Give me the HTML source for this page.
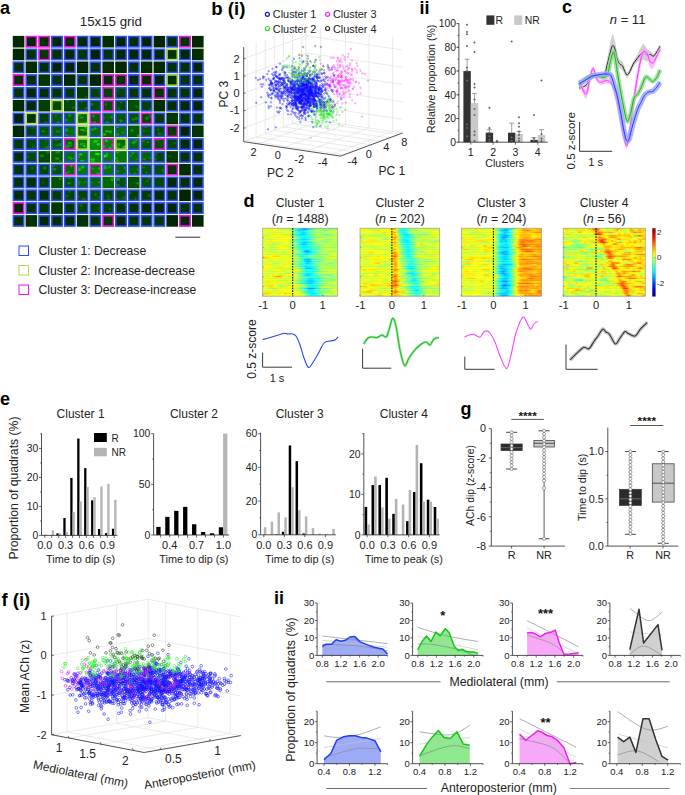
<!DOCTYPE html>
<html><head><meta charset="utf-8"><style>
html,body{margin:0;padding:0;background:#fff;}
svg{display:block;}
text{font-family:"Liberation Sans",sans-serif;}
</style></head><body>
<svg width="685" height="795" viewBox="0 0 685 795">
<defs><filter id="bl1" x="-10%" y="-10%" width="120%" height="120%"><feGaussianBlur stdDeviation="0.7"/></filter><clipPath id="gclip"><path d="M12.8 35.9h11.6v11.6h-11.6zM25.6 35.9h11.6v11.6h-11.6zM38.4 35.9h11.6v11.6h-11.6zM51.2 35.9h11.6v11.6h-11.6zM64.0 35.9h11.6v11.6h-11.6zM76.8 35.9h11.6v11.6h-11.6zM89.6 35.9h11.6v11.6h-11.6zM102.4 35.9h11.6v11.6h-11.6zM115.2 35.9h11.6v11.6h-11.6zM128.0 35.9h11.6v11.6h-11.6zM140.8 35.9h11.6v11.6h-11.6zM153.6 35.9h11.6v11.6h-11.6zM166.4 35.9h11.6v11.6h-11.6zM179.2 35.9h11.6v11.6h-11.6zM192.0 35.9h11.6v11.6h-11.6zM12.8 48.7h11.6v11.6h-11.6zM25.6 48.7h11.6v11.6h-11.6zM38.4 48.7h11.6v11.6h-11.6zM51.2 48.7h11.6v11.6h-11.6zM64.0 48.7h11.6v11.6h-11.6zM76.8 48.7h11.6v11.6h-11.6zM89.6 48.7h11.6v11.6h-11.6zM102.4 48.7h11.6v11.6h-11.6zM115.2 48.7h11.6v11.6h-11.6zM128.0 48.7h11.6v11.6h-11.6zM140.8 48.7h11.6v11.6h-11.6zM153.6 48.7h11.6v11.6h-11.6zM166.4 48.7h11.6v11.6h-11.6zM179.2 48.7h11.6v11.6h-11.6zM192.0 48.7h11.6v11.6h-11.6zM12.8 61.5h11.6v11.6h-11.6zM25.6 61.5h11.6v11.6h-11.6zM38.4 61.5h11.6v11.6h-11.6zM51.2 61.5h11.6v11.6h-11.6zM64.0 61.5h11.6v11.6h-11.6zM76.8 61.5h11.6v11.6h-11.6zM89.6 61.5h11.6v11.6h-11.6zM102.4 61.5h11.6v11.6h-11.6zM115.2 61.5h11.6v11.6h-11.6zM128.0 61.5h11.6v11.6h-11.6zM140.8 61.5h11.6v11.6h-11.6zM153.6 61.5h11.6v11.6h-11.6zM166.4 61.5h11.6v11.6h-11.6zM179.2 61.5h11.6v11.6h-11.6zM192.0 61.5h11.6v11.6h-11.6zM12.8 74.3h11.6v11.6h-11.6zM25.6 74.3h11.6v11.6h-11.6zM38.4 74.3h11.6v11.6h-11.6zM51.2 74.3h11.6v11.6h-11.6zM64.0 74.3h11.6v11.6h-11.6zM76.8 74.3h11.6v11.6h-11.6zM89.6 74.3h11.6v11.6h-11.6zM102.4 74.3h11.6v11.6h-11.6zM115.2 74.3h11.6v11.6h-11.6zM128.0 74.3h11.6v11.6h-11.6zM140.8 74.3h11.6v11.6h-11.6zM153.6 74.3h11.6v11.6h-11.6zM166.4 74.3h11.6v11.6h-11.6zM179.2 74.3h11.6v11.6h-11.6zM192.0 74.3h11.6v11.6h-11.6zM12.8 87.1h11.6v11.6h-11.6zM25.6 87.1h11.6v11.6h-11.6zM38.4 87.1h11.6v11.6h-11.6zM51.2 87.1h11.6v11.6h-11.6zM64.0 87.1h11.6v11.6h-11.6zM76.8 87.1h11.6v11.6h-11.6zM89.6 87.1h11.6v11.6h-11.6zM102.4 87.1h11.6v11.6h-11.6zM115.2 87.1h11.6v11.6h-11.6zM128.0 87.1h11.6v11.6h-11.6zM140.8 87.1h11.6v11.6h-11.6zM153.6 87.1h11.6v11.6h-11.6zM166.4 87.1h11.6v11.6h-11.6zM179.2 87.1h11.6v11.6h-11.6zM192.0 87.1h11.6v11.6h-11.6zM12.8 99.9h11.6v11.6h-11.6zM25.6 99.9h11.6v11.6h-11.6zM38.4 99.9h11.6v11.6h-11.6zM51.2 99.9h11.6v11.6h-11.6zM64.0 99.9h11.6v11.6h-11.6zM76.8 99.9h11.6v11.6h-11.6zM89.6 99.9h11.6v11.6h-11.6zM102.4 99.9h11.6v11.6h-11.6zM115.2 99.9h11.6v11.6h-11.6zM128.0 99.9h11.6v11.6h-11.6zM140.8 99.9h11.6v11.6h-11.6zM153.6 99.9h11.6v11.6h-11.6zM166.4 99.9h11.6v11.6h-11.6zM179.2 99.9h11.6v11.6h-11.6zM192.0 99.9h11.6v11.6h-11.6zM12.8 112.7h11.6v11.6h-11.6zM25.6 112.7h11.6v11.6h-11.6zM38.4 112.7h11.6v11.6h-11.6zM51.2 112.7h11.6v11.6h-11.6zM64.0 112.7h11.6v11.6h-11.6zM76.8 112.7h11.6v11.6h-11.6zM89.6 112.7h11.6v11.6h-11.6zM102.4 112.7h11.6v11.6h-11.6zM115.2 112.7h11.6v11.6h-11.6zM128.0 112.7h11.6v11.6h-11.6zM140.8 112.7h11.6v11.6h-11.6zM153.6 112.7h11.6v11.6h-11.6zM166.4 112.7h11.6v11.6h-11.6zM179.2 112.7h11.6v11.6h-11.6zM192.0 112.7h11.6v11.6h-11.6zM12.8 125.5h11.6v11.6h-11.6zM25.6 125.5h11.6v11.6h-11.6zM38.4 125.5h11.6v11.6h-11.6zM51.2 125.5h11.6v11.6h-11.6zM64.0 125.5h11.6v11.6h-11.6zM76.8 125.5h11.6v11.6h-11.6zM89.6 125.5h11.6v11.6h-11.6zM102.4 125.5h11.6v11.6h-11.6zM115.2 125.5h11.6v11.6h-11.6zM128.0 125.5h11.6v11.6h-11.6zM140.8 125.5h11.6v11.6h-11.6zM153.6 125.5h11.6v11.6h-11.6zM166.4 125.5h11.6v11.6h-11.6zM179.2 125.5h11.6v11.6h-11.6zM192.0 125.5h11.6v11.6h-11.6zM12.8 138.3h11.6v11.6h-11.6zM25.6 138.3h11.6v11.6h-11.6zM38.4 138.3h11.6v11.6h-11.6zM51.2 138.3h11.6v11.6h-11.6zM64.0 138.3h11.6v11.6h-11.6zM76.8 138.3h11.6v11.6h-11.6zM89.6 138.3h11.6v11.6h-11.6zM102.4 138.3h11.6v11.6h-11.6zM115.2 138.3h11.6v11.6h-11.6zM128.0 138.3h11.6v11.6h-11.6zM140.8 138.3h11.6v11.6h-11.6zM153.6 138.3h11.6v11.6h-11.6zM166.4 138.3h11.6v11.6h-11.6zM179.2 138.3h11.6v11.6h-11.6zM192.0 138.3h11.6v11.6h-11.6zM12.8 151.1h11.6v11.6h-11.6zM25.6 151.1h11.6v11.6h-11.6zM38.4 151.1h11.6v11.6h-11.6zM51.2 151.1h11.6v11.6h-11.6zM64.0 151.1h11.6v11.6h-11.6zM76.8 151.1h11.6v11.6h-11.6zM89.6 151.1h11.6v11.6h-11.6zM102.4 151.1h11.6v11.6h-11.6zM115.2 151.1h11.6v11.6h-11.6zM128.0 151.1h11.6v11.6h-11.6zM140.8 151.1h11.6v11.6h-11.6zM153.6 151.1h11.6v11.6h-11.6zM166.4 151.1h11.6v11.6h-11.6zM179.2 151.1h11.6v11.6h-11.6zM192.0 151.1h11.6v11.6h-11.6zM12.8 163.9h11.6v11.6h-11.6zM25.6 163.9h11.6v11.6h-11.6zM38.4 163.9h11.6v11.6h-11.6zM51.2 163.9h11.6v11.6h-11.6zM64.0 163.9h11.6v11.6h-11.6zM76.8 163.9h11.6v11.6h-11.6zM89.6 163.9h11.6v11.6h-11.6zM102.4 163.9h11.6v11.6h-11.6zM115.2 163.9h11.6v11.6h-11.6zM128.0 163.9h11.6v11.6h-11.6zM140.8 163.9h11.6v11.6h-11.6zM153.6 163.9h11.6v11.6h-11.6zM166.4 163.9h11.6v11.6h-11.6zM179.2 163.9h11.6v11.6h-11.6zM192.0 163.9h11.6v11.6h-11.6zM12.8 176.7h11.6v11.6h-11.6zM25.6 176.7h11.6v11.6h-11.6zM38.4 176.7h11.6v11.6h-11.6zM51.2 176.7h11.6v11.6h-11.6zM64.0 176.7h11.6v11.6h-11.6zM76.8 176.7h11.6v11.6h-11.6zM89.6 176.7h11.6v11.6h-11.6zM102.4 176.7h11.6v11.6h-11.6zM115.2 176.7h11.6v11.6h-11.6zM128.0 176.7h11.6v11.6h-11.6zM140.8 176.7h11.6v11.6h-11.6zM153.6 176.7h11.6v11.6h-11.6zM166.4 176.7h11.6v11.6h-11.6zM179.2 176.7h11.6v11.6h-11.6zM192.0 176.7h11.6v11.6h-11.6zM12.8 189.5h11.6v11.6h-11.6zM25.6 189.5h11.6v11.6h-11.6zM38.4 189.5h11.6v11.6h-11.6zM51.2 189.5h11.6v11.6h-11.6zM64.0 189.5h11.6v11.6h-11.6zM76.8 189.5h11.6v11.6h-11.6zM89.6 189.5h11.6v11.6h-11.6zM102.4 189.5h11.6v11.6h-11.6zM115.2 189.5h11.6v11.6h-11.6zM128.0 189.5h11.6v11.6h-11.6zM140.8 189.5h11.6v11.6h-11.6zM153.6 189.5h11.6v11.6h-11.6zM166.4 189.5h11.6v11.6h-11.6zM179.2 189.5h11.6v11.6h-11.6zM192.0 189.5h11.6v11.6h-11.6zM12.8 202.3h11.6v11.6h-11.6zM25.6 202.3h11.6v11.6h-11.6zM38.4 202.3h11.6v11.6h-11.6zM51.2 202.3h11.6v11.6h-11.6zM64.0 202.3h11.6v11.6h-11.6zM76.8 202.3h11.6v11.6h-11.6zM89.6 202.3h11.6v11.6h-11.6zM102.4 202.3h11.6v11.6h-11.6zM115.2 202.3h11.6v11.6h-11.6zM128.0 202.3h11.6v11.6h-11.6zM140.8 202.3h11.6v11.6h-11.6zM153.6 202.3h11.6v11.6h-11.6zM166.4 202.3h11.6v11.6h-11.6zM179.2 202.3h11.6v11.6h-11.6zM192.0 202.3h11.6v11.6h-11.6zM12.8 215.1h11.6v11.6h-11.6zM25.6 215.1h11.6v11.6h-11.6zM38.4 215.1h11.6v11.6h-11.6zM51.2 215.1h11.6v11.6h-11.6zM64.0 215.1h11.6v11.6h-11.6zM76.8 215.1h11.6v11.6h-11.6zM89.6 215.1h11.6v11.6h-11.6zM102.4 215.1h11.6v11.6h-11.6zM115.2 215.1h11.6v11.6h-11.6zM128.0 215.1h11.6v11.6h-11.6zM140.8 215.1h11.6v11.6h-11.6zM153.6 215.1h11.6v11.6h-11.6zM166.4 215.1h11.6v11.6h-11.6zM179.2 215.1h11.6v11.6h-11.6zM192.0 215.1h11.6v11.6h-11.6z"/></clipPath><marker id="mg0" markerWidth="3.4" markerHeight="3.4" refX="1.7" refY="1.7" markerUnits="userSpaceOnUse" overflow="visible"><circle cx="1.7" cy="1.7" r="0.75" fill="none" stroke="#28e828" stroke-width="0.45" opacity="0.9"/></marker><marker id="mb1" markerWidth="3.4" markerHeight="3.4" refX="1.7" refY="1.7" markerUnits="userSpaceOnUse" overflow="visible"><circle cx="1.7" cy="1.7" r="0.75" fill="none" stroke="#1010ff" stroke-width="0.45" opacity="1"/></marker><marker id="mg1" markerWidth="3.4" markerHeight="3.4" refX="1.7" refY="1.7" markerUnits="userSpaceOnUse" overflow="visible"><circle cx="1.7" cy="1.7" r="0.75" fill="none" stroke="#28e828" stroke-width="0.45" opacity="0.9"/></marker><marker id="mm1" markerWidth="3.4" markerHeight="3.4" refX="1.7" refY="1.7" markerUnits="userSpaceOnUse" overflow="visible"><circle cx="1.7" cy="1.7" r="0.75" fill="none" stroke="#ff24ff" stroke-width="0.45" opacity="0.85"/></marker><marker id="mk1" markerWidth="3.4" markerHeight="3.4" refX="1.7" refY="1.7" markerUnits="userSpaceOnUse" overflow="visible"><circle cx="1.7" cy="1.7" r="0.75" fill="none" stroke="#444" stroke-width="0.45" opacity="1"/></marker><linearGradient id="h1"><stop offset="0.0%" stop-color="#efff0f"/><stop offset="16.0%" stop-color="#fffe00"/><stop offset="28.0%" stop-color="#9dff61"/><stop offset="36.0%" stop-color="#c3ff3b"/><stop offset="50.0%" stop-color="#00e6ff"/><stop offset="56.0%" stop-color="#008bff"/><stop offset="62.0%" stop-color="#00e6ff"/><stop offset="72.0%" stop-color="#9cff62"/><stop offset="94.0%" stop-color="#71ff8d"/><stop offset="100.0%" stop-color="#86ff78"/></linearGradient><linearGradient id="h2"><stop offset="0.0%" stop-color="#c6ff38"/><stop offset="10.0%" stop-color="#fbff03"/><stop offset="12.0%" stop-color="#d4ff2a"/><stop offset="16.0%" stop-color="#fffa00"/><stop offset="32.0%" stop-color="#f6ff08"/><stop offset="38.0%" stop-color="#abff53"/><stop offset="44.0%" stop-color="#15ffe9"/><stop offset="46.0%" stop-color="#00fdff"/><stop offset="48.0%" stop-color="#00c8ff"/><stop offset="54.0%" stop-color="#00e7ff"/><stop offset="60.0%" stop-color="#20ffde"/><stop offset="70.0%" stop-color="#c1ff3d"/><stop offset="74.0%" stop-color="#9dff61"/><stop offset="76.0%" stop-color="#b4ff4a"/><stop offset="82.0%" stop-color="#76ff88"/><stop offset="100.0%" stop-color="#e0ff1e"/></linearGradient><linearGradient id="h3"><stop offset="0.0%" stop-color="#fffe00"/><stop offset="22.0%" stop-color="#b8ff46"/><stop offset="34.0%" stop-color="#f3ff0b"/><stop offset="42.0%" stop-color="#9dff61"/><stop offset="50.0%" stop-color="#00fbff"/><stop offset="54.0%" stop-color="#00d7ff"/><stop offset="58.0%" stop-color="#00fcff"/><stop offset="62.0%" stop-color="#4bffb3"/><stop offset="76.0%" stop-color="#aeff50"/><stop offset="80.0%" stop-color="#a2ff5c"/><stop offset="90.0%" stop-color="#d9ff25"/><stop offset="100.0%" stop-color="#b7ff47"/></linearGradient><linearGradient id="h4"><stop offset="0.0%" stop-color="#c4ff3a"/><stop offset="12.0%" stop-color="#c1ff3d"/><stop offset="22.0%" stop-color="#fff200"/><stop offset="32.0%" stop-color="#a7ff57"/><stop offset="36.0%" stop-color="#c4ff3a"/><stop offset="40.0%" stop-color="#44ffba"/><stop offset="48.0%" stop-color="#00f9ff"/><stop offset="54.0%" stop-color="#00c2ff"/><stop offset="60.0%" stop-color="#00fbff"/><stop offset="66.0%" stop-color="#67ff97"/><stop offset="74.0%" stop-color="#9eff60"/><stop offset="78.0%" stop-color="#a7ff57"/><stop offset="82.0%" stop-color="#6fff8f"/><stop offset="86.0%" stop-color="#6dff91"/><stop offset="90.0%" stop-color="#7fff7f"/><stop offset="92.0%" stop-color="#b5ff49"/><stop offset="94.0%" stop-color="#91ff6d"/><stop offset="100.0%" stop-color="#adff51"/></linearGradient><linearGradient id="h5"><stop offset="0.0%" stop-color="#ffe400"/><stop offset="6.0%" stop-color="#c0ff3e"/><stop offset="16.0%" stop-color="#fdff01"/><stop offset="36.0%" stop-color="#ffe500"/><stop offset="48.0%" stop-color="#08fff6"/><stop offset="50.0%" stop-color="#00f2ff"/><stop offset="56.0%" stop-color="#0dfff1"/><stop offset="60.0%" stop-color="#57ffa7"/><stop offset="72.0%" stop-color="#acff52"/><stop offset="86.0%" stop-color="#8fff6f"/><stop offset="100.0%" stop-color="#b6ff48"/></linearGradient><linearGradient id="h6"><stop offset="0.0%" stop-color="#ffee00"/><stop offset="14.0%" stop-color="#f9ff05"/><stop offset="20.0%" stop-color="#c2ff3c"/><stop offset="26.0%" stop-color="#fff800"/><stop offset="36.0%" stop-color="#fdff01"/><stop offset="48.0%" stop-color="#7cff82"/><stop offset="52.0%" stop-color="#0fffef"/><stop offset="56.0%" stop-color="#00f1ff"/><stop offset="60.0%" stop-color="#07fff7"/><stop offset="62.0%" stop-color="#36ffc8"/><stop offset="70.0%" stop-color="#73ff8b"/><stop offset="86.0%" stop-color="#a7ff57"/><stop offset="90.0%" stop-color="#deff20"/><stop offset="100.0%" stop-color="#c5ff39"/></linearGradient><linearGradient id="h7"><stop offset="0.0%" stop-color="#e6ff18"/><stop offset="8.0%" stop-color="#a7ff57"/><stop offset="18.0%" stop-color="#fff100"/><stop offset="30.0%" stop-color="#e4ff1a"/><stop offset="36.0%" stop-color="#fff300"/><stop offset="48.0%" stop-color="#00fffe"/><stop offset="56.0%" stop-color="#00d3ff"/><stop offset="60.0%" stop-color="#00f0ff"/><stop offset="68.0%" stop-color="#66ff98"/><stop offset="74.0%" stop-color="#e2ff1c"/><stop offset="78.0%" stop-color="#e0ff1e"/><stop offset="88.0%" stop-color="#85ff79"/><stop offset="92.0%" stop-color="#a7ff57"/><stop offset="100.0%" stop-color="#92ff6c"/></linearGradient><linearGradient id="h8"><stop offset="0.0%" stop-color="#cbff33"/><stop offset="2.0%" stop-color="#baff44"/><stop offset="8.0%" stop-color="#fffa00"/><stop offset="10.0%" stop-color="#ffe100"/><stop offset="14.0%" stop-color="#f9ff05"/><stop offset="34.0%" stop-color="#fdff01"/><stop offset="42.0%" stop-color="#57ffa7"/><stop offset="54.0%" stop-color="#00f8ff"/><stop offset="58.0%" stop-color="#00faff"/><stop offset="64.0%" stop-color="#7cff82"/><stop offset="70.0%" stop-color="#b5ff49"/><stop offset="84.0%" stop-color="#81ff7d"/><stop offset="96.0%" stop-color="#d4ff2a"/><stop offset="100.0%" stop-color="#a4ff5a"/></linearGradient><linearGradient id="h9"><stop offset="0.0%" stop-color="#ccff32"/><stop offset="8.0%" stop-color="#fff700"/><stop offset="24.0%" stop-color="#b7ff47"/><stop offset="30.0%" stop-color="#f9ff05"/><stop offset="34.0%" stop-color="#f8ff06"/><stop offset="36.0%" stop-color="#f0ff0e"/><stop offset="38.0%" stop-color="#a8ff56"/><stop offset="44.0%" stop-color="#7aff84"/><stop offset="52.0%" stop-color="#00f4ff"/><stop offset="56.0%" stop-color="#00c6ff"/><stop offset="64.0%" stop-color="#05fff9"/><stop offset="74.0%" stop-color="#b7ff47"/><stop offset="84.0%" stop-color="#8fff6f"/><stop offset="88.0%" stop-color="#b9ff45"/><stop offset="100.0%" stop-color="#9eff60"/></linearGradient><linearGradient id="h10"><stop offset="0.0%" stop-color="#dfff1f"/><stop offset="14.0%" stop-color="#9eff60"/><stop offset="26.0%" stop-color="#e0ff1e"/><stop offset="34.0%" stop-color="#ddff21"/><stop offset="38.0%" stop-color="#96ff68"/><stop offset="44.0%" stop-color="#8eff70"/><stop offset="50.0%" stop-color="#00eaff"/><stop offset="54.0%" stop-color="#00aeff"/><stop offset="60.0%" stop-color="#00f3ff"/><stop offset="62.0%" stop-color="#26ffd8"/><stop offset="68.0%" stop-color="#71ff8d"/><stop offset="74.0%" stop-color="#6cff92"/><stop offset="82.0%" stop-color="#b8ff46"/><stop offset="92.0%" stop-color="#a7ff57"/><stop offset="94.0%" stop-color="#c1ff3d"/><stop offset="96.0%" stop-color="#95ff69"/><stop offset="100.0%" stop-color="#a1ff5d"/></linearGradient><linearGradient id="h11"><stop offset="0.0%" stop-color="#f5ff09"/><stop offset="12.0%" stop-color="#bcff42"/><stop offset="22.0%" stop-color="#fffb00"/><stop offset="32.0%" stop-color="#c7ff37"/><stop offset="36.0%" stop-color="#d9ff25"/><stop offset="52.0%" stop-color="#00faff"/><stop offset="60.0%" stop-color="#00f6ff"/><stop offset="66.0%" stop-color="#4bffb3"/><stop offset="76.0%" stop-color="#71ff8d"/><stop offset="86.0%" stop-color="#d5ff29"/><stop offset="94.0%" stop-color="#99ff65"/><stop offset="100.0%" stop-color="#a5ff59"/></linearGradient><linearGradient id="h12"><stop offset="0.0%" stop-color="#e1ff1d"/><stop offset="8.0%" stop-color="#e2ff1c"/><stop offset="12.0%" stop-color="#a4ff5a"/><stop offset="26.0%" stop-color="#fdff01"/><stop offset="34.0%" stop-color="#fff500"/><stop offset="48.0%" stop-color="#33ffcb"/><stop offset="54.0%" stop-color="#00f2ff"/><stop offset="58.0%" stop-color="#00fdff"/><stop offset="70.0%" stop-color="#6cff92"/><stop offset="86.0%" stop-color="#a8ff56"/><stop offset="100.0%" stop-color="#98ff66"/></linearGradient><linearGradient id="h13"><stop offset="0.0%" stop-color="#b3ff4b"/><stop offset="4.0%" stop-color="#b3ff4b"/><stop offset="6.0%" stop-color="#e1ff1d"/><stop offset="16.0%" stop-color="#b5ff49"/><stop offset="30.0%" stop-color="#eaff14"/><stop offset="36.0%" stop-color="#d6ff28"/><stop offset="44.0%" stop-color="#89ff75"/><stop offset="52.0%" stop-color="#00feff"/><stop offset="68.0%" stop-color="#0dfff1"/><stop offset="80.0%" stop-color="#aaff54"/><stop offset="88.0%" stop-color="#e6ff18"/><stop offset="94.0%" stop-color="#e2ff1c"/><stop offset="100.0%" stop-color="#a2ff5c"/></linearGradient><linearGradient id="h14"><stop offset="0.0%" stop-color="#dfff1f"/><stop offset="14.0%" stop-color="#bbff43"/><stop offset="22.0%" stop-color="#f3ff0b"/><stop offset="30.0%" stop-color="#b6ff48"/><stop offset="36.0%" stop-color="#e6ff18"/><stop offset="50.0%" stop-color="#6fff8f"/><stop offset="54.0%" stop-color="#00f3ff"/><stop offset="56.0%" stop-color="#00b5ff"/><stop offset="60.0%" stop-color="#0084ff"/><stop offset="62.0%" stop-color="#00c5ff"/><stop offset="66.0%" stop-color="#21ffdd"/><stop offset="82.0%" stop-color="#c7ff37"/><stop offset="92.0%" stop-color="#88ff76"/><stop offset="100.0%" stop-color="#d0ff2e"/></linearGradient><linearGradient id="h15"><stop offset="0.0%" stop-color="#d8ff26"/><stop offset="6.0%" stop-color="#fbff03"/><stop offset="10.0%" stop-color="#cdff31"/><stop offset="12.0%" stop-color="#e4ff1a"/><stop offset="16.0%" stop-color="#bdff41"/><stop offset="20.0%" stop-color="#e9ff15"/><stop offset="28.0%" stop-color="#bdff41"/><stop offset="36.0%" stop-color="#f8ff06"/><stop offset="50.0%" stop-color="#66ff98"/><stop offset="54.0%" stop-color="#12ffec"/><stop offset="58.0%" stop-color="#00e7ff"/><stop offset="62.0%" stop-color="#00dbff"/><stop offset="66.0%" stop-color="#11ffed"/><stop offset="72.0%" stop-color="#6aff94"/><stop offset="86.0%" stop-color="#c0ff3e"/><stop offset="98.0%" stop-color="#ccff32"/><stop offset="100.0%" stop-color="#a9ff55"/></linearGradient><linearGradient id="h16"><stop offset="0.0%" stop-color="#d6ff28"/><stop offset="8.0%" stop-color="#b4ff4a"/><stop offset="12.0%" stop-color="#e6ff18"/><stop offset="30.0%" stop-color="#b2ff4c"/><stop offset="36.0%" stop-color="#e7ff17"/><stop offset="46.0%" stop-color="#35ffc9"/><stop offset="50.0%" stop-color="#39ffc5"/><stop offset="56.0%" stop-color="#00fcff"/><stop offset="58.0%" stop-color="#00e4ff"/><stop offset="62.0%" stop-color="#00fffe"/><stop offset="72.0%" stop-color="#7aff84"/><stop offset="84.0%" stop-color="#7dff81"/><stop offset="92.0%" stop-color="#bcff42"/><stop offset="94.0%" stop-color="#f3ff0b"/><stop offset="100.0%" stop-color="#caff34"/></linearGradient><linearGradient id="h17"><stop offset="0.0%" stop-color="#ffed00"/><stop offset="12.0%" stop-color="#faff04"/><stop offset="14.0%" stop-color="#ffd900"/><stop offset="22.0%" stop-color="#ffd700"/><stop offset="24.0%" stop-color="#edff11"/><stop offset="40.0%" stop-color="#dfff1f"/><stop offset="46.0%" stop-color="#97ff67"/><stop offset="52.0%" stop-color="#08fff6"/><stop offset="58.0%" stop-color="#38ffc6"/><stop offset="62.0%" stop-color="#8dff71"/><stop offset="72.0%" stop-color="#70ff8e"/><stop offset="84.0%" stop-color="#deff20"/><stop offset="92.0%" stop-color="#a8ff56"/><stop offset="100.0%" stop-color="#c8ff36"/></linearGradient><linearGradient id="h18"><stop offset="0.0%" stop-color="#ffb600"/><stop offset="12.0%" stop-color="#fffe00"/><stop offset="30.0%" stop-color="#e4ff1a"/><stop offset="36.0%" stop-color="#fffa00"/><stop offset="38.0%" stop-color="#cdff31"/><stop offset="50.0%" stop-color="#7eff80"/><stop offset="56.0%" stop-color="#23ffdb"/><stop offset="64.0%" stop-color="#41ffbd"/><stop offset="70.0%" stop-color="#a4ff5a"/><stop offset="80.0%" stop-color="#81ff7d"/><stop offset="92.0%" stop-color="#f2ff0c"/><stop offset="100.0%" stop-color="#efff0f"/></linearGradient><linearGradient id="h19"><stop offset="0.0%" stop-color="#faff04"/><stop offset="6.0%" stop-color="#f6ff08"/><stop offset="8.0%" stop-color="#caff34"/><stop offset="18.0%" stop-color="#fffa00"/><stop offset="20.0%" stop-color="#daff24"/><stop offset="28.0%" stop-color="#c2ff3c"/><stop offset="32.0%" stop-color="#f3ff0b"/><stop offset="40.0%" stop-color="#edff11"/><stop offset="48.0%" stop-color="#94ff6a"/><stop offset="52.0%" stop-color="#20ffde"/><stop offset="54.0%" stop-color="#13ffeb"/><stop offset="56.0%" stop-color="#00c6ff"/><stop offset="60.0%" stop-color="#00afff"/><stop offset="64.0%" stop-color="#00d4ff"/><stop offset="66.0%" stop-color="#11ffed"/><stop offset="90.0%" stop-color="#baff44"/><stop offset="94.0%" stop-color="#baff44"/><stop offset="100.0%" stop-color="#7fff7f"/></linearGradient><linearGradient id="h20"><stop offset="0.0%" stop-color="#c3ff3b"/><stop offset="2.0%" stop-color="#e1ff1d"/><stop offset="6.0%" stop-color="#b9ff45"/><stop offset="32.0%" stop-color="#e5ff19"/><stop offset="42.0%" stop-color="#7fff7f"/><stop offset="50.0%" stop-color="#60ff9e"/><stop offset="54.0%" stop-color="#2bffd3"/><stop offset="56.0%" stop-color="#00d5ff"/><stop offset="62.0%" stop-color="#00b3ff"/><stop offset="66.0%" stop-color="#1affe4"/><stop offset="72.0%" stop-color="#65ff99"/><stop offset="76.0%" stop-color="#4dffb1"/><stop offset="86.0%" stop-color="#e4ff1a"/><stop offset="98.0%" stop-color="#8dff71"/><stop offset="100.0%" stop-color="#a5ff59"/></linearGradient><linearGradient id="h21"><stop offset="0.0%" stop-color="#daff24"/><stop offset="10.0%" stop-color="#fcff02"/><stop offset="14.0%" stop-color="#beff40"/><stop offset="18.0%" stop-color="#b8ff46"/><stop offset="32.0%" stop-color="#fdff01"/><stop offset="36.0%" stop-color="#ffdd00"/><stop offset="38.0%" stop-color="#fffd00"/><stop offset="56.0%" stop-color="#01fffd"/><stop offset="58.0%" stop-color="#00ddff"/><stop offset="60.0%" stop-color="#00cbff"/><stop offset="64.0%" stop-color="#00f5ff"/><stop offset="70.0%" stop-color="#68ff96"/><stop offset="78.0%" stop-color="#abff53"/><stop offset="90.0%" stop-color="#7bff83"/><stop offset="100.0%" stop-color="#b9ff45"/></linearGradient><linearGradient id="h22"><stop offset="0.0%" stop-color="#ceff30"/><stop offset="10.0%" stop-color="#fff200"/><stop offset="14.0%" stop-color="#b9ff45"/><stop offset="16.0%" stop-color="#dfff1f"/><stop offset="20.0%" stop-color="#d1ff2d"/><stop offset="24.0%" stop-color="#fdff01"/><stop offset="28.0%" stop-color="#d0ff2e"/><stop offset="34.0%" stop-color="#fcff02"/><stop offset="56.0%" stop-color="#05fff9"/><stop offset="64.0%" stop-color="#00faff"/><stop offset="68.0%" stop-color="#56ffa8"/><stop offset="72.0%" stop-color="#58ffa6"/><stop offset="74.0%" stop-color="#8dff71"/><stop offset="86.0%" stop-color="#91ff6d"/><stop offset="100.0%" stop-color="#dcff22"/></linearGradient><linearGradient id="h23"><stop offset="0.0%" stop-color="#f9ff05"/><stop offset="10.0%" stop-color="#fffa00"/><stop offset="20.0%" stop-color="#bbff43"/><stop offset="34.0%" stop-color="#fbff03"/><stop offset="40.0%" stop-color="#d4ff2a"/><stop offset="58.0%" stop-color="#00e8ff"/><stop offset="72.0%" stop-color="#2bffd3"/><stop offset="78.0%" stop-color="#b5ff49"/><stop offset="82.0%" stop-color="#d3ff2b"/><stop offset="84.0%" stop-color="#b3ff4b"/><stop offset="100.0%" stop-color="#8cff72"/></linearGradient><linearGradient id="h24"><stop offset="0.0%" stop-color="#ffda00"/><stop offset="2.0%" stop-color="#fffd00"/><stop offset="16.0%" stop-color="#c1ff3d"/><stop offset="24.0%" stop-color="#ffe200"/><stop offset="30.0%" stop-color="#ffef00"/><stop offset="34.0%" stop-color="#c3ff3b"/><stop offset="46.0%" stop-color="#afff4f"/><stop offset="56.0%" stop-color="#00faff"/><stop offset="58.0%" stop-color="#00c5ff"/><stop offset="64.0%" stop-color="#00cbff"/><stop offset="66.0%" stop-color="#00eeff"/><stop offset="76.0%" stop-color="#9cff62"/><stop offset="90.0%" stop-color="#b4ff4a"/><stop offset="96.0%" stop-color="#96ff68"/><stop offset="100.0%" stop-color="#b2ff4c"/></linearGradient><linearGradient id="h25"><stop offset="0.0%" stop-color="#fff000"/><stop offset="8.0%" stop-color="#dcff22"/><stop offset="20.0%" stop-color="#f4ff0a"/><stop offset="30.0%" stop-color="#c0ff3e"/><stop offset="42.0%" stop-color="#ffef00"/><stop offset="48.0%" stop-color="#d0ff2e"/><stop offset="56.0%" stop-color="#39ffc5"/><stop offset="64.0%" stop-color="#0bfff3"/><stop offset="66.0%" stop-color="#32ffcc"/><stop offset="70.0%" stop-color="#2effd0"/><stop offset="80.0%" stop-color="#ceff30"/><stop offset="90.0%" stop-color="#c8ff36"/><stop offset="100.0%" stop-color="#fff600"/></linearGradient><linearGradient id="h26"><stop offset="0.0%" stop-color="#eaff14"/><stop offset="12.0%" stop-color="#bfff3f"/><stop offset="22.0%" stop-color="#ffec00"/><stop offset="30.0%" stop-color="#d1ff2d"/><stop offset="44.0%" stop-color="#deff20"/><stop offset="48.0%" stop-color="#cdff31"/><stop offset="58.0%" stop-color="#00f8ff"/><stop offset="68.0%" stop-color="#10ffee"/><stop offset="76.0%" stop-color="#7cff82"/><stop offset="82.0%" stop-color="#a6ff58"/><stop offset="86.0%" stop-color="#95ff69"/><stop offset="90.0%" stop-color="#c6ff38"/><stop offset="96.0%" stop-color="#cdff31"/><stop offset="100.0%" stop-color="#a7ff57"/></linearGradient><linearGradient id="h27"><stop offset="0.0%" stop-color="#eeff10"/><stop offset="12.0%" stop-color="#cfff2f"/><stop offset="28.0%" stop-color="#e1ff1d"/><stop offset="30.0%" stop-color="#b7ff47"/><stop offset="40.0%" stop-color="#d2ff2c"/><stop offset="44.0%" stop-color="#80ff7e"/><stop offset="52.0%" stop-color="#61ff9d"/><stop offset="58.0%" stop-color="#00eeff"/><stop offset="66.0%" stop-color="#05fff9"/><stop offset="70.0%" stop-color="#6cff92"/><stop offset="82.0%" stop-color="#d0ff2e"/><stop offset="100.0%" stop-color="#acff52"/></linearGradient><linearGradient id="h28"><stop offset="0.0%" stop-color="#efff0f"/><stop offset="8.0%" stop-color="#c9ff35"/><stop offset="12.0%" stop-color="#feff00"/><stop offset="14.0%" stop-color="#ffe300"/><stop offset="18.0%" stop-color="#fcff02"/><stop offset="24.0%" stop-color="#b1ff4d"/><stop offset="36.0%" stop-color="#fffc00"/><stop offset="44.0%" stop-color="#f0ff0e"/><stop offset="48.0%" stop-color="#b2ff4c"/><stop offset="54.0%" stop-color="#07fff7"/><stop offset="56.0%" stop-color="#00f5ff"/><stop offset="60.0%" stop-color="#00c4ff"/><stop offset="68.0%" stop-color="#03fffb"/><stop offset="76.0%" stop-color="#5effa0"/><stop offset="90.0%" stop-color="#66ff98"/><stop offset="96.0%" stop-color="#baff44"/><stop offset="100.0%" stop-color="#b2ff4c"/></linearGradient><linearGradient id="h29"><stop offset="0.0%" stop-color="#ecff12"/><stop offset="8.0%" stop-color="#c6ff38"/><stop offset="12.0%" stop-color="#eaff14"/><stop offset="18.0%" stop-color="#ffab00"/><stop offset="22.0%" stop-color="#ff9e00"/><stop offset="28.0%" stop-color="#fff700"/><stop offset="34.0%" stop-color="#dbff23"/><stop offset="44.0%" stop-color="#dfff1f"/><stop offset="58.0%" stop-color="#23ffdb"/><stop offset="72.0%" stop-color="#48ffb6"/><stop offset="84.0%" stop-color="#dfff1f"/><stop offset="94.0%" stop-color="#83ff7b"/><stop offset="100.0%" stop-color="#acff52"/></linearGradient><linearGradient id="h30"><stop offset="0.0%" stop-color="#d9ff25"/><stop offset="24.0%" stop-color="#ffed00"/><stop offset="30.0%" stop-color="#c6ff38"/><stop offset="42.0%" stop-color="#d6ff28"/><stop offset="50.0%" stop-color="#98ff66"/><stop offset="60.0%" stop-color="#04fffa"/><stop offset="62.0%" stop-color="#00e0ff"/><stop offset="74.0%" stop-color="#14ffea"/><stop offset="90.0%" stop-color="#9fff5f"/><stop offset="100.0%" stop-color="#9aff64"/></linearGradient><linearGradient id="h31"><stop offset="0.0%" stop-color="#c7ff37"/><stop offset="2.0%" stop-color="#f5ff09"/><stop offset="28.0%" stop-color="#baff44"/><stop offset="36.0%" stop-color="#ccff32"/><stop offset="44.0%" stop-color="#9bff63"/><stop offset="58.0%" stop-color="#00f6ff"/><stop offset="62.0%" stop-color="#00cdff"/><stop offset="70.0%" stop-color="#06fff8"/><stop offset="84.0%" stop-color="#9cff62"/><stop offset="94.0%" stop-color="#6cff92"/><stop offset="100.0%" stop-color="#c5ff39"/></linearGradient><linearGradient id="h32"><stop offset="0.0%" stop-color="#dcff22"/><stop offset="8.0%" stop-color="#ffda00"/><stop offset="14.0%" stop-color="#faff04"/><stop offset="18.0%" stop-color="#cbff33"/><stop offset="36.0%" stop-color="#f3ff0b"/><stop offset="48.0%" stop-color="#a0ff5e"/><stop offset="60.0%" stop-color="#00e4ff"/><stop offset="66.0%" stop-color="#00c1ff"/><stop offset="72.0%" stop-color="#15ffe9"/><stop offset="82.0%" stop-color="#b8ff46"/><stop offset="84.0%" stop-color="#8dff71"/><stop offset="86.0%" stop-color="#a8ff56"/><stop offset="90.0%" stop-color="#89ff75"/><stop offset="96.0%" stop-color="#ccff32"/><stop offset="100.0%" stop-color="#b9ff45"/></linearGradient><linearGradient id="h33"><stop offset="0.0%" stop-color="#dcff22"/><stop offset="26.0%" stop-color="#fff000"/><stop offset="42.0%" stop-color="#acff52"/><stop offset="52.0%" stop-color="#1dffe1"/><stop offset="62.0%" stop-color="#00c7ff"/><stop offset="68.0%" stop-color="#00f3ff"/><stop offset="74.0%" stop-color="#5dffa1"/><stop offset="82.0%" stop-color="#7cff82"/><stop offset="86.0%" stop-color="#caff34"/><stop offset="100.0%" stop-color="#e6ff18"/></linearGradient><linearGradient id="h34"><stop offset="0.0%" stop-color="#d9ff25"/><stop offset="14.0%" stop-color="#ffde00"/><stop offset="16.0%" stop-color="#fbff03"/><stop offset="22.0%" stop-color="#b4ff4a"/><stop offset="34.0%" stop-color="#aeff50"/><stop offset="38.0%" stop-color="#efff0f"/><stop offset="46.0%" stop-color="#f8ff06"/><stop offset="54.0%" stop-color="#a9ff55"/><stop offset="64.0%" stop-color="#00f8ff"/><stop offset="72.0%" stop-color="#0efff0"/><stop offset="76.0%" stop-color="#62ff9c"/><stop offset="98.0%" stop-color="#aaff54"/><stop offset="100.0%" stop-color="#ceff30"/></linearGradient><linearGradient id="h35"><stop offset="0.0%" stop-color="#f9ff05"/><stop offset="12.0%" stop-color="#ffdc00"/><stop offset="16.0%" stop-color="#feff00"/><stop offset="26.0%" stop-color="#b3ff4b"/><stop offset="34.0%" stop-color="#f9ff05"/><stop offset="42.0%" stop-color="#f9ff05"/><stop offset="54.0%" stop-color="#83ff7b"/><stop offset="56.0%" stop-color="#8eff70"/><stop offset="62.0%" stop-color="#26ffd8"/><stop offset="66.0%" stop-color="#0dfff1"/><stop offset="72.0%" stop-color="#32ffcc"/><stop offset="82.0%" stop-color="#fcff02"/><stop offset="88.0%" stop-color="#fff800"/><stop offset="90.0%" stop-color="#cbff33"/><stop offset="96.0%" stop-color="#9eff60"/><stop offset="100.0%" stop-color="#dfff1f"/></linearGradient><linearGradient id="h36"><stop offset="0.0%" stop-color="#e7ff17"/><stop offset="6.0%" stop-color="#e6ff18"/><stop offset="12.0%" stop-color="#86ff78"/><stop offset="16.0%" stop-color="#84ff7a"/><stop offset="22.0%" stop-color="#d5ff29"/><stop offset="32.0%" stop-color="#fff700"/><stop offset="46.0%" stop-color="#abff53"/><stop offset="50.0%" stop-color="#47ffb7"/><stop offset="52.0%" stop-color="#49ffb5"/><stop offset="56.0%" stop-color="#00f9ff"/><stop offset="62.0%" stop-color="#00a2ff"/><stop offset="66.0%" stop-color="#009eff"/><stop offset="74.0%" stop-color="#12ffec"/><stop offset="80.0%" stop-color="#6bff93"/><stop offset="84.0%" stop-color="#58ffa6"/><stop offset="92.0%" stop-color="#b4ff4a"/><stop offset="96.0%" stop-color="#cbff33"/><stop offset="100.0%" stop-color="#afff4f"/></linearGradient><linearGradient id="h37"><stop offset="0.0%" stop-color="#fffe00"/><stop offset="6.0%" stop-color="#c2ff3c"/><stop offset="10.0%" stop-color="#feff00"/><stop offset="16.0%" stop-color="#ffe600"/><stop offset="30.0%" stop-color="#feff00"/><stop offset="32.0%" stop-color="#dbff23"/><stop offset="36.0%" stop-color="#fffb00"/><stop offset="44.0%" stop-color="#bfff3f"/><stop offset="48.0%" stop-color="#d5ff29"/><stop offset="54.0%" stop-color="#adff51"/><stop offset="60.0%" stop-color="#0afff4"/><stop offset="62.0%" stop-color="#00eaff"/><stop offset="68.0%" stop-color="#07fff7"/><stop offset="72.0%" stop-color="#54ffaa"/><stop offset="80.0%" stop-color="#a6ff58"/><stop offset="88.0%" stop-color="#a2ff5c"/><stop offset="94.0%" stop-color="#e1ff1d"/><stop offset="100.0%" stop-color="#b7ff47"/></linearGradient><linearGradient id="h38"><stop offset="0.0%" stop-color="#d0ff2e"/><stop offset="8.0%" stop-color="#ffe800"/><stop offset="24.0%" stop-color="#d2ff2c"/><stop offset="44.0%" stop-color="#fffb00"/><stop offset="48.0%" stop-color="#e1ff1d"/><stop offset="58.0%" stop-color="#0efff0"/><stop offset="62.0%" stop-color="#00eeff"/><stop offset="70.0%" stop-color="#05fff9"/><stop offset="74.0%" stop-color="#55ffa9"/><stop offset="90.0%" stop-color="#9bff63"/><stop offset="96.0%" stop-color="#daff24"/><stop offset="100.0%" stop-color="#bfff3f"/></linearGradient><linearGradient id="h39"><stop offset="0.0%" stop-color="#ffd400"/><stop offset="2.0%" stop-color="#ffc000"/><stop offset="16.0%" stop-color="#e4ff1a"/><stop offset="24.0%" stop-color="#ffdf00"/><stop offset="26.0%" stop-color="#fffb00"/><stop offset="30.0%" stop-color="#ffc300"/><stop offset="34.0%" stop-color="#ffe900"/><stop offset="36.0%" stop-color="#ffcd00"/><stop offset="38.0%" stop-color="#f9ff05"/><stop offset="50.0%" stop-color="#e9ff15"/><stop offset="52.0%" stop-color="#a6ff58"/><stop offset="56.0%" stop-color="#8cff72"/><stop offset="60.0%" stop-color="#26ffd8"/><stop offset="64.0%" stop-color="#00fcff"/><stop offset="66.0%" stop-color="#00d0ff"/><stop offset="72.0%" stop-color="#02fffc"/><stop offset="82.0%" stop-color="#daff24"/><stop offset="88.0%" stop-color="#d4ff2a"/><stop offset="92.0%" stop-color="#a7ff57"/><stop offset="98.0%" stop-color="#f5ff09"/><stop offset="100.0%" stop-color="#e9ff15"/></linearGradient><linearGradient id="h40"><stop offset="0.0%" stop-color="#f2ff0c"/><stop offset="6.0%" stop-color="#ccff32"/><stop offset="12.0%" stop-color="#efff0f"/><stop offset="20.0%" stop-color="#d0ff2e"/><stop offset="24.0%" stop-color="#efff0f"/><stop offset="50.0%" stop-color="#f3ff0b"/><stop offset="54.0%" stop-color="#caff34"/><stop offset="64.0%" stop-color="#00faff"/><stop offset="72.0%" stop-color="#01fffd"/><stop offset="90.0%" stop-color="#bdff41"/><stop offset="94.0%" stop-color="#98ff66"/><stop offset="100.0%" stop-color="#a7ff57"/></linearGradient><linearGradient id="h41"><stop offset="0.0%" stop-color="#daff24"/><stop offset="2.0%" stop-color="#f9ff05"/><stop offset="12.0%" stop-color="#beff40"/><stop offset="26.0%" stop-color="#d2ff2c"/><stop offset="30.0%" stop-color="#feff00"/><stop offset="32.0%" stop-color="#d5ff29"/><stop offset="38.0%" stop-color="#f1ff0d"/><stop offset="40.0%" stop-color="#fff300"/><stop offset="42.0%" stop-color="#ffa500"/><stop offset="44.0%" stop-color="#ffa800"/><stop offset="46.0%" stop-color="#fff500"/><stop offset="50.0%" stop-color="#52ffac"/><stop offset="52.0%" stop-color="#1cffe2"/><stop offset="54.0%" stop-color="#17ffe7"/><stop offset="58.0%" stop-color="#36ffc8"/><stop offset="60.0%" stop-color="#79ff85"/><stop offset="76.0%" stop-color="#e4ff1a"/><stop offset="92.0%" stop-color="#b2ff4c"/><stop offset="100.0%" stop-color="#daff24"/></linearGradient><linearGradient id="h42"><stop offset="0.0%" stop-color="#fffc00"/><stop offset="10.0%" stop-color="#fbff03"/><stop offset="12.0%" stop-color="#daff24"/><stop offset="24.0%" stop-color="#ffe100"/><stop offset="28.0%" stop-color="#fdff01"/><stop offset="40.0%" stop-color="#ffe300"/><stop offset="44.0%" stop-color="#fffa00"/><stop offset="50.0%" stop-color="#08fff6"/><stop offset="52.0%" stop-color="#00fdff"/><stop offset="56.0%" stop-color="#00f6ff"/><stop offset="64.0%" stop-color="#97ff67"/><stop offset="74.0%" stop-color="#9eff60"/><stop offset="80.0%" stop-color="#d9ff25"/><stop offset="86.0%" stop-color="#e3ff1b"/><stop offset="100.0%" stop-color="#c9ff35"/></linearGradient><linearGradient id="h43"><stop offset="0.0%" stop-color="#ecff12"/><stop offset="16.0%" stop-color="#fdff01"/><stop offset="20.0%" stop-color="#c7ff37"/><stop offset="26.0%" stop-color="#fff800"/><stop offset="30.0%" stop-color="#ffdc00"/><stop offset="36.0%" stop-color="#f0ff0e"/><stop offset="40.0%" stop-color="#fff100"/><stop offset="42.0%" stop-color="#ffa400"/><stop offset="44.0%" stop-color="#ffa900"/><stop offset="46.0%" stop-color="#ffdf00"/><stop offset="52.0%" stop-color="#18ffe6"/><stop offset="54.0%" stop-color="#05fff9"/><stop offset="58.0%" stop-color="#20ffde"/><stop offset="62.0%" stop-color="#96ff68"/><stop offset="68.0%" stop-color="#d8ff26"/><stop offset="82.0%" stop-color="#acff52"/><stop offset="92.0%" stop-color="#fff500"/><stop offset="100.0%" stop-color="#fff600"/></linearGradient><linearGradient id="h44"><stop offset="0.0%" stop-color="#f0ff0e"/><stop offset="2.0%" stop-color="#c3ff3b"/><stop offset="4.0%" stop-color="#d6ff28"/><stop offset="6.0%" stop-color="#b8ff46"/><stop offset="12.0%" stop-color="#ebff13"/><stop offset="30.0%" stop-color="#aaff54"/><stop offset="36.0%" stop-color="#c6ff38"/><stop offset="38.0%" stop-color="#f5ff09"/><stop offset="44.0%" stop-color="#ffc100"/><stop offset="46.0%" stop-color="#e8ff16"/><stop offset="50.0%" stop-color="#47ffb7"/><stop offset="54.0%" stop-color="#00f7ff"/><stop offset="58.0%" stop-color="#00dfff"/><stop offset="60.0%" stop-color="#00fbff"/><stop offset="70.0%" stop-color="#abff53"/><stop offset="84.0%" stop-color="#75ff89"/><stop offset="88.0%" stop-color="#c1ff3d"/><stop offset="94.0%" stop-color="#eeff10"/><stop offset="100.0%" stop-color="#b3ff4b"/></linearGradient><linearGradient id="h45"><stop offset="0.0%" stop-color="#71ff8d"/><stop offset="8.0%" stop-color="#d1ff2d"/><stop offset="14.0%" stop-color="#98ff66"/><stop offset="16.0%" stop-color="#b0ff4e"/><stop offset="22.0%" stop-color="#90ff6e"/><stop offset="40.0%" stop-color="#fffb00"/><stop offset="44.0%" stop-color="#ffc300"/><stop offset="46.0%" stop-color="#ffe700"/><stop offset="54.0%" stop-color="#1effe0"/><stop offset="60.0%" stop-color="#00e7ff"/><stop offset="70.0%" stop-color="#a0ff5e"/><stop offset="78.0%" stop-color="#88ff76"/><stop offset="88.0%" stop-color="#dcff22"/><stop offset="98.0%" stop-color="#daff24"/><stop offset="100.0%" stop-color="#f7ff07"/></linearGradient><linearGradient id="h46"><stop offset="0.0%" stop-color="#d6ff28"/><stop offset="2.0%" stop-color="#baff44"/><stop offset="8.0%" stop-color="#fff600"/><stop offset="30.0%" stop-color="#c6ff38"/><stop offset="36.0%" stop-color="#deff20"/><stop offset="38.0%" stop-color="#fff300"/><stop offset="44.0%" stop-color="#ff8a00"/><stop offset="46.0%" stop-color="#ffbc00"/><stop offset="48.0%" stop-color="#d8ff26"/><stop offset="54.0%" stop-color="#0dfff1"/><stop offset="58.0%" stop-color="#00f5ff"/><stop offset="80.0%" stop-color="#f6ff08"/><stop offset="92.0%" stop-color="#a5ff59"/><stop offset="100.0%" stop-color="#f2ff0c"/></linearGradient><linearGradient id="h47"><stop offset="0.0%" stop-color="#ceff30"/><stop offset="22.0%" stop-color="#eaff14"/><stop offset="30.0%" stop-color="#aeff50"/><stop offset="32.0%" stop-color="#7fff7f"/><stop offset="40.0%" stop-color="#f3ff0b"/><stop offset="42.0%" stop-color="#ffb100"/><stop offset="44.0%" stop-color="#ffa600"/><stop offset="46.0%" stop-color="#ffeb00"/><stop offset="54.0%" stop-color="#07fff7"/><stop offset="56.0%" stop-color="#00f9ff"/><stop offset="60.0%" stop-color="#0cfff2"/><stop offset="74.0%" stop-color="#d8ff26"/><stop offset="84.0%" stop-color="#afff4f"/><stop offset="96.0%" stop-color="#e5ff19"/><stop offset="100.0%" stop-color="#b9ff45"/></linearGradient><linearGradient id="h48"><stop offset="0.0%" stop-color="#fcff02"/><stop offset="2.0%" stop-color="#ffde00"/><stop offset="4.0%" stop-color="#faff04"/><stop offset="16.0%" stop-color="#ffe100"/><stop offset="26.0%" stop-color="#d5ff29"/><stop offset="38.0%" stop-color="#faff04"/><stop offset="44.0%" stop-color="#ffd100"/><stop offset="46.0%" stop-color="#e4ff1a"/><stop offset="52.0%" stop-color="#1cffe2"/><stop offset="56.0%" stop-color="#00f4ff"/><stop offset="60.0%" stop-color="#00d9ff"/><stop offset="62.0%" stop-color="#19ffe5"/><stop offset="70.0%" stop-color="#d1ff2d"/><stop offset="80.0%" stop-color="#9dff61"/><stop offset="86.0%" stop-color="#c7ff37"/><stop offset="98.0%" stop-color="#84ff7a"/><stop offset="100.0%" stop-color="#97ff67"/></linearGradient><linearGradient id="h49"><stop offset="0.0%" stop-color="#acff52"/><stop offset="14.0%" stop-color="#fff200"/><stop offset="20.0%" stop-color="#fff900"/><stop offset="24.0%" stop-color="#d4ff2a"/><stop offset="26.0%" stop-color="#fffa00"/><stop offset="30.0%" stop-color="#d8ff26"/><stop offset="32.0%" stop-color="#fff000"/><stop offset="36.0%" stop-color="#f5ff09"/><stop offset="44.0%" stop-color="#ff9a00"/><stop offset="46.0%" stop-color="#ffc300"/><stop offset="48.0%" stop-color="#d0ff2e"/><stop offset="54.0%" stop-color="#16ffe8"/><stop offset="62.0%" stop-color="#00fbff"/><stop offset="72.0%" stop-color="#bcff42"/><stop offset="76.0%" stop-color="#d0ff2e"/><stop offset="90.0%" stop-color="#a4ff5a"/><stop offset="100.0%" stop-color="#fff200"/></linearGradient><linearGradient id="h50"><stop offset="0.0%" stop-color="#dfff1f"/><stop offset="4.0%" stop-color="#fff700"/><stop offset="14.0%" stop-color="#dcff22"/><stop offset="26.0%" stop-color="#fff800"/><stop offset="38.0%" stop-color="#adff51"/><stop offset="42.0%" stop-color="#ffe900"/><stop offset="44.0%" stop-color="#ffc200"/><stop offset="46.0%" stop-color="#ffed00"/><stop offset="50.0%" stop-color="#88ff76"/><stop offset="56.0%" stop-color="#1affe4"/><stop offset="60.0%" stop-color="#01fffd"/><stop offset="66.0%" stop-color="#45ffb9"/><stop offset="74.0%" stop-color="#fff800"/><stop offset="76.0%" stop-color="#ffce00"/><stop offset="84.0%" stop-color="#fbff03"/><stop offset="100.0%" stop-color="#d7ff27"/></linearGradient><linearGradient id="h51"><stop offset="0.0%" stop-color="#b6ff48"/><stop offset="40.0%" stop-color="#e1ff1d"/><stop offset="44.0%" stop-color="#ffb700"/><stop offset="46.0%" stop-color="#ffdb00"/><stop offset="48.0%" stop-color="#d3ff2b"/><stop offset="54.0%" stop-color="#3effc0"/><stop offset="60.0%" stop-color="#06fff8"/><stop offset="62.0%" stop-color="#09fff5"/><stop offset="64.0%" stop-color="#4dffb1"/><stop offset="72.0%" stop-color="#e3ff1b"/><stop offset="82.0%" stop-color="#8eff70"/><stop offset="86.0%" stop-color="#c0ff3e"/><stop offset="100.0%" stop-color="#fbff03"/></linearGradient><linearGradient id="h52"><stop offset="0.0%" stop-color="#d3ff2b"/><stop offset="20.0%" stop-color="#caff34"/><stop offset="30.0%" stop-color="#f0ff0e"/><stop offset="38.0%" stop-color="#b5ff49"/><stop offset="46.0%" stop-color="#fff500"/><stop offset="56.0%" stop-color="#29ffd5"/><stop offset="60.0%" stop-color="#00faff"/><stop offset="68.0%" stop-color="#88ff76"/><stop offset="72.0%" stop-color="#9fff5f"/><stop offset="84.0%" stop-color="#c1ff3d"/><stop offset="92.0%" stop-color="#92ff6c"/><stop offset="96.0%" stop-color="#d0ff2e"/><stop offset="100.0%" stop-color="#dbff23"/></linearGradient><linearGradient id="h53"><stop offset="0.0%" stop-color="#c9ff35"/><stop offset="12.0%" stop-color="#fbff03"/><stop offset="28.0%" stop-color="#a4ff5a"/><stop offset="30.0%" stop-color="#c3ff3b"/><stop offset="32.0%" stop-color="#95ff69"/><stop offset="40.0%" stop-color="#f7ff07"/><stop offset="42.0%" stop-color="#ffaa00"/><stop offset="44.0%" stop-color="#ff9200"/><stop offset="46.0%" stop-color="#ffdc00"/><stop offset="48.0%" stop-color="#d1ff2d"/><stop offset="54.0%" stop-color="#2effd0"/><stop offset="60.0%" stop-color="#00f5ff"/><stop offset="78.0%" stop-color="#dcff22"/><stop offset="100.0%" stop-color="#b6ff48"/></linearGradient><linearGradient id="h54"><stop offset="0.0%" stop-color="#e0ff1e"/><stop offset="26.0%" stop-color="#fffa00"/><stop offset="32.0%" stop-color="#f5ff09"/><stop offset="38.0%" stop-color="#b9ff45"/><stop offset="40.0%" stop-color="#ebff13"/><stop offset="44.0%" stop-color="#ffcd00"/><stop offset="48.0%" stop-color="#fff900"/><stop offset="60.0%" stop-color="#00ecff"/><stop offset="64.0%" stop-color="#0efff0"/><stop offset="68.0%" stop-color="#68ff96"/><stop offset="74.0%" stop-color="#b4ff4a"/><stop offset="78.0%" stop-color="#a0ff5e"/><stop offset="86.0%" stop-color="#fffe00"/><stop offset="100.0%" stop-color="#e1ff1d"/></linearGradient><linearGradient id="h55"><stop offset="0.0%" stop-color="#ebff13"/><stop offset="6.0%" stop-color="#d5ff29"/><stop offset="8.0%" stop-color="#fffe00"/><stop offset="14.0%" stop-color="#ffdc00"/><stop offset="18.0%" stop-color="#f3ff0b"/><stop offset="38.0%" stop-color="#fffb00"/><stop offset="42.0%" stop-color="#ff8b00"/><stop offset="44.0%" stop-color="#ff8800"/><stop offset="48.0%" stop-color="#ffec00"/><stop offset="52.0%" stop-color="#76ff88"/><stop offset="58.0%" stop-color="#1fffdf"/><stop offset="62.0%" stop-color="#30ffce"/><stop offset="72.0%" stop-color="#bdff41"/><stop offset="82.0%" stop-color="#aeff50"/><stop offset="92.0%" stop-color="#faff04"/><stop offset="100.0%" stop-color="#aeff50"/></linearGradient><linearGradient id="h56"><stop offset="0.0%" stop-color="#b0ff4e"/><stop offset="6.0%" stop-color="#cdff31"/><stop offset="14.0%" stop-color="#aeff50"/><stop offset="24.0%" stop-color="#eaff14"/><stop offset="28.0%" stop-color="#b2ff4c"/><stop offset="34.0%" stop-color="#a9ff55"/><stop offset="38.0%" stop-color="#e2ff1c"/><stop offset="44.0%" stop-color="#ff9500"/><stop offset="46.0%" stop-color="#ffa600"/><stop offset="48.0%" stop-color="#ffec00"/><stop offset="56.0%" stop-color="#29ffd5"/><stop offset="60.0%" stop-color="#00f0ff"/><stop offset="64.0%" stop-color="#12ffec"/><stop offset="74.0%" stop-color="#c4ff3a"/><stop offset="86.0%" stop-color="#c7ff37"/><stop offset="90.0%" stop-color="#92ff6c"/><stop offset="100.0%" stop-color="#ffea00"/></linearGradient><linearGradient id="h57"><stop offset="0.0%" stop-color="#f8ff06"/><stop offset="6.0%" stop-color="#ffdc00"/><stop offset="20.0%" stop-color="#fff500"/><stop offset="24.0%" stop-color="#ffd600"/><stop offset="26.0%" stop-color="#fff900"/><stop offset="34.0%" stop-color="#d3ff2b"/><stop offset="38.0%" stop-color="#fffc00"/><stop offset="42.0%" stop-color="#ff7100"/><stop offset="44.0%" stop-color="#ff5300"/><stop offset="48.0%" stop-color="#ffd300"/><stop offset="50.0%" stop-color="#d0ff2e"/><stop offset="60.0%" stop-color="#0cfff2"/><stop offset="62.0%" stop-color="#07fff7"/><stop offset="66.0%" stop-color="#44ffba"/><stop offset="70.0%" stop-color="#d0ff2e"/><stop offset="74.0%" stop-color="#feff00"/><stop offset="80.0%" stop-color="#d2ff2c"/><stop offset="90.0%" stop-color="#ffe100"/><stop offset="98.0%" stop-color="#feff00"/><stop offset="100.0%" stop-color="#ffdd00"/></linearGradient><linearGradient id="h58"><stop offset="0.0%" stop-color="#fff100"/><stop offset="6.0%" stop-color="#b5ff49"/><stop offset="10.0%" stop-color="#e3ff1b"/><stop offset="12.0%" stop-color="#d2ff2c"/><stop offset="14.0%" stop-color="#fffa00"/><stop offset="18.0%" stop-color="#e3ff1b"/><stop offset="28.0%" stop-color="#feff00"/><stop offset="32.0%" stop-color="#d9ff25"/><stop offset="38.0%" stop-color="#f2ff0c"/><stop offset="40.0%" stop-color="#ffe800"/><stop offset="42.0%" stop-color="#ffa000"/><stop offset="44.0%" stop-color="#ff9500"/><stop offset="46.0%" stop-color="#ffca00"/><stop offset="48.0%" stop-color="#f5ff09"/><stop offset="54.0%" stop-color="#73ff8b"/><stop offset="62.0%" stop-color="#16ffe8"/><stop offset="66.0%" stop-color="#5bffa3"/><stop offset="74.0%" stop-color="#a6ff58"/><stop offset="76.0%" stop-color="#98ff66"/><stop offset="82.0%" stop-color="#e4ff1a"/><stop offset="100.0%" stop-color="#e5ff19"/></linearGradient><linearGradient id="h59"><stop offset="0.0%" stop-color="#d4ff2a"/><stop offset="10.0%" stop-color="#b2ff4c"/><stop offset="14.0%" stop-color="#f1ff0d"/><stop offset="18.0%" stop-color="#ffe700"/><stop offset="34.0%" stop-color="#f8ff06"/><stop offset="42.0%" stop-color="#ff9b00"/><stop offset="46.0%" stop-color="#ffc200"/><stop offset="48.0%" stop-color="#deff20"/><stop offset="52.0%" stop-color="#7fff7f"/><stop offset="66.0%" stop-color="#37ffc7"/><stop offset="76.0%" stop-color="#b7ff47"/><stop offset="86.0%" stop-color="#95ff69"/><stop offset="100.0%" stop-color="#dbff23"/></linearGradient><linearGradient id="h60"><stop offset="0.0%" stop-color="#cfff2f"/><stop offset="18.0%" stop-color="#fff500"/><stop offset="32.0%" stop-color="#acff52"/><stop offset="40.0%" stop-color="#fff000"/><stop offset="42.0%" stop-color="#ffa900"/><stop offset="44.0%" stop-color="#ff9a00"/><stop offset="46.0%" stop-color="#ffc700"/><stop offset="48.0%" stop-color="#e7ff17"/><stop offset="60.0%" stop-color="#27ffd7"/><stop offset="64.0%" stop-color="#17ffe7"/><stop offset="68.0%" stop-color="#36ffc8"/><stop offset="70.0%" stop-color="#7aff84"/><stop offset="76.0%" stop-color="#9fff5f"/><stop offset="90.0%" stop-color="#8bff73"/><stop offset="100.0%" stop-color="#c3ff3b"/></linearGradient><linearGradient id="h61"><stop offset="0.0%" stop-color="#feff00"/><stop offset="12.0%" stop-color="#e0ff1e"/><stop offset="14.0%" stop-color="#fcff02"/><stop offset="22.0%" stop-color="#ffcd00"/><stop offset="28.0%" stop-color="#fffa00"/><stop offset="34.0%" stop-color="#bdff41"/><stop offset="40.0%" stop-color="#f0ff0e"/><stop offset="44.0%" stop-color="#ffa000"/><stop offset="46.0%" stop-color="#ffb300"/><stop offset="48.0%" stop-color="#f8ff06"/><stop offset="52.0%" stop-color="#a1ff5d"/><stop offset="54.0%" stop-color="#a5ff59"/><stop offset="64.0%" stop-color="#08fff6"/><stop offset="76.0%" stop-color="#b9ff45"/><stop offset="100.0%" stop-color="#e4ff1a"/></linearGradient><linearGradient id="h62"><stop offset="0.0%" stop-color="#d7ff27"/><stop offset="20.0%" stop-color="#efff0f"/><stop offset="24.0%" stop-color="#c3ff3b"/><stop offset="28.0%" stop-color="#e2ff1c"/><stop offset="36.0%" stop-color="#a2ff5c"/><stop offset="40.0%" stop-color="#eeff10"/><stop offset="44.0%" stop-color="#ff8f00"/><stop offset="46.0%" stop-color="#ffa300"/><stop offset="48.0%" stop-color="#fffb00"/><stop offset="64.0%" stop-color="#18ffe6"/><stop offset="66.0%" stop-color="#49ffb5"/><stop offset="70.0%" stop-color="#35ffc9"/><stop offset="74.0%" stop-color="#7eff80"/><stop offset="76.0%" stop-color="#62ff9c"/><stop offset="78.0%" stop-color="#96ff68"/><stop offset="86.0%" stop-color="#e6ff18"/><stop offset="88.0%" stop-color="#c9ff35"/><stop offset="92.0%" stop-color="#f2ff0c"/><stop offset="100.0%" stop-color="#c6ff38"/></linearGradient><linearGradient id="h63"><stop offset="0.0%" stop-color="#b5ff49"/><stop offset="18.0%" stop-color="#ccff32"/><stop offset="26.0%" stop-color="#9cff62"/><stop offset="38.0%" stop-color="#c8ff36"/><stop offset="40.0%" stop-color="#f9ff05"/><stop offset="44.0%" stop-color="#ffb000"/><stop offset="46.0%" stop-color="#ffb500"/><stop offset="48.0%" stop-color="#fffb00"/><stop offset="60.0%" stop-color="#09fff5"/><stop offset="64.0%" stop-color="#00f4ff"/><stop offset="68.0%" stop-color="#2cffd2"/><stop offset="72.0%" stop-color="#8aff74"/><stop offset="78.0%" stop-color="#adff51"/><stop offset="84.0%" stop-color="#92ff6c"/><stop offset="94.0%" stop-color="#c7ff37"/><stop offset="100.0%" stop-color="#acff52"/></linearGradient><linearGradient id="h64"><stop offset="0.0%" stop-color="#f2ff0c"/><stop offset="18.0%" stop-color="#ecff12"/><stop offset="24.0%" stop-color="#c2ff3c"/><stop offset="40.0%" stop-color="#fdff01"/><stop offset="44.0%" stop-color="#ffb200"/><stop offset="48.0%" stop-color="#fffd00"/><stop offset="56.0%" stop-color="#7aff84"/><stop offset="60.0%" stop-color="#0efff0"/><stop offset="64.0%" stop-color="#00e4ff"/><stop offset="68.0%" stop-color="#00faff"/><stop offset="72.0%" stop-color="#7cff82"/><stop offset="78.0%" stop-color="#beff40"/><stop offset="82.0%" stop-color="#b1ff4d"/><stop offset="92.0%" stop-color="#faff04"/><stop offset="100.0%" stop-color="#ffe200"/></linearGradient><linearGradient id="h65"><stop offset="0.0%" stop-color="#fff500"/><stop offset="6.0%" stop-color="#ffd600"/><stop offset="10.0%" stop-color="#fffd00"/><stop offset="12.0%" stop-color="#ffe000"/><stop offset="26.0%" stop-color="#fffb00"/><stop offset="34.0%" stop-color="#b5ff49"/><stop offset="38.0%" stop-color="#c1ff3d"/><stop offset="40.0%" stop-color="#fff500"/><stop offset="44.0%" stop-color="#ff8100"/><stop offset="48.0%" stop-color="#ffa900"/><stop offset="50.0%" stop-color="#fffa00"/><stop offset="52.0%" stop-color="#d2ff2c"/><stop offset="54.0%" stop-color="#daff24"/><stop offset="58.0%" stop-color="#6dff91"/><stop offset="64.0%" stop-color="#2fffcf"/><stop offset="82.0%" stop-color="#e5ff19"/><stop offset="84.0%" stop-color="#ccff32"/><stop offset="86.0%" stop-color="#f8ff06"/><stop offset="94.0%" stop-color="#fff500"/><stop offset="100.0%" stop-color="#beff40"/></linearGradient><linearGradient id="h66"><stop offset="0.0%" stop-color="#deff20"/><stop offset="2.0%" stop-color="#fbff03"/><stop offset="8.0%" stop-color="#deff20"/><stop offset="14.0%" stop-color="#faff04"/><stop offset="22.0%" stop-color="#c3ff3b"/><stop offset="28.0%" stop-color="#ffe900"/><stop offset="38.0%" stop-color="#fffc00"/><stop offset="44.0%" stop-color="#ffa700"/><stop offset="46.0%" stop-color="#ffd300"/><stop offset="48.0%" stop-color="#d7ff27"/><stop offset="52.0%" stop-color="#b1ff4d"/><stop offset="56.0%" stop-color="#cbff33"/><stop offset="66.0%" stop-color="#12ffec"/><stop offset="72.0%" stop-color="#8fff6f"/><stop offset="80.0%" stop-color="#e6ff18"/><stop offset="100.0%" stop-color="#feff00"/></linearGradient><linearGradient id="h67"><stop offset="0.0%" stop-color="#f2ff0c"/><stop offset="6.0%" stop-color="#c4ff3a"/><stop offset="14.0%" stop-color="#dbff23"/><stop offset="20.0%" stop-color="#b1ff4d"/><stop offset="30.0%" stop-color="#f0ff0e"/><stop offset="34.0%" stop-color="#c7ff37"/><stop offset="40.0%" stop-color="#e1ff1d"/><stop offset="44.0%" stop-color="#ffbd00"/><stop offset="48.0%" stop-color="#f9ff05"/><stop offset="56.0%" stop-color="#80ff7e"/><stop offset="60.0%" stop-color="#00f4ff"/><stop offset="66.0%" stop-color="#00d8ff"/><stop offset="68.0%" stop-color="#00feff"/><stop offset="80.0%" stop-color="#cbff33"/><stop offset="100.0%" stop-color="#aaff54"/></linearGradient><linearGradient id="h68"><stop offset="0.0%" stop-color="#c7ff37"/><stop offset="2.0%" stop-color="#adff51"/><stop offset="6.0%" stop-color="#eaff14"/><stop offset="16.0%" stop-color="#faff04"/><stop offset="20.0%" stop-color="#ffd900"/><stop offset="24.0%" stop-color="#fffb00"/><stop offset="34.0%" stop-color="#bbff43"/><stop offset="40.0%" stop-color="#feff00"/><stop offset="44.0%" stop-color="#ff7600"/><stop offset="48.0%" stop-color="#ffdd00"/><stop offset="50.0%" stop-color="#ebff13"/><stop offset="68.0%" stop-color="#00f0ff"/><stop offset="82.0%" stop-color="#fffa00"/><stop offset="88.0%" stop-color="#fff900"/><stop offset="92.0%" stop-color="#a7ff57"/><stop offset="100.0%" stop-color="#faff04"/></linearGradient><linearGradient id="h69"><stop offset="0.0%" stop-color="#d6ff28"/><stop offset="4.0%" stop-color="#a7ff57"/><stop offset="10.0%" stop-color="#bbff43"/><stop offset="12.0%" stop-color="#e2ff1c"/><stop offset="22.0%" stop-color="#c2ff3c"/><stop offset="28.0%" stop-color="#f1ff0d"/><stop offset="38.0%" stop-color="#ddff21"/><stop offset="40.0%" stop-color="#ffef00"/><stop offset="42.0%" stop-color="#ff8700"/><stop offset="44.0%" stop-color="#ff5b00"/><stop offset="48.0%" stop-color="#ffd300"/><stop offset="52.0%" stop-color="#a0ff5e"/><stop offset="56.0%" stop-color="#99ff65"/><stop offset="66.0%" stop-color="#2affd4"/><stop offset="72.0%" stop-color="#8fff6f"/><stop offset="80.0%" stop-color="#ccff32"/><stop offset="92.0%" stop-color="#c5ff39"/><stop offset="100.0%" stop-color="#eeff10"/></linearGradient><linearGradient id="h70"><stop offset="0.0%" stop-color="#fff500"/><stop offset="10.0%" stop-color="#d9ff25"/><stop offset="16.0%" stop-color="#fffb00"/><stop offset="26.0%" stop-color="#e4ff1a"/><stop offset="32.0%" stop-color="#ffef00"/><stop offset="38.0%" stop-color="#d9ff25"/><stop offset="40.0%" stop-color="#fdff01"/><stop offset="44.0%" stop-color="#ff9300"/><stop offset="46.0%" stop-color="#ffad00"/><stop offset="48.0%" stop-color="#fffc00"/><stop offset="54.0%" stop-color="#89ff75"/><stop offset="64.0%" stop-color="#50ffae"/><stop offset="68.0%" stop-color="#09fff5"/><stop offset="92.0%" stop-color="#f9ff05"/><stop offset="100.0%" stop-color="#f3ff0b"/></linearGradient><linearGradient id="h71"><stop offset="0.0%" stop-color="#b3ff4b"/><stop offset="8.0%" stop-color="#fffe00"/><stop offset="20.0%" stop-color="#ddff21"/><stop offset="24.0%" stop-color="#faff04"/><stop offset="34.0%" stop-color="#b6ff48"/><stop offset="40.0%" stop-color="#edff11"/><stop offset="44.0%" stop-color="#ff7100"/><stop offset="52.0%" stop-color="#fff700"/><stop offset="56.0%" stop-color="#cdff31"/><stop offset="64.0%" stop-color="#16ffe8"/><stop offset="68.0%" stop-color="#00e4ff"/><stop offset="72.0%" stop-color="#26ffd8"/><stop offset="78.0%" stop-color="#eaff14"/><stop offset="82.0%" stop-color="#fff700"/><stop offset="92.0%" stop-color="#a5ff59"/><stop offset="100.0%" stop-color="#d4ff2a"/></linearGradient><linearGradient id="h72"><stop offset="0.0%" stop-color="#e9ff15"/><stop offset="14.0%" stop-color="#bcff42"/><stop offset="24.0%" stop-color="#fff500"/><stop offset="32.0%" stop-color="#b6ff48"/><stop offset="38.0%" stop-color="#fff900"/><stop offset="42.0%" stop-color="#ff5e00"/><stop offset="44.0%" stop-color="#ff4700"/><stop offset="50.0%" stop-color="#ffe300"/><stop offset="52.0%" stop-color="#d8ff26"/><stop offset="60.0%" stop-color="#45ffb9"/><stop offset="68.0%" stop-color="#1effe0"/><stop offset="72.0%" stop-color="#50ffae"/><stop offset="80.0%" stop-color="#6cff92"/><stop offset="88.0%" stop-color="#fbff03"/><stop offset="100.0%" stop-color="#d2ff2c"/></linearGradient><linearGradient id="h73"><stop offset="0.0%" stop-color="#feff00"/><stop offset="6.0%" stop-color="#ffd800"/><stop offset="22.0%" stop-color="#eeff10"/><stop offset="28.0%" stop-color="#edff11"/><stop offset="32.0%" stop-color="#ffd600"/><stop offset="36.0%" stop-color="#ffed00"/><stop offset="40.0%" stop-color="#ffd800"/><stop offset="44.0%" stop-color="#ff7900"/><stop offset="48.0%" stop-color="#feff00"/><stop offset="52.0%" stop-color="#b4ff4a"/><stop offset="62.0%" stop-color="#6fff8f"/><stop offset="68.0%" stop-color="#12ffec"/><stop offset="72.0%" stop-color="#2bffd3"/><stop offset="82.0%" stop-color="#e1ff1d"/><stop offset="88.0%" stop-color="#d4ff2a"/><stop offset="94.0%" stop-color="#fffd00"/><stop offset="98.0%" stop-color="#ffdb00"/><stop offset="100.0%" stop-color="#fdff01"/></linearGradient><linearGradient id="h74"><stop offset="0.0%" stop-color="#f7ff07"/><stop offset="4.0%" stop-color="#cbff33"/><stop offset="12.0%" stop-color="#fff500"/><stop offset="14.0%" stop-color="#ffc700"/><stop offset="32.0%" stop-color="#ffec00"/><stop offset="40.0%" stop-color="#ffa900"/><stop offset="42.0%" stop-color="#ff6400"/><stop offset="44.0%" stop-color="#ff5800"/><stop offset="46.0%" stop-color="#ff6000"/><stop offset="50.0%" stop-color="#ffd700"/><stop offset="56.0%" stop-color="#f5ff09"/><stop offset="70.0%" stop-color="#39ffc5"/><stop offset="72.0%" stop-color="#3effc0"/><stop offset="80.0%" stop-color="#dcff22"/><stop offset="100.0%" stop-color="#ffda00"/></linearGradient><linearGradient id="h75"><stop offset="0.0%" stop-color="#e2ff1c"/><stop offset="6.0%" stop-color="#ffc900"/><stop offset="12.0%" stop-color="#f1ff0d"/><stop offset="18.0%" stop-color="#ffed00"/><stop offset="28.0%" stop-color="#cfff2f"/><stop offset="30.0%" stop-color="#f3ff0b"/><stop offset="38.0%" stop-color="#ffe100"/><stop offset="42.0%" stop-color="#ff8b00"/><stop offset="44.0%" stop-color="#ff8500"/><stop offset="48.0%" stop-color="#ffcd00"/><stop offset="50.0%" stop-color="#d3ff2b"/><stop offset="60.0%" stop-color="#50ffae"/><stop offset="62.0%" stop-color="#5bffa3"/><stop offset="66.0%" stop-color="#00fffe"/><stop offset="72.0%" stop-color="#12ffec"/><stop offset="80.0%" stop-color="#9bff63"/><stop offset="86.0%" stop-color="#8fff6f"/><stop offset="96.0%" stop-color="#cfff2f"/><stop offset="100.0%" stop-color="#a8ff56"/></linearGradient><linearGradient id="h76"><stop offset="0.0%" stop-color="#e6ff18"/><stop offset="12.0%" stop-color="#fff700"/><stop offset="34.0%" stop-color="#aaff54"/><stop offset="38.0%" stop-color="#c3ff3b"/><stop offset="40.0%" stop-color="#fff900"/><stop offset="44.0%" stop-color="#ffbc00"/><stop offset="48.0%" stop-color="#faff04"/><stop offset="52.0%" stop-color="#b1ff4d"/><stop offset="56.0%" stop-color="#c2ff3c"/><stop offset="60.0%" stop-color="#5cffa2"/><stop offset="68.0%" stop-color="#05fff9"/><stop offset="86.0%" stop-color="#acff52"/><stop offset="88.0%" stop-color="#b2ff4c"/><stop offset="90.0%" stop-color="#81ff7d"/><stop offset="94.0%" stop-color="#acff52"/><stop offset="98.0%" stop-color="#90ff6e"/><stop offset="100.0%" stop-color="#caff34"/></linearGradient><linearGradient id="h77"><stop offset="0.0%" stop-color="#fff100"/><stop offset="8.0%" stop-color="#edff11"/><stop offset="14.0%" stop-color="#ffd200"/><stop offset="24.0%" stop-color="#d0ff2e"/><stop offset="30.0%" stop-color="#f6ff08"/><stop offset="36.0%" stop-color="#c7ff37"/><stop offset="40.0%" stop-color="#f0ff0e"/><stop offset="44.0%" stop-color="#ff9900"/><stop offset="46.0%" stop-color="#ffaf00"/><stop offset="48.0%" stop-color="#fff600"/><stop offset="62.0%" stop-color="#70ff8e"/><stop offset="68.0%" stop-color="#00fcff"/><stop offset="70.0%" stop-color="#00d1ff"/><stop offset="76.0%" stop-color="#1bffe3"/><stop offset="82.0%" stop-color="#daff24"/><stop offset="94.0%" stop-color="#caff34"/><stop offset="100.0%" stop-color="#94ff6a"/></linearGradient><linearGradient id="h78"><stop offset="0.0%" stop-color="#ffe900"/><stop offset="12.0%" stop-color="#ffb600"/><stop offset="18.0%" stop-color="#f4ff0a"/><stop offset="26.0%" stop-color="#b5ff49"/><stop offset="32.0%" stop-color="#deff20"/><stop offset="34.0%" stop-color="#caff34"/><stop offset="38.0%" stop-color="#fffd00"/><stop offset="44.0%" stop-color="#ff5500"/><stop offset="50.0%" stop-color="#ffd900"/><stop offset="54.0%" stop-color="#ffcc00"/><stop offset="58.0%" stop-color="#fff400"/><stop offset="60.0%" stop-color="#f2ff0c"/><stop offset="66.0%" stop-color="#4fffaf"/><stop offset="70.0%" stop-color="#22ffdc"/><stop offset="86.0%" stop-color="#ccff32"/><stop offset="94.0%" stop-color="#97ff67"/><stop offset="98.0%" stop-color="#e7ff17"/><stop offset="100.0%" stop-color="#cfff2f"/></linearGradient><linearGradient id="h79"><stop offset="0.0%" stop-color="#b3ff4b"/><stop offset="22.0%" stop-color="#eeff10"/><stop offset="24.0%" stop-color="#ffe200"/><stop offset="28.0%" stop-color="#d2ff2c"/><stop offset="30.0%" stop-color="#f8ff06"/><stop offset="34.0%" stop-color="#f2ff0c"/><stop offset="40.0%" stop-color="#ffe400"/><stop offset="44.0%" stop-color="#ffa700"/><stop offset="46.0%" stop-color="#ffcd00"/><stop offset="48.0%" stop-color="#e6ff18"/><stop offset="70.0%" stop-color="#1effe0"/><stop offset="72.0%" stop-color="#1effe0"/><stop offset="84.0%" stop-color="#c7ff37"/><stop offset="88.0%" stop-color="#d9ff25"/><stop offset="98.0%" stop-color="#97ff67"/><stop offset="100.0%" stop-color="#abff53"/></linearGradient><linearGradient id="h80"><stop offset="0.0%" stop-color="#fff600"/><stop offset="6.0%" stop-color="#fffb00"/><stop offset="14.0%" stop-color="#bdff41"/><stop offset="18.0%" stop-color="#ffef00"/><stop offset="24.0%" stop-color="#ffc100"/><stop offset="32.0%" stop-color="#faff04"/><stop offset="38.0%" stop-color="#ccff32"/><stop offset="40.0%" stop-color="#f3ff0b"/><stop offset="44.0%" stop-color="#ffad00"/><stop offset="56.0%" stop-color="#fffc00"/><stop offset="68.0%" stop-color="#33ffcb"/><stop offset="72.0%" stop-color="#1fffdf"/><stop offset="84.0%" stop-color="#d3ff2b"/><stop offset="90.0%" stop-color="#acff52"/><stop offset="96.0%" stop-color="#e7ff17"/><stop offset="100.0%" stop-color="#d7ff27"/></linearGradient><linearGradient id="h81"><stop offset="0.0%" stop-color="#fcff02"/><stop offset="4.0%" stop-color="#d9ff25"/><stop offset="6.0%" stop-color="#f1ff0d"/><stop offset="8.0%" stop-color="#c4ff3a"/><stop offset="16.0%" stop-color="#f9ff05"/><stop offset="18.0%" stop-color="#ffcf00"/><stop offset="20.0%" stop-color="#fffa00"/><stop offset="28.0%" stop-color="#ccff32"/><stop offset="38.0%" stop-color="#fbff03"/><stop offset="44.0%" stop-color="#abff53"/><stop offset="48.0%" stop-color="#1affe4"/><stop offset="50.0%" stop-color="#00f6ff"/><stop offset="56.0%" stop-color="#00b5ff"/><stop offset="60.0%" stop-color="#00edff"/><stop offset="64.0%" stop-color="#28ffd6"/><stop offset="72.0%" stop-color="#fff500"/><stop offset="78.0%" stop-color="#ffa500"/><stop offset="88.0%" stop-color="#ffde00"/><stop offset="100.0%" stop-color="#ffad00"/></linearGradient><linearGradient id="h82"><stop offset="0.0%" stop-color="#ffdc00"/><stop offset="10.0%" stop-color="#dcff22"/><stop offset="36.0%" stop-color="#f3ff0b"/><stop offset="40.0%" stop-color="#daff24"/><stop offset="48.0%" stop-color="#05fff9"/><stop offset="50.0%" stop-color="#00ccff"/><stop offset="56.0%" stop-color="#00abff"/><stop offset="58.0%" stop-color="#00d9ff"/><stop offset="60.0%" stop-color="#1cffe2"/><stop offset="66.0%" stop-color="#e3ff1b"/><stop offset="68.0%" stop-color="#fffb00"/><stop offset="82.0%" stop-color="#ff7e00"/><stop offset="92.0%" stop-color="#ffcc00"/><stop offset="100.0%" stop-color="#ff9a00"/></linearGradient><linearGradient id="h83"><stop offset="0.0%" stop-color="#daff24"/><stop offset="8.0%" stop-color="#fdff01"/><stop offset="14.0%" stop-color="#a4ff5a"/><stop offset="22.0%" stop-color="#ffe700"/><stop offset="32.0%" stop-color="#dbff23"/><stop offset="42.0%" stop-color="#ffe300"/><stop offset="44.0%" stop-color="#e2ff1c"/><stop offset="50.0%" stop-color="#1cffe2"/><stop offset="52.0%" stop-color="#00e8ff"/><stop offset="54.0%" stop-color="#00cdff"/><stop offset="60.0%" stop-color="#00faff"/><stop offset="66.0%" stop-color="#b4ff4a"/><stop offset="70.0%" stop-color="#fff500"/><stop offset="78.0%" stop-color="#ffb500"/><stop offset="84.0%" stop-color="#ffdf00"/><stop offset="94.0%" stop-color="#ff8b00"/><stop offset="100.0%" stop-color="#ff9400"/></linearGradient><linearGradient id="h84"><stop offset="0.0%" stop-color="#bcff42"/><stop offset="26.0%" stop-color="#a2ff5c"/><stop offset="34.0%" stop-color="#fff700"/><stop offset="40.0%" stop-color="#d4ff2a"/><stop offset="48.0%" stop-color="#07fff7"/><stop offset="54.0%" stop-color="#00b8ff"/><stop offset="58.0%" stop-color="#00f5ff"/><stop offset="62.0%" stop-color="#2bffd3"/><stop offset="64.0%" stop-color="#87ff77"/><stop offset="70.0%" stop-color="#ffe000"/><stop offset="78.0%" stop-color="#ffb700"/><stop offset="88.0%" stop-color="#ffdc00"/><stop offset="100.0%" stop-color="#ffcc00"/></linearGradient><linearGradient id="h85"><stop offset="0.0%" stop-color="#eaff14"/><stop offset="22.0%" stop-color="#fffd00"/><stop offset="30.0%" stop-color="#a9ff55"/><stop offset="40.0%" stop-color="#fdff01"/><stop offset="44.0%" stop-color="#a9ff55"/><stop offset="48.0%" stop-color="#1bffe3"/><stop offset="50.0%" stop-color="#00d3ff"/><stop offset="52.0%" stop-color="#00d5ff"/><stop offset="56.0%" stop-color="#008dff"/><stop offset="58.0%" stop-color="#00a1ff"/><stop offset="60.0%" stop-color="#00efff"/><stop offset="62.0%" stop-color="#24ffda"/><stop offset="68.0%" stop-color="#faff04"/><stop offset="72.0%" stop-color="#ffe700"/><stop offset="74.0%" stop-color="#ffb400"/><stop offset="86.0%" stop-color="#ffc100"/><stop offset="90.0%" stop-color="#fff200"/><stop offset="100.0%" stop-color="#ffcd00"/></linearGradient><linearGradient id="h86"><stop offset="0.0%" stop-color="#d0ff2e"/><stop offset="8.0%" stop-color="#f9ff05"/><stop offset="16.0%" stop-color="#c6ff38"/><stop offset="28.0%" stop-color="#c1ff3d"/><stop offset="32.0%" stop-color="#f4ff0a"/><stop offset="38.0%" stop-color="#fffc00"/><stop offset="42.0%" stop-color="#ccff32"/><stop offset="46.0%" stop-color="#29ffd5"/><stop offset="48.0%" stop-color="#00faff"/><stop offset="52.0%" stop-color="#0096ff"/><stop offset="54.0%" stop-color="#0091ff"/><stop offset="58.0%" stop-color="#00deff"/><stop offset="60.0%" stop-color="#08fff6"/><stop offset="70.0%" stop-color="#fff000"/><stop offset="82.0%" stop-color="#ff9a00"/><stop offset="90.0%" stop-color="#ffe900"/><stop offset="100.0%" stop-color="#ffd600"/></linearGradient><linearGradient id="h87"><stop offset="0.0%" stop-color="#ffeb00"/><stop offset="16.0%" stop-color="#ffea00"/><stop offset="22.0%" stop-color="#d2ff2c"/><stop offset="28.0%" stop-color="#fff400"/><stop offset="38.0%" stop-color="#ffde00"/><stop offset="40.0%" stop-color="#fff700"/><stop offset="42.0%" stop-color="#edff11"/><stop offset="48.0%" stop-color="#09fff5"/><stop offset="50.0%" stop-color="#00d4ff"/><stop offset="54.0%" stop-color="#00c6ff"/><stop offset="58.0%" stop-color="#00f9ff"/><stop offset="70.0%" stop-color="#ffe700"/><stop offset="72.0%" stop-color="#ffb500"/><stop offset="78.0%" stop-color="#ff8400"/><stop offset="88.0%" stop-color="#ffb300"/><stop offset="98.0%" stop-color="#ff8000"/><stop offset="100.0%" stop-color="#ff9400"/></linearGradient><linearGradient id="h88"><stop offset="0.0%" stop-color="#ffee00"/><stop offset="12.0%" stop-color="#dfff1f"/><stop offset="14.0%" stop-color="#fff800"/><stop offset="24.0%" stop-color="#ffd500"/><stop offset="40.0%" stop-color="#f9ff05"/><stop offset="46.0%" stop-color="#5bffa3"/><stop offset="48.0%" stop-color="#00feff"/><stop offset="50.0%" stop-color="#00c1ff"/><stop offset="52.0%" stop-color="#00dcff"/><stop offset="56.0%" stop-color="#00bdff"/><stop offset="58.0%" stop-color="#00f9ff"/><stop offset="64.0%" stop-color="#68ff96"/><stop offset="66.0%" stop-color="#c3ff3b"/><stop offset="70.0%" stop-color="#fff100"/><stop offset="74.0%" stop-color="#ff8200"/><stop offset="76.0%" stop-color="#ff7a00"/><stop offset="88.0%" stop-color="#ff6f00"/><stop offset="96.0%" stop-color="#ffaf00"/><stop offset="100.0%" stop-color="#ff9400"/></linearGradient><linearGradient id="h89"><stop offset="0.0%" stop-color="#ffe700"/><stop offset="16.0%" stop-color="#d0ff2e"/><stop offset="20.0%" stop-color="#e4ff1a"/><stop offset="28.0%" stop-color="#9aff64"/><stop offset="34.0%" stop-color="#aeff50"/><stop offset="38.0%" stop-color="#eeff10"/><stop offset="44.0%" stop-color="#8dff71"/><stop offset="48.0%" stop-color="#01fffd"/><stop offset="50.0%" stop-color="#00ebff"/><stop offset="58.0%" stop-color="#0fffef"/><stop offset="62.0%" stop-color="#4bffb3"/><stop offset="68.0%" stop-color="#e6ff18"/><stop offset="70.0%" stop-color="#ffd000"/><stop offset="76.0%" stop-color="#ff6f00"/><stop offset="80.0%" stop-color="#ffa600"/><stop offset="92.0%" stop-color="#ffa900"/><stop offset="94.0%" stop-color="#ffca00"/><stop offset="100.0%" stop-color="#ff9700"/></linearGradient><linearGradient id="h90"><stop offset="0.0%" stop-color="#c9ff35"/><stop offset="2.0%" stop-color="#f2ff0c"/><stop offset="22.0%" stop-color="#ccff32"/><stop offset="26.0%" stop-color="#edff11"/><stop offset="38.0%" stop-color="#caff34"/><stop offset="40.0%" stop-color="#e4ff1a"/><stop offset="52.0%" stop-color="#00f6ff"/><stop offset="56.0%" stop-color="#00dbff"/><stop offset="58.0%" stop-color="#00f6ff"/><stop offset="68.0%" stop-color="#f8ff06"/><stop offset="74.0%" stop-color="#ff7900"/><stop offset="78.0%" stop-color="#ff5300"/><stop offset="86.0%" stop-color="#ff9800"/><stop offset="100.0%" stop-color="#ff9000"/></linearGradient><linearGradient id="h91"><stop offset="0.0%" stop-color="#c2ff3c"/><stop offset="4.0%" stop-color="#a6ff58"/><stop offset="6.0%" stop-color="#dcff22"/><stop offset="10.0%" stop-color="#feff00"/><stop offset="12.0%" stop-color="#ffdf00"/><stop offset="24.0%" stop-color="#f9ff05"/><stop offset="30.0%" stop-color="#ffc100"/><stop offset="34.0%" stop-color="#fffe00"/><stop offset="36.0%" stop-color="#fff000"/><stop offset="42.0%" stop-color="#b7ff47"/><stop offset="46.0%" stop-color="#43ffbb"/><stop offset="50.0%" stop-color="#00e1ff"/><stop offset="58.0%" stop-color="#00efff"/><stop offset="70.0%" stop-color="#fff200"/><stop offset="78.0%" stop-color="#ff4900"/><stop offset="88.0%" stop-color="#ffbd00"/><stop offset="94.0%" stop-color="#ff8000"/><stop offset="100.0%" stop-color="#ff8b00"/></linearGradient><linearGradient id="h92"><stop offset="0.0%" stop-color="#b3ff4b"/><stop offset="4.0%" stop-color="#d3ff2b"/><stop offset="20.0%" stop-color="#c0ff3e"/><stop offset="28.0%" stop-color="#f8ff06"/><stop offset="30.0%" stop-color="#ffd400"/><stop offset="32.0%" stop-color="#ffee00"/><stop offset="38.0%" stop-color="#ffcf00"/><stop offset="42.0%" stop-color="#c3ff3b"/><stop offset="48.0%" stop-color="#00ecff"/><stop offset="54.0%" stop-color="#00b9ff"/><stop offset="58.0%" stop-color="#00c5ff"/><stop offset="60.0%" stop-color="#04fffa"/><stop offset="66.0%" stop-color="#d6ff28"/><stop offset="68.0%" stop-color="#ffc900"/><stop offset="74.0%" stop-color="#ff8600"/><stop offset="84.0%" stop-color="#fff000"/><stop offset="88.0%" stop-color="#ffba00"/><stop offset="100.0%" stop-color="#ffa200"/></linearGradient><linearGradient id="h93"><stop offset="0.0%" stop-color="#ffe600"/><stop offset="4.0%" stop-color="#ffc600"/><stop offset="16.0%" stop-color="#d1ff2d"/><stop offset="22.0%" stop-color="#fffe00"/><stop offset="30.0%" stop-color="#ffde00"/><stop offset="38.0%" stop-color="#eeff10"/><stop offset="40.0%" stop-color="#bcff42"/><stop offset="42.0%" stop-color="#bcff42"/><stop offset="48.0%" stop-color="#05fff9"/><stop offset="54.0%" stop-color="#00fbff"/><stop offset="62.0%" stop-color="#09fff5"/><stop offset="70.0%" stop-color="#fff700"/><stop offset="76.0%" stop-color="#ff6400"/><stop offset="84.0%" stop-color="#ff6d00"/><stop offset="88.0%" stop-color="#ff9600"/><stop offset="100.0%" stop-color="#ff8f00"/></linearGradient><linearGradient id="h94"><stop offset="0.0%" stop-color="#f6ff08"/><stop offset="18.0%" stop-color="#caff34"/><stop offset="26.0%" stop-color="#f0ff0e"/><stop offset="30.0%" stop-color="#ffd600"/><stop offset="40.0%" stop-color="#fff800"/><stop offset="44.0%" stop-color="#b2ff4c"/><stop offset="48.0%" stop-color="#23ffdb"/><stop offset="50.0%" stop-color="#00deff"/><stop offset="56.0%" stop-color="#00beff"/><stop offset="58.0%" stop-color="#00d5ff"/><stop offset="60.0%" stop-color="#06fff8"/><stop offset="66.0%" stop-color="#c0ff3e"/><stop offset="70.0%" stop-color="#fff700"/><stop offset="82.0%" stop-color="#ff5800"/><stop offset="86.0%" stop-color="#ff6200"/><stop offset="92.0%" stop-color="#ffaf00"/><stop offset="100.0%" stop-color="#ffa100"/></linearGradient><linearGradient id="h95"><stop offset="0.0%" stop-color="#d3ff2b"/><stop offset="6.0%" stop-color="#a7ff57"/><stop offset="16.0%" stop-color="#e5ff19"/><stop offset="32.0%" stop-color="#c2ff3c"/><stop offset="38.0%" stop-color="#e5ff19"/><stop offset="42.0%" stop-color="#b7ff47"/><stop offset="48.0%" stop-color="#00e4ff"/><stop offset="52.0%" stop-color="#00a5ff"/><stop offset="58.0%" stop-color="#00d9ff"/><stop offset="60.0%" stop-color="#05fff9"/><stop offset="64.0%" stop-color="#35ffc9"/><stop offset="72.0%" stop-color="#fff600"/><stop offset="80.0%" stop-color="#ffc000"/><stop offset="88.0%" stop-color="#ffc500"/><stop offset="90.0%" stop-color="#ffea00"/><stop offset="100.0%" stop-color="#ffaa00"/></linearGradient><linearGradient id="h96"><stop offset="0.0%" stop-color="#c3ff3b"/><stop offset="6.0%" stop-color="#fbff03"/><stop offset="14.0%" stop-color="#c3ff3b"/><stop offset="18.0%" stop-color="#edff11"/><stop offset="22.0%" stop-color="#eeff10"/><stop offset="26.0%" stop-color="#bdff41"/><stop offset="28.0%" stop-color="#daff24"/><stop offset="30.0%" stop-color="#beff40"/><stop offset="34.0%" stop-color="#f2ff0c"/><stop offset="40.0%" stop-color="#e6ff18"/><stop offset="48.0%" stop-color="#04fffa"/><stop offset="54.0%" stop-color="#00b2ff"/><stop offset="56.0%" stop-color="#00b0ff"/><stop offset="60.0%" stop-color="#00f6ff"/><stop offset="70.0%" stop-color="#fffc00"/><stop offset="76.0%" stop-color="#ff8e00"/><stop offset="80.0%" stop-color="#ffcd00"/><stop offset="88.0%" stop-color="#ffc000"/><stop offset="90.0%" stop-color="#ff9800"/><stop offset="96.0%" stop-color="#ffc900"/><stop offset="100.0%" stop-color="#ff9900"/></linearGradient><linearGradient id="h97"><stop offset="0.0%" stop-color="#e6ff18"/><stop offset="36.0%" stop-color="#f9ff05"/><stop offset="42.0%" stop-color="#c1ff3d"/><stop offset="50.0%" stop-color="#00f6ff"/><stop offset="56.0%" stop-color="#00d5ff"/><stop offset="58.0%" stop-color="#00f8ff"/><stop offset="64.0%" stop-color="#79ff85"/><stop offset="68.0%" stop-color="#fff400"/><stop offset="74.0%" stop-color="#ffa200"/><stop offset="78.0%" stop-color="#ffb700"/><stop offset="92.0%" stop-color="#ff7c00"/><stop offset="100.0%" stop-color="#ff8a00"/></linearGradient><linearGradient id="h98"><stop offset="0.0%" stop-color="#c5ff39"/><stop offset="8.0%" stop-color="#fff500"/><stop offset="14.0%" stop-color="#ffd100"/><stop offset="22.0%" stop-color="#fff400"/><stop offset="28.0%" stop-color="#ffc800"/><stop offset="32.0%" stop-color="#ffe700"/><stop offset="40.0%" stop-color="#bcff42"/><stop offset="48.0%" stop-color="#08fff6"/><stop offset="54.0%" stop-color="#00c6ff"/><stop offset="58.0%" stop-color="#00f2ff"/><stop offset="68.0%" stop-color="#f1ff0d"/><stop offset="70.0%" stop-color="#fffc00"/><stop offset="76.0%" stop-color="#ffb400"/><stop offset="88.0%" stop-color="#ffda00"/><stop offset="100.0%" stop-color="#ff8500"/></linearGradient><linearGradient id="h99"><stop offset="0.0%" stop-color="#fdff01"/><stop offset="10.0%" stop-color="#ffcc00"/><stop offset="14.0%" stop-color="#ffd200"/><stop offset="16.0%" stop-color="#f6ff08"/><stop offset="40.0%" stop-color="#ffeb00"/><stop offset="50.0%" stop-color="#03fffb"/><stop offset="56.0%" stop-color="#00c7ff"/><stop offset="58.0%" stop-color="#00e2ff"/><stop offset="62.0%" stop-color="#30ffce"/><stop offset="66.0%" stop-color="#b0ff4e"/><stop offset="70.0%" stop-color="#ffeb00"/><stop offset="76.0%" stop-color="#ff6c00"/><stop offset="94.0%" stop-color="#ffad00"/><stop offset="100.0%" stop-color="#ff8200"/></linearGradient><linearGradient id="h100"><stop offset="0.0%" stop-color="#d3ff2b"/><stop offset="6.0%" stop-color="#a9ff55"/><stop offset="20.0%" stop-color="#fff200"/><stop offset="32.0%" stop-color="#91ff6d"/><stop offset="42.0%" stop-color="#b7ff47"/><stop offset="48.0%" stop-color="#00f4ff"/><stop offset="52.0%" stop-color="#00cfff"/><stop offset="58.0%" stop-color="#00fbff"/><stop offset="60.0%" stop-color="#0bfff3"/><stop offset="68.0%" stop-color="#ebff13"/><stop offset="70.0%" stop-color="#fff000"/><stop offset="74.0%" stop-color="#ffbd00"/><stop offset="84.0%" stop-color="#ff9d00"/><stop offset="100.0%" stop-color="#ffc600"/></linearGradient><linearGradient id="h101"><stop offset="0.0%" stop-color="#fcff02"/><stop offset="2.0%" stop-color="#e0ff1e"/><stop offset="8.0%" stop-color="#ffd500"/><stop offset="16.0%" stop-color="#fffc00"/><stop offset="32.0%" stop-color="#feff00"/><stop offset="44.0%" stop-color="#b2ff4c"/><stop offset="52.0%" stop-color="#00faff"/><stop offset="58.0%" stop-color="#00f3ff"/><stop offset="64.0%" stop-color="#5dffa1"/><stop offset="68.0%" stop-color="#fbff03"/><stop offset="74.0%" stop-color="#ffaf00"/><stop offset="82.0%" stop-color="#ff8c00"/><stop offset="100.0%" stop-color="#ffa200"/></linearGradient><linearGradient id="h102"><stop offset="0.0%" stop-color="#a0ff5e"/><stop offset="10.0%" stop-color="#b0ff4e"/><stop offset="18.0%" stop-color="#faff04"/><stop offset="32.0%" stop-color="#ffd300"/><stop offset="34.0%" stop-color="#fff500"/><stop offset="40.0%" stop-color="#d9ff25"/><stop offset="50.0%" stop-color="#00e7ff"/><stop offset="54.0%" stop-color="#00b4ff"/><stop offset="62.0%" stop-color="#00daff"/><stop offset="64.0%" stop-color="#2effd0"/><stop offset="70.0%" stop-color="#fcff02"/><stop offset="74.0%" stop-color="#ff9a00"/><stop offset="82.0%" stop-color="#ffa100"/><stop offset="90.0%" stop-color="#ffda00"/><stop offset="98.0%" stop-color="#ffa000"/><stop offset="100.0%" stop-color="#ffb800"/></linearGradient><linearGradient id="h103"><stop offset="0.0%" stop-color="#ffea00"/><stop offset="16.0%" stop-color="#fff100"/><stop offset="24.0%" stop-color="#bdff41"/><stop offset="38.0%" stop-color="#f5ff09"/><stop offset="42.0%" stop-color="#b6ff48"/><stop offset="46.0%" stop-color="#17ffe7"/><stop offset="48.0%" stop-color="#00cfff"/><stop offset="52.0%" stop-color="#00c3ff"/><stop offset="60.0%" stop-color="#0dfff1"/><stop offset="72.0%" stop-color="#fbff03"/><stop offset="74.0%" stop-color="#ffcd00"/><stop offset="84.0%" stop-color="#ffca00"/><stop offset="90.0%" stop-color="#ff9c00"/><stop offset="100.0%" stop-color="#ffd400"/></linearGradient><linearGradient id="h104"><stop offset="0.0%" stop-color="#cfff2f"/><stop offset="2.0%" stop-color="#c7ff37"/><stop offset="6.0%" stop-color="#fff800"/><stop offset="32.0%" stop-color="#f8ff06"/><stop offset="40.0%" stop-color="#cfff2f"/><stop offset="48.0%" stop-color="#00edff"/><stop offset="50.0%" stop-color="#00b1ff"/><stop offset="58.0%" stop-color="#00f8ff"/><stop offset="64.0%" stop-color="#7aff84"/><stop offset="66.0%" stop-color="#c3ff3b"/><stop offset="70.0%" stop-color="#ffe800"/><stop offset="72.0%" stop-color="#ffae00"/><stop offset="80.0%" stop-color="#ff6a00"/><stop offset="96.0%" stop-color="#ffbc00"/><stop offset="100.0%" stop-color="#ffa700"/></linearGradient><linearGradient id="h105"><stop offset="0.0%" stop-color="#ecff12"/><stop offset="24.0%" stop-color="#f1ff0d"/><stop offset="26.0%" stop-color="#ffd800"/><stop offset="32.0%" stop-color="#ffc800"/><stop offset="38.0%" stop-color="#fcff02"/><stop offset="42.0%" stop-color="#c8ff36"/><stop offset="46.0%" stop-color="#3effc0"/><stop offset="50.0%" stop-color="#00e8ff"/><stop offset="54.0%" stop-color="#00bdff"/><stop offset="58.0%" stop-color="#00e8ff"/><stop offset="62.0%" stop-color="#23ffdb"/><stop offset="68.0%" stop-color="#f3ff0b"/><stop offset="72.0%" stop-color="#ffa800"/><stop offset="86.0%" stop-color="#ff8000"/><stop offset="90.0%" stop-color="#ffa700"/><stop offset="98.0%" stop-color="#ffac00"/><stop offset="100.0%" stop-color="#ff8200"/></linearGradient><linearGradient id="h106"><stop offset="0.0%" stop-color="#f6ff08"/><stop offset="8.0%" stop-color="#ffda00"/><stop offset="10.0%" stop-color="#f8ff06"/><stop offset="18.0%" stop-color="#cbff33"/><stop offset="24.0%" stop-color="#fffb00"/><stop offset="34.0%" stop-color="#c4ff3a"/><stop offset="40.0%" stop-color="#deff20"/><stop offset="42.0%" stop-color="#bdff41"/><stop offset="46.0%" stop-color="#0dfff1"/><stop offset="52.0%" stop-color="#0083ff"/><stop offset="56.0%" stop-color="#00d6ff"/><stop offset="60.0%" stop-color="#24ffda"/><stop offset="68.0%" stop-color="#fff800"/><stop offset="74.0%" stop-color="#ff8800"/><stop offset="90.0%" stop-color="#ffd900"/><stop offset="100.0%" stop-color="#ff9d00"/></linearGradient><linearGradient id="h107"><stop offset="0.0%" stop-color="#fff200"/><stop offset="14.0%" stop-color="#ffeb00"/><stop offset="20.0%" stop-color="#d9ff25"/><stop offset="22.0%" stop-color="#faff04"/><stop offset="30.0%" stop-color="#f2ff0c"/><stop offset="42.0%" stop-color="#98ff66"/><stop offset="46.0%" stop-color="#13ffeb"/><stop offset="48.0%" stop-color="#00e0ff"/><stop offset="52.0%" stop-color="#0096ff"/><stop offset="60.0%" stop-color="#0bfff3"/><stop offset="66.0%" stop-color="#b8ff46"/><stop offset="72.0%" stop-color="#ffe900"/><stop offset="80.0%" stop-color="#ff9600"/><stop offset="90.0%" stop-color="#ffd000"/><stop offset="100.0%" stop-color="#ff8900"/></linearGradient><linearGradient id="h108"><stop offset="0.0%" stop-color="#ffe000"/><stop offset="6.0%" stop-color="#fffc00"/><stop offset="8.0%" stop-color="#ffe200"/><stop offset="14.0%" stop-color="#fff600"/><stop offset="16.0%" stop-color="#ffd500"/><stop offset="18.0%" stop-color="#f5ff09"/><stop offset="26.0%" stop-color="#f6ff08"/><stop offset="30.0%" stop-color="#ffc600"/><stop offset="38.0%" stop-color="#f9ff05"/><stop offset="44.0%" stop-color="#abff53"/><stop offset="46.0%" stop-color="#51ffad"/><stop offset="50.0%" stop-color="#00f0ff"/><stop offset="54.0%" stop-color="#00abff"/><stop offset="60.0%" stop-color="#00efff"/><stop offset="68.0%" stop-color="#f4ff0a"/><stop offset="74.0%" stop-color="#ff9c00"/><stop offset="80.0%" stop-color="#ffad00"/><stop offset="86.0%" stop-color="#ff8100"/><stop offset="96.0%" stop-color="#ffb400"/><stop offset="100.0%" stop-color="#ff8600"/></linearGradient><linearGradient id="h109"><stop offset="0.0%" stop-color="#cdff31"/><stop offset="10.0%" stop-color="#fffc00"/><stop offset="26.0%" stop-color="#fcff02"/><stop offset="30.0%" stop-color="#d5ff29"/><stop offset="42.0%" stop-color="#ffe700"/><stop offset="44.0%" stop-color="#edff11"/><stop offset="48.0%" stop-color="#5cffa2"/><stop offset="52.0%" stop-color="#00f7ff"/><stop offset="56.0%" stop-color="#00daff"/><stop offset="60.0%" stop-color="#00f4ff"/><stop offset="70.0%" stop-color="#f9ff05"/><stop offset="74.0%" stop-color="#ffbf00"/><stop offset="84.0%" stop-color="#ffae00"/><stop offset="88.0%" stop-color="#ff8000"/><stop offset="100.0%" stop-color="#ff9600"/></linearGradient><linearGradient id="h110"><stop offset="0.0%" stop-color="#fff500"/><stop offset="14.0%" stop-color="#ffce00"/><stop offset="22.0%" stop-color="#fffe00"/><stop offset="26.0%" stop-color="#e2ff1c"/><stop offset="40.0%" stop-color="#fffc00"/><stop offset="42.0%" stop-color="#e8ff16"/><stop offset="48.0%" stop-color="#16ffe8"/><stop offset="50.0%" stop-color="#00e9ff"/><stop offset="56.0%" stop-color="#00b9ff"/><stop offset="60.0%" stop-color="#00f1ff"/><stop offset="68.0%" stop-color="#f8ff06"/><stop offset="80.0%" stop-color="#ffc400"/><stop offset="86.0%" stop-color="#ff7400"/><stop offset="96.0%" stop-color="#ffaa00"/><stop offset="100.0%" stop-color="#ff7300"/></linearGradient><linearGradient id="h111"><stop offset="0.0%" stop-color="#ccff32"/><stop offset="26.0%" stop-color="#d4ff2a"/><stop offset="36.0%" stop-color="#fffe00"/><stop offset="42.0%" stop-color="#c6ff38"/><stop offset="48.0%" stop-color="#0efff0"/><stop offset="54.0%" stop-color="#00b6ff"/><stop offset="58.0%" stop-color="#00edff"/><stop offset="70.0%" stop-color="#fffa00"/><stop offset="74.0%" stop-color="#ffaa00"/><stop offset="78.0%" stop-color="#ff8c00"/><stop offset="100.0%" stop-color="#ff9a00"/></linearGradient><linearGradient id="h112"><stop offset="0.0%" stop-color="#eeff10"/><stop offset="2.0%" stop-color="#d0ff2e"/><stop offset="8.0%" stop-color="#f2ff0c"/><stop offset="14.0%" stop-color="#beff40"/><stop offset="20.0%" stop-color="#fffa00"/><stop offset="26.0%" stop-color="#ffd200"/><stop offset="30.0%" stop-color="#feff00"/><stop offset="34.0%" stop-color="#edff11"/><stop offset="36.0%" stop-color="#acff52"/><stop offset="40.0%" stop-color="#a9ff55"/><stop offset="46.0%" stop-color="#28ffd6"/><stop offset="48.0%" stop-color="#00e9ff"/><stop offset="54.0%" stop-color="#0091ff"/><stop offset="56.0%" stop-color="#0094ff"/><stop offset="60.0%" stop-color="#00f6ff"/><stop offset="70.0%" stop-color="#f7ff07"/><stop offset="78.0%" stop-color="#ffb200"/><stop offset="94.0%" stop-color="#ffe600"/><stop offset="100.0%" stop-color="#ffae00"/></linearGradient><linearGradient id="h113"><stop offset="0.0%" stop-color="#d9ff25"/><stop offset="2.0%" stop-color="#fff400"/><stop offset="10.0%" stop-color="#f1ff0d"/><stop offset="12.0%" stop-color="#c8ff36"/><stop offset="26.0%" stop-color="#f7ff07"/><stop offset="34.0%" stop-color="#c5ff39"/><stop offset="38.0%" stop-color="#f8ff06"/><stop offset="44.0%" stop-color="#b1ff4d"/><stop offset="48.0%" stop-color="#21ffdd"/><stop offset="50.0%" stop-color="#00fcff"/><stop offset="56.0%" stop-color="#00d5ff"/><stop offset="58.0%" stop-color="#00feff"/><stop offset="62.0%" stop-color="#24ffda"/><stop offset="68.0%" stop-color="#fff000"/><stop offset="72.0%" stop-color="#ff7f00"/><stop offset="84.0%" stop-color="#ff5e00"/><stop offset="92.0%" stop-color="#ffb400"/><stop offset="98.0%" stop-color="#ff9300"/><stop offset="100.0%" stop-color="#ffac00"/></linearGradient><linearGradient id="h114"><stop offset="0.0%" stop-color="#d8ff26"/><stop offset="6.0%" stop-color="#c8ff36"/><stop offset="8.0%" stop-color="#e7ff17"/><stop offset="24.0%" stop-color="#fffa00"/><stop offset="28.0%" stop-color="#cbff33"/><stop offset="38.0%" stop-color="#eeff10"/><stop offset="42.0%" stop-color="#bcff42"/><stop offset="48.0%" stop-color="#00fffe"/><stop offset="54.0%" stop-color="#005fff"/><stop offset="62.0%" stop-color="#00f0ff"/><stop offset="70.0%" stop-color="#faff04"/><stop offset="72.0%" stop-color="#ffc700"/><stop offset="76.0%" stop-color="#ffb100"/><stop offset="90.0%" stop-color="#ffb000"/><stop offset="92.0%" stop-color="#ffdc00"/><stop offset="100.0%" stop-color="#ff9600"/></linearGradient><linearGradient id="h115"><stop offset="0.0%" stop-color="#ffd000"/><stop offset="4.0%" stop-color="#f1ff0d"/><stop offset="10.0%" stop-color="#beff40"/><stop offset="34.0%" stop-color="#f7ff07"/><stop offset="42.0%" stop-color="#d9ff25"/><stop offset="48.0%" stop-color="#0bfff3"/><stop offset="50.0%" stop-color="#00e8ff"/><stop offset="52.0%" stop-color="#00b0ff"/><stop offset="60.0%" stop-color="#00f9ff"/><stop offset="68.0%" stop-color="#fffe00"/><stop offset="70.0%" stop-color="#ffaa00"/><stop offset="76.0%" stop-color="#ff8100"/><stop offset="84.0%" stop-color="#ff8c00"/><stop offset="86.0%" stop-color="#ffaf00"/><stop offset="100.0%" stop-color="#ff9400"/></linearGradient><linearGradient id="h116"><stop offset="0.0%" stop-color="#ceff30"/><stop offset="8.0%" stop-color="#c0ff3e"/><stop offset="18.0%" stop-color="#f1ff0d"/><stop offset="34.0%" stop-color="#bcff42"/><stop offset="40.0%" stop-color="#d9ff25"/><stop offset="48.0%" stop-color="#00ecff"/><stop offset="50.0%" stop-color="#00c0ff"/><stop offset="56.0%" stop-color="#00a7ff"/><stop offset="58.0%" stop-color="#00d7ff"/><stop offset="62.0%" stop-color="#39ffc5"/><stop offset="66.0%" stop-color="#d9ff25"/><stop offset="68.0%" stop-color="#fffb00"/><stop offset="74.0%" stop-color="#ffa400"/><stop offset="84.0%" stop-color="#ffb500"/><stop offset="90.0%" stop-color="#ff9300"/><stop offset="100.0%" stop-color="#ffc500"/></linearGradient><linearGradient id="h117"><stop offset="0.0%" stop-color="#baff44"/><stop offset="12.0%" stop-color="#aaff54"/><stop offset="22.0%" stop-color="#fffc00"/><stop offset="38.0%" stop-color="#f9ff05"/><stop offset="42.0%" stop-color="#e1ff1d"/><stop offset="48.0%" stop-color="#1fffdf"/><stop offset="50.0%" stop-color="#00f5ff"/><stop offset="58.0%" stop-color="#00e5ff"/><stop offset="62.0%" stop-color="#28ffd6"/><stop offset="68.0%" stop-color="#fbff03"/><stop offset="74.0%" stop-color="#ff7e00"/><stop offset="78.0%" stop-color="#ff9200"/><stop offset="80.0%" stop-color="#ff7000"/><stop offset="90.0%" stop-color="#ffdf00"/><stop offset="92.0%" stop-color="#ffb700"/><stop offset="94.0%" stop-color="#ffd200"/><stop offset="96.0%" stop-color="#ff8700"/><stop offset="100.0%" stop-color="#ff7f00"/></linearGradient><linearGradient id="h118"><stop offset="0.0%" stop-color="#ebff13"/><stop offset="20.0%" stop-color="#fff500"/><stop offset="24.0%" stop-color="#b6ff48"/><stop offset="28.0%" stop-color="#a3ff5b"/><stop offset="36.0%" stop-color="#e4ff1a"/><stop offset="40.0%" stop-color="#c4ff3a"/><stop offset="52.0%" stop-color="#00f1ff"/><stop offset="58.0%" stop-color="#00caff"/><stop offset="60.0%" stop-color="#00ecff"/><stop offset="64.0%" stop-color="#62ff9c"/><stop offset="68.0%" stop-color="#feff00"/><stop offset="74.0%" stop-color="#ff9c00"/><stop offset="80.0%" stop-color="#ff9d00"/><stop offset="88.0%" stop-color="#ffe200"/><stop offset="92.0%" stop-color="#ffc300"/><stop offset="96.0%" stop-color="#ff7300"/><stop offset="100.0%" stop-color="#ff7400"/></linearGradient><linearGradient id="h119"><stop offset="0.0%" stop-color="#f3ff0b"/><stop offset="24.0%" stop-color="#fbff03"/><stop offset="32.0%" stop-color="#acff52"/><stop offset="42.0%" stop-color="#88ff76"/><stop offset="48.0%" stop-color="#00ddff"/><stop offset="56.0%" stop-color="#00c7ff"/><stop offset="58.0%" stop-color="#00f5ff"/><stop offset="62.0%" stop-color="#34ffca"/><stop offset="68.0%" stop-color="#fdff01"/><stop offset="74.0%" stop-color="#ffb600"/><stop offset="86.0%" stop-color="#ff9b00"/><stop offset="92.0%" stop-color="#ffc300"/><stop offset="100.0%" stop-color="#ff7700"/></linearGradient><linearGradient id="h120"><stop offset="0.0%" stop-color="#d8ff26"/><stop offset="2.0%" stop-color="#f7ff07"/><stop offset="12.0%" stop-color="#c7ff37"/><stop offset="14.0%" stop-color="#e9ff15"/><stop offset="22.0%" stop-color="#cbff33"/><stop offset="34.0%" stop-color="#f9ff05"/><stop offset="42.0%" stop-color="#a5ff59"/><stop offset="46.0%" stop-color="#19ffe5"/><stop offset="48.0%" stop-color="#00e7ff"/><stop offset="52.0%" stop-color="#009cff"/><stop offset="58.0%" stop-color="#00bfff"/><stop offset="60.0%" stop-color="#01fffd"/><stop offset="68.0%" stop-color="#dcff22"/><stop offset="72.0%" stop-color="#fbff03"/><stop offset="86.0%" stop-color="#ff7e00"/><stop offset="100.0%" stop-color="#ff9800"/></linearGradient><linearGradient id="h121"><stop offset="0.0%" stop-color="#fff000"/><stop offset="4.0%" stop-color="#ffca00"/><stop offset="8.0%" stop-color="#f9ff05"/><stop offset="14.0%" stop-color="#a6ff58"/><stop offset="18.0%" stop-color="#e7ff17"/><stop offset="24.0%" stop-color="#ffe400"/><stop offset="28.0%" stop-color="#f9ff05"/><stop offset="30.0%" stop-color="#ffd300"/><stop offset="34.0%" stop-color="#ffc700"/><stop offset="38.0%" stop-color="#ff6c00"/><stop offset="42.0%" stop-color="#ff5700"/><stop offset="46.0%" stop-color="#fcff02"/><stop offset="50.0%" stop-color="#f8ff06"/><stop offset="52.0%" stop-color="#d2ff2c"/><stop offset="60.0%" stop-color="#ffef00"/><stop offset="64.0%" stop-color="#ffd000"/><stop offset="66.0%" stop-color="#ff9b00"/><stop offset="72.0%" stop-color="#dfff1f"/><stop offset="80.0%" stop-color="#efff0f"/><stop offset="82.0%" stop-color="#ffae00"/><stop offset="86.0%" stop-color="#e7ff17"/><stop offset="94.0%" stop-color="#ffc800"/><stop offset="100.0%" stop-color="#fff800"/></linearGradient><linearGradient id="h122"><stop offset="0.0%" stop-color="#ebff13"/><stop offset="6.0%" stop-color="#ffdf00"/><stop offset="8.0%" stop-color="#fff800"/><stop offset="10.0%" stop-color="#caff34"/><stop offset="12.0%" stop-color="#e0ff1e"/><stop offset="14.0%" stop-color="#c7ff37"/><stop offset="20.0%" stop-color="#ffd400"/><stop offset="30.0%" stop-color="#d0ff2e"/><stop offset="32.0%" stop-color="#ffea00"/><stop offset="36.0%" stop-color="#ffc100"/><stop offset="40.0%" stop-color="#ff6600"/><stop offset="46.0%" stop-color="#fffd00"/><stop offset="54.0%" stop-color="#c3ff3b"/><stop offset="60.0%" stop-color="#daff24"/><stop offset="62.0%" stop-color="#ffd100"/><stop offset="66.0%" stop-color="#ffb500"/><stop offset="68.0%" stop-color="#faff04"/><stop offset="70.0%" stop-color="#ffdd00"/><stop offset="74.0%" stop-color="#aaff54"/><stop offset="76.0%" stop-color="#b0ff4e"/><stop offset="78.0%" stop-color="#fdff01"/><stop offset="80.0%" stop-color="#fff900"/><stop offset="82.0%" stop-color="#ffae00"/><stop offset="84.0%" stop-color="#ff9900"/><stop offset="88.0%" stop-color="#ffe000"/><stop offset="90.0%" stop-color="#ffe100"/><stop offset="92.0%" stop-color="#ffac00"/><stop offset="100.0%" stop-color="#ffc700"/></linearGradient><linearGradient id="h123"><stop offset="0.0%" stop-color="#dbff23"/><stop offset="2.0%" stop-color="#c0ff3e"/><stop offset="6.0%" stop-color="#f9ff05"/><stop offset="10.0%" stop-color="#95ff69"/><stop offset="16.0%" stop-color="#fffc00"/><stop offset="20.0%" stop-color="#ffb500"/><stop offset="24.0%" stop-color="#fff000"/><stop offset="28.0%" stop-color="#e5ff19"/><stop offset="34.0%" stop-color="#fff300"/><stop offset="36.0%" stop-color="#dcff22"/><stop offset="38.0%" stop-color="#ffe200"/><stop offset="44.0%" stop-color="#ff6a00"/><stop offset="50.0%" stop-color="#ffc200"/><stop offset="58.0%" stop-color="#ffa400"/><stop offset="64.0%" stop-color="#e3ff1b"/><stop offset="66.0%" stop-color="#e7ff17"/><stop offset="68.0%" stop-color="#9fff5f"/><stop offset="70.0%" stop-color="#ecff12"/><stop offset="76.0%" stop-color="#d3ff2b"/><stop offset="80.0%" stop-color="#efff0f"/><stop offset="88.0%" stop-color="#ff8300"/><stop offset="90.0%" stop-color="#ffab00"/><stop offset="94.0%" stop-color="#ff9b00"/><stop offset="100.0%" stop-color="#fffa00"/></linearGradient><linearGradient id="h124"><stop offset="0.0%" stop-color="#acff52"/><stop offset="6.0%" stop-color="#ffdb00"/><stop offset="14.0%" stop-color="#ebff13"/><stop offset="16.0%" stop-color="#aaff54"/><stop offset="18.0%" stop-color="#ddff21"/><stop offset="20.0%" stop-color="#bbff43"/><stop offset="26.0%" stop-color="#f6ff08"/><stop offset="32.0%" stop-color="#d4ff2a"/><stop offset="36.0%" stop-color="#fcff02"/><stop offset="40.0%" stop-color="#ff4500"/><stop offset="42.0%" stop-color="#ff0e00"/><stop offset="46.0%" stop-color="#ff4f00"/><stop offset="50.0%" stop-color="#fffc00"/><stop offset="52.0%" stop-color="#cdff31"/><stop offset="54.0%" stop-color="#eaff14"/><stop offset="58.0%" stop-color="#b3ff4b"/><stop offset="60.0%" stop-color="#b4ff4a"/><stop offset="62.0%" stop-color="#ffec00"/><stop offset="66.0%" stop-color="#fff400"/><stop offset="68.0%" stop-color="#ffc500"/><stop offset="72.0%" stop-color="#feff00"/><stop offset="76.0%" stop-color="#ffbd00"/><stop offset="78.0%" stop-color="#ffe900"/><stop offset="80.0%" stop-color="#ffbf00"/><stop offset="82.0%" stop-color="#feff00"/><stop offset="86.0%" stop-color="#a2ff5c"/><stop offset="90.0%" stop-color="#abff53"/><stop offset="96.0%" stop-color="#fff600"/><stop offset="100.0%" stop-color="#ffc100"/></linearGradient><linearGradient id="h125"><stop offset="0.0%" stop-color="#fff100"/><stop offset="6.0%" stop-color="#f9ff05"/><stop offset="8.0%" stop-color="#abff53"/><stop offset="12.0%" stop-color="#efff0f"/><stop offset="22.0%" stop-color="#97ff67"/><stop offset="32.0%" stop-color="#c4ff3a"/><stop offset="34.0%" stop-color="#8aff74"/><stop offset="36.0%" stop-color="#b4ff4a"/><stop offset="40.0%" stop-color="#9fff5f"/><stop offset="42.0%" stop-color="#fbff03"/><stop offset="44.0%" stop-color="#ffb100"/><stop offset="48.0%" stop-color="#fff700"/><stop offset="50.0%" stop-color="#ffdd00"/><stop offset="52.0%" stop-color="#fff900"/><stop offset="56.0%" stop-color="#ffac00"/><stop offset="64.0%" stop-color="#ffa400"/><stop offset="66.0%" stop-color="#ffd000"/><stop offset="70.0%" stop-color="#ffb600"/><stop offset="72.0%" stop-color="#ffdc00"/><stop offset="80.0%" stop-color="#ffb100"/><stop offset="84.0%" stop-color="#fffe00"/><stop offset="88.0%" stop-color="#ffaf00"/><stop offset="90.0%" stop-color="#ffc200"/><stop offset="92.0%" stop-color="#ff7200"/><stop offset="94.0%" stop-color="#ff7400"/><stop offset="100.0%" stop-color="#fff600"/></linearGradient><linearGradient id="h126"><stop offset="0.0%" stop-color="#f1ff0d"/><stop offset="2.0%" stop-color="#c4ff3a"/><stop offset="8.0%" stop-color="#a4ff5a"/><stop offset="14.0%" stop-color="#d7ff27"/><stop offset="20.0%" stop-color="#bdff41"/><stop offset="22.0%" stop-color="#eeff10"/><stop offset="26.0%" stop-color="#ffd000"/><stop offset="30.0%" stop-color="#ffe200"/><stop offset="32.0%" stop-color="#d4ff2a"/><stop offset="36.0%" stop-color="#f4ff0a"/><stop offset="40.0%" stop-color="#ffdf00"/><stop offset="44.0%" stop-color="#ff7700"/><stop offset="52.0%" stop-color="#fbff03"/><stop offset="54.0%" stop-color="#f9ff05"/><stop offset="58.0%" stop-color="#ff9400"/><stop offset="62.0%" stop-color="#ff9c00"/><stop offset="70.0%" stop-color="#fff700"/><stop offset="72.0%" stop-color="#deff20"/><stop offset="80.0%" stop-color="#ffe600"/><stop offset="82.0%" stop-color="#ffb300"/><stop offset="84.0%" stop-color="#ffce00"/><stop offset="86.0%" stop-color="#e1ff1d"/><stop offset="88.0%" stop-color="#afff4f"/><stop offset="92.0%" stop-color="#dbff23"/><stop offset="94.0%" stop-color="#caff34"/><stop offset="96.0%" stop-color="#fffa00"/><stop offset="100.0%" stop-color="#ffa000"/></linearGradient><linearGradient id="h127"><stop offset="0.0%" stop-color="#baff44"/><stop offset="6.0%" stop-color="#a4ff5a"/><stop offset="10.0%" stop-color="#fffd00"/><stop offset="14.0%" stop-color="#a8ff56"/><stop offset="20.0%" stop-color="#e5ff19"/><stop offset="26.0%" stop-color="#f9ff05"/><stop offset="30.0%" stop-color="#c9ff35"/><stop offset="32.0%" stop-color="#f4ff0a"/><stop offset="38.0%" stop-color="#fff000"/><stop offset="42.0%" stop-color="#ffcb00"/><stop offset="44.0%" stop-color="#ff8a00"/><stop offset="48.0%" stop-color="#ff5400"/><stop offset="50.0%" stop-color="#ff5d00"/><stop offset="54.0%" stop-color="#ffc800"/><stop offset="58.0%" stop-color="#fdff01"/><stop offset="60.0%" stop-color="#e4ff1a"/><stop offset="62.0%" stop-color="#fffd00"/><stop offset="68.0%" stop-color="#ff9100"/><stop offset="72.0%" stop-color="#ffe300"/><stop offset="80.0%" stop-color="#ffdc00"/><stop offset="82.0%" stop-color="#f1ff0d"/><stop offset="90.0%" stop-color="#eeff10"/><stop offset="92.0%" stop-color="#ffc500"/><stop offset="100.0%" stop-color="#ffb800"/></linearGradient><linearGradient id="h128"><stop offset="0.0%" stop-color="#bcff42"/><stop offset="4.0%" stop-color="#edff11"/><stop offset="6.0%" stop-color="#b9ff45"/><stop offset="10.0%" stop-color="#b3ff4b"/><stop offset="14.0%" stop-color="#75ff89"/><stop offset="16.0%" stop-color="#a0ff5e"/><stop offset="20.0%" stop-color="#8fff6f"/><stop offset="24.0%" stop-color="#ffe700"/><stop offset="30.0%" stop-color="#ffe900"/><stop offset="36.0%" stop-color="#9fff5f"/><stop offset="38.0%" stop-color="#baff44"/><stop offset="40.0%" stop-color="#fff200"/><stop offset="46.0%" stop-color="#ff2600"/><stop offset="48.0%" stop-color="#ff1b00"/><stop offset="50.0%" stop-color="#ff8200"/><stop offset="54.0%" stop-color="#f0ff0e"/><stop offset="56.0%" stop-color="#ffdd00"/><stop offset="58.0%" stop-color="#ffee00"/><stop offset="60.0%" stop-color="#ffa300"/><stop offset="62.0%" stop-color="#fff800"/><stop offset="64.0%" stop-color="#ffd500"/><stop offset="66.0%" stop-color="#efff0f"/><stop offset="70.0%" stop-color="#a4ff5a"/><stop offset="76.0%" stop-color="#fffc00"/><stop offset="82.0%" stop-color="#ffd100"/><stop offset="84.0%" stop-color="#faff04"/><stop offset="88.0%" stop-color="#ffbe00"/><stop offset="92.0%" stop-color="#fff600"/><stop offset="94.0%" stop-color="#ffa100"/><stop offset="96.0%" stop-color="#fff900"/><stop offset="100.0%" stop-color="#fffa00"/></linearGradient><linearGradient id="h129"><stop offset="0.0%" stop-color="#ffd100"/><stop offset="8.0%" stop-color="#f2ff0c"/><stop offset="16.0%" stop-color="#89ff75"/><stop offset="24.0%" stop-color="#faff04"/><stop offset="26.0%" stop-color="#ffe300"/><stop offset="32.0%" stop-color="#fff500"/><stop offset="38.0%" stop-color="#ffb700"/><stop offset="42.0%" stop-color="#ffcf00"/><stop offset="46.0%" stop-color="#ff5f00"/><stop offset="50.0%" stop-color="#ff2700"/><stop offset="56.0%" stop-color="#ffed00"/><stop offset="58.0%" stop-color="#f4ff0a"/><stop offset="62.0%" stop-color="#f2ff0c"/><stop offset="64.0%" stop-color="#ffad00"/><stop offset="70.0%" stop-color="#ffb000"/><stop offset="74.0%" stop-color="#fcff02"/><stop offset="80.0%" stop-color="#ffdd00"/><stop offset="82.0%" stop-color="#ffae00"/><stop offset="84.0%" stop-color="#ffef00"/><stop offset="86.0%" stop-color="#ff9b00"/><stop offset="92.0%" stop-color="#ffe600"/><stop offset="94.0%" stop-color="#ffc600"/><stop offset="100.0%" stop-color="#efff0f"/></linearGradient><linearGradient id="h130"><stop offset="0.0%" stop-color="#ceff30"/><stop offset="4.0%" stop-color="#fff600"/><stop offset="8.0%" stop-color="#fff600"/><stop offset="18.0%" stop-color="#8eff70"/><stop offset="28.0%" stop-color="#93ff6b"/><stop offset="34.0%" stop-color="#bcff42"/><stop offset="36.0%" stop-color="#f8ff06"/><stop offset="38.0%" stop-color="#d6ff28"/><stop offset="46.0%" stop-color="#fff600"/><stop offset="50.0%" stop-color="#ffb300"/><stop offset="52.0%" stop-color="#fffb00"/><stop offset="56.0%" stop-color="#fffe00"/><stop offset="60.0%" stop-color="#ffc600"/><stop offset="62.0%" stop-color="#ff6b00"/><stop offset="66.0%" stop-color="#ffce00"/><stop offset="70.0%" stop-color="#f3ff0b"/><stop offset="76.0%" stop-color="#fffc00"/><stop offset="78.0%" stop-color="#ffd500"/><stop offset="82.0%" stop-color="#f5ff09"/><stop offset="88.0%" stop-color="#ffeb00"/><stop offset="90.0%" stop-color="#d5ff29"/><stop offset="100.0%" stop-color="#ffed00"/></linearGradient><linearGradient id="h131"><stop offset="0.0%" stop-color="#ffd500"/><stop offset="6.0%" stop-color="#dfff1f"/><stop offset="10.0%" stop-color="#82ff7c"/><stop offset="16.0%" stop-color="#7cff82"/><stop offset="22.0%" stop-color="#90ff6e"/><stop offset="28.0%" stop-color="#daff24"/><stop offset="46.0%" stop-color="#d9ff25"/><stop offset="48.0%" stop-color="#ffed00"/><stop offset="50.0%" stop-color="#ffb200"/><stop offset="58.0%" stop-color="#ffc100"/><stop offset="62.0%" stop-color="#fdff01"/><stop offset="66.0%" stop-color="#ffd100"/><stop offset="68.0%" stop-color="#ffef00"/><stop offset="72.0%" stop-color="#ffb700"/><stop offset="74.0%" stop-color="#ffe600"/><stop offset="82.0%" stop-color="#fff800"/><stop offset="84.0%" stop-color="#ffb900"/><stop offset="86.0%" stop-color="#fff100"/><stop offset="92.0%" stop-color="#fdff01"/><stop offset="94.0%" stop-color="#a9ff55"/><stop offset="98.0%" stop-color="#fff300"/><stop offset="100.0%" stop-color="#edff11"/></linearGradient><linearGradient id="h132"><stop offset="0.0%" stop-color="#5effa0"/><stop offset="8.0%" stop-color="#65ff99"/><stop offset="10.0%" stop-color="#9cff62"/><stop offset="14.0%" stop-color="#6eff90"/><stop offset="18.0%" stop-color="#77ff87"/><stop offset="20.0%" stop-color="#43ffbb"/><stop offset="26.0%" stop-color="#87ff77"/><stop offset="30.0%" stop-color="#e5ff19"/><stop offset="34.0%" stop-color="#ffe900"/><stop offset="42.0%" stop-color="#fff900"/><stop offset="46.0%" stop-color="#b7ff47"/><stop offset="48.0%" stop-color="#c9ff35"/><stop offset="50.0%" stop-color="#ffdd00"/><stop offset="52.0%" stop-color="#ffa700"/><stop offset="58.0%" stop-color="#ffc800"/><stop offset="60.0%" stop-color="#e8ff16"/><stop offset="66.0%" stop-color="#ffd800"/><stop offset="68.0%" stop-color="#ffed00"/><stop offset="70.0%" stop-color="#ffc200"/><stop offset="82.0%" stop-color="#ffb400"/><stop offset="84.0%" stop-color="#ffd200"/><stop offset="90.0%" stop-color="#ff7800"/><stop offset="94.0%" stop-color="#ff6c00"/><stop offset="100.0%" stop-color="#ffe200"/></linearGradient><linearGradient id="h133"><stop offset="0.0%" stop-color="#91ff6d"/><stop offset="4.0%" stop-color="#8cff72"/><stop offset="6.0%" stop-color="#c4ff3a"/><stop offset="8.0%" stop-color="#9eff60"/><stop offset="12.0%" stop-color="#adff51"/><stop offset="16.0%" stop-color="#8aff74"/><stop offset="20.0%" stop-color="#daff24"/><stop offset="22.0%" stop-color="#9eff60"/><stop offset="24.0%" stop-color="#ddff21"/><stop offset="32.0%" stop-color="#b1ff4d"/><stop offset="34.0%" stop-color="#5affa4"/><stop offset="38.0%" stop-color="#81ff7d"/><stop offset="40.0%" stop-color="#60ff9e"/><stop offset="44.0%" stop-color="#8cff72"/><stop offset="46.0%" stop-color="#76ff88"/><stop offset="50.0%" stop-color="#ffd700"/><stop offset="52.0%" stop-color="#ffab00"/><stop offset="56.0%" stop-color="#ffac00"/><stop offset="58.0%" stop-color="#fffa00"/><stop offset="60.0%" stop-color="#e5ff19"/><stop offset="62.0%" stop-color="#fffa00"/><stop offset="64.0%" stop-color="#ffc000"/><stop offset="66.0%" stop-color="#ffd600"/><stop offset="68.0%" stop-color="#ffa200"/><stop offset="72.0%" stop-color="#ffaf00"/><stop offset="78.0%" stop-color="#e1ff1d"/><stop offset="84.0%" stop-color="#f2ff0c"/><stop offset="92.0%" stop-color="#ff9200"/><stop offset="94.0%" stop-color="#ffbf00"/><stop offset="98.0%" stop-color="#ffab00"/><stop offset="100.0%" stop-color="#ffd300"/></linearGradient><linearGradient id="h134"><stop offset="0.0%" stop-color="#a4ff5a"/><stop offset="6.0%" stop-color="#a5ff59"/><stop offset="10.0%" stop-color="#faff04"/><stop offset="12.0%" stop-color="#d8ff26"/><stop offset="18.0%" stop-color="#e6ff18"/><stop offset="22.0%" stop-color="#ffce00"/><stop offset="26.0%" stop-color="#fff100"/><stop offset="32.0%" stop-color="#9dff61"/><stop offset="36.0%" stop-color="#8fff6f"/><stop offset="38.0%" stop-color="#edff11"/><stop offset="40.0%" stop-color="#d6ff28"/><stop offset="44.0%" stop-color="#f4ff0a"/><stop offset="46.0%" stop-color="#ffbb00"/><stop offset="48.0%" stop-color="#ffe700"/><stop offset="54.0%" stop-color="#ff4b00"/><stop offset="60.0%" stop-color="#ffae00"/><stop offset="72.0%" stop-color="#fff900"/><stop offset="76.0%" stop-color="#9bff63"/><stop offset="84.0%" stop-color="#f4ff0a"/><stop offset="90.0%" stop-color="#ffc700"/><stop offset="96.0%" stop-color="#ffbc00"/><stop offset="98.0%" stop-color="#fff800"/><stop offset="100.0%" stop-color="#ffdd00"/></linearGradient><linearGradient id="h135"><stop offset="0.0%" stop-color="#63ff9b"/><stop offset="6.0%" stop-color="#c3ff3b"/><stop offset="12.0%" stop-color="#a8ff56"/><stop offset="22.0%" stop-color="#c3ff3b"/><stop offset="26.0%" stop-color="#6dff91"/><stop offset="32.0%" stop-color="#acff52"/><stop offset="34.0%" stop-color="#ffe500"/><stop offset="38.0%" stop-color="#ffc200"/><stop offset="42.0%" stop-color="#f3ff0b"/><stop offset="44.0%" stop-color="#bdff41"/><stop offset="48.0%" stop-color="#fffd00"/><stop offset="52.0%" stop-color="#ff8200"/><stop offset="56.0%" stop-color="#ff4400"/><stop offset="60.0%" stop-color="#ffc900"/><stop offset="64.0%" stop-color="#ebff13"/><stop offset="70.0%" stop-color="#ccff32"/><stop offset="72.0%" stop-color="#fff200"/><stop offset="76.0%" stop-color="#ffb000"/><stop offset="78.0%" stop-color="#ffd400"/><stop offset="80.0%" stop-color="#ff9b00"/><stop offset="86.0%" stop-color="#fff100"/><stop offset="88.0%" stop-color="#ffdc00"/><stop offset="92.0%" stop-color="#e3ff1b"/><stop offset="100.0%" stop-color="#fcff02"/></linearGradient><linearGradient id="h136"><stop offset="0.0%" stop-color="#ffdb00"/><stop offset="18.0%" stop-color="#dfff1f"/><stop offset="20.0%" stop-color="#f7ff07"/><stop offset="22.0%" stop-color="#a1ff5d"/><stop offset="24.0%" stop-color="#d5ff29"/><stop offset="28.0%" stop-color="#a1ff5d"/><stop offset="30.0%" stop-color="#d1ff2d"/><stop offset="32.0%" stop-color="#d0ff2e"/><stop offset="34.0%" stop-color="#9dff61"/><stop offset="38.0%" stop-color="#f3ff0b"/><stop offset="40.0%" stop-color="#b8ff46"/><stop offset="44.0%" stop-color="#b2ff4c"/><stop offset="48.0%" stop-color="#63ff9b"/><stop offset="50.0%" stop-color="#97ff67"/><stop offset="52.0%" stop-color="#ffee00"/><stop offset="56.0%" stop-color="#ff6900"/><stop offset="58.0%" stop-color="#ff6a00"/><stop offset="62.0%" stop-color="#ffd800"/><stop offset="68.0%" stop-color="#fbff03"/><stop offset="70.0%" stop-color="#fff800"/><stop offset="72.0%" stop-color="#ffb800"/><stop offset="80.0%" stop-color="#ffb100"/><stop offset="84.0%" stop-color="#ffec00"/><stop offset="94.0%" stop-color="#ff7e00"/><stop offset="100.0%" stop-color="#ffa300"/></linearGradient><linearGradient id="h137"><stop offset="0.0%" stop-color="#99ff65"/><stop offset="8.0%" stop-color="#b4ff4a"/><stop offset="10.0%" stop-color="#deff20"/><stop offset="16.0%" stop-color="#a6ff58"/><stop offset="20.0%" stop-color="#f9ff05"/><stop offset="24.0%" stop-color="#d7ff27"/><stop offset="26.0%" stop-color="#f0ff0e"/><stop offset="28.0%" stop-color="#a8ff56"/><stop offset="34.0%" stop-color="#c1ff3d"/><stop offset="42.0%" stop-color="#5fff9f"/><stop offset="44.0%" stop-color="#6aff94"/><stop offset="50.0%" stop-color="#eeff10"/><stop offset="56.0%" stop-color="#ff4500"/><stop offset="62.0%" stop-color="#ff7500"/><stop offset="64.0%" stop-color="#ffa700"/><stop offset="74.0%" stop-color="#ffa700"/><stop offset="84.0%" stop-color="#f5ff09"/><stop offset="90.0%" stop-color="#cfff2f"/><stop offset="92.0%" stop-color="#ffe500"/><stop offset="100.0%" stop-color="#ffc500"/></linearGradient><linearGradient id="h138"><stop offset="0.0%" stop-color="#79ff85"/><stop offset="2.0%" stop-color="#a9ff55"/><stop offset="4.0%" stop-color="#acff52"/><stop offset="6.0%" stop-color="#75ff89"/><stop offset="8.0%" stop-color="#b0ff4e"/><stop offset="12.0%" stop-color="#9cff62"/><stop offset="18.0%" stop-color="#ffee00"/><stop offset="24.0%" stop-color="#b7ff47"/><stop offset="26.0%" stop-color="#cfff2f"/><stop offset="28.0%" stop-color="#84ff7a"/><stop offset="34.0%" stop-color="#ceff30"/><stop offset="44.0%" stop-color="#8cff72"/><stop offset="50.0%" stop-color="#c0ff3e"/><stop offset="52.0%" stop-color="#ffee00"/><stop offset="56.0%" stop-color="#ff4e00"/><stop offset="58.0%" stop-color="#ff5300"/><stop offset="64.0%" stop-color="#dbff23"/><stop offset="66.0%" stop-color="#acff52"/><stop offset="68.0%" stop-color="#f9ff05"/><stop offset="70.0%" stop-color="#ffea00"/><stop offset="76.0%" stop-color="#ffcf00"/><stop offset="78.0%" stop-color="#e5ff19"/><stop offset="82.0%" stop-color="#fff700"/><stop offset="84.0%" stop-color="#deff20"/><stop offset="88.0%" stop-color="#ffa000"/><stop offset="92.0%" stop-color="#ffee00"/><stop offset="94.0%" stop-color="#ffaa00"/><stop offset="96.0%" stop-color="#ffe300"/><stop offset="100.0%" stop-color="#e2ff1c"/></linearGradient><linearGradient id="h139"><stop offset="0.0%" stop-color="#e6ff18"/><stop offset="8.0%" stop-color="#ddff21"/><stop offset="10.0%" stop-color="#faff04"/><stop offset="14.0%" stop-color="#bfff3f"/><stop offset="18.0%" stop-color="#f2ff0c"/><stop offset="22.0%" stop-color="#d5ff29"/><stop offset="24.0%" stop-color="#fdff01"/><stop offset="28.0%" stop-color="#e1ff1d"/><stop offset="38.0%" stop-color="#fff800"/><stop offset="40.0%" stop-color="#b1ff4d"/><stop offset="44.0%" stop-color="#e5ff19"/><stop offset="48.0%" stop-color="#94ff6a"/><stop offset="50.0%" stop-color="#c1ff3d"/><stop offset="54.0%" stop-color="#9aff64"/><stop offset="56.0%" stop-color="#fdff01"/><stop offset="60.0%" stop-color="#ffe000"/><stop offset="62.0%" stop-color="#feff00"/><stop offset="66.0%" stop-color="#c9ff35"/><stop offset="68.0%" stop-color="#ffe600"/><stop offset="70.0%" stop-color="#fdff01"/><stop offset="74.0%" stop-color="#ff8100"/><stop offset="78.0%" stop-color="#ff8f00"/><stop offset="80.0%" stop-color="#ff7200"/><stop offset="82.0%" stop-color="#ff8a00"/><stop offset="84.0%" stop-color="#ffe000"/><stop offset="88.0%" stop-color="#fff100"/><stop offset="96.0%" stop-color="#ffc200"/><stop offset="100.0%" stop-color="#ffe200"/></linearGradient><linearGradient id="h140"><stop offset="0.0%" stop-color="#ffe900"/><stop offset="14.0%" stop-color="#c4ff3a"/><stop offset="16.0%" stop-color="#8eff70"/><stop offset="18.0%" stop-color="#a5ff59"/><stop offset="20.0%" stop-color="#5fff9f"/><stop offset="22.0%" stop-color="#50ffae"/><stop offset="26.0%" stop-color="#afff4f"/><stop offset="34.0%" stop-color="#cdff31"/><stop offset="36.0%" stop-color="#9dff61"/><stop offset="40.0%" stop-color="#feff00"/><stop offset="42.0%" stop-color="#ffe500"/><stop offset="48.0%" stop-color="#beff40"/><stop offset="54.0%" stop-color="#f5ff09"/><stop offset="56.0%" stop-color="#ffb600"/><stop offset="58.0%" stop-color="#ffa700"/><stop offset="62.0%" stop-color="#eeff10"/><stop offset="72.0%" stop-color="#f1ff0d"/><stop offset="74.0%" stop-color="#bfff3f"/><stop offset="76.0%" stop-color="#feff00"/><stop offset="84.0%" stop-color="#ffc200"/><stop offset="86.0%" stop-color="#faff04"/><stop offset="88.0%" stop-color="#fffb00"/><stop offset="96.0%" stop-color="#ffbd00"/><stop offset="100.0%" stop-color="#e7ff17"/></linearGradient><linearGradient id="h141"><stop offset="0.0%" stop-color="#ffeb00"/><stop offset="2.0%" stop-color="#ffd100"/><stop offset="4.0%" stop-color="#fff600"/><stop offset="12.0%" stop-color="#fffc00"/><stop offset="14.0%" stop-color="#ffc700"/><stop offset="18.0%" stop-color="#ffc500"/><stop offset="20.0%" stop-color="#edff11"/><stop offset="26.0%" stop-color="#bbff43"/><stop offset="28.0%" stop-color="#bdff41"/><stop offset="30.0%" stop-color="#fff000"/><stop offset="46.0%" stop-color="#e6ff18"/><stop offset="52.0%" stop-color="#fff100"/><stop offset="54.0%" stop-color="#ffc800"/><stop offset="56.0%" stop-color="#ffe500"/><stop offset="58.0%" stop-color="#ffc900"/><stop offset="60.0%" stop-color="#ff7300"/><stop offset="64.0%" stop-color="#ffa300"/><stop offset="66.0%" stop-color="#ff6b00"/><stop offset="70.0%" stop-color="#ffe100"/><stop offset="74.0%" stop-color="#e7ff17"/><stop offset="76.0%" stop-color="#b2ff4c"/><stop offset="84.0%" stop-color="#fff200"/><stop offset="86.0%" stop-color="#ffba00"/><stop offset="88.0%" stop-color="#ffc800"/><stop offset="92.0%" stop-color="#ff8300"/><stop offset="94.0%" stop-color="#ff8400"/><stop offset="96.0%" stop-color="#ffc900"/><stop offset="100.0%" stop-color="#fffc00"/></linearGradient><linearGradient id="h142"><stop offset="0.0%" stop-color="#f7ff07"/><stop offset="6.0%" stop-color="#ffbe00"/><stop offset="8.0%" stop-color="#ffeb00"/><stop offset="12.0%" stop-color="#fffc00"/><stop offset="20.0%" stop-color="#ffee00"/><stop offset="28.0%" stop-color="#8cff72"/><stop offset="42.0%" stop-color="#e5ff19"/><stop offset="46.0%" stop-color="#ffc700"/><stop offset="54.0%" stop-color="#fffa00"/><stop offset="60.0%" stop-color="#ff7200"/><stop offset="62.0%" stop-color="#ff7300"/><stop offset="64.0%" stop-color="#ffd300"/><stop offset="66.0%" stop-color="#f6ff08"/><stop offset="70.0%" stop-color="#d1ff2d"/><stop offset="72.0%" stop-color="#f6ff08"/><stop offset="74.0%" stop-color="#ffc400"/><stop offset="80.0%" stop-color="#ff7c00"/><stop offset="92.0%" stop-color="#e7ff17"/><stop offset="100.0%" stop-color="#ffc000"/></linearGradient><linearGradient id="h143"><stop offset="0.0%" stop-color="#e4ff1a"/><stop offset="6.0%" stop-color="#5fff9f"/><stop offset="8.0%" stop-color="#b9ff45"/><stop offset="10.0%" stop-color="#9dff61"/><stop offset="16.0%" stop-color="#d7ff27"/><stop offset="20.0%" stop-color="#d3ff2b"/><stop offset="22.0%" stop-color="#9dff61"/><stop offset="26.0%" stop-color="#afff4f"/><stop offset="28.0%" stop-color="#84ff7a"/><stop offset="32.0%" stop-color="#c5ff39"/><stop offset="38.0%" stop-color="#c3ff3b"/><stop offset="42.0%" stop-color="#7bff83"/><stop offset="46.0%" stop-color="#b2ff4c"/><stop offset="48.0%" stop-color="#92ff6c"/><stop offset="50.0%" stop-color="#b3ff4b"/><stop offset="52.0%" stop-color="#ffec00"/><stop offset="60.0%" stop-color="#ff5100"/><stop offset="64.0%" stop-color="#ff8500"/><stop offset="66.0%" stop-color="#ffe200"/><stop offset="68.0%" stop-color="#ffec00"/><stop offset="76.0%" stop-color="#ff9300"/><stop offset="84.0%" stop-color="#ff9d00"/><stop offset="90.0%" stop-color="#fff400"/><stop offset="92.0%" stop-color="#ffd200"/><stop offset="96.0%" stop-color="#fff000"/><stop offset="100.0%" stop-color="#ffa500"/></linearGradient><linearGradient id="h144"><stop offset="0.0%" stop-color="#f6ff08"/><stop offset="4.0%" stop-color="#ffc500"/><stop offset="8.0%" stop-color="#fffb00"/><stop offset="24.0%" stop-color="#bbff43"/><stop offset="26.0%" stop-color="#f1ff0d"/><stop offset="30.0%" stop-color="#ffaa00"/><stop offset="34.0%" stop-color="#ff9a00"/><stop offset="38.0%" stop-color="#f2ff0c"/><stop offset="40.0%" stop-color="#c8ff36"/><stop offset="46.0%" stop-color="#f5ff09"/><stop offset="50.0%" stop-color="#ffac00"/><stop offset="52.0%" stop-color="#fff100"/><stop offset="58.0%" stop-color="#fffb00"/><stop offset="62.0%" stop-color="#ff2100"/><stop offset="70.0%" stop-color="#faff04"/><stop offset="80.0%" stop-color="#ffc300"/><stop offset="82.0%" stop-color="#fff600"/><stop offset="84.0%" stop-color="#fff700"/><stop offset="90.0%" stop-color="#ffcf00"/><stop offset="94.0%" stop-color="#ff7900"/><stop offset="100.0%" stop-color="#ffea00"/></linearGradient><linearGradient id="h145"><stop offset="0.0%" stop-color="#cfff2f"/><stop offset="2.0%" stop-color="#9aff64"/><stop offset="4.0%" stop-color="#98ff66"/><stop offset="10.0%" stop-color="#fbff03"/><stop offset="22.0%" stop-color="#70ff8e"/><stop offset="24.0%" stop-color="#96ff68"/><stop offset="28.0%" stop-color="#7eff80"/><stop offset="30.0%" stop-color="#41ffbd"/><stop offset="32.0%" stop-color="#98ff66"/><stop offset="34.0%" stop-color="#7eff80"/><stop offset="36.0%" stop-color="#bcff42"/><stop offset="42.0%" stop-color="#aaff54"/><stop offset="44.0%" stop-color="#ecff12"/><stop offset="54.0%" stop-color="#98ff66"/><stop offset="58.0%" stop-color="#e5ff19"/><stop offset="60.0%" stop-color="#ffda00"/><stop offset="64.0%" stop-color="#ffb100"/><stop offset="70.0%" stop-color="#e2ff1c"/><stop offset="80.0%" stop-color="#fffd00"/><stop offset="84.0%" stop-color="#b9ff45"/><stop offset="90.0%" stop-color="#f8ff06"/><stop offset="92.0%" stop-color="#ffd200"/><stop offset="94.0%" stop-color="#ffef00"/><stop offset="100.0%" stop-color="#b1ff4d"/></linearGradient><linearGradient id="h146"><stop offset="0.0%" stop-color="#fffe00"/><stop offset="4.0%" stop-color="#dfff1f"/><stop offset="10.0%" stop-color="#fcff02"/><stop offset="14.0%" stop-color="#ffd200"/><stop offset="16.0%" stop-color="#fdff01"/><stop offset="20.0%" stop-color="#fdff01"/><stop offset="40.0%" stop-color="#a0ff5e"/><stop offset="46.0%" stop-color="#fff500"/><stop offset="48.0%" stop-color="#ffbc00"/><stop offset="54.0%" stop-color="#f0ff0e"/><stop offset="62.0%" stop-color="#edff11"/><stop offset="64.0%" stop-color="#ffc800"/><stop offset="66.0%" stop-color="#ffc200"/><stop offset="68.0%" stop-color="#f3ff0b"/><stop offset="74.0%" stop-color="#ff9700"/><stop offset="82.0%" stop-color="#ffc000"/><stop offset="86.0%" stop-color="#ff6700"/><stop offset="90.0%" stop-color="#ffaf00"/><stop offset="92.0%" stop-color="#ff9600"/><stop offset="96.0%" stop-color="#edff11"/><stop offset="100.0%" stop-color="#efff0f"/></linearGradient><linearGradient id="h147"><stop offset="0.0%" stop-color="#efff0f"/><stop offset="10.0%" stop-color="#8fff6f"/><stop offset="12.0%" stop-color="#cbff33"/><stop offset="16.0%" stop-color="#a5ff59"/><stop offset="20.0%" stop-color="#c7ff37"/><stop offset="22.0%" stop-color="#71ff8d"/><stop offset="26.0%" stop-color="#d2ff2c"/><stop offset="30.0%" stop-color="#c8ff36"/><stop offset="32.0%" stop-color="#ffe400"/><stop offset="42.0%" stop-color="#bdff41"/><stop offset="46.0%" stop-color="#ffe300"/><stop offset="52.0%" stop-color="#ffd300"/><stop offset="54.0%" stop-color="#eeff10"/><stop offset="56.0%" stop-color="#a5ff59"/><stop offset="60.0%" stop-color="#deff20"/><stop offset="64.0%" stop-color="#ffe400"/><stop offset="66.0%" stop-color="#ff8e00"/><stop offset="72.0%" stop-color="#ffd300"/><stop offset="74.0%" stop-color="#ff8100"/><stop offset="78.0%" stop-color="#ffd100"/><stop offset="84.0%" stop-color="#fffe00"/><stop offset="100.0%" stop-color="#bcff42"/></linearGradient><linearGradient id="h148"><stop offset="0.0%" stop-color="#cbff33"/><stop offset="4.0%" stop-color="#ceff30"/><stop offset="6.0%" stop-color="#fffb00"/><stop offset="8.0%" stop-color="#ffda00"/><stop offset="10.0%" stop-color="#faff04"/><stop offset="14.0%" stop-color="#ffdd00"/><stop offset="18.0%" stop-color="#fff900"/><stop offset="30.0%" stop-color="#ffc400"/><stop offset="34.0%" stop-color="#fffa00"/><stop offset="50.0%" stop-color="#b4ff4a"/><stop offset="56.0%" stop-color="#ffeb00"/><stop offset="62.0%" stop-color="#e7ff17"/><stop offset="66.0%" stop-color="#ffd000"/><stop offset="68.0%" stop-color="#ff8800"/><stop offset="72.0%" stop-color="#ffdf00"/><stop offset="78.0%" stop-color="#dfff1f"/><stop offset="82.0%" stop-color="#ffd200"/><stop offset="84.0%" stop-color="#ff9300"/><stop offset="86.0%" stop-color="#ff9b00"/><stop offset="90.0%" stop-color="#fff700"/><stop offset="96.0%" stop-color="#b7ff47"/><stop offset="100.0%" stop-color="#ecff12"/></linearGradient><linearGradient id="h149"><stop offset="0.0%" stop-color="#70ff8e"/><stop offset="20.0%" stop-color="#fffd00"/><stop offset="24.0%" stop-color="#fdff01"/><stop offset="28.0%" stop-color="#ffb800"/><stop offset="36.0%" stop-color="#f5ff09"/><stop offset="38.0%" stop-color="#c3ff3b"/><stop offset="42.0%" stop-color="#fcff02"/><stop offset="48.0%" stop-color="#ffc000"/><stop offset="52.0%" stop-color="#d6ff28"/><stop offset="56.0%" stop-color="#a0ff5e"/><stop offset="60.0%" stop-color="#ccff32"/><stop offset="62.0%" stop-color="#fff200"/><stop offset="64.0%" stop-color="#ffd200"/><stop offset="68.0%" stop-color="#ff5800"/><stop offset="74.0%" stop-color="#ffb400"/><stop offset="82.0%" stop-color="#ff9300"/><stop offset="84.0%" stop-color="#ffc900"/><stop offset="92.0%" stop-color="#fffb00"/><stop offset="94.0%" stop-color="#ffc900"/><stop offset="100.0%" stop-color="#fff600"/></linearGradient><linearGradient id="h150"><stop offset="0.0%" stop-color="#64ff9a"/><stop offset="4.0%" stop-color="#a2ff5c"/><stop offset="14.0%" stop-color="#e0ff1e"/><stop offset="22.0%" stop-color="#beff40"/><stop offset="26.0%" stop-color="#ebff13"/><stop offset="30.0%" stop-color="#aeff50"/><stop offset="42.0%" stop-color="#fffa00"/><stop offset="48.0%" stop-color="#8dff71"/><stop offset="52.0%" stop-color="#88ff76"/><stop offset="54.0%" stop-color="#cdff31"/><stop offset="56.0%" stop-color="#c8ff36"/><stop offset="58.0%" stop-color="#f7ff07"/><stop offset="60.0%" stop-color="#dbff23"/><stop offset="62.0%" stop-color="#ffe800"/><stop offset="64.0%" stop-color="#ddff21"/><stop offset="68.0%" stop-color="#ffcd00"/><stop offset="72.0%" stop-color="#f4ff0a"/><stop offset="82.0%" stop-color="#ff8000"/><stop offset="88.0%" stop-color="#ff8d00"/><stop offset="90.0%" stop-color="#ffc900"/><stop offset="94.0%" stop-color="#ffe300"/><stop offset="96.0%" stop-color="#ffb300"/><stop offset="98.0%" stop-color="#ffd700"/><stop offset="100.0%" stop-color="#ffa900"/></linearGradient><linearGradient id="h151"><stop offset="0.0%" stop-color="#68ff96"/><stop offset="2.0%" stop-color="#acff52"/><stop offset="8.0%" stop-color="#e8ff16"/><stop offset="12.0%" stop-color="#adff51"/><stop offset="14.0%" stop-color="#50ffae"/><stop offset="22.0%" stop-color="#18ffe6"/><stop offset="26.0%" stop-color="#a3ff5b"/><stop offset="34.0%" stop-color="#ffe300"/><stop offset="38.0%" stop-color="#b1ff4d"/><stop offset="42.0%" stop-color="#daff24"/><stop offset="46.0%" stop-color="#54ffaa"/><stop offset="52.0%" stop-color="#4fffaf"/><stop offset="56.0%" stop-color="#e8ff16"/><stop offset="60.0%" stop-color="#dcff22"/><stop offset="62.0%" stop-color="#fff300"/><stop offset="66.0%" stop-color="#f6ff08"/><stop offset="68.0%" stop-color="#ffab00"/><stop offset="70.0%" stop-color="#ffa000"/><stop offset="72.0%" stop-color="#ffd600"/><stop offset="78.0%" stop-color="#eeff10"/><stop offset="82.0%" stop-color="#ffcb00"/><stop offset="84.0%" stop-color="#fff900"/><stop offset="92.0%" stop-color="#c7ff37"/><stop offset="94.0%" stop-color="#f0ff0e"/><stop offset="100.0%" stop-color="#eaff14"/></linearGradient><linearGradient id="h152"><stop offset="0.0%" stop-color="#d4ff2a"/><stop offset="14.0%" stop-color="#b1ff4d"/><stop offset="20.0%" stop-color="#d4ff2a"/><stop offset="22.0%" stop-color="#a8ff56"/><stop offset="24.0%" stop-color="#d9ff25"/><stop offset="28.0%" stop-color="#a4ff5a"/><stop offset="30.0%" stop-color="#ccff32"/><stop offset="34.0%" stop-color="#bbff43"/><stop offset="42.0%" stop-color="#faff04"/><stop offset="46.0%" stop-color="#c7ff37"/><stop offset="48.0%" stop-color="#ecff12"/><stop offset="52.0%" stop-color="#9dff61"/><stop offset="66.0%" stop-color="#e8ff16"/><stop offset="72.0%" stop-color="#ff6e00"/><stop offset="76.0%" stop-color="#ff8c00"/><stop offset="78.0%" stop-color="#ffde00"/><stop offset="80.0%" stop-color="#fff700"/><stop offset="86.0%" stop-color="#e6ff18"/><stop offset="88.0%" stop-color="#ffce00"/><stop offset="94.0%" stop-color="#ffb400"/><stop offset="100.0%" stop-color="#f3ff0b"/></linearGradient><linearGradient id="h153"><stop offset="0.0%" stop-color="#fffe00"/><stop offset="6.0%" stop-color="#d6ff28"/><stop offset="8.0%" stop-color="#ffd400"/><stop offset="10.0%" stop-color="#f6ff08"/><stop offset="16.0%" stop-color="#ffdf00"/><stop offset="18.0%" stop-color="#ceff30"/><stop offset="20.0%" stop-color="#faff04"/><stop offset="26.0%" stop-color="#d7ff27"/><stop offset="32.0%" stop-color="#fdff01"/><stop offset="40.0%" stop-color="#cbff33"/><stop offset="42.0%" stop-color="#ecff12"/><stop offset="44.0%" stop-color="#c9ff35"/><stop offset="46.0%" stop-color="#e1ff1d"/><stop offset="48.0%" stop-color="#a4ff5a"/><stop offset="50.0%" stop-color="#c8ff36"/><stop offset="56.0%" stop-color="#b8ff46"/><stop offset="58.0%" stop-color="#fbff03"/><stop offset="60.0%" stop-color="#ffd600"/><stop offset="62.0%" stop-color="#ffe300"/><stop offset="72.0%" stop-color="#ff4800"/><stop offset="78.0%" stop-color="#ffc500"/><stop offset="82.0%" stop-color="#ffbe00"/><stop offset="88.0%" stop-color="#efff0f"/><stop offset="94.0%" stop-color="#fff500"/><stop offset="98.0%" stop-color="#ffa900"/><stop offset="100.0%" stop-color="#ffe300"/></linearGradient><linearGradient id="h154"><stop offset="0.0%" stop-color="#edff11"/><stop offset="4.0%" stop-color="#faff04"/><stop offset="8.0%" stop-color="#7dff81"/><stop offset="18.0%" stop-color="#fff100"/><stop offset="20.0%" stop-color="#d8ff26"/><stop offset="22.0%" stop-color="#ffe200"/><stop offset="26.0%" stop-color="#feff00"/><stop offset="28.0%" stop-color="#ceff30"/><stop offset="30.0%" stop-color="#fffe00"/><stop offset="32.0%" stop-color="#b9ff45"/><stop offset="34.0%" stop-color="#dfff1f"/><stop offset="44.0%" stop-color="#78ff86"/><stop offset="52.0%" stop-color="#c5ff39"/><stop offset="62.0%" stop-color="#94ff6a"/><stop offset="64.0%" stop-color="#f6ff08"/><stop offset="72.0%" stop-color="#ff4500"/><stop offset="80.0%" stop-color="#ffe200"/><stop offset="100.0%" stop-color="#d7ff27"/></linearGradient><linearGradient id="h155"><stop offset="0.0%" stop-color="#f7ff07"/><stop offset="12.0%" stop-color="#a1ff5d"/><stop offset="14.0%" stop-color="#deff20"/><stop offset="16.0%" stop-color="#d4ff2a"/><stop offset="20.0%" stop-color="#8aff74"/><stop offset="22.0%" stop-color="#cbff33"/><stop offset="28.0%" stop-color="#fffe00"/><stop offset="30.0%" stop-color="#ffc600"/><stop offset="32.0%" stop-color="#eeff10"/><stop offset="34.0%" stop-color="#ccff32"/><stop offset="38.0%" stop-color="#fff100"/><stop offset="46.0%" stop-color="#fff500"/><stop offset="48.0%" stop-color="#ddff21"/><stop offset="54.0%" stop-color="#ffe500"/><stop offset="62.0%" stop-color="#fdff01"/><stop offset="66.0%" stop-color="#d5ff29"/><stop offset="68.0%" stop-color="#fffb00"/><stop offset="74.0%" stop-color="#ff3b00"/><stop offset="78.0%" stop-color="#ffb900"/><stop offset="82.0%" stop-color="#fff200"/><stop offset="90.0%" stop-color="#ff7400"/><stop offset="96.0%" stop-color="#ff8800"/><stop offset="100.0%" stop-color="#ffc300"/></linearGradient><linearGradient id="h156"><stop offset="0.0%" stop-color="#d3ff2b"/><stop offset="4.0%" stop-color="#fffe00"/><stop offset="6.0%" stop-color="#ffb900"/><stop offset="8.0%" stop-color="#fff000"/><stop offset="10.0%" stop-color="#ffcc00"/><stop offset="16.0%" stop-color="#ffe600"/><stop offset="18.0%" stop-color="#ffcd00"/><stop offset="22.0%" stop-color="#fff500"/><stop offset="26.0%" stop-color="#7eff80"/><stop offset="30.0%" stop-color="#bcff42"/><stop offset="32.0%" stop-color="#9aff64"/><stop offset="36.0%" stop-color="#e5ff19"/><stop offset="40.0%" stop-color="#b9ff45"/><stop offset="44.0%" stop-color="#f4ff0a"/><stop offset="48.0%" stop-color="#faff04"/><stop offset="50.0%" stop-color="#cbff33"/><stop offset="54.0%" stop-color="#fff300"/><stop offset="58.0%" stop-color="#c3ff3b"/><stop offset="62.0%" stop-color="#f4ff0a"/><stop offset="64.0%" stop-color="#baff44"/><stop offset="66.0%" stop-color="#e8ff16"/><stop offset="68.0%" stop-color="#ddff21"/><stop offset="72.0%" stop-color="#ffa800"/><stop offset="74.0%" stop-color="#ff2d00"/><stop offset="78.0%" stop-color="#ff3800"/><stop offset="80.0%" stop-color="#ffb900"/><stop offset="82.0%" stop-color="#ffea00"/><stop offset="84.0%" stop-color="#c3ff3b"/><stop offset="92.0%" stop-color="#efff0f"/><stop offset="94.0%" stop-color="#ffc800"/><stop offset="96.0%" stop-color="#ffdd00"/><stop offset="100.0%" stop-color="#ffa100"/></linearGradient><linearGradient id="h157"><stop offset="0.0%" stop-color="#f3ff0b"/><stop offset="6.0%" stop-color="#abff53"/><stop offset="8.0%" stop-color="#fffa00"/><stop offset="12.0%" stop-color="#fffe00"/><stop offset="16.0%" stop-color="#ffa600"/><stop offset="30.0%" stop-color="#fcff02"/><stop offset="34.0%" stop-color="#ffb800"/><stop offset="44.0%" stop-color="#efff0f"/><stop offset="52.0%" stop-color="#f5ff09"/><stop offset="54.0%" stop-color="#d2ff2c"/><stop offset="58.0%" stop-color="#fdff01"/><stop offset="70.0%" stop-color="#efff0f"/><stop offset="72.0%" stop-color="#ffe100"/><stop offset="74.0%" stop-color="#ff8c00"/><stop offset="78.0%" stop-color="#ff8300"/><stop offset="84.0%" stop-color="#ffdf00"/><stop offset="86.0%" stop-color="#ffcb00"/><stop offset="88.0%" stop-color="#fff000"/><stop offset="100.0%" stop-color="#ffc800"/></linearGradient><linearGradient id="h158"><stop offset="0.0%" stop-color="#96ff68"/><stop offset="6.0%" stop-color="#c4ff3a"/><stop offset="8.0%" stop-color="#f6ff08"/><stop offset="10.0%" stop-color="#ffd100"/><stop offset="18.0%" stop-color="#fff200"/><stop offset="26.0%" stop-color="#87ff77"/><stop offset="32.0%" stop-color="#6dff91"/><stop offset="36.0%" stop-color="#baff44"/><stop offset="38.0%" stop-color="#9bff63"/><stop offset="42.0%" stop-color="#fdff01"/><stop offset="46.0%" stop-color="#d1ff2d"/><stop offset="48.0%" stop-color="#feff00"/><stop offset="50.0%" stop-color="#a4ff5a"/><stop offset="52.0%" stop-color="#89ff75"/><stop offset="56.0%" stop-color="#ddff21"/><stop offset="58.0%" stop-color="#b5ff49"/><stop offset="62.0%" stop-color="#f7ff07"/><stop offset="66.0%" stop-color="#aeff50"/><stop offset="70.0%" stop-color="#e7ff17"/><stop offset="78.0%" stop-color="#ff6c00"/><stop offset="82.0%" stop-color="#ffde00"/><stop offset="84.0%" stop-color="#ffc600"/><stop offset="90.0%" stop-color="#f8ff06"/><stop offset="98.0%" stop-color="#dbff23"/><stop offset="100.0%" stop-color="#ffea00"/></linearGradient><linearGradient id="h159"><stop offset="0.0%" stop-color="#b1ff4d"/><stop offset="8.0%" stop-color="#fff700"/><stop offset="10.0%" stop-color="#b5ff49"/><stop offset="18.0%" stop-color="#73ff8b"/><stop offset="20.0%" stop-color="#bfff3f"/><stop offset="28.0%" stop-color="#eeff10"/><stop offset="32.0%" stop-color="#e3ff1b"/><stop offset="40.0%" stop-color="#65ff99"/><stop offset="42.0%" stop-color="#a3ff5b"/><stop offset="48.0%" stop-color="#f7ff07"/><stop offset="56.0%" stop-color="#e9ff15"/><stop offset="58.0%" stop-color="#b4ff4a"/><stop offset="62.0%" stop-color="#bfff3f"/><stop offset="64.0%" stop-color="#88ff76"/><stop offset="72.0%" stop-color="#fdff01"/><stop offset="76.0%" stop-color="#ff7e00"/><stop offset="78.0%" stop-color="#ff8900"/><stop offset="80.0%" stop-color="#ffe300"/><stop offset="82.0%" stop-color="#ccff32"/><stop offset="84.0%" stop-color="#a6ff58"/><stop offset="88.0%" stop-color="#fdff01"/><stop offset="92.0%" stop-color="#ffa700"/><stop offset="98.0%" stop-color="#ffce00"/><stop offset="100.0%" stop-color="#f5ff09"/></linearGradient><linearGradient id="h160"><stop offset="0.0%" stop-color="#97ff67"/><stop offset="2.0%" stop-color="#b4ff4a"/><stop offset="4.0%" stop-color="#9fff5f"/><stop offset="8.0%" stop-color="#f2ff0c"/><stop offset="10.0%" stop-color="#c6ff38"/><stop offset="12.0%" stop-color="#e4ff1a"/><stop offset="18.0%" stop-color="#9cff62"/><stop offset="24.0%" stop-color="#a2ff5c"/><stop offset="30.0%" stop-color="#fff200"/><stop offset="32.0%" stop-color="#e9ff15"/><stop offset="34.0%" stop-color="#ffd200"/><stop offset="38.0%" stop-color="#fffc00"/><stop offset="44.0%" stop-color="#afff4f"/><stop offset="50.0%" stop-color="#b6ff48"/><stop offset="56.0%" stop-color="#f8ff06"/><stop offset="64.0%" stop-color="#fffe00"/><stop offset="72.0%" stop-color="#ceff30"/><stop offset="74.0%" stop-color="#f5ff09"/><stop offset="78.0%" stop-color="#ff7300"/><stop offset="80.0%" stop-color="#ff6c00"/><stop offset="84.0%" stop-color="#ffd400"/><stop offset="86.0%" stop-color="#c3ff3b"/><stop offset="94.0%" stop-color="#f6ff08"/><stop offset="100.0%" stop-color="#ff8300"/></linearGradient><linearGradient id="cb" x1="0" y1="0" x2="0" y2="1"><stop offset="0.00" stop-color="#7f0000"/><stop offset="0.05" stop-color="#b20000"/><stop offset="0.10" stop-color="#e50000"/><stop offset="0.15" stop-color="#ff1900"/><stop offset="0.20" stop-color="#ff4c00"/><stop offset="0.25" stop-color="#ff7f00"/><stop offset="0.30" stop-color="#ffb200"/><stop offset="0.35" stop-color="#ffe500"/><stop offset="0.40" stop-color="#e5ff19"/><stop offset="0.45" stop-color="#b2ff4c"/><stop offset="0.50" stop-color="#7fff7f"/><stop offset="0.55" stop-color="#4cffb2"/><stop offset="0.60" stop-color="#19ffe5"/><stop offset="0.65" stop-color="#00e5ff"/><stop offset="0.70" stop-color="#00b2ff"/><stop offset="0.75" stop-color="#007fff"/><stop offset="0.80" stop-color="#004cff"/><stop offset="0.85" stop-color="#0019ff"/><stop offset="0.90" stop-color="#0000e5"/><stop offset="0.95" stop-color="#0000b2"/><stop offset="1.00" stop-color="#00007f"/></linearGradient><marker id="gd" markerWidth="5" markerHeight="5" refX="2.5" refY="2.5" markerUnits="userSpaceOnUse" overflow="visible"><circle cx="2.5" cy="2.5" r="1.55" fill="#fff" stroke="#666" stroke-width="0.6"/></marker><marker id="mmf" markerWidth="4.8" markerHeight="4.8" refX="2.4" refY="2.4" markerUnits="userSpaceOnUse" overflow="visible"><circle cx="2.4" cy="2.4" r="1.35" fill="none" stroke="#e818e8" stroke-width="0.55" opacity="1"/></marker><marker id="mbf" markerWidth="4.8" markerHeight="4.8" refX="2.4" refY="2.4" markerUnits="userSpaceOnUse" overflow="visible"><circle cx="2.4" cy="2.4" r="1.35" fill="none" stroke="#1616ff" stroke-width="0.55" opacity="1"/></marker><marker id="mmf2" markerWidth="4.8" markerHeight="4.8" refX="2.4" refY="2.4" markerUnits="userSpaceOnUse" overflow="visible"><circle cx="2.4" cy="2.4" r="1.35" fill="none" stroke="#e818e8" stroke-width="0.55" opacity="1"/></marker><marker id="mgf" markerWidth="4.8" markerHeight="4.8" refX="2.4" refY="2.4" markerUnits="userSpaceOnUse" overflow="visible"><circle cx="2.4" cy="2.4" r="1.35" fill="none" stroke="#22ee22" stroke-width="0.55" opacity="1"/></marker><marker id="mkf" markerWidth="4.8" markerHeight="4.8" refX="2.4" refY="2.4" markerUnits="userSpaceOnUse" overflow="visible"><circle cx="2.4" cy="2.4" r="1.35" fill="none" stroke="#333" stroke-width="0.55" opacity="1"/></marker></defs>
<rect width="685" height="795" fill="#fff"/>
<text x="0.0" y="14.0" font-size="18" text-anchor="start" font-weight="bold" fill="#000" >a</text>
<text x="110.8" y="26.2" font-size="13.3" text-anchor="middle" fill="#222" >15x15 grid</text>
<rect x="12.8" y="35.9" width="11.6" height="11.6" fill="rgb(2,42,2)"/>
<rect x="25.6" y="35.9" width="11.6" height="11.6" fill="rgb(2,39,2)"/>
<rect x="38.4" y="35.9" width="11.6" height="11.6" fill="rgb(2,49,2)"/>
<rect x="51.2" y="35.9" width="11.6" height="11.6" fill="rgb(2,37,2)"/>
<rect x="64.0" y="35.9" width="11.6" height="11.6" fill="rgb(2,46,2)"/>
<rect x="76.8" y="35.9" width="11.6" height="11.6" fill="rgb(2,43,2)"/>
<rect x="89.6" y="35.9" width="11.6" height="11.6" fill="rgb(2,37,2)"/>
<rect x="102.4" y="35.9" width="11.6" height="11.6" fill="rgb(2,46,2)"/>
<rect x="115.2" y="35.9" width="11.6" height="11.6" fill="rgb(2,36,2)"/>
<rect x="128.0" y="35.9" width="11.6" height="11.6" fill="rgb(2,44,2)"/>
<rect x="140.8" y="35.9" width="11.6" height="11.6" fill="rgb(2,37,2)"/>
<rect x="153.6" y="35.9" width="11.6" height="11.6" fill="rgb(2,37,2)"/>
<rect x="166.4" y="35.9" width="11.6" height="11.6" fill="rgb(2,44,2)"/>
<rect x="179.2" y="35.9" width="11.6" height="11.6" fill="rgb(2,52,2)"/>
<rect x="192.0" y="35.9" width="11.6" height="11.6" fill="rgb(2,38,2)"/>
<rect x="12.8" y="48.7" width="11.6" height="11.6" fill="rgb(2,40,2)"/>
<rect x="25.6" y="48.7" width="11.6" height="11.6" fill="rgb(2,48,2)"/>
<rect x="38.4" y="48.7" width="11.6" height="11.6" fill="rgb(2,54,2)"/>
<rect x="51.2" y="48.7" width="11.6" height="11.6" fill="rgb(2,47,2)"/>
<rect x="64.0" y="48.7" width="11.6" height="11.6" fill="rgb(2,43,2)"/>
<rect x="76.8" y="48.7" width="11.6" height="11.6" fill="rgb(2,55,2)"/>
<rect x="89.6" y="48.7" width="11.6" height="11.6" fill="rgb(2,36,2)"/>
<rect x="102.4" y="48.7" width="11.6" height="11.6" fill="rgb(2,53,2)"/>
<rect x="115.2" y="48.7" width="11.6" height="11.6" fill="rgb(2,41,2)"/>
<rect x="128.0" y="48.7" width="11.6" height="11.6" fill="rgb(2,38,2)"/>
<rect x="140.8" y="48.7" width="11.6" height="11.6" fill="rgb(2,38,2)"/>
<rect x="153.6" y="48.7" width="11.6" height="11.6" fill="rgb(2,42,2)"/>
<rect x="166.4" y="48.7" width="11.6" height="11.6" fill="rgb(2,52,2)"/>
<rect x="179.2" y="48.7" width="11.6" height="11.6" fill="rgb(2,39,2)"/>
<rect x="192.0" y="48.7" width="11.6" height="11.6" fill="rgb(2,47,2)"/>
<rect x="12.8" y="61.5" width="11.6" height="11.6" fill="rgb(2,48,2)"/>
<rect x="25.6" y="61.5" width="11.6" height="11.6" fill="rgb(2,43,2)"/>
<rect x="38.4" y="61.5" width="11.6" height="11.6" fill="rgb(2,46,2)"/>
<rect x="51.2" y="61.5" width="11.6" height="11.6" fill="rgb(2,37,2)"/>
<rect x="64.0" y="61.5" width="11.6" height="11.6" fill="rgb(2,37,2)"/>
<rect x="76.8" y="61.5" width="11.6" height="11.6" fill="rgb(2,40,2)"/>
<rect x="89.6" y="61.5" width="11.6" height="11.6" fill="rgb(2,49,2)"/>
<rect x="102.4" y="61.5" width="11.6" height="11.6" fill="rgb(2,44,2)"/>
<rect x="115.2" y="61.5" width="11.6" height="11.6" fill="rgb(2,42,2)"/>
<rect x="128.0" y="61.5" width="11.6" height="11.6" fill="rgb(2,47,2)"/>
<rect x="140.8" y="61.5" width="11.6" height="11.6" fill="rgb(2,45,2)"/>
<rect x="153.6" y="61.5" width="11.6" height="11.6" fill="rgb(2,41,2)"/>
<rect x="166.4" y="61.5" width="11.6" height="11.6" fill="rgb(2,51,2)"/>
<rect x="179.2" y="61.5" width="11.6" height="11.6" fill="rgb(2,49,2)"/>
<rect x="192.0" y="61.5" width="11.6" height="11.6" fill="rgb(2,40,2)"/>
<rect x="12.8" y="74.3" width="11.6" height="11.6" fill="rgb(2,47,2)"/>
<rect x="25.6" y="74.3" width="11.6" height="11.6" fill="rgb(2,46,2)"/>
<rect x="38.4" y="74.3" width="11.6" height="11.6" fill="rgb(2,53,2)"/>
<rect x="51.2" y="74.3" width="11.6" height="11.6" fill="rgb(2,50,2)"/>
<rect x="64.0" y="74.3" width="11.6" height="11.6" fill="rgb(2,41,2)"/>
<rect x="76.8" y="74.3" width="11.6" height="11.6" fill="rgb(2,55,2)"/>
<rect x="89.6" y="74.3" width="11.6" height="11.6" fill="rgb(2,39,2)"/>
<rect x="102.4" y="74.3" width="11.6" height="11.6" fill="rgb(2,45,2)"/>
<rect x="115.2" y="74.3" width="11.6" height="11.6" fill="rgb(2,51,2)"/>
<rect x="128.0" y="74.3" width="11.6" height="11.6" fill="rgb(2,39,2)"/>
<rect x="140.8" y="74.3" width="11.6" height="11.6" fill="rgb(2,45,2)"/>
<rect x="153.6" y="74.3" width="11.6" height="11.6" fill="rgb(2,36,2)"/>
<rect x="166.4" y="74.3" width="11.6" height="11.6" fill="rgb(2,49,2)"/>
<rect x="179.2" y="74.3" width="11.6" height="11.6" fill="rgb(2,51,2)"/>
<rect x="192.0" y="74.3" width="11.6" height="11.6" fill="rgb(2,47,2)"/>
<rect x="12.8" y="87.1" width="11.6" height="11.6" fill="rgb(2,53,2)"/>
<rect x="25.6" y="87.1" width="11.6" height="11.6" fill="rgb(2,42,2)"/>
<rect x="38.4" y="87.1" width="11.6" height="11.6" fill="rgb(2,49,2)"/>
<rect x="51.2" y="87.1" width="11.6" height="11.6" fill="rgb(2,53,2)"/>
<rect x="64.0" y="87.1" width="11.6" height="11.6" fill="rgb(2,59,2)"/>
<rect x="76.8" y="87.1" width="11.6" height="11.6" fill="rgb(3,61,3)"/>
<rect x="89.6" y="87.1" width="11.6" height="11.6" fill="rgb(3,68,3)"/>
<rect x="102.4" y="87.1" width="11.6" height="11.6" fill="rgb(3,67,3)"/>
<rect x="115.2" y="87.1" width="11.6" height="11.6" fill="rgb(2,66,2)"/>
<rect x="128.0" y="87.1" width="11.6" height="11.6" fill="rgb(2,54,2)"/>
<rect x="140.8" y="87.1" width="11.6" height="11.6" fill="rgb(2,49,2)"/>
<rect x="153.6" y="87.1" width="11.6" height="11.6" fill="rgb(2,53,2)"/>
<rect x="166.4" y="87.1" width="11.6" height="11.6" fill="rgb(2,52,2)"/>
<rect x="179.2" y="87.1" width="11.6" height="11.6" fill="rgb(2,53,2)"/>
<rect x="192.0" y="87.1" width="11.6" height="11.6" fill="rgb(2,41,2)"/>
<rect x="12.8" y="99.9" width="11.6" height="11.6" fill="rgb(2,44,2)"/>
<rect x="25.6" y="99.9" width="11.6" height="11.6" fill="rgb(2,43,2)"/>
<rect x="38.4" y="99.9" width="11.6" height="11.6" fill="rgb(2,64,2)"/>
<rect x="51.2" y="99.9" width="11.6" height="11.6" fill="rgb(3,74,3)"/>
<rect x="64.0" y="99.9" width="11.6" height="11.6" fill="rgb(3,75,3)"/>
<rect x="76.8" y="99.9" width="11.6" height="11.6" fill="rgb(4,69,4)"/>
<rect x="89.6" y="99.9" width="11.6" height="11.6" fill="rgb(4,75,4)"/>
<rect x="102.4" y="99.9" width="11.6" height="11.6" fill="rgb(4,73,4)"/>
<rect x="115.2" y="99.9" width="11.6" height="11.6" fill="rgb(3,73,3)"/>
<rect x="128.0" y="99.9" width="11.6" height="11.6" fill="rgb(3,80,3)"/>
<rect x="140.8" y="99.9" width="11.6" height="11.6" fill="rgb(3,68,3)"/>
<rect x="153.6" y="99.9" width="11.6" height="11.6" fill="rgb(2,47,2)"/>
<rect x="166.4" y="99.9" width="11.6" height="11.6" fill="rgb(2,46,2)"/>
<rect x="179.2" y="99.9" width="11.6" height="11.6" fill="rgb(2,43,2)"/>
<rect x="192.0" y="99.9" width="11.6" height="11.6" fill="rgb(2,36,2)"/>
<rect x="12.8" y="112.7" width="11.6" height="11.6" fill="rgb(2,36,2)"/>
<rect x="25.6" y="112.7" width="11.6" height="11.6" fill="rgb(2,51,2)"/>
<rect x="38.4" y="112.7" width="11.6" height="11.6" fill="rgb(3,62,3)"/>
<rect x="51.2" y="112.7" width="11.6" height="11.6" fill="rgb(4,87,4)"/>
<rect x="64.0" y="112.7" width="11.6" height="11.6" fill="rgb(4,93,4)"/>
<rect x="76.8" y="112.7" width="11.6" height="11.6" fill="rgb(5,104,5)"/>
<rect x="89.6" y="112.7" width="11.6" height="11.6" fill="rgb(5,91,5)"/>
<rect x="102.4" y="112.7" width="11.6" height="11.6" fill="rgb(5,90,5)"/>
<rect x="115.2" y="112.7" width="11.6" height="11.6" fill="rgb(4,85,4)"/>
<rect x="128.0" y="112.7" width="11.6" height="11.6" fill="rgb(4,79,4)"/>
<rect x="140.8" y="112.7" width="11.6" height="11.6" fill="rgb(3,73,3)"/>
<rect x="153.6" y="112.7" width="11.6" height="11.6" fill="rgb(3,55,3)"/>
<rect x="166.4" y="112.7" width="11.6" height="11.6" fill="rgb(2,54,2)"/>
<rect x="179.2" y="112.7" width="11.6" height="11.6" fill="rgb(2,51,2)"/>
<rect x="192.0" y="112.7" width="11.6" height="11.6" fill="rgb(2,53,2)"/>
<rect x="12.8" y="125.5" width="11.6" height="11.6" fill="rgb(2,42,2)"/>
<rect x="25.6" y="125.5" width="11.6" height="11.6" fill="rgb(3,67,3)"/>
<rect x="38.4" y="125.5" width="11.6" height="11.6" fill="rgb(3,84,3)"/>
<rect x="51.2" y="125.5" width="11.6" height="11.6" fill="rgb(4,92,4)"/>
<rect x="64.0" y="125.5" width="11.6" height="11.6" fill="rgb(5,109,5)"/>
<rect x="76.8" y="125.5" width="11.6" height="11.6" fill="rgb(6,100,6)"/>
<rect x="89.6" y="125.5" width="11.6" height="11.6" fill="rgb(6,107,6)"/>
<rect x="102.4" y="125.5" width="11.6" height="11.6" fill="rgb(6,104,6)"/>
<rect x="115.2" y="125.5" width="11.6" height="11.6" fill="rgb(5,112,5)"/>
<rect x="128.0" y="125.5" width="11.6" height="11.6" fill="rgb(5,90,5)"/>
<rect x="140.8" y="125.5" width="11.6" height="11.6" fill="rgb(4,83,4)"/>
<rect x="153.6" y="125.5" width="11.6" height="11.6" fill="rgb(3,72,3)"/>
<rect x="166.4" y="125.5" width="11.6" height="11.6" fill="rgb(2,60,2)"/>
<rect x="179.2" y="125.5" width="11.6" height="11.6" fill="rgb(2,36,2)"/>
<rect x="192.0" y="125.5" width="11.6" height="11.6" fill="rgb(2,52,2)"/>
<rect x="12.8" y="138.3" width="11.6" height="11.6" fill="rgb(2,60,2)"/>
<rect x="25.6" y="138.3" width="11.6" height="11.6" fill="rgb(3,69,3)"/>
<rect x="38.4" y="138.3" width="11.6" height="11.6" fill="rgb(4,87,4)"/>
<rect x="51.2" y="138.3" width="11.6" height="11.6" fill="rgb(5,86,5)"/>
<rect x="64.0" y="138.3" width="11.6" height="11.6" fill="rgb(5,99,5)"/>
<rect x="76.8" y="138.3" width="11.6" height="11.6" fill="rgb(6,125,6)"/>
<rect x="89.6" y="138.3" width="11.6" height="11.6" fill="rgb(7,140,7)"/>
<rect x="102.4" y="138.3" width="11.6" height="11.6" fill="rgb(7,127,7)"/>
<rect x="115.2" y="138.3" width="11.6" height="11.6" fill="rgb(6,106,6)"/>
<rect x="128.0" y="138.3" width="11.6" height="11.6" fill="rgb(5,103,5)"/>
<rect x="140.8" y="138.3" width="11.6" height="11.6" fill="rgb(4,83,4)"/>
<rect x="153.6" y="138.3" width="11.6" height="11.6" fill="rgb(3,82,3)"/>
<rect x="166.4" y="138.3" width="11.6" height="11.6" fill="rgb(2,68,2)"/>
<rect x="179.2" y="138.3" width="11.6" height="11.6" fill="rgb(2,43,2)"/>
<rect x="192.0" y="138.3" width="11.6" height="11.6" fill="rgb(2,37,2)"/>
<rect x="12.8" y="151.1" width="11.6" height="11.6" fill="rgb(2,48,2)"/>
<rect x="25.6" y="151.1" width="11.6" height="11.6" fill="rgb(3,75,3)"/>
<rect x="38.4" y="151.1" width="11.6" height="11.6" fill="rgb(4,75,4)"/>
<rect x="51.2" y="151.1" width="11.6" height="11.6" fill="rgb(5,93,5)"/>
<rect x="64.0" y="151.1" width="11.6" height="11.6" fill="rgb(5,113,5)"/>
<rect x="76.8" y="151.1" width="11.6" height="11.6" fill="rgb(6,122,6)"/>
<rect x="89.6" y="151.1" width="11.6" height="11.6" fill="rgb(7,134,7)"/>
<rect x="102.4" y="151.1" width="11.6" height="11.6" fill="rgb(7,121,7)"/>
<rect x="115.2" y="151.1" width="11.6" height="11.6" fill="rgb(6,120,6)"/>
<rect x="128.0" y="151.1" width="11.6" height="11.6" fill="rgb(5,108,5)"/>
<rect x="140.8" y="151.1" width="11.6" height="11.6" fill="rgb(4,97,4)"/>
<rect x="153.6" y="151.1" width="11.6" height="11.6" fill="rgb(3,70,3)"/>
<rect x="166.4" y="151.1" width="11.6" height="11.6" fill="rgb(2,58,2)"/>
<rect x="179.2" y="151.1" width="11.6" height="11.6" fill="rgb(2,53,2)"/>
<rect x="192.0" y="151.1" width="11.6" height="11.6" fill="rgb(2,50,2)"/>
<rect x="12.8" y="163.9" width="11.6" height="11.6" fill="rgb(2,55,2)"/>
<rect x="25.6" y="163.9" width="11.6" height="11.6" fill="rgb(3,68,3)"/>
<rect x="38.4" y="163.9" width="11.6" height="11.6" fill="rgb(3,67,3)"/>
<rect x="51.2" y="163.9" width="11.6" height="11.6" fill="rgb(4,83,4)"/>
<rect x="64.0" y="163.9" width="11.6" height="11.6" fill="rgb(5,106,5)"/>
<rect x="76.8" y="163.9" width="11.6" height="11.6" fill="rgb(6,119,6)"/>
<rect x="89.6" y="163.9" width="11.6" height="11.6" fill="rgb(6,116,6)"/>
<rect x="102.4" y="163.9" width="11.6" height="11.6" fill="rgb(6,115,6)"/>
<rect x="115.2" y="163.9" width="11.6" height="11.6" fill="rgb(5,98,5)"/>
<rect x="128.0" y="163.9" width="11.6" height="11.6" fill="rgb(5,89,5)"/>
<rect x="140.8" y="163.9" width="11.6" height="11.6" fill="rgb(4,83,4)"/>
<rect x="153.6" y="163.9" width="11.6" height="11.6" fill="rgb(3,79,3)"/>
<rect x="166.4" y="163.9" width="11.6" height="11.6" fill="rgb(2,51,2)"/>
<rect x="179.2" y="163.9" width="11.6" height="11.6" fill="rgb(2,44,2)"/>
<rect x="192.0" y="163.9" width="11.6" height="11.6" fill="rgb(2,52,2)"/>
<rect x="12.8" y="176.7" width="11.6" height="11.6" fill="rgb(2,52,2)"/>
<rect x="25.6" y="176.7" width="11.6" height="11.6" fill="rgb(2,49,2)"/>
<rect x="38.4" y="176.7" width="11.6" height="11.6" fill="rgb(3,61,3)"/>
<rect x="51.2" y="176.7" width="11.6" height="11.6" fill="rgb(4,82,4)"/>
<rect x="64.0" y="176.7" width="11.6" height="11.6" fill="rgb(4,83,4)"/>
<rect x="76.8" y="176.7" width="11.6" height="11.6" fill="rgb(5,100,5)"/>
<rect x="89.6" y="176.7" width="11.6" height="11.6" fill="rgb(5,98,5)"/>
<rect x="102.4" y="176.7" width="11.6" height="11.6" fill="rgb(5,103,5)"/>
<rect x="115.2" y="176.7" width="11.6" height="11.6" fill="rgb(4,83,4)"/>
<rect x="128.0" y="176.7" width="11.6" height="11.6" fill="rgb(4,81,4)"/>
<rect x="140.8" y="176.7" width="11.6" height="11.6" fill="rgb(3,83,3)"/>
<rect x="153.6" y="176.7" width="11.6" height="11.6" fill="rgb(3,72,3)"/>
<rect x="166.4" y="176.7" width="11.6" height="11.6" fill="rgb(2,43,2)"/>
<rect x="179.2" y="176.7" width="11.6" height="11.6" fill="rgb(2,48,2)"/>
<rect x="192.0" y="176.7" width="11.6" height="11.6" fill="rgb(2,44,2)"/>
<rect x="12.8" y="189.5" width="11.6" height="11.6" fill="rgb(2,46,2)"/>
<rect x="25.6" y="189.5" width="11.6" height="11.6" fill="rgb(2,54,2)"/>
<rect x="38.4" y="189.5" width="11.6" height="11.6" fill="rgb(2,49,2)"/>
<rect x="51.2" y="189.5" width="11.6" height="11.6" fill="rgb(3,60,3)"/>
<rect x="64.0" y="189.5" width="11.6" height="11.6" fill="rgb(3,70,3)"/>
<rect x="76.8" y="189.5" width="11.6" height="11.6" fill="rgb(4,70,4)"/>
<rect x="89.6" y="189.5" width="11.6" height="11.6" fill="rgb(4,80,4)"/>
<rect x="102.4" y="189.5" width="11.6" height="11.6" fill="rgb(4,71,4)"/>
<rect x="115.2" y="189.5" width="11.6" height="11.6" fill="rgb(3,73,3)"/>
<rect x="128.0" y="189.5" width="11.6" height="11.6" fill="rgb(3,65,3)"/>
<rect x="140.8" y="189.5" width="11.6" height="11.6" fill="rgb(3,60,3)"/>
<rect x="153.6" y="189.5" width="11.6" height="11.6" fill="rgb(2,46,2)"/>
<rect x="166.4" y="189.5" width="11.6" height="11.6" fill="rgb(2,53,2)"/>
<rect x="179.2" y="189.5" width="11.6" height="11.6" fill="rgb(2,36,2)"/>
<rect x="192.0" y="189.5" width="11.6" height="11.6" fill="rgb(2,41,2)"/>
<rect x="12.8" y="202.3" width="11.6" height="11.6" fill="rgb(2,40,2)"/>
<rect x="25.6" y="202.3" width="11.6" height="11.6" fill="rgb(2,50,2)"/>
<rect x="38.4" y="202.3" width="11.6" height="11.6" fill="rgb(2,54,2)"/>
<rect x="51.2" y="202.3" width="11.6" height="11.6" fill="rgb(2,56,2)"/>
<rect x="64.0" y="202.3" width="11.6" height="11.6" fill="rgb(2,54,2)"/>
<rect x="76.8" y="202.3" width="11.6" height="11.6" fill="rgb(3,70,3)"/>
<rect x="89.6" y="202.3" width="11.6" height="11.6" fill="rgb(3,67,3)"/>
<rect x="102.4" y="202.3" width="11.6" height="11.6" fill="rgb(3,62,3)"/>
<rect x="115.2" y="202.3" width="11.6" height="11.6" fill="rgb(2,52,2)"/>
<rect x="128.0" y="202.3" width="11.6" height="11.6" fill="rgb(2,52,2)"/>
<rect x="140.8" y="202.3" width="11.6" height="11.6" fill="rgb(2,41,2)"/>
<rect x="153.6" y="202.3" width="11.6" height="11.6" fill="rgb(2,36,2)"/>
<rect x="166.4" y="202.3" width="11.6" height="11.6" fill="rgb(2,36,2)"/>
<rect x="179.2" y="202.3" width="11.6" height="11.6" fill="rgb(2,49,2)"/>
<rect x="192.0" y="202.3" width="11.6" height="11.6" fill="rgb(2,48,2)"/>
<rect x="12.8" y="215.1" width="11.6" height="11.6" fill="rgb(2,49,2)"/>
<rect x="25.6" y="215.1" width="11.6" height="11.6" fill="rgb(2,50,2)"/>
<rect x="38.4" y="215.1" width="11.6" height="11.6" fill="rgb(2,37,2)"/>
<rect x="51.2" y="215.1" width="11.6" height="11.6" fill="rgb(2,47,2)"/>
<rect x="64.0" y="215.1" width="11.6" height="11.6" fill="rgb(2,43,2)"/>
<rect x="76.8" y="215.1" width="11.6" height="11.6" fill="rgb(2,52,2)"/>
<rect x="89.6" y="215.1" width="11.6" height="11.6" fill="rgb(2,53,2)"/>
<rect x="102.4" y="215.1" width="11.6" height="11.6" fill="rgb(2,55,2)"/>
<rect x="115.2" y="215.1" width="11.6" height="11.6" fill="rgb(2,37,2)"/>
<rect x="128.0" y="215.1" width="11.6" height="11.6" fill="rgb(2,53,2)"/>
<rect x="140.8" y="215.1" width="11.6" height="11.6" fill="rgb(2,54,2)"/>
<rect x="153.6" y="215.1" width="11.6" height="11.6" fill="rgb(2,54,2)"/>
<rect x="166.4" y="215.1" width="11.6" height="11.6" fill="rgb(2,38,2)"/>
<rect x="179.2" y="215.1" width="11.6" height="11.6" fill="rgb(2,40,2)"/>
<rect x="192.0" y="215.1" width="11.6" height="11.6" fill="rgb(2,38,2)"/>
<g clip-path="url(#gclip)"><g filter="url(#bl1)"><ellipse cx="85.8" cy="97.1" rx="2.1" ry="0.8" fill="rgb(20,139,20)" opacity="0.40"/><ellipse cx="96.8" cy="97.6" rx="1.5" ry="1.1" fill="rgb(21,146,21)" opacity="0.41"/><ellipse cx="103.6" cy="92.5" rx="1.2" ry="0.8" fill="rgb(20,136,20)" opacity="0.40"/><ellipse cx="117.4" cy="90.5" rx="2.4" ry="0.8" fill="rgb(20,136,20)" opacity="0.39"/><ellipse cx="53.6" cy="102.6" rx="1.4" ry="1.2" fill="rgb(20,139,20)" opacity="0.41"/><ellipse cx="67.5" cy="100.9" rx="1.6" ry="1.3" fill="rgb(22,150,22)" opacity="0.46"/><ellipse cx="74.1" cy="107.5" rx="2.0" ry="1.4" fill="rgb(22,152,22)" opacity="0.46"/><ellipse cx="86.4" cy="108.3" rx="2.3" ry="1.1" fill="rgb(25,168,25)" opacity="0.49"/><ellipse cx="81.6" cy="101.9" rx="1.1" ry="0.8" fill="rgb(24,162,24)" opacity="0.49"/><ellipse cx="92.1" cy="104.1" rx="1.0" ry="0.9" fill="rgb(22,149,22)" opacity="0.51"/><ellipse cx="91.6" cy="104.4" rx="2.4" ry="1.4" fill="rgb(22,148,22)" opacity="0.51"/><ellipse cx="105.8" cy="104.2" rx="1.2" ry="1.6" fill="rgb(23,157,23)" opacity="0.50"/><ellipse cx="112.9" cy="105.4" rx="1.1" ry="0.8" fill="rgb(24,160,24)" opacity="0.50"/><ellipse cx="118.7" cy="108.8" rx="1.0" ry="1.7" fill="rgb(22,148,22)" opacity="0.48"/><ellipse cx="121.2" cy="102.3" rx="1.0" ry="1.3" fill="rgb(23,157,23)" opacity="0.48"/><ellipse cx="137.2" cy="107.5" rx="1.6" ry="0.9" fill="rgb(21,144,21)" opacity="0.44"/><ellipse cx="136.4" cy="106.0" rx="1.5" ry="0.9" fill="rgb(23,154,23)" opacity="0.44"/><ellipse cx="151.2" cy="109.0" rx="2.3" ry="1.5" fill="rgb(21,143,21)" opacity="0.39"/><ellipse cx="46.0" cy="122.8" rx="2.5" ry="1.8" fill="rgb(21,144,21)" opacity="0.42"/><ellipse cx="55.7" cy="115.8" rx="1.3" ry="0.9" fill="rgb(22,151,22)" opacity="0.49"/><ellipse cx="58.2" cy="122.3" rx="1.8" ry="1.4" fill="rgb(25,167,25)" opacity="0.49"/><ellipse cx="65.8" cy="120.0" rx="2.3" ry="1.5" fill="rgb(27,183,27)" opacity="0.54"/><ellipse cx="69.6" cy="115.4" rx="1.5" ry="1.6" fill="rgb(26,179,26)" opacity="0.54"/><ellipse cx="81.6" cy="117.5" rx="2.2" ry="0.9" fill="rgb(29,195,29)" opacity="0.58"/><ellipse cx="79.0" cy="115.1" rx="2.3" ry="0.9" fill="rgb(28,193,28)" opacity="0.58"/><ellipse cx="85.7" cy="123.1" rx="1.6" ry="1.3" fill="rgb(27,183,27)" opacity="0.58"/><ellipse cx="90.7" cy="123.0" rx="1.8" ry="1.7" fill="rgb(28,188,28)" opacity="0.60"/><ellipse cx="94.7" cy="122.0" rx="1.3" ry="1.0" fill="rgb(29,195,29)" opacity="0.60"/><ellipse cx="93.4" cy="116.0" rx="1.4" ry="1.2" fill="rgb(27,185,27)" opacity="0.60"/><ellipse cx="112.1" cy="117.1" rx="1.9" ry="1.7" fill="rgb(26,179,26)" opacity="0.60"/><ellipse cx="107.4" cy="122.5" rx="1.9" ry="1.3" fill="rgb(27,181,27)" opacity="0.60"/><ellipse cx="103.6" cy="117.9" rx="1.0" ry="1.6" fill="rgb(25,168,25)" opacity="0.60"/><ellipse cx="120.7" cy="120.6" rx="1.5" ry="1.3" fill="rgb(26,177,26)" opacity="0.57"/><ellipse cx="121.5" cy="121.2" rx="1.9" ry="1.0" fill="rgb(24,160,24)" opacity="0.57"/><ellipse cx="136.4" cy="118.5" rx="2.2" ry="1.7" fill="rgb(25,167,25)" opacity="0.52"/><ellipse cx="133.2" cy="119.5" rx="1.8" ry="1.5" fill="rgb(24,165,24)" opacity="0.52"/><ellipse cx="146.9" cy="118.3" rx="2.1" ry="1.7" fill="rgb(24,163,24)" opacity="0.46"/><ellipse cx="150.8" cy="116.2" rx="2.5" ry="1.6" fill="rgb(23,154,23)" opacity="0.46"/><ellipse cx="155.8" cy="117.9" rx="1.4" ry="0.8" fill="rgb(20,134,20)" opacity="0.40"/><ellipse cx="32.9" cy="127.9" rx="2.5" ry="0.9" fill="rgb(21,144,21)" opacity="0.40"/><ellipse cx="43.2" cy="131.2" rx="2.3" ry="0.9" fill="rgb(24,166,24)" opacity="0.47"/><ellipse cx="43.5" cy="131.4" rx="1.3" ry="1.1" fill="rgb(22,151,22)" opacity="0.47"/><ellipse cx="52.4" cy="131.8" rx="1.0" ry="1.1" fill="rgb(25,168,25)" opacity="0.55"/><ellipse cx="58.2" cy="131.4" rx="2.6" ry="1.6" fill="rgb(23,155,23)" opacity="0.55"/><ellipse cx="66.0" cy="129.0" rx="2.2" ry="1.0" fill="rgb(24,164,24)" opacity="0.61"/><ellipse cx="66.2" cy="130.5" rx="2.3" ry="1.0" fill="rgb(30,201,30)" opacity="0.61"/><ellipse cx="66.4" cy="135.3" rx="2.1" ry="0.8" fill="rgb(27,186,27)" opacity="0.61"/><ellipse cx="84.4" cy="130.6" rx="2.5" ry="1.4" fill="rgb(25,173,25)" opacity="0.67"/><ellipse cx="85.5" cy="127.3" rx="1.1" ry="1.6" fill="rgb(31,213,31)" opacity="0.67"/><ellipse cx="82.1" cy="129.7" rx="2.5" ry="1.0" fill="rgb(29,198,29)" opacity="0.67"/><ellipse cx="95.6" cy="128.8" rx="1.3" ry="0.8" fill="rgb(27,180,27)" opacity="0.70"/><ellipse cx="92.5" cy="129.5" rx="2.2" ry="1.0" fill="rgb(28,191,28)" opacity="0.70"/><ellipse cx="95.4" cy="128.2" rx="1.0" ry="1.0" fill="rgb(28,193,28)" opacity="0.70"/><ellipse cx="110.4" cy="131.8" rx="1.8" ry="1.7" fill="rgb(27,183,27)" opacity="0.69"/><ellipse cx="104.4" cy="134.3" rx="1.8" ry="1.6" fill="rgb(29,196,29)" opacity="0.69"/><ellipse cx="107.2" cy="131.3" rx="2.6" ry="1.1" fill="rgb(31,210,31)" opacity="0.69"/><ellipse cx="122.9" cy="132.6" rx="1.6" ry="0.8" fill="rgb(27,186,27)" opacity="0.65"/><ellipse cx="117.4" cy="127.2" rx="1.4" ry="0.9" fill="rgb(30,202,30)" opacity="0.65"/><ellipse cx="117.0" cy="134.5" rx="2.1" ry="1.0" fill="rgb(31,208,31)" opacity="0.65"/><ellipse cx="131.8" cy="130.9" rx="1.7" ry="1.0" fill="rgb(24,165,24)" opacity="0.59"/><ellipse cx="138.2" cy="135.8" rx="1.4" ry="1.8" fill="rgb(27,180,27)" opacity="0.59"/><ellipse cx="132.0" cy="129.9" rx="1.6" ry="1.2" fill="rgb(23,159,23)" opacity="0.59"/><ellipse cx="143.7" cy="131.3" rx="1.4" ry="0.8" fill="rgb(22,149,22)" opacity="0.52"/><ellipse cx="145.6" cy="126.9" rx="1.5" ry="1.0" fill="rgb(22,150,22)" opacity="0.52"/><ellipse cx="159.7" cy="133.7" rx="2.1" ry="1.7" fill="rgb(22,152,22)" opacity="0.44"/><ellipse cx="158.3" cy="129.6" rx="1.2" ry="1.5" fill="rgb(23,158,23)" opacity="0.44"/><ellipse cx="33.6" cy="147.1" rx="1.8" ry="1.3" fill="rgb(20,138,20)" opacity="0.42"/><ellipse cx="47.1" cy="147.2" rx="2.4" ry="1.5" fill="rgb(24,162,24)" opacity="0.50"/><ellipse cx="46.0" cy="141.5" rx="1.2" ry="1.1" fill="rgb(22,147,22)" opacity="0.50"/><ellipse cx="60.2" cy="144.6" rx="2.0" ry="1.4" fill="rgb(27,181,27)" opacity="0.58"/><ellipse cx="56.9" cy="139.3" rx="2.2" ry="1.3" fill="rgb(28,188,28)" opacity="0.58"/><ellipse cx="57.3" cy="145.6" rx="2.2" ry="1.0" fill="rgb(24,160,24)" opacity="0.58"/><ellipse cx="67.5" cy="146.3" rx="2.2" ry="1.8" fill="rgb(26,178,26)" opacity="0.66"/><ellipse cx="69.7" cy="143.0" rx="2.1" ry="1.5" fill="rgb(28,192,28)" opacity="0.66"/><ellipse cx="70.9" cy="145.4" rx="1.2" ry="1.0" fill="rgb(25,172,25)" opacity="0.66"/><ellipse cx="80.7" cy="144.7" rx="1.1" ry="1.0" fill="rgb(26,179,26)" opacity="0.73"/><ellipse cx="84.2" cy="145.9" rx="1.5" ry="1.3" fill="rgb(32,219,32)" opacity="0.73"/><ellipse cx="82.2" cy="143.8" rx="2.4" ry="0.9" fill="rgb(27,186,27)" opacity="0.73"/><ellipse cx="87.1" cy="148.2" rx="1.7" ry="1.6" fill="rgb(27,180,27)" opacity="0.73"/><ellipse cx="94.9" cy="141.9" rx="2.5" ry="0.9" fill="rgb(30,201,30)" opacity="0.80"/><ellipse cx="96.2" cy="140.7" rx="2.5" ry="0.8" fill="rgb(33,222,33)" opacity="0.80"/><ellipse cx="98.4" cy="144.2" rx="2.1" ry="1.0" fill="rgb(37,247,37)" opacity="0.80"/><ellipse cx="99.2" cy="143.9" rx="1.0" ry="1.2" fill="rgb(28,189,28)" opacity="0.80"/><ellipse cx="106.3" cy="140.6" rx="1.5" ry="1.6" fill="rgb(31,207,31)" opacity="0.78"/><ellipse cx="103.4" cy="146.5" rx="1.2" ry="1.7" fill="rgb(35,239,35)" opacity="0.78"/><ellipse cx="110.2" cy="147.9" rx="1.6" ry="1.1" fill="rgb(30,203,30)" opacity="0.78"/><ellipse cx="112.9" cy="144.9" rx="1.7" ry="1.0" fill="rgb(31,208,31)" opacity="0.78"/><ellipse cx="117.2" cy="147.3" rx="2.5" ry="1.0" fill="rgb(28,190,28)" opacity="0.70"/><ellipse cx="118.7" cy="144.2" rx="1.6" ry="1.8" fill="rgb(27,185,27)" opacity="0.70"/><ellipse cx="124.6" cy="147.1" rx="2.5" ry="1.7" fill="rgb(31,209,31)" opacity="0.70"/><ellipse cx="135.9" cy="139.8" rx="1.7" ry="1.5" fill="rgb(29,197,29)" opacity="0.63"/><ellipse cx="135.2" cy="142.0" rx="2.5" ry="0.8" fill="rgb(24,166,24)" opacity="0.63"/><ellipse cx="133.5" cy="142.6" rx="2.2" ry="1.8" fill="rgb(26,177,26)" opacity="0.63"/><ellipse cx="148.1" cy="142.2" rx="1.6" ry="0.9" fill="rgb(25,172,25)" opacity="0.55"/><ellipse cx="143.3" cy="141.3" rx="1.8" ry="0.9" fill="rgb(27,184,27)" opacity="0.55"/><ellipse cx="164.1" cy="143.6" rx="1.3" ry="0.8" fill="rgb(21,145,21)" opacity="0.47"/><ellipse cx="157.9" cy="140.2" rx="1.4" ry="1.3" fill="rgb(22,148,22)" opacity="0.47"/><ellipse cx="174.6" cy="143.2" rx="1.8" ry="1.1" fill="rgb(20,136,20)" opacity="0.39"/><ellipse cx="27.8" cy="156.9" rx="2.4" ry="0.9" fill="rgb(21,146,21)" opacity="0.42"/><ellipse cx="41.8" cy="155.9" rx="2.5" ry="1.6" fill="rgb(23,159,23)" opacity="0.50"/><ellipse cx="47.7" cy="152.3" rx="2.1" ry="1.7" fill="rgb(22,147,22)" opacity="0.50"/><ellipse cx="57.8" cy="152.1" rx="2.5" ry="1.6" fill="rgb(25,172,25)" opacity="0.58"/><ellipse cx="60.4" cy="161.4" rx="1.2" ry="0.9" fill="rgb(25,167,25)" opacity="0.58"/><ellipse cx="57.2" cy="158.6" rx="2.2" ry="1.4" fill="rgb(28,193,28)" opacity="0.58"/><ellipse cx="69.4" cy="157.4" rx="2.3" ry="1.0" fill="rgb(25,170,25)" opacity="0.66"/><ellipse cx="73.8" cy="158.3" rx="1.2" ry="1.0" fill="rgb(27,183,27)" opacity="0.66"/><ellipse cx="71.1" cy="158.8" rx="1.1" ry="1.3" fill="rgb(26,174,26)" opacity="0.66"/><ellipse cx="81.5" cy="154.2" rx="1.0" ry="1.0" fill="rgb(32,214,32)" opacity="0.73"/><ellipse cx="82.2" cy="161.3" rx="2.4" ry="1.2" fill="rgb(32,217,32)" opacity="0.73"/><ellipse cx="80.0" cy="154.5" rx="2.1" ry="1.0" fill="rgb(35,236,35)" opacity="0.73"/><ellipse cx="78.0" cy="156.9" rx="1.7" ry="1.0" fill="rgb(32,219,32)" opacity="0.73"/><ellipse cx="99.4" cy="154.3" rx="1.5" ry="1.2" fill="rgb(28,189,28)" opacity="0.80"/><ellipse cx="97.1" cy="154.0" rx="2.2" ry="1.3" fill="rgb(36,241,36)" opacity="0.80"/><ellipse cx="92.6" cy="161.4" rx="2.3" ry="1.0" fill="rgb(31,208,31)" opacity="0.80"/><ellipse cx="92.7" cy="159.4" rx="2.5" ry="1.2" fill="rgb(31,207,31)" opacity="0.80"/><ellipse cx="105.5" cy="156.1" rx="2.5" ry="0.9" fill="rgb(34,227,34)" opacity="0.78"/><ellipse cx="107.2" cy="154.1" rx="1.2" ry="0.8" fill="rgb(37,247,37)" opacity="0.78"/><ellipse cx="104.0" cy="155.9" rx="2.4" ry="1.5" fill="rgb(36,242,36)" opacity="0.78"/><ellipse cx="112.9" cy="161.0" rx="1.3" ry="1.7" fill="rgb(30,206,30)" opacity="0.78"/><ellipse cx="116.5" cy="158.4" rx="1.6" ry="1.1" fill="rgb(29,195,29)" opacity="0.70"/><ellipse cx="117.8" cy="152.1" rx="1.6" ry="1.8" fill="rgb(28,190,28)" opacity="0.70"/><ellipse cx="117.4" cy="161.3" rx="1.6" ry="1.6" fill="rgb(27,186,27)" opacity="0.70"/><ellipse cx="133.1" cy="152.6" rx="1.6" ry="1.7" fill="rgb(27,185,27)" opacity="0.63"/><ellipse cx="130.8" cy="155.6" rx="1.0" ry="1.2" fill="rgb(30,204,30)" opacity="0.63"/><ellipse cx="136.8" cy="159.4" rx="1.1" ry="0.8" fill="rgb(24,166,24)" opacity="0.63"/><ellipse cx="144.3" cy="159.2" rx="1.5" ry="1.0" fill="rgb(27,183,27)" opacity="0.55"/><ellipse cx="150.9" cy="158.0" rx="2.1" ry="1.0" fill="rgb(24,162,24)" opacity="0.55"/><ellipse cx="154.6" cy="159.3" rx="2.0" ry="1.7" fill="rgb(24,163,24)" opacity="0.47"/><ellipse cx="154.8" cy="154.3" rx="2.5" ry="1.7" fill="rgb(22,153,22)" opacity="0.47"/><ellipse cx="169.8" cy="156.2" rx="2.5" ry="0.9" fill="rgb(20,137,20)" opacity="0.39"/><ellipse cx="32.4" cy="168.0" rx="1.6" ry="1.6" fill="rgb(20,137,20)" opacity="0.40"/><ellipse cx="41.3" cy="172.1" rx="1.1" ry="0.7" fill="rgb(22,149,22)" opacity="0.47"/><ellipse cx="44.7" cy="168.0" rx="2.4" ry="1.8" fill="rgb(24,166,24)" opacity="0.47"/><ellipse cx="53.0" cy="165.8" rx="2.1" ry="1.2" fill="rgb(25,170,25)" opacity="0.55"/><ellipse cx="54.4" cy="168.9" rx="2.1" ry="1.5" fill="rgb(26,174,26)" opacity="0.55"/><ellipse cx="71.3" cy="166.1" rx="1.5" ry="1.3" fill="rgb(29,198,29)" opacity="0.61"/><ellipse cx="68.6" cy="171.9" rx="1.4" ry="1.0" fill="rgb(25,171,25)" opacity="0.61"/><ellipse cx="66.5" cy="173.3" rx="1.5" ry="1.1" fill="rgb(28,187,28)" opacity="0.61"/><ellipse cx="82.6" cy="167.1" rx="2.0" ry="1.8" fill="rgb(31,210,31)" opacity="0.67"/><ellipse cx="78.8" cy="169.4" rx="2.3" ry="1.7" fill="rgb(31,211,31)" opacity="0.67"/><ellipse cx="78.2" cy="167.7" rx="1.3" ry="1.8" fill="rgb(26,176,26)" opacity="0.67"/><ellipse cx="99.5" cy="168.5" rx="1.7" ry="1.0" fill="rgb(33,221,33)" opacity="0.70"/><ellipse cx="98.0" cy="173.9" rx="2.0" ry="1.4" fill="rgb(27,180,27)" opacity="0.70"/><ellipse cx="92.7" cy="168.4" rx="1.3" ry="1.0" fill="rgb(27,182,27)" opacity="0.70"/><ellipse cx="109.6" cy="166.8" rx="1.5" ry="1.4" fill="rgb(26,174,26)" opacity="0.69"/><ellipse cx="105.2" cy="167.9" rx="2.3" ry="1.3" fill="rgb(27,184,27)" opacity="0.69"/><ellipse cx="104.0" cy="165.9" rx="1.9" ry="1.4" fill="rgb(29,194,29)" opacity="0.69"/><ellipse cx="117.8" cy="171.5" rx="1.5" ry="1.0" fill="rgb(27,186,27)" opacity="0.65"/><ellipse cx="125.3" cy="167.9" rx="1.6" ry="1.2" fill="rgb(29,194,29)" opacity="0.65"/><ellipse cx="124.5" cy="174.4" rx="1.3" ry="1.5" fill="rgb(27,184,27)" opacity="0.65"/><ellipse cx="129.1" cy="173.5" rx="2.3" ry="1.1" fill="rgb(26,175,26)" opacity="0.59"/><ellipse cx="137.4" cy="169.3" rx="1.0" ry="1.3" fill="rgb(24,165,24)" opacity="0.59"/><ellipse cx="135.1" cy="173.6" rx="2.0" ry="1.1" fill="rgb(24,162,24)" opacity="0.59"/><ellipse cx="143.2" cy="167.6" rx="2.5" ry="0.8" fill="rgb(24,164,24)" opacity="0.52"/><ellipse cx="146.5" cy="172.6" rx="1.3" ry="0.8" fill="rgb(26,178,26)" opacity="0.52"/><ellipse cx="163.9" cy="169.5" rx="2.5" ry="1.1" fill="rgb(21,140,21)" opacity="0.44"/><ellipse cx="163.2" cy="170.8" rx="1.3" ry="1.6" fill="rgb(23,155,23)" opacity="0.44"/><ellipse cx="43.2" cy="182.6" rx="1.2" ry="1.0" fill="rgb(21,143,21)" opacity="0.42"/><ellipse cx="60.8" cy="178.1" rx="2.2" ry="0.7" fill="rgb(23,159,23)" opacity="0.49"/><ellipse cx="60.2" cy="178.8" rx="1.9" ry="1.4" fill="rgb(24,160,24)" opacity="0.49"/><ellipse cx="69.0" cy="183.3" rx="2.1" ry="1.2" fill="rgb(25,167,25)" opacity="0.54"/><ellipse cx="69.2" cy="177.9" rx="1.8" ry="1.0" fill="rgb(25,173,25)" opacity="0.54"/><ellipse cx="85.2" cy="182.1" rx="1.8" ry="0.8" fill="rgb(24,165,24)" opacity="0.58"/><ellipse cx="79.0" cy="181.8" rx="1.7" ry="1.3" fill="rgb(24,162,24)" opacity="0.58"/><ellipse cx="78.2" cy="183.8" rx="2.2" ry="1.6" fill="rgb(24,161,24)" opacity="0.58"/><ellipse cx="91.1" cy="182.5" rx="2.5" ry="0.8" fill="rgb(26,176,26)" opacity="0.60"/><ellipse cx="98.8" cy="187.2" rx="2.3" ry="0.9" fill="rgb(28,191,28)" opacity="0.60"/><ellipse cx="100.0" cy="182.4" rx="2.5" ry="0.9" fill="rgb(30,200,30)" opacity="0.60"/><ellipse cx="112.3" cy="178.3" rx="2.2" ry="0.9" fill="rgb(26,174,26)" opacity="0.60"/><ellipse cx="112.0" cy="180.3" rx="1.2" ry="1.3" fill="rgb(28,193,28)" opacity="0.60"/><ellipse cx="112.2" cy="179.7" rx="1.8" ry="1.1" fill="rgb(25,171,25)" opacity="0.60"/><ellipse cx="117.9" cy="179.2" rx="2.1" ry="1.7" fill="rgb(28,190,28)" opacity="0.57"/><ellipse cx="117.8" cy="185.2" rx="1.8" ry="1.4" fill="rgb(24,160,24)" opacity="0.57"/><ellipse cx="137.3" cy="183.0" rx="2.4" ry="0.8" fill="rgb(25,167,25)" opacity="0.52"/><ellipse cx="138.5" cy="183.7" rx="2.3" ry="1.0" fill="rgb(24,162,24)" opacity="0.52"/><ellipse cx="147.3" cy="181.1" rx="1.7" ry="0.9" fill="rgb(23,159,23)" opacity="0.46"/><ellipse cx="148.9" cy="178.2" rx="1.4" ry="1.4" fill="rgb(24,160,24)" opacity="0.46"/><ellipse cx="160.2" cy="184.0" rx="1.0" ry="0.7" fill="rgb(20,137,20)" opacity="0.40"/><ellipse cx="58.4" cy="190.7" rx="1.6" ry="0.8" fill="rgb(20,135,20)" opacity="0.41"/><ellipse cx="67.1" cy="196.1" rx="1.3" ry="1.4" fill="rgb(23,154,23)" opacity="0.46"/><ellipse cx="69.5" cy="191.8" rx="1.4" ry="0.9" fill="rgb(24,162,24)" opacity="0.46"/><ellipse cx="83.9" cy="198.8" rx="1.6" ry="1.0" fill="rgb(24,166,24)" opacity="0.49"/><ellipse cx="77.9" cy="196.7" rx="1.6" ry="1.4" fill="rgb(24,160,24)" opacity="0.49"/><ellipse cx="99.5" cy="197.5" rx="2.4" ry="0.7" fill="rgb(23,154,23)" opacity="0.51"/><ellipse cx="95.7" cy="194.4" rx="1.1" ry="1.6" fill="rgb(23,154,23)" opacity="0.51"/><ellipse cx="108.7" cy="199.5" rx="1.3" ry="1.4" fill="rgb(22,151,22)" opacity="0.50"/><ellipse cx="108.2" cy="196.6" rx="1.3" ry="1.0" fill="rgb(25,169,25)" opacity="0.50"/><ellipse cx="116.7" cy="199.0" rx="2.1" ry="0.7" fill="rgb(24,163,24)" opacity="0.48"/><ellipse cx="124.3" cy="197.6" rx="2.2" ry="1.2" fill="rgb(23,155,23)" opacity="0.48"/><ellipse cx="130.0" cy="192.7" rx="1.5" ry="1.5" fill="rgb(21,140,21)" opacity="0.44"/><ellipse cx="135.6" cy="198.6" rx="1.4" ry="1.3" fill="rgb(22,153,22)" opacity="0.44"/><ellipse cx="149.3" cy="195.5" rx="2.0" ry="1.8" fill="rgb(20,136,20)" opacity="0.39"/><ellipse cx="80.9" cy="205.6" rx="2.0" ry="1.5" fill="rgb(21,144,21)" opacity="0.40"/><ellipse cx="99.9" cy="207.8" rx="2.1" ry="1.6" fill="rgb(21,146,21)" opacity="0.41"/><ellipse cx="110.3" cy="208.7" rx="1.3" ry="1.4" fill="rgb(20,138,20)" opacity="0.40"/><ellipse cx="124.9" cy="204.7" rx="1.2" ry="1.7" fill="rgb(19,132,19)" opacity="0.39"/></g></g>
<rect x="25.25" y="35.55" width="12.25" height="12.25" fill="none" stroke="#fcd6fc" stroke-width="0.7"/>
<rect x="26.30" y="36.60" width="10.15" height="10.15" fill="none" stroke="#f014f0" stroke-width="1.4"/>
<rect x="38.05" y="35.55" width="12.25" height="12.25" fill="none" stroke="#fcd6fc" stroke-width="0.7"/>
<rect x="39.10" y="36.60" width="10.15" height="10.15" fill="none" stroke="#f014f0" stroke-width="1.4"/>
<rect x="50.85" y="35.55" width="12.25" height="12.25" fill="none" stroke="#d8deff" stroke-width="0.7"/>
<rect x="51.90" y="36.60" width="10.15" height="10.15" fill="none" stroke="#2e4cff" stroke-width="1.4"/>
<rect x="63.65" y="35.55" width="12.25" height="12.25" fill="none" stroke="#fcd6fc" stroke-width="0.7"/>
<rect x="64.70" y="36.60" width="10.15" height="10.15" fill="none" stroke="#f014f0" stroke-width="1.4"/>
<rect x="76.45" y="35.55" width="12.25" height="12.25" fill="none" stroke="#d8deff" stroke-width="0.7"/>
<rect x="77.50" y="36.60" width="10.15" height="10.15" fill="none" stroke="#2e4cff" stroke-width="1.4"/>
<rect x="89.25" y="35.55" width="12.25" height="12.25" fill="none" stroke="#d8deff" stroke-width="0.7"/>
<rect x="90.30" y="36.60" width="10.15" height="10.15" fill="none" stroke="#2e4cff" stroke-width="1.4"/>
<rect x="114.85" y="35.55" width="12.25" height="12.25" fill="none" stroke="#d8deff" stroke-width="0.7"/>
<rect x="115.90" y="36.60" width="10.15" height="10.15" fill="none" stroke="#2e4cff" stroke-width="1.4"/>
<rect x="127.65" y="35.55" width="12.25" height="12.25" fill="none" stroke="#d8deff" stroke-width="0.7"/>
<rect x="128.70" y="36.60" width="10.15" height="10.15" fill="none" stroke="#2e4cff" stroke-width="1.4"/>
<rect x="140.45" y="35.55" width="12.25" height="12.25" fill="none" stroke="#d8deff" stroke-width="0.7"/>
<rect x="141.50" y="36.60" width="10.15" height="10.15" fill="none" stroke="#2e4cff" stroke-width="1.4"/>
<rect x="166.05" y="35.55" width="12.25" height="12.25" fill="none" stroke="#d8deff" stroke-width="0.7"/>
<rect x="167.10" y="36.60" width="10.15" height="10.15" fill="none" stroke="#2e4cff" stroke-width="1.4"/>
<rect x="178.85" y="35.55" width="12.25" height="12.25" fill="none" stroke="#fcd6fc" stroke-width="0.7"/>
<rect x="179.90" y="36.60" width="10.15" height="10.15" fill="none" stroke="#f014f0" stroke-width="1.4"/>
<rect x="25.25" y="48.35" width="12.25" height="12.25" fill="none" stroke="#d8deff" stroke-width="0.7"/>
<rect x="26.30" y="49.40" width="10.15" height="10.15" fill="none" stroke="#2e4cff" stroke-width="1.4"/>
<rect x="38.05" y="48.35" width="12.25" height="12.25" fill="none" stroke="#fcd6fc" stroke-width="0.7"/>
<rect x="39.10" y="49.40" width="10.15" height="10.15" fill="none" stroke="#f014f0" stroke-width="1.4"/>
<rect x="50.85" y="48.35" width="12.25" height="12.25" fill="none" stroke="#d8deff" stroke-width="0.7"/>
<rect x="51.90" y="49.40" width="10.15" height="10.15" fill="none" stroke="#2e4cff" stroke-width="1.4"/>
<rect x="63.65" y="48.35" width="12.25" height="12.25" fill="none" stroke="#d8deff" stroke-width="0.7"/>
<rect x="64.70" y="49.40" width="10.15" height="10.15" fill="none" stroke="#2e4cff" stroke-width="1.4"/>
<rect x="76.45" y="48.35" width="12.25" height="12.25" fill="none" stroke="#d8deff" stroke-width="0.7"/>
<rect x="77.50" y="49.40" width="10.15" height="10.15" fill="none" stroke="#2e4cff" stroke-width="1.4"/>
<rect x="89.25" y="48.35" width="12.25" height="12.25" fill="none" stroke="#d8deff" stroke-width="0.7"/>
<rect x="90.30" y="49.40" width="10.15" height="10.15" fill="none" stroke="#2e4cff" stroke-width="1.4"/>
<rect x="102.05" y="48.35" width="12.25" height="12.25" fill="none" stroke="#d8deff" stroke-width="0.7"/>
<rect x="103.10" y="49.40" width="10.15" height="10.15" fill="none" stroke="#2e4cff" stroke-width="1.4"/>
<rect x="114.85" y="48.35" width="12.25" height="12.25" fill="none" stroke="#d8deff" stroke-width="0.7"/>
<rect x="115.90" y="49.40" width="10.15" height="10.15" fill="none" stroke="#2e4cff" stroke-width="1.4"/>
<rect x="127.65" y="48.35" width="12.25" height="12.25" fill="none" stroke="#d8deff" stroke-width="0.7"/>
<rect x="128.70" y="49.40" width="10.15" height="10.15" fill="none" stroke="#2e4cff" stroke-width="1.4"/>
<rect x="140.45" y="48.35" width="12.25" height="12.25" fill="none" stroke="#d8deff" stroke-width="0.7"/>
<rect x="141.50" y="49.40" width="10.15" height="10.15" fill="none" stroke="#2e4cff" stroke-width="1.4"/>
<rect x="153.25" y="48.35" width="12.25" height="12.25" fill="none" stroke="#d8deff" stroke-width="0.7"/>
<rect x="154.30" y="49.40" width="10.15" height="10.15" fill="none" stroke="#2e4cff" stroke-width="1.4"/>
<rect x="166.05" y="48.35" width="12.25" height="12.25" fill="none" stroke="#ecf6d6" stroke-width="0.7"/>
<rect x="167.10" y="49.40" width="10.15" height="10.15" fill="none" stroke="#b0dc50" stroke-width="1.4"/>
<rect x="178.85" y="48.35" width="12.25" height="12.25" fill="none" stroke="#d8deff" stroke-width="0.7"/>
<rect x="179.90" y="49.40" width="10.15" height="10.15" fill="none" stroke="#2e4cff" stroke-width="1.4"/>
<rect x="12.45" y="61.15" width="12.25" height="12.25" fill="none" stroke="#d8deff" stroke-width="0.7"/>
<rect x="13.50" y="62.20" width="10.15" height="10.15" fill="none" stroke="#2e4cff" stroke-width="1.4"/>
<rect x="38.05" y="61.15" width="12.25" height="12.25" fill="none" stroke="#d8deff" stroke-width="0.7"/>
<rect x="39.10" y="62.20" width="10.15" height="10.15" fill="none" stroke="#2e4cff" stroke-width="1.4"/>
<rect x="50.85" y="61.15" width="12.25" height="12.25" fill="none" stroke="#d8deff" stroke-width="0.7"/>
<rect x="51.90" y="62.20" width="10.15" height="10.15" fill="none" stroke="#2e4cff" stroke-width="1.4"/>
<rect x="63.65" y="61.15" width="12.25" height="12.25" fill="none" stroke="#d8deff" stroke-width="0.7"/>
<rect x="64.70" y="62.20" width="10.15" height="10.15" fill="none" stroke="#2e4cff" stroke-width="1.4"/>
<rect x="89.25" y="61.15" width="12.25" height="12.25" fill="none" stroke="#d8deff" stroke-width="0.7"/>
<rect x="90.30" y="62.20" width="10.15" height="10.15" fill="none" stroke="#2e4cff" stroke-width="1.4"/>
<rect x="127.65" y="61.15" width="12.25" height="12.25" fill="none" stroke="#d8deff" stroke-width="0.7"/>
<rect x="128.70" y="62.20" width="10.15" height="10.15" fill="none" stroke="#2e4cff" stroke-width="1.4"/>
<rect x="166.05" y="61.15" width="12.25" height="12.25" fill="none" stroke="#d8deff" stroke-width="0.7"/>
<rect x="167.10" y="62.20" width="10.15" height="10.15" fill="none" stroke="#2e4cff" stroke-width="1.4"/>
<rect x="178.85" y="61.15" width="12.25" height="12.25" fill="none" stroke="#d8deff" stroke-width="0.7"/>
<rect x="179.90" y="62.20" width="10.15" height="10.15" fill="none" stroke="#2e4cff" stroke-width="1.4"/>
<rect x="191.65" y="61.15" width="12.25" height="12.25" fill="none" stroke="#d8deff" stroke-width="0.7"/>
<rect x="192.70" y="62.20" width="10.15" height="10.15" fill="none" stroke="#2e4cff" stroke-width="1.4"/>
<rect x="12.45" y="73.95" width="12.25" height="12.25" fill="none" stroke="#fcd6fc" stroke-width="0.7"/>
<rect x="13.50" y="75.00" width="10.15" height="10.15" fill="none" stroke="#f014f0" stroke-width="1.4"/>
<rect x="25.25" y="73.95" width="12.25" height="12.25" fill="none" stroke="#d8deff" stroke-width="0.7"/>
<rect x="26.30" y="75.00" width="10.15" height="10.15" fill="none" stroke="#2e4cff" stroke-width="1.4"/>
<rect x="50.85" y="73.95" width="12.25" height="12.25" fill="none" stroke="#d8deff" stroke-width="0.7"/>
<rect x="51.90" y="75.00" width="10.15" height="10.15" fill="none" stroke="#2e4cff" stroke-width="1.4"/>
<rect x="76.45" y="73.95" width="12.25" height="12.25" fill="none" stroke="#d8deff" stroke-width="0.7"/>
<rect x="77.50" y="75.00" width="10.15" height="10.15" fill="none" stroke="#2e4cff" stroke-width="1.4"/>
<rect x="102.05" y="73.95" width="12.25" height="12.25" fill="none" stroke="#fcd6fc" stroke-width="0.7"/>
<rect x="103.10" y="75.00" width="10.15" height="10.15" fill="none" stroke="#f014f0" stroke-width="1.4"/>
<rect x="114.85" y="73.95" width="12.25" height="12.25" fill="none" stroke="#fcd6fc" stroke-width="0.7"/>
<rect x="115.90" y="75.00" width="10.15" height="10.15" fill="none" stroke="#f014f0" stroke-width="1.4"/>
<rect x="127.65" y="73.95" width="12.25" height="12.25" fill="none" stroke="#d8deff" stroke-width="0.7"/>
<rect x="128.70" y="75.00" width="10.15" height="10.15" fill="none" stroke="#2e4cff" stroke-width="1.4"/>
<rect x="140.45" y="73.95" width="12.25" height="12.25" fill="none" stroke="#fcd6fc" stroke-width="0.7"/>
<rect x="141.50" y="75.00" width="10.15" height="10.15" fill="none" stroke="#f014f0" stroke-width="1.4"/>
<rect x="153.25" y="73.95" width="12.25" height="12.25" fill="none" stroke="#d8deff" stroke-width="0.7"/>
<rect x="154.30" y="75.00" width="10.15" height="10.15" fill="none" stroke="#2e4cff" stroke-width="1.4"/>
<rect x="166.05" y="73.95" width="12.25" height="12.25" fill="none" stroke="#ecf6d6" stroke-width="0.7"/>
<rect x="167.10" y="75.00" width="10.15" height="10.15" fill="none" stroke="#b0dc50" stroke-width="1.4"/>
<rect x="178.85" y="73.95" width="12.25" height="12.25" fill="none" stroke="#d8deff" stroke-width="0.7"/>
<rect x="179.90" y="75.00" width="10.15" height="10.15" fill="none" stroke="#2e4cff" stroke-width="1.4"/>
<rect x="191.65" y="73.95" width="12.25" height="12.25" fill="none" stroke="#d8deff" stroke-width="0.7"/>
<rect x="192.70" y="75.00" width="10.15" height="10.15" fill="none" stroke="#2e4cff" stroke-width="1.4"/>
<rect x="12.45" y="86.75" width="12.25" height="12.25" fill="none" stroke="#d8deff" stroke-width="0.7"/>
<rect x="13.50" y="87.80" width="10.15" height="10.15" fill="none" stroke="#2e4cff" stroke-width="1.4"/>
<rect x="25.25" y="86.75" width="12.25" height="12.25" fill="none" stroke="#d8deff" stroke-width="0.7"/>
<rect x="26.30" y="87.80" width="10.15" height="10.15" fill="none" stroke="#2e4cff" stroke-width="1.4"/>
<rect x="38.05" y="86.75" width="12.25" height="12.25" fill="none" stroke="#d8deff" stroke-width="0.7"/>
<rect x="39.10" y="87.80" width="10.15" height="10.15" fill="none" stroke="#2e4cff" stroke-width="1.4"/>
<rect x="50.85" y="86.75" width="12.25" height="12.25" fill="none" stroke="#d8deff" stroke-width="0.7"/>
<rect x="51.90" y="87.80" width="10.15" height="10.15" fill="none" stroke="#2e4cff" stroke-width="1.4"/>
<rect x="63.65" y="86.75" width="12.25" height="12.25" fill="none" stroke="#d8deff" stroke-width="0.7"/>
<rect x="64.70" y="87.80" width="10.15" height="10.15" fill="none" stroke="#2e4cff" stroke-width="1.4"/>
<rect x="89.25" y="86.75" width="12.25" height="12.25" fill="none" stroke="#d8deff" stroke-width="0.7"/>
<rect x="90.30" y="87.80" width="10.15" height="10.15" fill="none" stroke="#2e4cff" stroke-width="1.4"/>
<rect x="102.05" y="86.75" width="12.25" height="12.25" fill="none" stroke="#fcd6fc" stroke-width="0.7"/>
<rect x="103.10" y="87.80" width="10.15" height="10.15" fill="none" stroke="#f014f0" stroke-width="1.4"/>
<rect x="114.85" y="86.75" width="12.25" height="12.25" fill="none" stroke="#d8deff" stroke-width="0.7"/>
<rect x="115.90" y="87.80" width="10.15" height="10.15" fill="none" stroke="#2e4cff" stroke-width="1.4"/>
<rect x="127.65" y="86.75" width="12.25" height="12.25" fill="none" stroke="#d8deff" stroke-width="0.7"/>
<rect x="128.70" y="87.80" width="10.15" height="10.15" fill="none" stroke="#2e4cff" stroke-width="1.4"/>
<rect x="140.45" y="86.75" width="12.25" height="12.25" fill="none" stroke="#d8deff" stroke-width="0.7"/>
<rect x="141.50" y="87.80" width="10.15" height="10.15" fill="none" stroke="#2e4cff" stroke-width="1.4"/>
<rect x="153.25" y="86.75" width="12.25" height="12.25" fill="none" stroke="#fcd6fc" stroke-width="0.7"/>
<rect x="154.30" y="87.80" width="10.15" height="10.15" fill="none" stroke="#f014f0" stroke-width="1.4"/>
<rect x="166.05" y="86.75" width="12.25" height="12.25" fill="none" stroke="#d8deff" stroke-width="0.7"/>
<rect x="167.10" y="87.80" width="10.15" height="10.15" fill="none" stroke="#2e4cff" stroke-width="1.4"/>
<rect x="178.85" y="86.75" width="12.25" height="12.25" fill="none" stroke="#d8deff" stroke-width="0.7"/>
<rect x="179.90" y="87.80" width="10.15" height="10.15" fill="none" stroke="#2e4cff" stroke-width="1.4"/>
<rect x="191.65" y="86.75" width="12.25" height="12.25" fill="none" stroke="#d8deff" stroke-width="0.7"/>
<rect x="192.70" y="87.80" width="10.15" height="10.15" fill="none" stroke="#2e4cff" stroke-width="1.4"/>
<rect x="25.25" y="99.55" width="12.25" height="12.25" fill="none" stroke="#d8deff" stroke-width="0.7"/>
<rect x="26.30" y="100.60" width="10.15" height="10.15" fill="none" stroke="#2e4cff" stroke-width="1.4"/>
<rect x="50.85" y="99.55" width="12.25" height="12.25" fill="none" stroke="#ecf6d6" stroke-width="0.7"/>
<rect x="51.90" y="100.60" width="10.15" height="10.15" fill="none" stroke="#b0dc50" stroke-width="1.4"/>
<rect x="76.45" y="99.55" width="12.25" height="12.25" fill="none" stroke="#d8deff" stroke-width="0.7"/>
<rect x="77.50" y="100.60" width="10.15" height="10.15" fill="none" stroke="#2e4cff" stroke-width="1.4"/>
<rect x="89.25" y="99.55" width="12.25" height="12.25" fill="none" stroke="#d8deff" stroke-width="0.7"/>
<rect x="90.30" y="100.60" width="10.15" height="10.15" fill="none" stroke="#2e4cff" stroke-width="1.4"/>
<rect x="102.05" y="99.55" width="12.25" height="12.25" fill="none" stroke="#fcd6fc" stroke-width="0.7"/>
<rect x="103.10" y="100.60" width="10.15" height="10.15" fill="none" stroke="#f014f0" stroke-width="1.4"/>
<rect x="114.85" y="99.55" width="12.25" height="12.25" fill="none" stroke="#d8deff" stroke-width="0.7"/>
<rect x="115.90" y="100.60" width="10.15" height="10.15" fill="none" stroke="#2e4cff" stroke-width="1.4"/>
<rect x="140.45" y="99.55" width="12.25" height="12.25" fill="none" stroke="#d8deff" stroke-width="0.7"/>
<rect x="141.50" y="100.60" width="10.15" height="10.15" fill="none" stroke="#2e4cff" stroke-width="1.4"/>
<rect x="166.05" y="99.55" width="12.25" height="12.25" fill="none" stroke="#d8deff" stroke-width="0.7"/>
<rect x="167.10" y="100.60" width="10.15" height="10.15" fill="none" stroke="#2e4cff" stroke-width="1.4"/>
<rect x="178.85" y="99.55" width="12.25" height="12.25" fill="none" stroke="#d8deff" stroke-width="0.7"/>
<rect x="179.90" y="100.60" width="10.15" height="10.15" fill="none" stroke="#2e4cff" stroke-width="1.4"/>
<rect x="191.65" y="99.55" width="12.25" height="12.25" fill="none" stroke="#d8deff" stroke-width="0.7"/>
<rect x="192.70" y="100.60" width="10.15" height="10.15" fill="none" stroke="#2e4cff" stroke-width="1.4"/>
<rect x="12.45" y="112.35" width="12.25" height="12.25" fill="none" stroke="#d8deff" stroke-width="0.7"/>
<rect x="13.50" y="113.40" width="10.15" height="10.15" fill="none" stroke="#2e4cff" stroke-width="1.4"/>
<rect x="25.25" y="112.35" width="12.25" height="12.25" fill="none" stroke="#ecf6d6" stroke-width="0.7"/>
<rect x="26.30" y="113.40" width="10.15" height="10.15" fill="none" stroke="#b0dc50" stroke-width="1.4"/>
<rect x="38.05" y="112.35" width="12.25" height="12.25" fill="none" stroke="#d8deff" stroke-width="0.7"/>
<rect x="39.10" y="113.40" width="10.15" height="10.15" fill="none" stroke="#2e4cff" stroke-width="1.4"/>
<rect x="50.85" y="112.35" width="12.25" height="12.25" fill="none" stroke="#d8deff" stroke-width="0.7"/>
<rect x="51.90" y="113.40" width="10.15" height="10.15" fill="none" stroke="#2e4cff" stroke-width="1.4"/>
<rect x="63.65" y="112.35" width="12.25" height="12.25" fill="none" stroke="#d8deff" stroke-width="0.7"/>
<rect x="64.70" y="113.40" width="10.15" height="10.15" fill="none" stroke="#2e4cff" stroke-width="1.4"/>
<rect x="76.45" y="112.35" width="12.25" height="12.25" fill="none" stroke="#ecf6d6" stroke-width="0.7"/>
<rect x="77.50" y="113.40" width="10.15" height="10.15" fill="none" stroke="#b0dc50" stroke-width="1.4"/>
<rect x="89.25" y="112.35" width="12.25" height="12.25" fill="none" stroke="#fcd6fc" stroke-width="0.7"/>
<rect x="90.30" y="113.40" width="10.15" height="10.15" fill="none" stroke="#f014f0" stroke-width="1.4"/>
<rect x="102.05" y="112.35" width="12.25" height="12.25" fill="none" stroke="#d8deff" stroke-width="0.7"/>
<rect x="103.10" y="113.40" width="10.15" height="10.15" fill="none" stroke="#2e4cff" stroke-width="1.4"/>
<rect x="114.85" y="112.35" width="12.25" height="12.25" fill="none" stroke="#d8deff" stroke-width="0.7"/>
<rect x="115.90" y="113.40" width="10.15" height="10.15" fill="none" stroke="#2e4cff" stroke-width="1.4"/>
<rect x="127.65" y="112.35" width="12.25" height="12.25" fill="none" stroke="#d8deff" stroke-width="0.7"/>
<rect x="128.70" y="113.40" width="10.15" height="10.15" fill="none" stroke="#2e4cff" stroke-width="1.4"/>
<rect x="140.45" y="112.35" width="12.25" height="12.25" fill="none" stroke="#fcd6fc" stroke-width="0.7"/>
<rect x="141.50" y="113.40" width="10.15" height="10.15" fill="none" stroke="#f014f0" stroke-width="1.4"/>
<rect x="153.25" y="112.35" width="12.25" height="12.25" fill="none" stroke="#d8deff" stroke-width="0.7"/>
<rect x="154.30" y="113.40" width="10.15" height="10.15" fill="none" stroke="#2e4cff" stroke-width="1.4"/>
<rect x="178.85" y="112.35" width="12.25" height="12.25" fill="none" stroke="#d8deff" stroke-width="0.7"/>
<rect x="179.90" y="113.40" width="10.15" height="10.15" fill="none" stroke="#2e4cff" stroke-width="1.4"/>
<rect x="191.65" y="112.35" width="12.25" height="12.25" fill="none" stroke="#d8deff" stroke-width="0.7"/>
<rect x="192.70" y="113.40" width="10.15" height="10.15" fill="none" stroke="#2e4cff" stroke-width="1.4"/>
<rect x="25.25" y="125.15" width="12.25" height="12.25" fill="none" stroke="#d8deff" stroke-width="0.7"/>
<rect x="26.30" y="126.20" width="10.15" height="10.15" fill="none" stroke="#2e4cff" stroke-width="1.4"/>
<rect x="38.05" y="125.15" width="12.25" height="12.25" fill="none" stroke="#d8deff" stroke-width="0.7"/>
<rect x="39.10" y="126.20" width="10.15" height="10.15" fill="none" stroke="#2e4cff" stroke-width="1.4"/>
<rect x="50.85" y="125.15" width="12.25" height="12.25" fill="none" stroke="#d8deff" stroke-width="0.7"/>
<rect x="51.90" y="126.20" width="10.15" height="10.15" fill="none" stroke="#2e4cff" stroke-width="1.4"/>
<rect x="63.65" y="125.15" width="12.25" height="12.25" fill="none" stroke="#d8deff" stroke-width="0.7"/>
<rect x="64.70" y="126.20" width="10.15" height="10.15" fill="none" stroke="#2e4cff" stroke-width="1.4"/>
<rect x="76.45" y="125.15" width="12.25" height="12.25" fill="none" stroke="#ecf6d6" stroke-width="0.7"/>
<rect x="77.50" y="126.20" width="10.15" height="10.15" fill="none" stroke="#b0dc50" stroke-width="1.4"/>
<rect x="89.25" y="125.15" width="12.25" height="12.25" fill="none" stroke="#d8deff" stroke-width="0.7"/>
<rect x="90.30" y="126.20" width="10.15" height="10.15" fill="none" stroke="#2e4cff" stroke-width="1.4"/>
<rect x="114.85" y="125.15" width="12.25" height="12.25" fill="none" stroke="#d8deff" stroke-width="0.7"/>
<rect x="115.90" y="126.20" width="10.15" height="10.15" fill="none" stroke="#2e4cff" stroke-width="1.4"/>
<rect x="140.45" y="125.15" width="12.25" height="12.25" fill="none" stroke="#d8deff" stroke-width="0.7"/>
<rect x="141.50" y="126.20" width="10.15" height="10.15" fill="none" stroke="#2e4cff" stroke-width="1.4"/>
<rect x="153.25" y="125.15" width="12.25" height="12.25" fill="none" stroke="#d8deff" stroke-width="0.7"/>
<rect x="154.30" y="126.20" width="10.15" height="10.15" fill="none" stroke="#2e4cff" stroke-width="1.4"/>
<rect x="166.05" y="125.15" width="12.25" height="12.25" fill="none" stroke="#fcd6fc" stroke-width="0.7"/>
<rect x="167.10" y="126.20" width="10.15" height="10.15" fill="none" stroke="#f014f0" stroke-width="1.4"/>
<rect x="178.85" y="125.15" width="12.25" height="12.25" fill="none" stroke="#d8deff" stroke-width="0.7"/>
<rect x="179.90" y="126.20" width="10.15" height="10.15" fill="none" stroke="#2e4cff" stroke-width="1.4"/>
<rect x="12.45" y="137.95" width="12.25" height="12.25" fill="none" stroke="#d8deff" stroke-width="0.7"/>
<rect x="13.50" y="139.00" width="10.15" height="10.15" fill="none" stroke="#2e4cff" stroke-width="1.4"/>
<rect x="25.25" y="137.95" width="12.25" height="12.25" fill="none" stroke="#d8deff" stroke-width="0.7"/>
<rect x="26.30" y="139.00" width="10.15" height="10.15" fill="none" stroke="#2e4cff" stroke-width="1.4"/>
<rect x="38.05" y="137.95" width="12.25" height="12.25" fill="none" stroke="#d8deff" stroke-width="0.7"/>
<rect x="39.10" y="139.00" width="10.15" height="10.15" fill="none" stroke="#2e4cff" stroke-width="1.4"/>
<rect x="50.85" y="137.95" width="12.25" height="12.25" fill="none" stroke="#d8deff" stroke-width="0.7"/>
<rect x="51.90" y="139.00" width="10.15" height="10.15" fill="none" stroke="#2e4cff" stroke-width="1.4"/>
<rect x="63.65" y="137.95" width="12.25" height="12.25" fill="none" stroke="#fcd6fc" stroke-width="0.7"/>
<rect x="64.70" y="139.00" width="10.15" height="10.15" fill="none" stroke="#f014f0" stroke-width="1.4"/>
<rect x="76.45" y="137.95" width="12.25" height="12.25" fill="none" stroke="#ecf6d6" stroke-width="0.7"/>
<rect x="77.50" y="139.00" width="10.15" height="10.15" fill="none" stroke="#b0dc50" stroke-width="1.4"/>
<rect x="102.05" y="137.95" width="12.25" height="12.25" fill="none" stroke="#fcd6fc" stroke-width="0.7"/>
<rect x="103.10" y="139.00" width="10.15" height="10.15" fill="none" stroke="#f014f0" stroke-width="1.4"/>
<rect x="114.85" y="137.95" width="12.25" height="12.25" fill="none" stroke="#ecf6d6" stroke-width="0.7"/>
<rect x="115.90" y="139.00" width="10.15" height="10.15" fill="none" stroke="#b0dc50" stroke-width="1.4"/>
<rect x="127.65" y="137.95" width="12.25" height="12.25" fill="none" stroke="#d8deff" stroke-width="0.7"/>
<rect x="128.70" y="139.00" width="10.15" height="10.15" fill="none" stroke="#2e4cff" stroke-width="1.4"/>
<rect x="140.45" y="137.95" width="12.25" height="12.25" fill="none" stroke="#d8deff" stroke-width="0.7"/>
<rect x="141.50" y="139.00" width="10.15" height="10.15" fill="none" stroke="#2e4cff" stroke-width="1.4"/>
<rect x="153.25" y="137.95" width="12.25" height="12.25" fill="none" stroke="#fcd6fc" stroke-width="0.7"/>
<rect x="154.30" y="139.00" width="10.15" height="10.15" fill="none" stroke="#f014f0" stroke-width="1.4"/>
<rect x="166.05" y="137.95" width="12.25" height="12.25" fill="none" stroke="#d8deff" stroke-width="0.7"/>
<rect x="167.10" y="139.00" width="10.15" height="10.15" fill="none" stroke="#2e4cff" stroke-width="1.4"/>
<rect x="178.85" y="137.95" width="12.25" height="12.25" fill="none" stroke="#d8deff" stroke-width="0.7"/>
<rect x="179.90" y="139.00" width="10.15" height="10.15" fill="none" stroke="#2e4cff" stroke-width="1.4"/>
<rect x="191.65" y="137.95" width="12.25" height="12.25" fill="none" stroke="#d8deff" stroke-width="0.7"/>
<rect x="192.70" y="139.00" width="10.15" height="10.15" fill="none" stroke="#2e4cff" stroke-width="1.4"/>
<rect x="12.45" y="150.75" width="12.25" height="12.25" fill="none" stroke="#d8deff" stroke-width="0.7"/>
<rect x="13.50" y="151.80" width="10.15" height="10.15" fill="none" stroke="#2e4cff" stroke-width="1.4"/>
<rect x="25.25" y="150.75" width="12.25" height="12.25" fill="none" stroke="#d8deff" stroke-width="0.7"/>
<rect x="26.30" y="151.80" width="10.15" height="10.15" fill="none" stroke="#2e4cff" stroke-width="1.4"/>
<rect x="63.65" y="150.75" width="12.25" height="12.25" fill="none" stroke="#d8deff" stroke-width="0.7"/>
<rect x="64.70" y="151.80" width="10.15" height="10.15" fill="none" stroke="#2e4cff" stroke-width="1.4"/>
<rect x="76.45" y="150.75" width="12.25" height="12.25" fill="none" stroke="#d8deff" stroke-width="0.7"/>
<rect x="77.50" y="151.80" width="10.15" height="10.15" fill="none" stroke="#2e4cff" stroke-width="1.4"/>
<rect x="102.05" y="150.75" width="12.25" height="12.25" fill="none" stroke="#d8deff" stroke-width="0.7"/>
<rect x="103.10" y="151.80" width="10.15" height="10.15" fill="none" stroke="#2e4cff" stroke-width="1.4"/>
<rect x="127.65" y="150.75" width="12.25" height="12.25" fill="none" stroke="#d8deff" stroke-width="0.7"/>
<rect x="128.70" y="151.80" width="10.15" height="10.15" fill="none" stroke="#2e4cff" stroke-width="1.4"/>
<rect x="140.45" y="150.75" width="12.25" height="12.25" fill="none" stroke="#d8deff" stroke-width="0.7"/>
<rect x="141.50" y="151.80" width="10.15" height="10.15" fill="none" stroke="#2e4cff" stroke-width="1.4"/>
<rect x="153.25" y="150.75" width="12.25" height="12.25" fill="none" stroke="#d8deff" stroke-width="0.7"/>
<rect x="154.30" y="151.80" width="10.15" height="10.15" fill="none" stroke="#2e4cff" stroke-width="1.4"/>
<rect x="178.85" y="150.75" width="12.25" height="12.25" fill="none" stroke="#d8deff" stroke-width="0.7"/>
<rect x="179.90" y="151.80" width="10.15" height="10.15" fill="none" stroke="#2e4cff" stroke-width="1.4"/>
<rect x="191.65" y="150.75" width="12.25" height="12.25" fill="none" stroke="#d8deff" stroke-width="0.7"/>
<rect x="192.70" y="151.80" width="10.15" height="10.15" fill="none" stroke="#2e4cff" stroke-width="1.4"/>
<rect x="12.45" y="163.55" width="12.25" height="12.25" fill="none" stroke="#d8deff" stroke-width="0.7"/>
<rect x="13.50" y="164.60" width="10.15" height="10.15" fill="none" stroke="#2e4cff" stroke-width="1.4"/>
<rect x="25.25" y="163.55" width="12.25" height="12.25" fill="none" stroke="#d8deff" stroke-width="0.7"/>
<rect x="26.30" y="164.60" width="10.15" height="10.15" fill="none" stroke="#2e4cff" stroke-width="1.4"/>
<rect x="38.05" y="163.55" width="12.25" height="12.25" fill="none" stroke="#d8deff" stroke-width="0.7"/>
<rect x="39.10" y="164.60" width="10.15" height="10.15" fill="none" stroke="#2e4cff" stroke-width="1.4"/>
<rect x="50.85" y="163.55" width="12.25" height="12.25" fill="none" stroke="#d8deff" stroke-width="0.7"/>
<rect x="51.90" y="164.60" width="10.15" height="10.15" fill="none" stroke="#2e4cff" stroke-width="1.4"/>
<rect x="63.65" y="163.55" width="12.25" height="12.25" fill="none" stroke="#fcd6fc" stroke-width="0.7"/>
<rect x="64.70" y="164.60" width="10.15" height="10.15" fill="none" stroke="#f014f0" stroke-width="1.4"/>
<rect x="76.45" y="163.55" width="12.25" height="12.25" fill="none" stroke="#d8deff" stroke-width="0.7"/>
<rect x="77.50" y="164.60" width="10.15" height="10.15" fill="none" stroke="#2e4cff" stroke-width="1.4"/>
<rect x="89.25" y="163.55" width="12.25" height="12.25" fill="none" stroke="#fcd6fc" stroke-width="0.7"/>
<rect x="90.30" y="164.60" width="10.15" height="10.15" fill="none" stroke="#f014f0" stroke-width="1.4"/>
<rect x="102.05" y="163.55" width="12.25" height="12.25" fill="none" stroke="#d8deff" stroke-width="0.7"/>
<rect x="103.10" y="164.60" width="10.15" height="10.15" fill="none" stroke="#2e4cff" stroke-width="1.4"/>
<rect x="114.85" y="163.55" width="12.25" height="12.25" fill="none" stroke="#d8deff" stroke-width="0.7"/>
<rect x="115.90" y="164.60" width="10.15" height="10.15" fill="none" stroke="#2e4cff" stroke-width="1.4"/>
<rect x="127.65" y="163.55" width="12.25" height="12.25" fill="none" stroke="#d8deff" stroke-width="0.7"/>
<rect x="128.70" y="164.60" width="10.15" height="10.15" fill="none" stroke="#2e4cff" stroke-width="1.4"/>
<rect x="140.45" y="163.55" width="12.25" height="12.25" fill="none" stroke="#d8deff" stroke-width="0.7"/>
<rect x="141.50" y="164.60" width="10.15" height="10.15" fill="none" stroke="#2e4cff" stroke-width="1.4"/>
<rect x="153.25" y="163.55" width="12.25" height="12.25" fill="none" stroke="#d8deff" stroke-width="0.7"/>
<rect x="154.30" y="164.60" width="10.15" height="10.15" fill="none" stroke="#2e4cff" stroke-width="1.4"/>
<rect x="166.05" y="163.55" width="12.25" height="12.25" fill="none" stroke="#fcd6fc" stroke-width="0.7"/>
<rect x="167.10" y="164.60" width="10.15" height="10.15" fill="none" stroke="#f014f0" stroke-width="1.4"/>
<rect x="191.65" y="163.55" width="12.25" height="12.25" fill="none" stroke="#d8deff" stroke-width="0.7"/>
<rect x="192.70" y="164.60" width="10.15" height="10.15" fill="none" stroke="#2e4cff" stroke-width="1.4"/>
<rect x="12.45" y="176.35" width="12.25" height="12.25" fill="none" stroke="#d8deff" stroke-width="0.7"/>
<rect x="13.50" y="177.40" width="10.15" height="10.15" fill="none" stroke="#2e4cff" stroke-width="1.4"/>
<rect x="25.25" y="176.35" width="12.25" height="12.25" fill="none" stroke="#d8deff" stroke-width="0.7"/>
<rect x="26.30" y="177.40" width="10.15" height="10.15" fill="none" stroke="#2e4cff" stroke-width="1.4"/>
<rect x="38.05" y="176.35" width="12.25" height="12.25" fill="none" stroke="#d8deff" stroke-width="0.7"/>
<rect x="39.10" y="177.40" width="10.15" height="10.15" fill="none" stroke="#2e4cff" stroke-width="1.4"/>
<rect x="63.65" y="176.35" width="12.25" height="12.25" fill="none" stroke="#d8deff" stroke-width="0.7"/>
<rect x="64.70" y="177.40" width="10.15" height="10.15" fill="none" stroke="#2e4cff" stroke-width="1.4"/>
<rect x="76.45" y="176.35" width="12.25" height="12.25" fill="none" stroke="#d8deff" stroke-width="0.7"/>
<rect x="77.50" y="177.40" width="10.15" height="10.15" fill="none" stroke="#2e4cff" stroke-width="1.4"/>
<rect x="89.25" y="176.35" width="12.25" height="12.25" fill="none" stroke="#d8deff" stroke-width="0.7"/>
<rect x="90.30" y="177.40" width="10.15" height="10.15" fill="none" stroke="#2e4cff" stroke-width="1.4"/>
<rect x="114.85" y="176.35" width="12.25" height="12.25" fill="none" stroke="#d8deff" stroke-width="0.7"/>
<rect x="115.90" y="177.40" width="10.15" height="10.15" fill="none" stroke="#2e4cff" stroke-width="1.4"/>
<rect x="140.45" y="176.35" width="12.25" height="12.25" fill="none" stroke="#d8deff" stroke-width="0.7"/>
<rect x="141.50" y="177.40" width="10.15" height="10.15" fill="none" stroke="#2e4cff" stroke-width="1.4"/>
<rect x="153.25" y="176.35" width="12.25" height="12.25" fill="none" stroke="#d8deff" stroke-width="0.7"/>
<rect x="154.30" y="177.40" width="10.15" height="10.15" fill="none" stroke="#2e4cff" stroke-width="1.4"/>
<rect x="166.05" y="176.35" width="12.25" height="12.25" fill="none" stroke="#d8deff" stroke-width="0.7"/>
<rect x="167.10" y="177.40" width="10.15" height="10.15" fill="none" stroke="#2e4cff" stroke-width="1.4"/>
<rect x="178.85" y="176.35" width="12.25" height="12.25" fill="none" stroke="#d8deff" stroke-width="0.7"/>
<rect x="179.90" y="177.40" width="10.15" height="10.15" fill="none" stroke="#2e4cff" stroke-width="1.4"/>
<rect x="191.65" y="176.35" width="12.25" height="12.25" fill="none" stroke="#d8deff" stroke-width="0.7"/>
<rect x="192.70" y="177.40" width="10.15" height="10.15" fill="none" stroke="#2e4cff" stroke-width="1.4"/>
<rect x="12.45" y="189.15" width="12.25" height="12.25" fill="none" stroke="#d8deff" stroke-width="0.7"/>
<rect x="13.50" y="190.20" width="10.15" height="10.15" fill="none" stroke="#2e4cff" stroke-width="1.4"/>
<rect x="25.25" y="189.15" width="12.25" height="12.25" fill="none" stroke="#d8deff" stroke-width="0.7"/>
<rect x="26.30" y="190.20" width="10.15" height="10.15" fill="none" stroke="#2e4cff" stroke-width="1.4"/>
<rect x="38.05" y="189.15" width="12.25" height="12.25" fill="none" stroke="#d8deff" stroke-width="0.7"/>
<rect x="39.10" y="190.20" width="10.15" height="10.15" fill="none" stroke="#2e4cff" stroke-width="1.4"/>
<rect x="50.85" y="189.15" width="12.25" height="12.25" fill="none" stroke="#d8deff" stroke-width="0.7"/>
<rect x="51.90" y="190.20" width="10.15" height="10.15" fill="none" stroke="#2e4cff" stroke-width="1.4"/>
<rect x="63.65" y="189.15" width="12.25" height="12.25" fill="none" stroke="#d8deff" stroke-width="0.7"/>
<rect x="64.70" y="190.20" width="10.15" height="10.15" fill="none" stroke="#2e4cff" stroke-width="1.4"/>
<rect x="76.45" y="189.15" width="12.25" height="12.25" fill="none" stroke="#d8deff" stroke-width="0.7"/>
<rect x="77.50" y="190.20" width="10.15" height="10.15" fill="none" stroke="#2e4cff" stroke-width="1.4"/>
<rect x="89.25" y="189.15" width="12.25" height="12.25" fill="none" stroke="#d8deff" stroke-width="0.7"/>
<rect x="90.30" y="190.20" width="10.15" height="10.15" fill="none" stroke="#2e4cff" stroke-width="1.4"/>
<rect x="102.05" y="189.15" width="12.25" height="12.25" fill="none" stroke="#d8deff" stroke-width="0.7"/>
<rect x="103.10" y="190.20" width="10.15" height="10.15" fill="none" stroke="#2e4cff" stroke-width="1.4"/>
<rect x="114.85" y="189.15" width="12.25" height="12.25" fill="none" stroke="#d8deff" stroke-width="0.7"/>
<rect x="115.90" y="190.20" width="10.15" height="10.15" fill="none" stroke="#2e4cff" stroke-width="1.4"/>
<rect x="127.65" y="189.15" width="12.25" height="12.25" fill="none" stroke="#d8deff" stroke-width="0.7"/>
<rect x="128.70" y="190.20" width="10.15" height="10.15" fill="none" stroke="#2e4cff" stroke-width="1.4"/>
<rect x="140.45" y="189.15" width="12.25" height="12.25" fill="none" stroke="#d8deff" stroke-width="0.7"/>
<rect x="141.50" y="190.20" width="10.15" height="10.15" fill="none" stroke="#2e4cff" stroke-width="1.4"/>
<rect x="153.25" y="189.15" width="12.25" height="12.25" fill="none" stroke="#d8deff" stroke-width="0.7"/>
<rect x="154.30" y="190.20" width="10.15" height="10.15" fill="none" stroke="#2e4cff" stroke-width="1.4"/>
<rect x="166.05" y="189.15" width="12.25" height="12.25" fill="none" stroke="#d8deff" stroke-width="0.7"/>
<rect x="167.10" y="190.20" width="10.15" height="10.15" fill="none" stroke="#2e4cff" stroke-width="1.4"/>
<rect x="191.65" y="189.15" width="12.25" height="12.25" fill="none" stroke="#d8deff" stroke-width="0.7"/>
<rect x="192.70" y="190.20" width="10.15" height="10.15" fill="none" stroke="#2e4cff" stroke-width="1.4"/>
<rect x="12.45" y="201.95" width="12.25" height="12.25" fill="none" stroke="#fcd6fc" stroke-width="0.7"/>
<rect x="13.50" y="203.00" width="10.15" height="10.15" fill="none" stroke="#f014f0" stroke-width="1.4"/>
<rect x="25.25" y="201.95" width="12.25" height="12.25" fill="none" stroke="#d8deff" stroke-width="0.7"/>
<rect x="26.30" y="203.00" width="10.15" height="10.15" fill="none" stroke="#2e4cff" stroke-width="1.4"/>
<rect x="38.05" y="201.95" width="12.25" height="12.25" fill="none" stroke="#d8deff" stroke-width="0.7"/>
<rect x="39.10" y="203.00" width="10.15" height="10.15" fill="none" stroke="#2e4cff" stroke-width="1.4"/>
<rect x="63.65" y="201.95" width="12.25" height="12.25" fill="none" stroke="#d8deff" stroke-width="0.7"/>
<rect x="64.70" y="203.00" width="10.15" height="10.15" fill="none" stroke="#2e4cff" stroke-width="1.4"/>
<rect x="76.45" y="201.95" width="12.25" height="12.25" fill="none" stroke="#d8deff" stroke-width="0.7"/>
<rect x="77.50" y="203.00" width="10.15" height="10.15" fill="none" stroke="#2e4cff" stroke-width="1.4"/>
<rect x="89.25" y="201.95" width="12.25" height="12.25" fill="none" stroke="#d8deff" stroke-width="0.7"/>
<rect x="90.30" y="203.00" width="10.15" height="10.15" fill="none" stroke="#2e4cff" stroke-width="1.4"/>
<rect x="102.05" y="201.95" width="12.25" height="12.25" fill="none" stroke="#d8deff" stroke-width="0.7"/>
<rect x="103.10" y="203.00" width="10.15" height="10.15" fill="none" stroke="#2e4cff" stroke-width="1.4"/>
<rect x="114.85" y="201.95" width="12.25" height="12.25" fill="none" stroke="#d8deff" stroke-width="0.7"/>
<rect x="115.90" y="203.00" width="10.15" height="10.15" fill="none" stroke="#2e4cff" stroke-width="1.4"/>
<rect x="127.65" y="201.95" width="12.25" height="12.25" fill="none" stroke="#d8deff" stroke-width="0.7"/>
<rect x="128.70" y="203.00" width="10.15" height="10.15" fill="none" stroke="#2e4cff" stroke-width="1.4"/>
<rect x="140.45" y="201.95" width="12.25" height="12.25" fill="none" stroke="#d8deff" stroke-width="0.7"/>
<rect x="141.50" y="203.00" width="10.15" height="10.15" fill="none" stroke="#2e4cff" stroke-width="1.4"/>
<rect x="153.25" y="201.95" width="12.25" height="12.25" fill="none" stroke="#d8deff" stroke-width="0.7"/>
<rect x="154.30" y="203.00" width="10.15" height="10.15" fill="none" stroke="#2e4cff" stroke-width="1.4"/>
<rect x="166.05" y="201.95" width="12.25" height="12.25" fill="none" stroke="#d8deff" stroke-width="0.7"/>
<rect x="167.10" y="203.00" width="10.15" height="10.15" fill="none" stroke="#2e4cff" stroke-width="1.4"/>
<rect x="178.85" y="201.95" width="12.25" height="12.25" fill="none" stroke="#d8deff" stroke-width="0.7"/>
<rect x="179.90" y="203.00" width="10.15" height="10.15" fill="none" stroke="#2e4cff" stroke-width="1.4"/>
<rect x="191.65" y="201.95" width="12.25" height="12.25" fill="none" stroke="#d8deff" stroke-width="0.7"/>
<rect x="192.70" y="203.00" width="10.15" height="10.15" fill="none" stroke="#2e4cff" stroke-width="1.4"/>
<rect x="12.45" y="214.75" width="12.25" height="12.25" fill="none" stroke="#d8deff" stroke-width="0.7"/>
<rect x="13.50" y="215.80" width="10.15" height="10.15" fill="none" stroke="#2e4cff" stroke-width="1.4"/>
<rect x="38.05" y="214.75" width="12.25" height="12.25" fill="none" stroke="#d8deff" stroke-width="0.7"/>
<rect x="39.10" y="215.80" width="10.15" height="10.15" fill="none" stroke="#2e4cff" stroke-width="1.4"/>
<rect x="50.85" y="214.75" width="12.25" height="12.25" fill="none" stroke="#d8deff" stroke-width="0.7"/>
<rect x="51.90" y="215.80" width="10.15" height="10.15" fill="none" stroke="#2e4cff" stroke-width="1.4"/>
<rect x="63.65" y="214.75" width="12.25" height="12.25" fill="none" stroke="#d8deff" stroke-width="0.7"/>
<rect x="64.70" y="215.80" width="10.15" height="10.15" fill="none" stroke="#2e4cff" stroke-width="1.4"/>
<rect x="89.25" y="214.75" width="12.25" height="12.25" fill="none" stroke="#d8deff" stroke-width="0.7"/>
<rect x="90.30" y="215.80" width="10.15" height="10.15" fill="none" stroke="#2e4cff" stroke-width="1.4"/>
<rect x="102.05" y="214.75" width="12.25" height="12.25" fill="none" stroke="#fcd6fc" stroke-width="0.7"/>
<rect x="103.10" y="215.80" width="10.15" height="10.15" fill="none" stroke="#f014f0" stroke-width="1.4"/>
<rect x="114.85" y="214.75" width="12.25" height="12.25" fill="none" stroke="#d8deff" stroke-width="0.7"/>
<rect x="115.90" y="215.80" width="10.15" height="10.15" fill="none" stroke="#2e4cff" stroke-width="1.4"/>
<rect x="127.65" y="214.75" width="12.25" height="12.25" fill="none" stroke="#d8deff" stroke-width="0.7"/>
<rect x="128.70" y="215.80" width="10.15" height="10.15" fill="none" stroke="#2e4cff" stroke-width="1.4"/>
<rect x="140.45" y="214.75" width="12.25" height="12.25" fill="none" stroke="#d8deff" stroke-width="0.7"/>
<rect x="141.50" y="215.80" width="10.15" height="10.15" fill="none" stroke="#2e4cff" stroke-width="1.4"/>
<rect x="153.25" y="214.75" width="12.25" height="12.25" fill="none" stroke="#d8deff" stroke-width="0.7"/>
<rect x="154.30" y="215.80" width="10.15" height="10.15" fill="none" stroke="#2e4cff" stroke-width="1.4"/>
<rect x="178.85" y="214.75" width="12.25" height="12.25" fill="none" stroke="#fcd6fc" stroke-width="0.7"/>
<rect x="179.90" y="215.80" width="10.15" height="10.15" fill="none" stroke="#f014f0" stroke-width="1.4"/>
<line x1="175.3" y1="237.2" x2="200.2" y2="237.2" stroke="#1a1a1a" stroke-width="0.9" />
<rect x="19" y="246.0" width="9.5" height="9.5" fill="none" stroke="#2e4cff" stroke-width="1"/>
<text x="38.5" y="255.0" font-size="12.2" text-anchor="start" fill="#222" >Cluster 1: Decrease</text>
<rect x="19" y="265.5" width="9.5" height="9.5" fill="none" stroke="#b0dc50" stroke-width="1"/>
<text x="38.5" y="274.5" font-size="12.2" text-anchor="start" fill="#222" >Cluster 2: Increase-decrease</text>
<rect x="19" y="285.0" width="9.5" height="9.5" fill="none" stroke="#f014f0" stroke-width="1"/>
<text x="38.5" y="294.0" font-size="12.2" text-anchor="start" fill="#222" >Cluster 3: Decrease-increase</text>
<text x="211.3" y="14.6" font-size="18.6" text-anchor="start" font-weight="bold" fill="#000" >b (i)</text>
<circle cx="267.4" cy="14.3" r="2.0" fill="none" stroke="#1010ff" stroke-width="1.2"/>
<text x="272.8" y="18.3" font-size="10.9" fill="#222">Cluster 1</text>
<circle cx="267.4" cy="28.5" r="2.0" fill="none" stroke="#30e030" stroke-width="1.2"/>
<text x="272.8" y="32.5" font-size="10.9" fill="#222">Cluster 2</text>
<circle cx="327.6" cy="14.3" r="2.0" fill="none" stroke="#ff20ff" stroke-width="1.2"/>
<text x="333.0" y="18.3" font-size="10.9" fill="#222">Cluster 3</text>
<circle cx="327.6" cy="28.5" r="2.0" fill="none" stroke="#333" stroke-width="1.2"/>
<text x="333.0" y="32.5" font-size="10.9" fill="#222">Cluster 4</text>
<line x1="247.0" y1="140.5" x2="247.0" y2="46.0" stroke="#dcdcdc" stroke-width="0.6" />
<line x1="256.1" y1="137.1" x2="256.1" y2="42.6" stroke="#dcdcdc" stroke-width="0.6" />
<line x1="265.2" y1="133.7" x2="265.2" y2="39.2" stroke="#dcdcdc" stroke-width="0.6" />
<line x1="274.3" y1="130.3" x2="274.3" y2="35.8" stroke="#dcdcdc" stroke-width="0.6" />
<line x1="283.4" y1="126.9" x2="283.4" y2="32.4" stroke="#dcdcdc" stroke-width="0.6" />
<line x1="292.5" y1="123.6" x2="292.5" y2="29.1" stroke="#dcdcdc" stroke-width="0.6" />
<line x1="301.6" y1="120.2" x2="301.6" y2="25.7" stroke="#dcdcdc" stroke-width="0.6" />
<line x1="243.7" y1="58.7" x2="305.8" y2="35.6" stroke="#dcdcdc" stroke-width="0.6" />
<line x1="243.7" y1="76.0" x2="305.8" y2="52.9" stroke="#dcdcdc" stroke-width="0.6" />
<line x1="243.7" y1="93.2" x2="305.8" y2="70.1" stroke="#dcdcdc" stroke-width="0.6" />
<line x1="243.7" y1="110.5" x2="305.8" y2="87.4" stroke="#dcdcdc" stroke-width="0.6" />
<line x1="243.7" y1="128.0" x2="305.8" y2="104.9" stroke="#dcdcdc" stroke-width="0.6" />
<line x1="320.7" y1="120.8" x2="320.7" y2="26.3" stroke="#dcdcdc" stroke-width="0.6" />
<line x1="345.5" y1="124.5" x2="345.5" y2="30.0" stroke="#dcdcdc" stroke-width="0.6" />
<line x1="369.0" y1="128.0" x2="369.0" y2="33.5" stroke="#dcdcdc" stroke-width="0.6" />
<line x1="392.6" y1="131.5" x2="392.6" y2="37.0" stroke="#dcdcdc" stroke-width="0.6" />
<line x1="305.8" y1="35.6" x2="402.6" y2="50.0" stroke="#dcdcdc" stroke-width="0.6" />
<line x1="305.8" y1="52.9" x2="402.6" y2="67.3" stroke="#dcdcdc" stroke-width="0.6" />
<line x1="305.8" y1="70.1" x2="402.6" y2="84.5" stroke="#dcdcdc" stroke-width="0.6" />
<line x1="305.8" y1="87.4" x2="402.6" y2="101.8" stroke="#dcdcdc" stroke-width="0.6" />
<line x1="305.8" y1="104.9" x2="402.6" y2="119.3" stroke="#dcdcdc" stroke-width="0.6" />
<line x1="305.8" y1="118.6" x2="305.8" y2="24.1" stroke="#dcdcdc" stroke-width="0.6" />
<line x1="247.0" y1="140.5" x2="343.8" y2="154.9" stroke="#dcdcdc" stroke-width="0.6" />
<line x1="256.1" y1="137.1" x2="352.9" y2="151.5" stroke="#dcdcdc" stroke-width="0.6" />
<line x1="265.2" y1="133.7" x2="362.0" y2="148.1" stroke="#dcdcdc" stroke-width="0.6" />
<line x1="274.3" y1="130.3" x2="371.1" y2="144.7" stroke="#dcdcdc" stroke-width="0.6" />
<line x1="283.4" y1="126.9" x2="380.2" y2="141.3" stroke="#dcdcdc" stroke-width="0.6" />
<line x1="292.5" y1="123.6" x2="389.3" y2="138.0" stroke="#dcdcdc" stroke-width="0.6" />
<line x1="301.6" y1="120.2" x2="398.4" y2="134.6" stroke="#dcdcdc" stroke-width="0.6" />
<line x1="258.6" y1="143.9" x2="320.7" y2="120.8" stroke="#dcdcdc" stroke-width="0.6" />
<line x1="283.4" y1="147.6" x2="345.5" y2="124.5" stroke="#dcdcdc" stroke-width="0.6" />
<line x1="306.9" y1="151.1" x2="369.0" y2="128.0" stroke="#dcdcdc" stroke-width="0.6" />
<line x1="330.5" y1="154.6" x2="392.6" y2="131.5" stroke="#dcdcdc" stroke-width="0.6" />
<line x1="243.7" y1="141.7" x2="305.8" y2="118.6" stroke="#dcdcdc" stroke-width="0.6" />
<line x1="305.8" y1="118.6" x2="402.6" y2="133.0" stroke="#dcdcdc" stroke-width="0.6" />
<polyline points="313.4,113.0 329.0,105.9 312.7,109.5 325.3,118.8 313.5,99.7 326.9,113.8 332.7,117.9 321.3,107.8 340.0,107.7 316.5,100.9 322.7,111.2 319.6,109.5 323.9,115.5 329.7,111.7 309.5,115.6 312.1,108.6 311.7,110.0 316.6,111.7 345.1,109.6 327.9,99.4 320.0,115.3 321.4,113.0 322.7,102.0 325.9,103.5 335.1,106.0 326.8,110.0 328.7,105.2 329.0,109.0 330.8,115.0 323.0,103.8 327.4,113.7 333.5,107.0 325.9,114.1 324.0,111.7 323.3,105.2 314.9,106.8 326.1,122.1 328.8,118.4 327.4,115.6 323.3,116.2 334.4,107.4 317.1,125.7 323.7,117.8 328.1,100.9 339.0,124.2 323.2,116.0 322.9,102.9 321.2,113.0 329.8,115.7 322.4,120.8 316.7,116.3 329.8,107.7 309.5,102.7 323.7,114.2 332.8,102.0 322.0,115.2 320.9,91.0 327.6,128.5 329.0,102.7 319.1,111.8 339.4,114.9 322.8,122.5 321.4,124.9 317.2,106.2 327.0,121.4 326.6,112.4 309.2,104.3 317.7,105.7 326.1,107.3 327.5,110.7 319.7,110.9 325.0,116.9 318.7,108.1 312.5,122.8 332.2,108.6 318.7,100.1 323.2,111.7 337.3,112.0 316.6,90.4 331.9,111.5 310.7,111.4 310.7,137.8 329.8,114.6 320.8,92.9 321.1,97.6 326.2,92.9 315.6,119.8 333.5,100.6 311.3,117.0 328.0,102.1 317.1,104.4 313.7,104.6 330.8,115.5 336.4,109.3 321.1,102.1 321.1,99.5 309.6,115.6 332.1,116.7 331.3,112.0 317.0,110.7 319.4,101.1 310.2,98.1 322.0,111.2 318.7,121.4 323.3,114.7 330.5,103.4 308.2,116.0 317.2,120.5 324.4,118.1 327.3,93.4 327.0,104.6 316.7,106.5 327.4,117.1 329.1,96.7 317.9,91.0 321.3,114.8 316.7,112.0 323.6,118.1 316.3,103.4 316.7,124.0 329.6,109.0 323.6,110.9 323.4,108.3 319.7,99.9 317.5,123.2 325.8,110.5 320.5,110.5 324.5,104.8 323.4,111.9 316.8,103.7 315.0,101.5 328.2,91.1 320.1,105.1 317.7,110.8 329.9,110.6 321.0,105.1 321.1,117.3 319.2,100.8 313.2,101.1 312.3,118.8 324.5,108.1 332.2,104.7 327.3,116.4 311.2,97.5 315.5,117.3 331.1,100.2 329.3,106.9 319.2,105.6 319.7,95.5 315.0,100.1 325.4,126.7 341.1,107.3 310.0,106.7 315.4,125.9 326.0,104.2 328.6,114.3 310.6,105.7 320.3,110.2 322.9,107.3 323.3,105.3 315.7,122.1 324.5,113.5 310.8,108.7 327.7,99.7 329.7,106.9 324.8,108.9 323.5,119.6 319.2,122.5 316.5,102.5 327.0,101.5" fill="none" stroke="none" marker-start="url(#mg0)" marker-mid="url(#mg0)" marker-end="url(#mg0)"/>
<polyline points="301.4,101.1 318.8,74.3 311.1,110.8 318.6,89.6 298.9,89.0 292.8,89.4 303.4,90.5 318.5,89.7 289.5,102.5 293.7,87.5 304.0,88.6 294.5,89.5 329.5,85.9 304.0,103.2 313.7,99.6 315.0,72.3 296.0,93.3 311.0,104.9 310.7,89.6 305.9,89.9 308.2,98.7 301.8,83.9 296.1,103.0 319.6,101.9 314.9,100.3 305.5,98.6 293.9,90.0 297.4,99.3 299.1,90.9 309.9,105.5 296.8,82.6 314.5,80.9 310.5,86.3 304.3,73.8 313.3,87.0 295.6,112.8 313.3,127.1 310.0,88.5 306.7,108.1 305.2,96.5 311.2,82.9 306.9,87.0 291.8,100.7 312.8,92.7 295.5,71.9 310.8,91.0 287.0,91.4 288.8,91.7 307.1,95.5 307.9,93.7 293.0,88.2 299.9,89.6 308.5,98.2 323.5,66.3 309.9,90.0 330.5,101.3 287.3,96.0 299.8,101.9 293.9,91.0 304.1,91.0 299.1,73.6 310.6,102.0 304.7,81.8 307.7,97.7 303.6,91.9 321.0,80.8 299.4,72.9 297.8,84.6 294.9,85.1 325.3,90.0 304.2,114.0 304.8,74.7 309.9,82.6 323.5,79.5 299.1,75.9 306.6,81.8 304.8,88.2 298.8,101.4 315.8,92.6 295.6,81.3 308.5,115.9 300.5,84.2 297.8,81.0 294.8,89.9 321.3,92.0 299.9,75.9 307.8,91.7 292.0,81.1 305.0,102.1 312.4,94.1 301.9,95.2 305.4,113.7 293.0,88.3 319.4,89.3 321.2,91.6 307.1,88.3 290.3,82.3 329.9,98.5 312.2,101.5 311.8,102.2 302.6,89.8 316.3,88.5 290.9,89.7 299.5,98.1 297.6,81.4 301.8,107.5 305.0,93.6 305.6,95.0 315.7,106.0 287.4,105.6 305.5,88.8 331.9,90.3 326.9,101.7 294.2,96.9 313.6,90.7 279.9,88.6 303.4,80.9 325.6,89.6 301.2,89.0 296.9,84.2 306.5,95.1 299.9,91.1 290.2,97.2 297.3,94.1 295.5,86.8 307.9,79.9 332.7,91.6 304.7,84.7 323.0,105.9 308.8,78.3 300.0,98.2 299.9,80.2 292.4,84.3 305.7,85.5 305.7,119.9 325.0,81.6 309.3,92.9 304.0,102.4 301.8,88.7 301.4,91.0 319.6,99.8 290.7,87.6 296.7,100.2 308.0,100.9 304.8,72.9 310.5,94.3 311.1,79.0 306.4,85.1 297.9,95.5 309.4,83.1 286.7,67.3 299.2,103.2 304.9,69.5 296.0,96.2 323.9,103.7 309.5,94.0 293.8,87.5 301.8,84.3 306.2,88.1 309.2,106.3 313.7,96.2 302.9,76.8 304.2,97.4 294.4,104.5 301.8,95.7 301.9,79.4 328.2,80.4 315.6,86.4 308.6,83.9 300.9,101.2 326.9,83.5 305.6,101.5 298.6,99.1 296.9,98.0 310.3,104.1 309.5,80.1 312.8,81.0 313.8,107.1 312.1,86.5 318.6,93.7 291.8,88.5 321.1,89.0 306.8,88.6 287.0,86.9 309.4,94.1 303.6,70.7 318.9,99.2 316.8,105.0 300.6,86.0 309.0,108.7 287.0,89.7 297.6,97.6 321.6,89.0 291.9,92.5 302.4,76.6 315.2,86.8 313.0,78.8 317.6,77.6 317.1,73.9 320.7,88.3 288.4,89.7 309.2,82.1 300.1,94.7 303.6,61.3 300.8,96.3 308.8,102.1 297.9,117.5 314.3,95.1 317.4,101.5 306.6,85.8 316.8,96.2 284.7,81.0 310.6,93.1 308.6,98.4 307.1,107.8 299.0,88.0 309.0,99.5 314.2,106.9 300.3,103.7 310.6,81.6 304.0,112.9 314.1,87.3 279.1,84.6 297.8,92.8 330.9,99.5 308.9,82.7 292.5,89.9 300.4,122.1 301.1,85.8 317.9,92.8 291.9,104.9 302.1,78.7 309.0,96.9 301.8,99.0 314.5,83.2 282.9,68.1 304.1,104.3 316.5,105.9 325.9,92.2 317.1,76.7 313.1,95.9 304.5,87.6 293.2,93.4 319.6,88.3 311.3,85.4 308.3,81.9 309.7,89.8 309.0,85.9 292.6,88.7 316.9,107.8 301.9,100.0 313.8,95.9 288.4,95.2 294.8,103.8 314.2,98.2 277.6,98.2 313.2,79.2 316.2,92.8 303.5,84.9 294.3,87.7 339.4,94.0 307.8,85.5 298.7,86.5 295.7,100.8 302.5,100.7 292.8,101.3 305.2,98.7 304.4,83.1 318.8,87.6 303.9,83.1 307.7,88.1 308.6,95.4 297.9,77.9 310.3,101.2 313.2,80.5 312.2,95.8 308.6,96.3 301.9,94.1 315.7,87.0 289.7,91.0 307.7,73.6 298.1,97.9 303.8,92.9 291.6,101.1 324.8,90.0 297.4,80.4 315.3,93.0 296.8,104.1 313.9,98.0 286.1,91.0 312.4,79.8 315.7,106.3 316.9,84.8 297.7,101.4 316.4,104.3 318.7,91.0 301.0,73.4 314.1,114.8 300.4,87.2 312.6,95.7 290.4,84.9 293.4,112.2 297.6,100.5 326.6,110.9 321.2,108.3 291.9,88.5 297.5,89.1 334.3,75.2 311.6,79.6 320.2,105.0 299.9,112.7 306.3,105.0 308.9,86.4 301.3,90.8 312.3,93.3 331.5,90.1 300.4,84.8 297.0,77.6 294.7,101.1 306.2,90.3 309.4,102.7 312.3,99.7 299.3,89.4 297.0,91.0 296.5,88.3 303.6,89.8 302.6,87.1 319.9,88.6 294.4,93.9 293.5,81.3 306.4,75.3 270.1,94.9 316.9,75.3 295.6,97.8 283.6,83.3 292.3,90.0 283.8,100.9 303.9,95.0 301.9,70.8 303.8,78.6 305.6,83.5 302.0,89.9 314.0,99.7 294.4,91.8 321.6,96.9 297.5,90.8 301.7,101.4 305.9,95.8 329.8,78.2 294.3,74.7 288.0,100.6 308.7,108.3 283.8,83.2 321.4,102.3 315.2,100.7 305.9,91.9 305.9,100.4 303.7,95.2 321.5,80.7 297.2,97.6 302.6,90.4 328.6,96.2 300.9,103.0 333.2,80.9 298.1,93.2 298.5,113.7 311.3,88.0 310.9,84.0 298.8,93.1 331.8,69.5 310.1,105.5 313.6,111.2 310.5,93.5 304.1,83.4 323.5,80.2 304.1,86.8 296.9,69.8 301.3,93.4 307.1,100.4 303.7,85.6 308.9,98.6 295.6,76.8 294.2,102.6 316.5,83.1 306.7,100.4 320.1,85.4 302.9,106.1 332.0,107.3 293.0,96.5 302.2,91.4 298.2,87.2 305.4,110.0 313.2,96.3 305.8,84.5 303.0,104.4 314.6,111.6 308.4,91.8 287.7,96.0 286.5,107.3 298.6,92.0 290.6,87.0 295.3,103.3 308.2,80.2 284.3,91.3 300.1,80.9 312.0,90.1 306.7,86.1 299.2,87.4 287.9,98.3 309.9,74.8 306.6,103.5 308.1,105.0 302.5,92.0 291.2,82.9 285.4,83.0 308.2,97.2 318.3,93.3 294.6,96.3 303.9,109.8 327.0,101.6 293.0,86.7 307.6,84.9 311.3,98.9 314.7,94.3 295.8,83.6 304.1,105.3 322.8,101.8 309.5,98.8 314.5,104.9 314.9,76.6 316.0,95.9 300.4,97.3 308.7,91.5 286.9,93.1 311.6,91.5 288.0,96.6 313.4,93.8 310.2,88.5 298.3,97.2 301.6,93.8 341.3,99.1 307.0,75.8 306.6,99.6 297.7,89.6 280.7,97.6 299.0,98.8 320.5,90.4 316.3,94.5 303.3,89.2 296.1,104.8 315.2,81.9 314.8,84.7 288.9,104.0 291.4,103.8 307.7,101.0 311.1,103.5 309.3,97.8 308.2,103.0 301.2,102.2 322.1,91.4 310.3,86.9 302.3,94.6 301.7,83.1 305.2,93.9 309.1,99.1 286.0,106.1 303.6,84.3 301.4,96.4 315.1,88.3 307.2,76.0 307.4,90.9 300.8,100.9 325.2,102.3 296.9,107.3 301.8,91.6 299.1,96.6 311.6,93.5 303.2,90.6 301.1,101.7 299.8,90.5 303.2,84.5 303.0,77.4 310.0,97.4 302.2,107.5 296.5,97.5 310.7,86.7 302.9,100.9 306.2,94.8 320.8,94.2 287.2,84.7 314.6,90.7 293.7,72.3 309.0,106.9 291.8,70.4 310.9,86.6 302.3,88.8 295.6,96.4 315.6,95.6 299.4,102.3 304.3,97.8 295.3,98.5 313.6,104.8 305.8,96.4 299.2,100.8 314.0,102.7 301.3,79.9 304.8,89.9 297.4,98.0 315.8,95.9 317.6,95.9 294.9,86.2 301.7,98.8 315.5,93.4 316.5,83.9 304.3,106.8 310.3,102.4 285.0,75.5 296.1,102.0 323.2,85.9 294.8,82.0 295.8,97.5 302.1,110.6 313.4,85.3 308.1,90.5 314.1,101.0 301.8,100.8 311.7,91.2 308.3,98.7 302.1,85.4 319.3,92.1 299.1,96.6 289.6,92.6 290.8,87.8 286.2,85.0 315.2,90.2 292.4,109.1 298.7,106.6 299.9,77.7 325.5,87.8 313.8,103.7 291.4,92.8 299.3,98.0 305.4,79.6 306.2,99.5 302.4,97.6 299.8,91.6 309.3,93.5 319.3,101.4 314.7,99.1 307.2,80.7 317.0,109.1 308.0,89.6 305.2,103.9 308.7,82.4 303.7,84.6 303.4,83.3 296.2,106.6 316.9,76.3 295.0,87.7 301.4,78.5 315.1,76.3 313.1,98.9 301.6,85.7 306.2,93.5 283.0,79.8 311.3,91.0 301.1,82.4 298.0,84.6 335.6,79.8 322.1,96.8 307.9,94.0 301.5,107.8 311.1,91.8 304.3,94.0 293.3,89.0 298.9,98.1 312.1,73.9 303.2,101.7 291.7,80.5 316.3,90.8 300.7,80.2 307.4,86.6 307.9,96.2 313.2,88.9 299.9,92.4 304.5,93.8 299.9,89.8 299.3,86.3 307.3,103.4 299.8,97.8 309.3,93.2 312.9,86.6 311.7,95.0 268.0,95.6 312.0,111.2 294.2,93.0 309.4,82.6 318.5,96.5 297.0,80.4 301.1,115.3 328.8,67.8 286.0,98.6 304.4,85.9 312.1,93.0 308.7,94.7 293.9,105.0 300.6,103.2 313.0,92.5 307.1,91.6 285.7,88.9 310.2,76.3 289.5,102.7 314.3,76.9 310.6,91.6 316.1,88.9 303.2,84.7 307.5,90.8 298.5,88.7 297.4,98.2 294.4,76.8 295.2,102.7 300.1,98.4 313.5,87.1 313.7,97.0 305.1,85.1 304.9,79.4 302.6,86.3 310.3,95.4 298.6,100.6 318.5,92.7 297.5,97.0 279.1,86.3 311.9,111.8 297.6,107.1 330.8,110.6 280.0,102.9 307.6,102.1 303.6,86.0 303.1,106.9 314.7,89.2 309.7,100.6 311.7,91.6 298.4,84.7 300.8,86.6 288.4,78.0 315.1,81.0 291.3,91.6 321.3,104.5 301.0,81.8 299.7,83.0 299.5,96.8 293.9,84.3 302.7,91.8 297.2,84.2 293.2,84.6 311.2,89.6 271.6,98.1 304.8,83.4 302.7,61.9 287.4,103.6 328.9,113.7 297.5,92.4 314.0,79.8 324.6,84.8 309.4,80.6 309.5,91.9 317.4,80.5 305.4,110.1 292.4,95.5 310.3,87.1 302.6,106.1 318.0,97.7 308.5,80.7 306.5,109.9 317.1,78.4 282.7,85.4 307.3,86.5 302.1,95.4 315.4,94.1 319.3,77.8 310.7,96.3 289.1,104.5 287.9,77.5 334.9,105.0 309.7,105.6 318.2,80.7 310.8,106.0 303.7,92.7 300.4,99.4 299.4,86.1 292.0,82.7 307.9,96.7 301.2,81.5 309.3,95.6 319.6,87.0 301.0,97.2 322.4,91.5 304.6,82.6 301.3,101.5 314.9,103.2 287.4,100.4 295.3,98.0 279.3,91.0 295.7,104.8 306.9,105.1 300.6,111.8 300.6,111.1 300.1,82.1 315.5,88.0 304.9,78.5 301.7,93.2 297.7,96.0 280.0,101.0 301.0,106.9 301.6,85.4 300.5,94.8 312.1,87.3 296.7,96.4 314.7,74.4 293.9,85.2 324.5,104.5 314.4,97.0 293.1,103.4 300.6,84.0 327.0,77.4 320.9,94.1 295.3,93.8 296.1,93.9 298.3,80.0 335.1,86.9 316.5,91.5 313.1,79.2 293.9,58.9 316.7,96.5 292.4,100.5 312.1,121.7 308.2,101.3 312.4,99.8 305.3,87.8 313.4,104.5 292.5,80.5 305.1,110.3 303.2,74.8 314.5,99.7 327.2,94.0 327.5,84.7 315.6,93.4 292.3,89.2 320.4,103.4 301.3,103.3 315.6,101.1 308.7,95.1 296.3,91.4 306.9,84.6 302.3,93.7 307.9,102.7 294.1,88.0 308.6,88.2 309.3,87.3 318.7,89.7 292.9,99.6 324.1,72.6 304.1,92.8 317.1,107.2 303.8,76.3 313.0,102.2 310.7,92.9 296.5,116.7 292.2,76.8 316.4,95.0 313.0,95.7 324.3,106.5 299.4,102.2 292.5,74.8 319.0,87.7 281.7,91.9 298.2,97.2 304.9,84.3 297.6,99.8 295.2,93.4 294.6,96.6 325.4,97.8 318.0,96.6 294.9,89.0 306.4,96.5 298.9,98.3 297.6,92.7 305.5,80.4 316.7,92.6 306.8,91.7 282.2,77.9 295.6,102.1 299.2,98.2 294.1,83.5 300.4,102.8 287.2,90.3 310.1,93.4 305.4,99.9 308.8,81.9 312.6,84.2 301.8,106.7 332.7,106.7 310.3,84.2 297.1,108.9 309.3,78.1 323.0,97.9 320.2,96.2 281.6,84.6 304.0,90.4 322.3,85.3 304.5,91.5 304.6,81.6 292.0,66.1 309.3,90.0 307.8,81.4 305.6,82.3 294.3,95.5 312.6,97.9 305.1,88.2 321.1,104.6 298.5,81.1 309.7,95.3 295.4,115.1 282.4,83.7 308.3,102.0 285.0,87.7 321.5,106.2 302.8,92.4 295.8,96.0 293.9,71.6 288.7,92.6 290.9,103.2 319.8,102.1 312.8,103.5 308.5,100.8 310.8,100.0 294.3,85.4 294.5,100.4 311.2,84.1 294.6,86.2 315.2,90.9 302.9,85.1 304.2,108.2 297.9,88.5 324.4,99.3 293.0,103.0 291.6,97.7 277.6,82.0 315.7,86.1 297.5,92.6 305.6,87.4 298.1,110.2 322.1,95.4 292.8,86.7 302.4,97.0 323.3,86.8 307.2,87.7 307.1,85.1 309.8,103.8 301.2,88.8 306.9,78.8 325.6,78.6 301.6,83.2 322.2,87.2 300.0,111.1 304.3,84.2 305.5,94.0 297.3,90.2 303.3,99.4 314.1,100.5 304.2,100.1 303.2,103.8 310.1,87.8 319.2,76.8 294.8,84.1 304.1,79.7 292.3,73.1 306.8,84.3 329.8,99.9 292.9,105.4 306.8,102.9 293.3,103.8 317.7,87.9 296.2,88.3 308.5,116.3 325.6,107.2 303.2,88.8 309.7,89.3 300.4,90.0 314.9,91.4 308.2,89.4 303.4,88.8 319.6,94.4 322.1,90.4 317.3,78.2 301.1,91.5 298.6,90.9 295.4,90.4 298.2,92.0 302.3,82.0 301.1,92.4 291.5,93.0 319.4,89.8 311.7,98.3 296.7,105.4 333.4,81.8 329.3,85.0 321.7,73.9 318.2,93.5 291.4,83.8 294.0,83.0 309.8,90.3 277.9,88.9 310.7,93.0 324.3,73.6 308.3,92.4 313.6,78.6 291.1,90.4 306.4,73.9 309.6,92.0 313.7,65.8 311.1,83.1 300.3,99.9 324.3,93.6 304.4,105.2 295.7,90.5 300.0,82.2 307.7,112.6 308.3,97.1 305.2,103.4 307.6,83.2 306.7,106.5 304.6,104.1 304.8,112.5 308.7,98.7 302.4,100.5 303.1,77.2 308.9,79.9 321.9,100.0 305.8,99.0 276.9,107.5 298.4,98.8 333.9,75.8 301.0,95.5 310.2,75.1 295.3,107.0 298.9,97.7 290.4,82.9 285.4,94.8 318.4,93.0 302.6,94.5 310.8,89.2 311.7,111.7 330.2,86.3 291.6,111.4 316.5,104.3 312.3,89.8 316.4,103.3 318.6,81.2 317.0,88.6 301.6,95.6 301.8,115.4 311.8,94.8 303.5,94.6 303.1,98.0 315.1,100.5 291.7,88.8 306.5,79.8 309.8,90.7 306.2,95.9 298.7,107.7 317.1,86.6 310.8,99.6 297.1,88.5 313.3,66.1 291.0,95.4 312.5,82.8 315.1,114.4 307.9,91.7 306.4,81.9 311.7,93.9 313.9,106.5 306.0,93.9 309.2,109.6 289.5,92.1 298.7,93.4 314.8,92.8 313.8,94.0 297.7,85.5 290.3,94.4 301.3,100.6 316.3,83.2 293.6,98.2 295.9,94.2 312.4,88.2 325.3,84.3 310.3,88.0 273.8,90.4 303.9,97.9 304.2,84.8 275.5,81.9 284.4,82.1 287.8,90.1 273.9,91.3 263.2,84.3 272.2,83.4 287.2,84.1 277.9,93.1 273.7,78.3 285.9,88.4 269.0,85.1 284.6,82.9 276.2,85.0 280.6,79.1 285.0,73.0 278.6,99.1 271.6,83.8 263.1,78.3 271.0,84.5 275.6,97.0 272.6,83.9 280.6,88.6 285.4,73.1 294.5,81.9 274.0,72.5 276.0,71.6 280.4,79.9 281.4,78.5 279.6,99.7 287.3,85.2 272.1,94.3 267.2,74.1 288.2,79.9 288.5,88.1 294.4,96.6 283.2,79.6 283.2,93.9 280.0,63.7 276.4,81.5 278.6,81.6 287.1,75.2 282.1,70.1 263.8,76.9 273.8,77.8 274.1,88.3 283.1,84.6 280.4,79.2 272.1,74.1 276.1,76.1 276.7,89.1 282.9,93.3 272.5,68.6 271.2,98.0 283.9,80.9 288.3,81.1 290.7,81.2 276.2,88.9 271.0,82.9 292.6,87.1 271.3,82.2 278.8,78.7 281.9,92.8 279.3,90.2 281.1,85.0 273.7,90.8 288.5,80.8 272.9,87.7 279.7,91.9 282.5,83.1 269.3,88.4 279.7,75.1 268.6,71.2 283.4,80.9 255.7,77.8 274.5,83.2 279.2,81.6 284.2,91.2 277.4,95.1 278.1,77.9 280.1,73.9 276.9,76.6 276.0,85.4 261.8,86.7 280.8,82.5 284.0,86.4 276.4,76.9 284.1,89.3 268.6,78.9 270.7,89.8 275.0,75.2 289.6,87.2 280.6,85.7 277.7,84.2 285.3,87.1 275.8,84.6 292.1,80.1 269.7,84.8 271.0,102.4 283.3,88.1 281.5,97.8 271.8,83.6 267.2,92.7 278.4,96.4 277.0,76.6 274.0,89.6 273.2,85.8 273.9,78.9 275.0,95.4 271.4,86.2 284.6,78.7 268.4,94.5 291.2,82.2 270.5,90.1 278.7,78.1 276.2,67.1 273.2,75.4 269.6,88.0 280.8,95.9 260.0,79.2 273.0,93.3 286.2,84.8 279.6,78.6 275.3,80.8 261.1,97.3 284.1,98.6 287.6,87.4 284.8,72.0 271.7,89.9 276.2,72.5 278.8,74.8 278.9,94.9 270.9,80.7 282.8,83.7 280.2,77.9 276.5,67.0 277.6,93.0 270.9,82.6 283.9,92.5 287.1,77.6 275.9,96.3 275.6,85.9 272.9,79.2 257.9,80.0 263.3,76.7 271.9,93.4 284.3,86.7 275.2,74.0 282.2,78.0 278.0,90.5 277.5,83.6 279.5,111.5 304.2,106.7 321.9,73.6 296.0,105.8 301.0,101.0 303.2,74.9 294.3,113.2 294.7,93.9 309.3,71.8 302.0,118.2 291.5,84.9 304.1,90.2 282.3,99.0 268.7,106.1 276.2,88.8 307.3,96.2 299.8,116.2 320.2,126.3 286.7,109.7 268.8,108.0 316.7,86.3 303.1,108.5 293.0,87.6 320.0,77.9 298.2,110.2 299.4,119.1 319.6,103.3 324.3,107.3 275.6,92.0 300.0,99.4 268.1,129.3 270.2,80.6 302.8,99.5 320.5,99.8 301.7,107.0 283.7,78.3 288.1,111.1 291.0,114.4 286.7,107.4 296.1,108.6 295.8,99.5 288.1,114.4 295.1,103.8 306.2,84.0 282.2,96.1 316.3,81.7 279.2,82.7 289.3,81.6 282.4,104.2 278.0,96.6 276.6,93.9 304.1,68.3 296.6,99.9 294.7,100.4 302.4,78.3 293.7,105.9 316.6,77.4 286.1,77.4 295.4,81.6 279.8,107.7 332.1,67.5 322.4,83.7 306.8,101.8 315.7,93.8 282.3,95.9 308.5,84.1 302.3,96.7 298.6,96.9 305.5,108.2 291.0,91.8 261.0,84.3 271.1,106.4 278.3,86.9 304.3,110.8 315.4,84.7 299.6,111.9 282.0,93.6 276.0,87.7 307.2,98.1 289.9,88.9 320.3,107.5 275.8,127.4 289.1,94.7 287.9,88.7 306.1,76.3 296.3,92.2 324.0,102.3 302.8,104.3 305.4,98.6 256.3,102.8 290.6,106.8 300.8,89.1 281.4,82.5 300.4,95.3 281.5,91.7 301.4,87.4 293.8,88.3 296.8,108.3 316.8,86.6 305.4,100.6 297.1,108.5 309.9,79.0 319.6,94.4 285.1,87.1 292.2,81.0 313.4,102.9 281.3,108.5 299.6,98.0 311.3,95.6 291.6,104.0 266.3,79.9 304.0,111.9 268.7,97.0 285.2,92.9 305.5,117.9 324.2,110.2 306.1,98.9 265.8,102.4 276.7,81.2 297.8,74.6 324.3,105.3 301.7,103.7 299.7,97.8 307.2,87.4 300.2,99.2 308.4,81.4 299.8,95.1 306.0,104.5 298.8,103.4 303.0,116.1 300.8,104.4 280.9,94.0 308.2,111.7 280.2,96.3 291.5,97.6 288.1,90.9 294.9,98.6 312.2,84.9 280.4,108.0 303.9,94.3 277.3,111.7 278.6,112.8 299.9,94.8 293.1,108.4 296.0,72.5 284.6,66.7 302.3,109.9 312.4,78.0 329.9,122.4 294.1,69.0" fill="none" stroke="none" marker-start="url(#mb1)" marker-mid="url(#mb1)" marker-end="url(#mb1)"/>
<polyline points="292.2,80.3 321.7,69.2 282.4,66.2 320.1,72.9 286.8,58.2 307.3,78.6 296.1,71.5 301.7,70.5 295.4,68.9 295.0,81.6 304.9,80.1 319.4,56.9 300.2,79.7 298.8,68.7 304.9,69.2 292.5,70.8 301.5,73.0 309.9,73.1 296.1,94.3 298.6,71.0 299.5,68.0 285.1,74.3 315.5,60.2 293.3,75.9 294.1,76.6 300.4,65.2 298.7,69.3 306.3,55.1 305.0,82.3 302.4,74.6 295.5,75.3 299.4,63.9 289.0,56.7 305.2,74.1 311.8,74.7 307.8,63.5 282.2,68.9 297.6,75.5 299.6,71.8 301.3,74.7 302.9,75.2 295.9,72.3 286.2,65.1 298.2,75.9 293.3,63.1 310.5,67.1 283.7,66.1 289.0,56.0 297.0,84.8 293.5,67.2 312.4,73.5 299.9,82.5 289.1,72.5 306.0,74.3 289.2,66.4 318.7,72.3 298.3,80.5 283.0,72.5 283.3,82.7 291.0,73.7 291.7,73.8 304.1,73.0 297.7,74.7 298.5,69.4 307.2,78.9 287.4,65.9 293.1,75.0 286.9,83.8 301.3,74.0 309.7,67.7 304.6,75.8 313.8,65.6 314.8,77.1 303.4,80.4 298.4,71.6 309.3,70.5 311.8,82.6 303.1,74.2 294.5,66.6 315.3,65.8 301.8,75.0 292.0,68.2 294.0,87.8 304.7,82.7 321.3,80.1 314.2,69.9 294.1,83.2 315.6,65.9 312.5,75.1 309.0,79.8 320.0,68.7 301.1,81.9 298.5,76.9 300.3,61.2 295.6,79.3 295.7,62.3 296.1,73.8 306.0,75.4 306.4,65.7 295.1,67.7 296.8,76.2 314.5,71.5 311.8,80.9 289.7,67.4 302.7,63.5 319.9,60.0 289.0,78.6 293.8,78.1 291.4,80.5 295.4,78.2 311.2,62.7 292.4,60.9 290.2,79.6 300.9,79.1 315.4,80.4 308.5,70.2 297.4,75.4 309.9,80.8 304.3,71.2 300.5,84.8 327.9,126.2 321.9,118.3 327.5,117.5 321.7,114.6 325.8,110.3 319.0,102.3 324.2,116.1 327.8,113.9 328.1,102.8 332.6,112.7 321.7,108.4 332.1,113.6 316.3,126.9 317.4,124.2 331.3,105.3 333.7,121.0 332.5,116.8 328.2,113.8 323.0,114.2 333.9,111.5 338.0,101.4 326.4,101.9 315.7,114.1 324.3,108.4 319.9,110.6 316.6,110.9 323.1,103.6 328.7,99.3 328.8,114.1 329.4,113.2 331.0,110.5 319.8,114.9 321.5,109.8 327.0,105.8 332.1,101.6 333.6,112.1 336.4,120.0 330.3,114.3 326.9,102.7 322.9,105.7" fill="none" stroke="none" marker-start="url(#mg1)" marker-mid="url(#mg1)" marker-end="url(#mg1)"/>
<polyline points="333.6,79.0 332.9,82.0 338.0,75.3 344.1,85.6 327.7,77.0 368.0,80.6 344.7,70.8 349.6,97.3 345.9,79.0 340.7,59.7 346.0,77.1 344.1,84.5 342.4,103.4 349.1,73.3 346.2,87.4 340.8,95.9 336.9,61.3 330.3,84.7 331.1,82.1 326.1,84.7 338.0,70.5 335.1,77.5 349.0,83.1 338.5,82.2 348.8,85.5 356.9,72.6 348.1,81.8 334.4,87.0 348.3,91.2 344.9,70.9 342.0,84.6 356.1,81.8 341.8,97.5 341.0,75.6 343.1,88.9 341.8,62.2 336.6,91.4 333.4,89.8 342.0,71.8 347.9,57.0 320.7,63.5 345.4,77.4 346.3,79.6 341.6,74.7 336.7,91.2 347.6,65.9 345.8,102.5 347.5,70.2 347.4,82.8 337.4,91.1 352.0,74.8 341.5,76.2 340.4,97.8 336.3,86.7 342.8,81.4 329.8,87.2 330.1,88.4 339.6,82.0 336.1,71.2 330.8,80.6 339.6,83.6 337.7,88.9 341.7,81.8 338.1,80.3 346.5,72.8 329.1,84.7 344.3,80.8 342.7,66.3 331.3,80.4 340.1,67.0 344.7,59.8 352.0,69.1 335.1,69.1 327.8,77.0 322.7,76.8 342.0,77.2 340.2,64.8 323.1,66.1 350.3,83.8 323.6,98.9 346.2,92.2 349.8,94.5 324.5,81.2 333.1,101.4 346.8,80.3 338.0,57.5 341.3,71.3 353.0,88.4 339.6,76.1 350.7,74.6 350.6,82.6 337.7,84.4 356.7,63.1 347.3,88.4 337.9,96.3 346.6,86.3 330.9,86.6 328.3,85.9 360.5,70.7 354.9,68.6 341.0,88.2 326.8,84.0 333.1,73.7 348.2,79.5 344.1,80.6 343.9,97.2 341.5,77.3 340.6,88.2 344.6,57.1 339.6,85.1 364.8,73.9 337.8,67.8 339.7,61.2 332.5,79.5 326.2,77.5 333.9,94.0 355.3,103.3 341.6,87.6 362.5,73.4 356.3,70.5 350.2,63.4 336.6,78.2 337.9,59.2 341.5,77.2 354.3,86.7 319.9,81.8 350.3,79.3 333.7,65.5 336.8,70.1 337.7,76.8 352.3,69.6 343.4,68.4 342.9,91.6 334.9,67.4 340.6,80.6 334.3,84.9 341.0,87.7 327.4,88.6 352.2,71.4 358.9,82.9 328.1,68.7 333.3,73.3 338.1,83.6 338.4,76.9 331.2,58.0 333.6,66.9 348.6,54.0 351.1,49.2 338.4,80.5 329.8,69.7 348.5,68.5 339.4,80.8 346.5,66.5 352.7,78.6 349.8,64.9 350.6,79.3 347.6,73.3 348.4,80.7 322.4,107.6 334.0,85.4 338.4,75.4 336.7,90.4 349.1,90.5 324.9,89.2 326.1,105.6 343.9,92.8 340.2,81.8 333.6,102.2 337.2,92.3 332.6,78.7 338.3,82.8 336.8,94.0 351.9,60.4 337.7,64.8 357.3,65.7 349.5,86.7 342.7,55.3 352.2,100.2 330.4,69.6 332.7,83.2 355.7,82.2 360.5,93.5 342.4,94.5 337.2,103.4 334.8,104.1 342.5,112.0 357.5,94.6 348.3,87.1 349.4,81.5 339.7,66.0 349.4,68.0 340.1,85.2 341.9,80.0 340.2,77.3 339.3,61.1 332.3,106.6 331.2,76.6 332.7,82.1 336.7,114.6 329.9,104.9 337.3,91.2 339.0,81.1 345.1,88.1 329.2,70.4 353.5,80.5 344.0,94.5 344.9,86.9 329.4,84.6 321.4,111.2 333.5,109.9 337.1,82.6 360.5,87.8 345.9,80.6 340.2,73.6 333.5,57.8 341.6,72.9 361.9,116.6 338.9,82.8 323.6,108.2 352.9,89.1" fill="none" stroke="none" marker-start="url(#mm1)" marker-mid="url(#mm1)" marker-end="url(#mm1)"/>
<polyline points="327.9,66.9 307.7,65.0 306.2,66.8 298.6,67.1 307.8,58.6 307.0,61.3 294.7,67.9 308.7,78.7 310.3,71.0 310.2,61.3 299.5,58.3 307.8,56.0 313.2,71.8 307.8,73.2 321.7,69.4 307.5,63.4 325.3,76.5 320.8,46.9 290.0,78.6 317.0,74.7 315.8,59.8 314.7,62.1 324.1,70.1 302.0,55.7 319.7,70.5 313.1,65.7 299.3,54.8 315.3,46.0 315.0,67.8 316.5,70.2 327.8,65.2 303.2,47.1" fill="none" stroke="none" marker-start="url(#mk1)" marker-mid="url(#mk1)" marker-end="url(#mk1)"/>
<line x1="243.7" y1="47.2" x2="243.7" y2="141.7" stroke="#262626" stroke-width="0.8" />
<line x1="243.7" y1="141.7" x2="340.5" y2="156.1" stroke="#262626" stroke-width="0.8" />
<line x1="340.5" y1="156.1" x2="402.6" y2="133.0" stroke="#262626" stroke-width="0.8" />
<line x1="243.7" y1="58.7" x2="245.7" y2="58.7" stroke="#262626" stroke-width="0.6" />
<text x="239.5" y="62.5" font-size="11" text-anchor="end" fill="#222" >2</text>
<line x1="243.7" y1="76.0" x2="245.7" y2="76.0" stroke="#262626" stroke-width="0.6" />
<text x="239.5" y="79.8" font-size="11" text-anchor="end" fill="#222" >1</text>
<line x1="243.7" y1="93.2" x2="245.7" y2="93.2" stroke="#262626" stroke-width="0.6" />
<text x="239.5" y="97.0" font-size="11" text-anchor="end" fill="#222" >0</text>
<line x1="243.7" y1="110.5" x2="245.7" y2="110.5" stroke="#262626" stroke-width="0.6" />
<text x="239.5" y="114.3" font-size="11" text-anchor="end" fill="#222" >-1</text>
<line x1="243.7" y1="128.0" x2="245.7" y2="128.0" stroke="#262626" stroke-width="0.6" />
<text x="239.5" y="131.8" font-size="11" text-anchor="end" fill="#222" >-2</text>
<text x="253.6" y="156.0" font-size="11" text-anchor="middle" fill="#222" >2</text>
<text x="277.8" y="159.2" font-size="11" text-anchor="middle" fill="#222" >0</text>
<text x="299.2" y="163.0" font-size="11" text-anchor="middle" fill="#222" >-2</text>
<text x="322.7" y="166.2" font-size="11" text-anchor="middle" fill="#222" >-4</text>
<text x="352.5" y="165.4" font-size="11" text-anchor="middle" fill="#222" >-4</text>
<text x="368.8" y="157.6" font-size="11" text-anchor="middle" fill="#222" >0</text>
<text x="386.4" y="151.3" font-size="11" text-anchor="middle" fill="#222" >4</text>
<text x="404.3" y="145.7" font-size="11" text-anchor="middle" fill="#222" >8</text>
<text x="280.3" y="176.5" font-size="12" text-anchor="middle" fill="#222" >PC 2</text>
<text x="391.8" y="175.2" font-size="12" text-anchor="middle" fill="#222" >PC 1</text>
<text x="0" y="0" font-size="12" fill="#222" text-anchor="middle" transform="translate(228,94.2) rotate(-90)">PC 3</text>
<text x="419.4" y="13.6" font-size="18" text-anchor="start" font-weight="bold" fill="#000" >ii</text>
<rect x="463.40" y="71.04" width="7.40" height="71.16" fill="#333" />
<rect x="470.80" y="103.06" width="7.40" height="39.14" fill="#c8c8c8" />
<rect x="485.70" y="132.71" width="7.40" height="9.49" fill="#333" />
<rect x="493.10" y="141.84" width="7.40" height="0.36" fill="#c8c8c8" />
<rect x="508.00" y="132.71" width="7.40" height="9.49" fill="#333" />
<rect x="515.40" y="133.90" width="7.40" height="8.30" fill="#c8c8c8" />
<rect x="530.40" y="139.83" width="7.40" height="2.37" fill="#333" />
<rect x="537.80" y="135.08" width="7.40" height="7.12" fill="#c8c8c8" />
<line x1="467.1" y1="71.0" x2="467.1" y2="59.2" stroke="#777" stroke-width="0.7" />
<line x1="464.6" y1="59.2" x2="469.6" y2="59.2" stroke="#777" stroke-width="0.7" />
<line x1="474.5" y1="103.1" x2="474.5" y2="93.6" stroke="#777" stroke-width="0.7" />
<line x1="472.0" y1="93.6" x2="477.0" y2="93.6" stroke="#777" stroke-width="0.7" />
<line x1="489.4" y1="132.7" x2="489.4" y2="129.7" stroke="#777" stroke-width="0.7" />
<line x1="486.9" y1="129.7" x2="491.9" y2="129.7" stroke="#777" stroke-width="0.7" />
<line x1="511.7" y1="132.7" x2="511.7" y2="123.2" stroke="#777" stroke-width="0.7" />
<line x1="509.2" y1="123.2" x2="514.2" y2="123.2" stroke="#777" stroke-width="0.7" />
<line x1="519.1" y1="133.9" x2="519.1" y2="131.5" stroke="#777" stroke-width="0.7" />
<line x1="516.6" y1="131.5" x2="521.6" y2="131.5" stroke="#777" stroke-width="0.7" />
<line x1="534.1" y1="139.8" x2="534.1" y2="137.5" stroke="#777" stroke-width="0.7" />
<line x1="531.6" y1="137.5" x2="536.6" y2="137.5" stroke="#777" stroke-width="0.7" />
<line x1="541.5" y1="135.1" x2="541.5" y2="129.7" stroke="#777" stroke-width="0.7" />
<line x1="539.0" y1="129.7" x2="544.0" y2="129.7" stroke="#777" stroke-width="0.7" />
<rect x="466.1" y="23.9" width="1.8" height="1.8" fill="#666" transform="rotate(45 467.0 24.8)"/>
<rect x="466.1" y="31.0" width="1.8" height="1.8" fill="#666" transform="rotate(45 467.0 31.9)"/>
<rect x="466.1" y="33.4" width="1.8" height="1.8" fill="#666" transform="rotate(45 467.0 34.3)"/>
<rect x="466.1" y="45.2" width="1.8" height="1.8" fill="#666" transform="rotate(45 467.0 46.1)"/>
<rect x="466.1" y="66.6" width="1.8" height="1.8" fill="#666" transform="rotate(45 467.0 67.5)"/>
<rect x="466.1" y="70.1" width="1.8" height="1.8" fill="#666" transform="rotate(45 467.0 71.0)"/>
<rect x="466.1" y="79.6" width="1.8" height="1.8" fill="#666" transform="rotate(45 467.0 80.5)"/>
<rect x="466.1" y="123.5" width="1.8" height="1.8" fill="#666" transform="rotate(45 467.0 124.4)"/>
<rect x="466.1" y="127.1" width="1.8" height="1.8" fill="#666" transform="rotate(45 467.0 128.0)"/>
<rect x="466.1" y="135.4" width="1.8" height="1.8" fill="#666" transform="rotate(45 467.0 136.3)"/>
<rect x="473.6" y="41.7" width="1.8" height="1.8" fill="#666" transform="rotate(45 474.5 42.6)"/>
<rect x="473.6" y="51.2" width="1.8" height="1.8" fill="#666" transform="rotate(45 474.5 52.1)"/>
<rect x="473.6" y="83.2" width="1.8" height="1.8" fill="#666" transform="rotate(45 474.5 84.1)"/>
<rect x="473.6" y="86.7" width="1.8" height="1.8" fill="#666" transform="rotate(45 474.5 87.6)"/>
<rect x="473.6" y="98.6" width="1.8" height="1.8" fill="#666" transform="rotate(45 474.5 99.5)"/>
<rect x="473.6" y="108.1" width="1.8" height="1.8" fill="#666" transform="rotate(45 474.5 109.0)"/>
<rect x="473.6" y="114.0" width="1.8" height="1.8" fill="#666" transform="rotate(45 474.5 114.9)"/>
<rect x="473.6" y="130.6" width="1.8" height="1.8" fill="#666" transform="rotate(45 474.5 131.5)"/>
<rect x="473.6" y="134.2" width="1.8" height="1.8" fill="#666" transform="rotate(45 474.5 135.1)"/>
<rect x="473.6" y="140.1" width="1.8" height="1.8" fill="#666" transform="rotate(45 474.5 141.0)"/>
<rect x="488.5" y="106.9" width="1.8" height="1.8" fill="#666" transform="rotate(45 489.4 107.8)"/>
<rect x="488.5" y="127.1" width="1.8" height="1.8" fill="#666" transform="rotate(45 489.4 128.0)"/>
<rect x="488.5" y="131.8" width="1.8" height="1.8" fill="#666" transform="rotate(45 489.4 132.7)"/>
<rect x="488.5" y="135.4" width="1.8" height="1.8" fill="#666" transform="rotate(45 489.4 136.3)"/>
<rect x="488.5" y="138.9" width="1.8" height="1.8" fill="#666" transform="rotate(45 489.4 139.8)"/>
<rect x="488.5" y="140.7" width="1.8" height="1.8" fill="#666" transform="rotate(45 489.4 141.6)"/>
<rect x="496.1" y="140.1" width="1.8" height="1.8" fill="#666" transform="rotate(45 497.0 141.0)"/>
<rect x="496.1" y="140.7" width="1.8" height="1.8" fill="#666" transform="rotate(45 497.0 141.6)"/>
<rect x="510.8" y="40.5" width="1.8" height="1.8" fill="#666" transform="rotate(45 511.7 41.4)"/>
<rect x="510.8" y="136.6" width="1.8" height="1.8" fill="#666" transform="rotate(45 511.7 137.5)"/>
<rect x="510.8" y="140.1" width="1.8" height="1.8" fill="#666" transform="rotate(45 511.7 141.0)"/>
<rect x="510.8" y="140.7" width="1.8" height="1.8" fill="#666" transform="rotate(45 511.7 141.6)"/>
<rect x="518.1" y="116.4" width="1.8" height="1.8" fill="#666" transform="rotate(45 519.0 117.3)"/>
<rect x="518.1" y="122.3" width="1.8" height="1.8" fill="#666" transform="rotate(45 519.0 123.2)"/>
<rect x="518.1" y="125.9" width="1.8" height="1.8" fill="#666" transform="rotate(45 519.0 126.8)"/>
<rect x="518.1" y="130.6" width="1.8" height="1.8" fill="#666" transform="rotate(45 519.0 131.5)"/>
<rect x="518.1" y="134.2" width="1.8" height="1.8" fill="#666" transform="rotate(45 519.0 135.1)"/>
<rect x="518.1" y="137.7" width="1.8" height="1.8" fill="#666" transform="rotate(45 519.0 138.6)"/>
<rect x="518.1" y="140.1" width="1.8" height="1.8" fill="#666" transform="rotate(45 519.0 141.0)"/>
<rect x="533.1" y="114.0" width="1.8" height="1.8" fill="#666" transform="rotate(45 534.0 114.9)"/>
<rect x="533.1" y="137.7" width="1.8" height="1.8" fill="#666" transform="rotate(45 534.0 138.6)"/>
<rect x="533.1" y="140.1" width="1.8" height="1.8" fill="#666" transform="rotate(45 534.0 141.0)"/>
<rect x="533.1" y="140.7" width="1.8" height="1.8" fill="#666" transform="rotate(45 534.0 141.6)"/>
<rect x="540.6" y="79.6" width="1.8" height="1.8" fill="#666" transform="rotate(45 541.5 80.5)"/>
<rect x="540.6" y="133.0" width="1.8" height="1.8" fill="#666" transform="rotate(45 541.5 133.9)"/>
<rect x="540.6" y="137.7" width="1.8" height="1.8" fill="#666" transform="rotate(45 541.5 138.6)"/>
<rect x="540.6" y="140.1" width="1.8" height="1.8" fill="#666" transform="rotate(45 541.5 141.0)"/>
<line x1="458.9" y1="23.6" x2="458.9" y2="142.2" stroke="#262626" stroke-width="0.8" />
<line x1="458.9" y1="142.2" x2="547.7" y2="142.2" stroke="#262626" stroke-width="0.8" />
<line x1="456.4" y1="142.2" x2="458.9" y2="142.2" stroke="#262626" stroke-width="0.7" />
<text x="456.0" y="145.9" font-size="10.4" text-anchor="end" fill="#222" >0</text>
<line x1="456.4" y1="118.5" x2="458.9" y2="118.5" stroke="#262626" stroke-width="0.7" />
<text x="456.0" y="122.2" font-size="10.4" text-anchor="end" fill="#222" >20</text>
<line x1="456.4" y1="94.8" x2="458.9" y2="94.8" stroke="#262626" stroke-width="0.7" />
<text x="456.0" y="98.5" font-size="10.4" text-anchor="end" fill="#222" >40</text>
<line x1="456.4" y1="71.0" x2="458.9" y2="71.0" stroke="#262626" stroke-width="0.7" />
<text x="456.0" y="74.7" font-size="10.4" text-anchor="end" fill="#222" >60</text>
<line x1="456.4" y1="47.3" x2="458.9" y2="47.3" stroke="#262626" stroke-width="0.7" />
<text x="456.0" y="51.0" font-size="10.4" text-anchor="end" fill="#222" >80</text>
<line x1="456.4" y1="23.6" x2="458.9" y2="23.6" stroke="#262626" stroke-width="0.7" />
<text x="456.0" y="27.3" font-size="10.4" text-anchor="end" fill="#222" >100</text>
<line x1="457.4" y1="142.2" x2="458.9" y2="142.2" stroke="#262626" stroke-width="0.6" />
<line x1="457.4" y1="130.3" x2="458.9" y2="130.3" stroke="#262626" stroke-width="0.6" />
<line x1="457.4" y1="118.5" x2="458.9" y2="118.5" stroke="#262626" stroke-width="0.6" />
<line x1="457.4" y1="106.6" x2="458.9" y2="106.6" stroke="#262626" stroke-width="0.6" />
<line x1="457.4" y1="94.8" x2="458.9" y2="94.8" stroke="#262626" stroke-width="0.6" />
<line x1="457.4" y1="82.9" x2="458.9" y2="82.9" stroke="#262626" stroke-width="0.6" />
<line x1="457.4" y1="71.0" x2="458.9" y2="71.0" stroke="#262626" stroke-width="0.6" />
<line x1="457.4" y1="59.2" x2="458.9" y2="59.2" stroke="#262626" stroke-width="0.6" />
<line x1="457.4" y1="47.3" x2="458.9" y2="47.3" stroke="#262626" stroke-width="0.6" />
<line x1="457.4" y1="35.5" x2="458.9" y2="35.5" stroke="#262626" stroke-width="0.6" />
<line x1="457.4" y1="23.6" x2="458.9" y2="23.6" stroke="#262626" stroke-width="0.6" />
<line x1="470.8" y1="142.2" x2="470.8" y2="144.7" stroke="#262626" stroke-width="0.7" />
<text x="470.8" y="155.9" font-size="10.6" text-anchor="middle" fill="#222" >1</text>
<line x1="493.1" y1="142.2" x2="493.1" y2="144.7" stroke="#262626" stroke-width="0.7" />
<text x="493.1" y="155.9" font-size="10.6" text-anchor="middle" fill="#222" >2</text>
<line x1="515.4" y1="142.2" x2="515.4" y2="144.7" stroke="#262626" stroke-width="0.7" />
<text x="515.4" y="155.9" font-size="10.6" text-anchor="middle" fill="#222" >3</text>
<line x1="537.8" y1="142.2" x2="537.8" y2="144.7" stroke="#262626" stroke-width="0.7" />
<text x="537.8" y="155.9" font-size="10.6" text-anchor="middle" fill="#222" >4</text>
<text x="504.7" y="166.8" font-size="10.6" text-anchor="middle" fill="#222" >Clusters</text>
<text x="0" y="0" font-size="10.6" fill="#222" text-anchor="middle" transform="translate(434.6,78.8) rotate(-90)">Relative proportion (%)</text>
<rect x="486.40" y="15.40" width="8.00" height="9.40" fill="#333" />
<text x="495.6" y="23.6" font-size="10.4" text-anchor="start" fill="#222" >R</text>
<rect x="514.20" y="15.40" width="8.00" height="9.40" fill="#c8c8c8" />
<text x="524.7" y="23.6" font-size="10.4" text-anchor="start" fill="#222" >NR</text>
<text x="562.0" y="13.2" font-size="18" text-anchor="start" font-weight="bold" fill="#000" >c</text>
<text x="627.6" y="23.6" font-size="13" text-anchor="middle" fill="#222"><tspan font-style="italic">n</tspan> = 11</text>
<g opacity="0.8"><path d="M579.1 86.2C579.6 86.1 581.1 85.9 582.4 85.4C583.6 84.8 585.1 84.3 586.5 82.9C587.8 81.6 589.2 78.7 590.5 77.2C591.9 75.7 593.1 74.3 594.6 73.9C596.1 73.5 597.9 74.9 599.5 74.7C601.2 74.6 603.2 75.5 604.5 73.2C605.7 70.9 606.0 66.2 606.9 61.1C607.9 56.0 609.2 47.1 610.2 42.7C611.1 38.2 611.8 34.6 612.6 34.4C613.5 34.3 614.3 38.3 615.1 41.8C615.9 45.3 616.7 52.4 617.5 55.5C618.4 58.5 619.2 59.1 620.0 60.1C620.8 61.2 621.6 60.3 622.5 61.6C623.3 62.9 624.1 66.1 624.9 67.9C625.7 69.6 626.2 71.8 627.0 72.1C627.9 72.3 628.8 71.2 629.8 69.5C630.8 67.9 631.9 64.6 633.1 62.1C634.3 59.7 635.8 57.3 637.2 54.8C638.5 52.2 640.2 48.5 641.3 46.7C642.4 44.9 642.8 43.8 643.7 44.2C644.7 44.6 645.9 47.8 647.0 48.9C648.1 50.0 649.2 49.9 650.3 50.7C651.4 51.5 652.5 53.9 653.5 53.8C654.6 53.7 655.7 51.7 656.8 50.1C657.9 48.6 659.5 45.4 660.1 44.5L660.1 48.1C659.5 49.0 657.9 52.2 656.8 53.9C655.7 55.6 654.6 57.7 653.5 58.4C652.5 59.1 651.4 57.7 650.3 58.2C649.2 58.8 648.1 61.4 647.0 61.6C645.9 61.9 644.7 60.0 643.7 59.8C642.8 59.6 642.4 60.1 641.3 60.6C640.2 61.0 638.5 61.4 637.2 62.3C635.8 63.3 634.3 64.5 633.1 66.4C631.9 68.3 630.8 71.9 629.8 73.7C628.8 75.6 627.9 77.5 627.0 77.8C626.2 78.0 625.7 76.6 624.9 75.4C624.1 74.1 623.3 71.4 622.5 70.3C621.6 69.1 620.8 69.3 620.0 68.4C619.2 67.5 618.4 66.7 617.5 64.9C616.7 63.0 615.9 58.7 615.1 57.3C614.3 55.9 613.5 55.6 612.6 56.5C611.8 57.4 611.1 60.6 610.2 63.0C609.2 65.4 607.9 68.2 606.9 70.7C606.0 73.3 605.7 77.0 604.5 78.2C603.2 79.5 601.2 78.5 599.5 78.4C597.9 78.2 596.1 77.1 594.6 77.5C593.1 77.9 591.9 79.3 590.5 80.8C589.2 82.3 587.8 85.2 586.5 86.5C585.1 87.9 583.6 88.4 582.4 89.0C581.1 89.5 579.6 89.7 579.1 89.8Z" fill="#c4c4c4"/><path d="M579.1 88.0C579.6 87.9 581.1 87.7 582.4 87.2C583.6 86.6 585.1 86.1 586.5 84.7C587.8 83.4 589.2 80.5 590.5 79.0C591.9 77.5 593.1 76.1 594.6 75.7C596.1 75.3 597.9 76.5 599.5 76.5C601.2 76.5 603.2 77.5 604.5 75.7C605.7 74.0 606.0 69.7 606.9 65.9C607.9 62.1 609.2 56.2 610.2 52.8C611.1 49.4 611.8 46.0 612.6 45.5C613.5 44.9 614.3 47.1 615.1 49.5C615.9 52.0 616.7 57.7 617.5 60.2C618.4 62.6 619.2 63.3 620.0 64.3C620.8 65.2 621.6 64.7 622.5 65.9C623.3 67.1 624.1 70.1 624.9 71.6C625.7 73.1 626.2 74.9 627.0 74.9C627.9 74.9 628.8 73.4 629.8 71.6C630.8 69.9 631.9 66.5 633.1 64.3C634.3 62.1 635.8 60.3 637.2 58.5C638.5 56.8 640.2 54.7 641.3 53.6C642.4 52.5 642.8 51.7 643.7 52.0C644.7 52.3 645.9 54.9 647.0 55.3C648.1 55.7 649.2 54.3 650.3 54.5C651.4 54.6 652.5 56.5 653.5 56.1C654.6 55.7 655.7 53.6 656.8 52.0C657.9 50.4 659.5 47.2 660.1 46.3" fill="none" stroke="#c4c4c4" stroke-width="2.6" stroke-linejoin="round"/></g>
<path d="M579.1 88.0C579.6 87.9 581.1 87.7 582.4 87.2C583.6 86.6 585.1 86.1 586.5 84.7C587.8 83.4 589.2 80.5 590.5 79.0C591.9 77.5 593.1 76.1 594.6 75.7C596.1 75.3 597.9 76.5 599.5 76.5C601.2 76.5 603.2 77.5 604.5 75.7C605.7 74.0 606.0 69.7 606.9 65.9C607.9 62.1 609.2 56.2 610.2 52.8C611.1 49.4 611.8 46.0 612.6 45.5C613.5 44.9 614.3 47.1 615.1 49.5C615.9 52.0 616.7 57.7 617.5 60.2C618.4 62.6 619.2 63.3 620.0 64.3C620.8 65.2 621.6 64.7 622.5 65.9C623.3 67.1 624.1 70.1 624.9 71.6C625.7 73.1 626.2 74.9 627.0 74.9C627.9 74.9 628.8 73.4 629.8 71.6C630.8 69.9 631.9 66.5 633.1 64.3C634.3 62.1 635.8 60.3 637.2 58.5C638.5 56.8 640.2 54.7 641.3 53.6C642.4 52.5 642.8 51.7 643.7 52.0C644.7 52.3 645.9 54.9 647.0 55.3C648.1 55.7 649.2 54.3 650.3 54.5C651.4 54.6 652.5 56.5 653.5 56.1C654.6 55.7 655.7 53.6 656.8 52.0C657.9 50.4 659.5 47.2 660.1 46.3" fill="none" stroke="#222" stroke-width="1"/>
<g opacity="0.8"><path d="M579.1 77.8C579.6 79.0 581.1 82.9 582.4 84.9C583.6 86.8 585.2 91.1 586.5 89.6C587.7 88.1 588.6 79.8 589.7 75.9C590.8 72.0 592.0 66.6 593.0 66.2C594.0 65.9 594.6 71.7 595.5 73.8C596.3 75.9 597.0 77.6 597.9 78.5C598.9 79.5 600.0 79.7 601.2 79.6C602.4 79.5 603.9 77.7 605.3 77.7C606.6 77.6 608.0 77.8 609.4 79.1C610.7 80.4 612.2 83.0 613.5 85.5C614.7 87.9 615.6 89.7 616.7 93.8C617.8 97.9 618.9 104.2 620.0 110.2C621.1 116.2 622.2 124.1 623.3 129.9C624.4 135.6 625.5 144.6 626.5 144.6C627.6 144.6 628.9 135.9 629.8 129.9C630.8 123.9 631.3 115.7 632.3 108.6C633.2 101.5 634.5 94.1 635.5 87.3C636.6 80.5 637.9 72.9 638.8 67.7C639.8 62.5 640.5 59.2 641.3 56.1C642.1 53.1 642.8 50.3 643.7 49.2C644.7 48.2 645.9 48.8 647.0 49.9C648.1 51.0 649.2 54.7 650.3 55.9C651.4 57.2 652.5 58.0 653.5 57.6C654.6 57.2 655.7 55.1 656.8 53.4C657.9 51.8 659.5 48.8 660.1 47.9L660.1 51.2C659.5 52.5 657.9 56.0 656.8 58.7C655.7 61.5 654.6 66.1 653.5 67.6C652.5 69.1 651.4 69.4 650.3 67.7C649.2 66.0 648.1 59.8 647.0 57.4C645.9 55.0 644.7 52.8 643.7 53.2C642.8 53.5 642.1 56.4 641.3 59.3C640.5 62.2 639.8 65.5 638.8 70.7C637.9 75.9 636.6 83.5 635.5 90.3C634.5 97.1 633.2 104.5 632.3 111.6C631.3 118.7 630.8 126.9 629.8 132.9C628.9 138.9 627.6 147.6 626.5 147.6C625.5 147.6 624.4 138.6 623.3 132.9C622.2 127.1 621.1 119.2 620.0 113.2C618.9 107.2 617.8 101.0 616.7 96.9C615.6 92.9 614.7 91.1 613.5 88.9C612.2 86.7 610.7 84.7 609.4 83.8C608.0 82.9 606.6 83.4 605.3 83.6C603.9 83.8 602.4 85.1 601.2 84.9C600.0 84.8 598.9 84.0 597.9 82.7C597.0 81.5 596.3 79.7 595.5 77.7C594.6 75.6 594.0 69.8 593.0 70.5C592.0 71.3 590.8 77.5 589.7 82.1C588.6 86.7 587.7 96.1 586.5 97.9C585.2 99.6 583.6 95.2 582.4 92.8C581.1 90.3 579.6 85.0 579.1 83.4Z" fill="#ffa8ff"/><path d="M579.1 80.6C579.6 82.0 581.1 86.6 582.4 88.8C583.6 91.0 585.2 95.4 586.5 93.7C587.7 92.1 588.6 83.2 589.7 79.0C590.8 74.8 592.0 68.9 593.0 68.4C594.0 67.8 594.6 73.7 595.5 75.7C596.3 77.8 597.0 79.5 597.9 80.6C598.9 81.7 600.0 82.3 601.2 82.3C602.4 82.3 603.9 80.8 605.3 80.6C606.6 80.5 608.0 80.4 609.4 81.5C610.7 82.5 612.2 84.9 613.5 87.2C614.7 89.5 615.6 91.3 616.7 95.4C617.8 99.5 618.9 105.7 620.0 111.7C621.1 117.7 622.2 125.6 623.3 131.4C624.4 137.1 625.5 146.1 626.5 146.1C627.6 146.1 628.9 137.4 629.8 131.4C630.8 125.4 631.3 117.2 632.3 110.1C633.2 103.0 634.5 95.6 635.5 88.8C636.6 82.0 637.9 74.4 638.8 69.2C639.8 64.0 640.5 60.7 641.3 57.7C642.1 54.7 642.8 51.9 643.7 51.2C644.7 50.5 645.9 51.9 647.0 53.6C648.1 55.4 649.2 60.3 650.3 61.8C651.4 63.3 652.5 63.6 653.5 62.6C654.6 61.7 655.7 58.3 656.8 56.1C657.9 53.9 659.5 50.6 660.1 49.5" fill="none" stroke="#ffa8ff" stroke-width="2.8" stroke-linejoin="round"/></g>
<path d="M579.1 80.6C579.6 82.0 581.1 86.6 582.4 88.8C583.6 91.0 585.2 95.4 586.5 93.7C587.7 92.1 588.6 83.2 589.7 79.0C590.8 74.8 592.0 68.9 593.0 68.4C594.0 67.8 594.6 73.7 595.5 75.7C596.3 77.8 597.0 79.5 597.9 80.6C598.9 81.7 600.0 82.3 601.2 82.3C602.4 82.3 603.9 80.8 605.3 80.6C606.6 80.5 608.0 80.4 609.4 81.5C610.7 82.5 612.2 84.9 613.5 87.2C614.7 89.5 615.6 91.3 616.7 95.4C617.8 99.5 618.9 105.7 620.0 111.7C621.1 117.7 622.2 125.6 623.3 131.4C624.4 137.1 625.5 146.1 626.5 146.1C627.6 146.1 628.9 137.4 629.8 131.4C630.8 125.4 631.3 117.2 632.3 110.1C633.2 103.0 634.5 95.6 635.5 88.8C636.6 82.0 637.9 74.4 638.8 69.2C639.8 64.0 640.5 60.7 641.3 57.7C642.1 54.7 642.8 51.9 643.7 51.2C644.7 50.5 645.9 51.9 647.0 53.6C648.1 55.4 649.2 60.3 650.3 61.8C651.4 63.3 652.5 63.6 653.5 62.6C654.6 61.7 655.7 58.3 656.8 56.1C657.9 53.9 659.5 50.6 660.1 49.5" fill="none" stroke="#ff30ff" stroke-width="1"/>
<g opacity="0.8"><path d="M579.1 84.0C580.0 83.0 582.8 79.1 584.8 77.5C586.9 75.9 589.2 74.8 591.4 74.2C593.5 73.7 595.9 74.0 597.9 74.2C600.0 74.5 602.0 76.1 603.6 75.9C605.3 75.6 606.6 75.0 607.7 72.6C608.8 70.1 609.2 64.8 610.2 61.1C611.1 57.5 612.5 50.5 613.5 50.5C614.4 50.5 615.1 56.6 615.9 61.1C616.7 65.6 617.4 71.8 618.4 77.5C619.3 83.2 620.5 89.8 621.6 95.5C622.7 101.2 624.0 107.8 624.9 111.9C625.9 116.0 626.4 120.0 627.4 120.0C628.3 120.0 629.5 115.7 630.6 111.9C631.7 108.0 632.7 100.4 633.9 97.1C635.1 93.9 636.8 94.1 638.0 92.2C639.2 90.3 640.0 88.4 641.3 85.7C642.5 83.0 644.1 77.4 645.4 75.9C646.6 74.4 647.4 76.0 648.6 76.7C649.9 77.4 651.4 80.1 652.7 80.0C654.1 79.8 655.6 77.8 656.8 75.9C658.0 74.0 659.5 69.7 660.1 68.5L660.1 71.5C659.5 72.7 658.0 77.0 656.8 78.9C655.6 80.8 654.1 82.8 652.7 83.0C651.4 83.1 649.9 80.4 648.6 79.7C647.4 79.0 646.6 77.4 645.4 78.9C644.1 80.4 642.5 86.0 641.3 88.7C640.0 91.4 639.2 93.3 638.0 95.2C636.8 97.1 635.1 96.9 633.9 100.1C632.7 103.4 631.7 111.0 630.6 114.9C629.5 118.7 628.3 123.0 627.4 123.0C626.4 123.0 625.9 119.0 624.9 114.9C624.0 110.8 622.7 104.2 621.6 98.5C620.5 92.8 619.3 86.2 618.4 80.5C617.4 74.8 616.7 68.6 615.9 64.1C615.1 59.6 614.4 53.5 613.5 53.5C612.5 53.5 611.1 60.5 610.2 64.1C609.2 67.8 608.8 73.1 607.7 75.6C606.6 78.0 605.3 78.6 603.6 78.9C602.0 79.1 600.0 77.5 597.9 77.2C595.9 77.0 593.5 76.7 591.4 77.2C589.2 77.8 586.9 78.9 584.8 80.5C582.8 82.1 580.0 86.0 579.1 87.0Z" fill="#90dc90"/><path d="M579.1 85.5C580.0 84.5 582.8 80.6 584.8 79.0C586.9 77.4 589.2 76.3 591.4 75.7C593.5 75.2 595.9 75.5 597.9 75.7C600.0 76.0 602.0 77.6 603.6 77.4C605.3 77.1 606.6 76.5 607.7 74.1C608.8 71.6 609.2 66.3 610.2 62.6C611.1 59.0 612.5 52.0 613.5 52.0C614.4 52.0 615.1 58.1 615.9 62.6C616.7 67.1 617.4 73.3 618.4 79.0C619.3 84.7 620.5 91.3 621.6 97.0C622.7 102.7 624.0 109.3 624.9 113.4C625.9 117.5 626.4 121.5 627.4 121.5C628.3 121.5 629.5 117.2 630.6 113.4C631.7 109.5 632.7 101.9 633.9 98.6C635.1 95.4 636.8 95.6 638.0 93.7C639.2 91.8 640.0 89.9 641.3 87.2C642.5 84.5 644.1 78.9 645.4 77.4C646.6 75.9 647.4 77.5 648.6 78.2C649.9 78.9 651.4 81.6 652.7 81.5C654.1 81.3 655.6 79.3 656.8 77.4C658.0 75.5 659.5 71.2 660.1 70.0" fill="none" stroke="#90dc90" stroke-width="4.4" stroke-linejoin="round"/></g>
<path d="M579.1 85.5C580.0 84.5 582.8 80.6 584.8 79.0C586.9 77.4 589.2 76.3 591.4 75.7C593.5 75.2 595.9 75.5 597.9 75.7C600.0 76.0 602.0 77.6 603.6 77.4C605.3 77.1 606.6 76.5 607.7 74.1C608.8 71.6 609.2 66.3 610.2 62.6C611.1 59.0 612.5 52.0 613.5 52.0C614.4 52.0 615.1 58.1 615.9 62.6C616.7 67.1 617.4 73.3 618.4 79.0C619.3 84.7 620.5 91.3 621.6 97.0C622.7 102.7 624.0 109.3 624.9 113.4C625.9 117.5 626.4 121.5 627.4 121.5C628.3 121.5 629.5 117.2 630.6 113.4C631.7 109.5 632.7 101.9 633.9 98.6C635.1 95.4 636.8 95.6 638.0 93.7C639.2 91.8 640.0 89.9 641.3 87.2C642.5 84.5 644.1 78.9 645.4 77.4C646.6 75.9 647.4 77.5 648.6 78.2C649.9 78.9 651.4 81.6 652.7 81.5C654.1 81.3 655.6 79.3 656.8 77.4C658.0 75.5 659.5 71.2 660.1 70.0" fill="none" stroke="#18b018" stroke-width="1"/>
<g opacity="0.8"><path d="M579.1 82.0C580.0 81.5 582.8 80.0 584.8 78.7C586.9 77.5 589.2 75.6 591.4 74.6C593.5 73.7 595.9 73.4 597.9 73.0C600.0 72.6 602.0 72.3 603.6 72.2C605.3 72.1 606.5 71.9 607.7 72.2C609.0 72.5 609.9 71.9 611.0 73.8C612.1 75.7 613.2 80.1 614.3 83.6C615.4 87.2 616.5 90.5 617.5 95.1C618.6 99.7 619.7 105.7 620.8 111.5C621.9 117.2 623.1 125.0 624.1 129.5C625.0 134.0 625.7 137.1 626.5 138.5C627.4 139.8 628.2 139.4 629.0 137.6C629.8 135.9 630.5 131.4 631.5 127.8C632.4 124.3 633.6 119.9 634.7 116.4C635.8 112.8 636.9 109.3 638.0 106.6C639.1 103.8 640.2 102.2 641.3 100.0C642.4 97.8 643.3 95.1 644.5 93.5C645.8 91.8 647.3 90.9 648.6 90.2C650.0 89.5 651.4 90.2 652.7 89.4C654.1 88.6 655.6 86.8 656.8 85.3C658.0 83.8 659.5 81.2 660.1 80.4L660.1 84.2C659.5 85.0 658.0 87.6 656.8 89.1C655.6 90.6 654.1 92.4 652.7 93.2C651.4 94.0 650.0 93.3 648.6 94.0C647.3 94.7 645.8 95.6 644.5 97.3C643.3 98.9 642.4 101.6 641.3 103.8C640.2 106.0 639.1 107.6 638.0 110.4C636.9 113.1 635.8 116.6 634.7 120.2C633.6 123.7 632.4 128.1 631.5 131.6C630.5 135.2 629.8 139.7 629.0 141.4C628.2 143.2 627.4 143.6 626.5 142.3C625.7 140.9 625.0 137.8 624.1 133.3C623.1 128.8 621.9 121.0 620.8 115.3C619.7 109.5 618.6 103.5 617.5 98.9C616.5 94.3 615.4 91.0 614.3 87.4C613.2 83.9 612.1 79.5 611.0 77.6C609.9 75.7 609.0 76.3 607.7 76.0C606.5 75.7 605.3 75.9 603.6 76.0C602.0 76.1 600.0 76.4 597.9 76.8C595.9 77.2 593.5 77.5 591.4 78.4C589.2 79.4 586.9 81.3 584.8 82.5C582.8 83.8 580.0 85.3 579.1 85.8Z" fill="#98a4ff"/><path d="M579.1 83.9C580.0 83.4 582.8 81.9 584.8 80.6C586.9 79.4 589.2 77.5 591.4 76.5C593.5 75.6 595.9 75.3 597.9 74.9C600.0 74.5 602.0 74.2 603.6 74.1C605.3 74.0 606.5 73.8 607.7 74.1C609.0 74.4 609.9 73.8 611.0 75.7C612.1 77.6 613.2 82.0 614.3 85.5C615.4 89.1 616.5 92.4 617.5 97.0C618.6 101.6 619.7 107.6 620.8 113.4C621.9 119.1 623.1 126.9 624.1 131.4C625.0 135.9 625.7 139.0 626.5 140.4C627.4 141.7 628.2 141.3 629.0 139.5C629.8 137.8 630.5 133.3 631.5 129.7C632.4 126.2 633.6 121.8 634.7 118.3C635.8 114.7 636.9 111.2 638.0 108.5C639.1 105.7 640.2 104.1 641.3 101.9C642.4 99.7 643.3 97.0 644.5 95.4C645.8 93.7 647.3 92.8 648.6 92.1C650.0 91.4 651.4 92.1 652.7 91.3C654.1 90.5 655.6 88.7 656.8 87.2C658.0 85.7 659.5 83.1 660.1 82.3" fill="none" stroke="#98a4ff" stroke-width="5.4" stroke-linejoin="round"/></g>
<path d="M579.1 83.9C580.0 83.4 582.8 81.9 584.8 80.6C586.9 79.4 589.2 77.5 591.4 76.5C593.5 75.6 595.9 75.3 597.9 74.9C600.0 74.5 602.0 74.2 603.6 74.1C605.3 74.0 606.5 73.8 607.7 74.1C609.0 74.4 609.9 73.8 611.0 75.7C612.1 77.6 613.2 82.0 614.3 85.5C615.4 89.1 616.5 92.4 617.5 97.0C618.6 101.6 619.7 107.6 620.8 113.4C621.9 119.1 623.1 126.9 624.1 131.4C625.0 135.9 625.7 139.0 626.5 140.4C627.4 141.7 628.2 141.3 629.0 139.5C629.8 137.8 630.5 133.3 631.5 129.7C632.4 126.2 633.6 121.8 634.7 118.3C635.8 114.7 636.9 111.2 638.0 108.5C639.1 105.7 640.2 104.1 641.3 101.9C642.4 99.7 643.3 97.0 644.5 95.4C645.8 93.7 647.3 92.8 648.6 92.1C650.0 91.4 651.4 92.1 652.7 91.3C654.1 90.5 655.6 88.7 656.8 87.2C658.0 85.7 659.5 83.1 660.1 82.3" fill="none" stroke="#2838ff" stroke-width="1"/>
<line x1="579.6" y1="122.0" x2="579.6" y2="151.3" stroke="#333" stroke-width="1.0" />
<line x1="579.6" y1="151.3" x2="612.2" y2="151.3" stroke="#333" stroke-width="1.0" />
<text x="595.7" y="166.0" font-size="11.3" text-anchor="middle" fill="#222" >1 s</text>
<text x="0" y="0" font-size="11.6" fill="#222" text-anchor="middle" transform="translate(574.5,140.8) rotate(-90)">0.5 z-score</text>
<text x="243.5" y="206.6" font-size="18" text-anchor="start" font-weight="bold" fill="#000" >d</text>
<rect x="262.7" y="228.20" width="75.0" height="1.85" fill="url(#h1)"/>
<rect x="262.7" y="229.90" width="75.0" height="1.85" fill="url(#h2)"/>
<rect x="262.7" y="231.60" width="75.0" height="1.85" fill="url(#h3)"/>
<rect x="262.7" y="233.30" width="75.0" height="1.85" fill="url(#h4)"/>
<rect x="262.7" y="235.00" width="75.0" height="1.85" fill="url(#h5)"/>
<rect x="262.7" y="236.70" width="75.0" height="1.85" fill="url(#h6)"/>
<rect x="262.7" y="238.40" width="75.0" height="1.85" fill="url(#h7)"/>
<rect x="262.7" y="240.10" width="75.0" height="1.85" fill="url(#h8)"/>
<rect x="262.7" y="241.80" width="75.0" height="1.85" fill="url(#h9)"/>
<rect x="262.7" y="243.50" width="75.0" height="1.85" fill="url(#h10)"/>
<rect x="262.7" y="245.20" width="75.0" height="1.85" fill="url(#h11)"/>
<rect x="262.7" y="246.90" width="75.0" height="1.85" fill="url(#h12)"/>
<rect x="262.7" y="248.60" width="75.0" height="1.85" fill="url(#h13)"/>
<rect x="262.7" y="250.30" width="75.0" height="1.85" fill="url(#h14)"/>
<rect x="262.7" y="252.00" width="75.0" height="1.85" fill="url(#h15)"/>
<rect x="262.7" y="253.70" width="75.0" height="1.85" fill="url(#h16)"/>
<rect x="262.7" y="255.40" width="75.0" height="1.85" fill="url(#h17)"/>
<rect x="262.7" y="257.10" width="75.0" height="1.85" fill="url(#h18)"/>
<rect x="262.7" y="258.80" width="75.0" height="1.85" fill="url(#h19)"/>
<rect x="262.7" y="260.50" width="75.0" height="1.85" fill="url(#h20)"/>
<rect x="262.7" y="262.20" width="75.0" height="1.85" fill="url(#h21)"/>
<rect x="262.7" y="263.90" width="75.0" height="1.85" fill="url(#h22)"/>
<rect x="262.7" y="265.60" width="75.0" height="1.85" fill="url(#h23)"/>
<rect x="262.7" y="267.30" width="75.0" height="1.85" fill="url(#h24)"/>
<rect x="262.7" y="269.00" width="75.0" height="1.85" fill="url(#h25)"/>
<rect x="262.7" y="270.70" width="75.0" height="1.85" fill="url(#h26)"/>
<rect x="262.7" y="272.40" width="75.0" height="1.85" fill="url(#h27)"/>
<rect x="262.7" y="274.10" width="75.0" height="1.85" fill="url(#h28)"/>
<rect x="262.7" y="275.80" width="75.0" height="1.85" fill="url(#h29)"/>
<rect x="262.7" y="277.50" width="75.0" height="1.85" fill="url(#h30)"/>
<rect x="262.7" y="279.20" width="75.0" height="1.85" fill="url(#h31)"/>
<rect x="262.7" y="280.90" width="75.0" height="1.85" fill="url(#h32)"/>
<rect x="262.7" y="282.60" width="75.0" height="1.85" fill="url(#h33)"/>
<rect x="262.7" y="284.30" width="75.0" height="1.85" fill="url(#h34)"/>
<rect x="262.7" y="286.00" width="75.0" height="1.85" fill="url(#h35)"/>
<rect x="262.7" y="287.70" width="75.0" height="1.85" fill="url(#h36)"/>
<rect x="262.7" y="289.40" width="75.0" height="1.85" fill="url(#h37)"/>
<rect x="262.7" y="291.10" width="75.0" height="1.85" fill="url(#h38)"/>
<rect x="262.7" y="292.80" width="75.0" height="1.85" fill="url(#h39)"/>
<rect x="262.7" y="294.50" width="75.0" height="1.85" fill="url(#h40)"/>
<rect x="262.70" y="228.20" width="75.00" height="68.00" fill="none" stroke="#9a9a9a" stroke-width="0.7"/>
<line x1="292.70" y1="228.20" x2="292.70" y2="296.20" stroke="#111" stroke-width="1.1" stroke-dasharray="1.6 1.1"/>
<line x1="262.7" y1="296.2" x2="262.7" y2="294.7" stroke="#555" stroke-width="0.6" />
<line x1="292.7" y1="296.2" x2="292.7" y2="294.7" stroke="#555" stroke-width="0.6" />
<line x1="322.7" y1="296.2" x2="322.7" y2="294.7" stroke="#555" stroke-width="0.6" />
<line x1="262.7" y1="237.9" x2="263.9" y2="237.9" stroke="#555" stroke-width="0.5" />
<line x1="262.7" y1="247.6" x2="263.9" y2="247.6" stroke="#555" stroke-width="0.5" />
<line x1="262.7" y1="257.3" x2="263.9" y2="257.3" stroke="#555" stroke-width="0.5" />
<line x1="262.7" y1="267.1" x2="263.9" y2="267.1" stroke="#555" stroke-width="0.5" />
<line x1="262.7" y1="276.8" x2="263.9" y2="276.8" stroke="#555" stroke-width="0.5" />
<line x1="262.7" y1="286.5" x2="263.9" y2="286.5" stroke="#555" stroke-width="0.5" />
<text x="300.2" y="207.3" font-size="12.2" text-anchor="middle" fill="#222" >Cluster 1</text>
<text x="300.2" y="223.0" font-size="12.4" text-anchor="middle" fill="#222">(<tspan font-style="italic">n</tspan> = 1488)</text>
<text x="263.3" y="308.5" font-size="11.2" text-anchor="middle" fill="#222" >-1</text>
<text x="292.7" y="308.5" font-size="11.2" text-anchor="middle" fill="#222" >0</text>
<text x="322.7" y="308.5" font-size="11.2" text-anchor="middle" fill="#222" >1</text>
<rect x="360.0" y="228.20" width="79.7" height="1.85" fill="url(#h41)"/>
<rect x="360.0" y="229.90" width="79.7" height="1.85" fill="url(#h42)"/>
<rect x="360.0" y="231.60" width="79.7" height="1.85" fill="url(#h43)"/>
<rect x="360.0" y="233.30" width="79.7" height="1.85" fill="url(#h44)"/>
<rect x="360.0" y="235.00" width="79.7" height="1.85" fill="url(#h45)"/>
<rect x="360.0" y="236.70" width="79.7" height="1.85" fill="url(#h46)"/>
<rect x="360.0" y="238.40" width="79.7" height="1.85" fill="url(#h47)"/>
<rect x="360.0" y="240.10" width="79.7" height="1.85" fill="url(#h48)"/>
<rect x="360.0" y="241.80" width="79.7" height="1.85" fill="url(#h49)"/>
<rect x="360.0" y="243.50" width="79.7" height="1.85" fill="url(#h50)"/>
<rect x="360.0" y="245.20" width="79.7" height="1.85" fill="url(#h51)"/>
<rect x="360.0" y="246.90" width="79.7" height="1.85" fill="url(#h52)"/>
<rect x="360.0" y="248.60" width="79.7" height="1.85" fill="url(#h53)"/>
<rect x="360.0" y="250.30" width="79.7" height="1.85" fill="url(#h54)"/>
<rect x="360.0" y="252.00" width="79.7" height="1.85" fill="url(#h55)"/>
<rect x="360.0" y="253.70" width="79.7" height="1.85" fill="url(#h56)"/>
<rect x="360.0" y="255.40" width="79.7" height="1.85" fill="url(#h57)"/>
<rect x="360.0" y="257.10" width="79.7" height="1.85" fill="url(#h58)"/>
<rect x="360.0" y="258.80" width="79.7" height="1.85" fill="url(#h59)"/>
<rect x="360.0" y="260.50" width="79.7" height="1.85" fill="url(#h60)"/>
<rect x="360.0" y="262.20" width="79.7" height="1.85" fill="url(#h61)"/>
<rect x="360.0" y="263.90" width="79.7" height="1.85" fill="url(#h62)"/>
<rect x="360.0" y="265.60" width="79.7" height="1.85" fill="url(#h63)"/>
<rect x="360.0" y="267.30" width="79.7" height="1.85" fill="url(#h64)"/>
<rect x="360.0" y="269.00" width="79.7" height="1.85" fill="url(#h65)"/>
<rect x="360.0" y="270.70" width="79.7" height="1.85" fill="url(#h66)"/>
<rect x="360.0" y="272.40" width="79.7" height="1.85" fill="url(#h67)"/>
<rect x="360.0" y="274.10" width="79.7" height="1.85" fill="url(#h68)"/>
<rect x="360.0" y="275.80" width="79.7" height="1.85" fill="url(#h69)"/>
<rect x="360.0" y="277.50" width="79.7" height="1.85" fill="url(#h70)"/>
<rect x="360.0" y="279.20" width="79.7" height="1.85" fill="url(#h71)"/>
<rect x="360.0" y="280.90" width="79.7" height="1.85" fill="url(#h72)"/>
<rect x="360.0" y="282.60" width="79.7" height="1.85" fill="url(#h73)"/>
<rect x="360.0" y="284.30" width="79.7" height="1.85" fill="url(#h74)"/>
<rect x="360.0" y="286.00" width="79.7" height="1.85" fill="url(#h75)"/>
<rect x="360.0" y="287.70" width="79.7" height="1.85" fill="url(#h76)"/>
<rect x="360.0" y="289.40" width="79.7" height="1.85" fill="url(#h77)"/>
<rect x="360.0" y="291.10" width="79.7" height="1.85" fill="url(#h78)"/>
<rect x="360.0" y="292.80" width="79.7" height="1.85" fill="url(#h79)"/>
<rect x="360.0" y="294.50" width="79.7" height="1.85" fill="url(#h80)"/>
<rect x="360.00" y="228.20" width="79.70" height="68.00" fill="none" stroke="#9a9a9a" stroke-width="0.7"/>
<line x1="391.88" y1="228.20" x2="391.88" y2="296.20" stroke="#111" stroke-width="1.1" stroke-dasharray="1.6 1.1"/>
<line x1="360.0" y1="296.2" x2="360.0" y2="294.7" stroke="#555" stroke-width="0.6" />
<line x1="391.9" y1="296.2" x2="391.9" y2="294.7" stroke="#555" stroke-width="0.6" />
<line x1="423.8" y1="296.2" x2="423.8" y2="294.7" stroke="#555" stroke-width="0.6" />
<line x1="360.0" y1="237.9" x2="361.2" y2="237.9" stroke="#555" stroke-width="0.5" />
<line x1="360.0" y1="247.6" x2="361.2" y2="247.6" stroke="#555" stroke-width="0.5" />
<line x1="360.0" y1="257.3" x2="361.2" y2="257.3" stroke="#555" stroke-width="0.5" />
<line x1="360.0" y1="267.1" x2="361.2" y2="267.1" stroke="#555" stroke-width="0.5" />
<line x1="360.0" y1="276.8" x2="361.2" y2="276.8" stroke="#555" stroke-width="0.5" />
<line x1="360.0" y1="286.5" x2="361.2" y2="286.5" stroke="#555" stroke-width="0.5" />
<text x="399.9" y="207.3" font-size="12.2" text-anchor="middle" fill="#222" >Cluster 2</text>
<text x="399.9" y="223.0" font-size="12.4" text-anchor="middle" fill="#222">(<tspan font-style="italic">n</tspan> = 202)</text>
<text x="360.6" y="308.5" font-size="11.2" text-anchor="middle" fill="#222" >-1</text>
<text x="391.9" y="308.5" font-size="11.2" text-anchor="middle" fill="#222" >0</text>
<text x="423.8" y="308.5" font-size="11.2" text-anchor="middle" fill="#222" >1</text>
<rect x="461.3" y="228.20" width="80.3" height="1.85" fill="url(#h81)"/>
<rect x="461.3" y="229.90" width="80.3" height="1.85" fill="url(#h82)"/>
<rect x="461.3" y="231.60" width="80.3" height="1.85" fill="url(#h83)"/>
<rect x="461.3" y="233.30" width="80.3" height="1.85" fill="url(#h84)"/>
<rect x="461.3" y="235.00" width="80.3" height="1.85" fill="url(#h85)"/>
<rect x="461.3" y="236.70" width="80.3" height="1.85" fill="url(#h86)"/>
<rect x="461.3" y="238.40" width="80.3" height="1.85" fill="url(#h87)"/>
<rect x="461.3" y="240.10" width="80.3" height="1.85" fill="url(#h88)"/>
<rect x="461.3" y="241.80" width="80.3" height="1.85" fill="url(#h89)"/>
<rect x="461.3" y="243.50" width="80.3" height="1.85" fill="url(#h90)"/>
<rect x="461.3" y="245.20" width="80.3" height="1.85" fill="url(#h91)"/>
<rect x="461.3" y="246.90" width="80.3" height="1.85" fill="url(#h92)"/>
<rect x="461.3" y="248.60" width="80.3" height="1.85" fill="url(#h93)"/>
<rect x="461.3" y="250.30" width="80.3" height="1.85" fill="url(#h94)"/>
<rect x="461.3" y="252.00" width="80.3" height="1.85" fill="url(#h95)"/>
<rect x="461.3" y="253.70" width="80.3" height="1.85" fill="url(#h96)"/>
<rect x="461.3" y="255.40" width="80.3" height="1.85" fill="url(#h97)"/>
<rect x="461.3" y="257.10" width="80.3" height="1.85" fill="url(#h98)"/>
<rect x="461.3" y="258.80" width="80.3" height="1.85" fill="url(#h99)"/>
<rect x="461.3" y="260.50" width="80.3" height="1.85" fill="url(#h100)"/>
<rect x="461.3" y="262.20" width="80.3" height="1.85" fill="url(#h101)"/>
<rect x="461.3" y="263.90" width="80.3" height="1.85" fill="url(#h102)"/>
<rect x="461.3" y="265.60" width="80.3" height="1.85" fill="url(#h103)"/>
<rect x="461.3" y="267.30" width="80.3" height="1.85" fill="url(#h104)"/>
<rect x="461.3" y="269.00" width="80.3" height="1.85" fill="url(#h105)"/>
<rect x="461.3" y="270.70" width="80.3" height="1.85" fill="url(#h106)"/>
<rect x="461.3" y="272.40" width="80.3" height="1.85" fill="url(#h107)"/>
<rect x="461.3" y="274.10" width="80.3" height="1.85" fill="url(#h108)"/>
<rect x="461.3" y="275.80" width="80.3" height="1.85" fill="url(#h109)"/>
<rect x="461.3" y="277.50" width="80.3" height="1.85" fill="url(#h110)"/>
<rect x="461.3" y="279.20" width="80.3" height="1.85" fill="url(#h111)"/>
<rect x="461.3" y="280.90" width="80.3" height="1.85" fill="url(#h112)"/>
<rect x="461.3" y="282.60" width="80.3" height="1.85" fill="url(#h113)"/>
<rect x="461.3" y="284.30" width="80.3" height="1.85" fill="url(#h114)"/>
<rect x="461.3" y="286.00" width="80.3" height="1.85" fill="url(#h115)"/>
<rect x="461.3" y="287.70" width="80.3" height="1.85" fill="url(#h116)"/>
<rect x="461.3" y="289.40" width="80.3" height="1.85" fill="url(#h117)"/>
<rect x="461.3" y="291.10" width="80.3" height="1.85" fill="url(#h118)"/>
<rect x="461.3" y="292.80" width="80.3" height="1.85" fill="url(#h119)"/>
<rect x="461.3" y="294.50" width="80.3" height="1.85" fill="url(#h120)"/>
<rect x="461.30" y="228.20" width="80.30" height="68.00" fill="none" stroke="#9a9a9a" stroke-width="0.7"/>
<line x1="493.42" y1="228.20" x2="493.42" y2="296.20" stroke="#111" stroke-width="1.1" stroke-dasharray="1.6 1.1"/>
<line x1="461.3" y1="296.2" x2="461.3" y2="294.7" stroke="#555" stroke-width="0.6" />
<line x1="493.4" y1="296.2" x2="493.4" y2="294.7" stroke="#555" stroke-width="0.6" />
<line x1="525.5" y1="296.2" x2="525.5" y2="294.7" stroke="#555" stroke-width="0.6" />
<line x1="461.3" y1="237.9" x2="462.5" y2="237.9" stroke="#555" stroke-width="0.5" />
<line x1="461.3" y1="247.6" x2="462.5" y2="247.6" stroke="#555" stroke-width="0.5" />
<line x1="461.3" y1="257.3" x2="462.5" y2="257.3" stroke="#555" stroke-width="0.5" />
<line x1="461.3" y1="267.1" x2="462.5" y2="267.1" stroke="#555" stroke-width="0.5" />
<line x1="461.3" y1="276.8" x2="462.5" y2="276.8" stroke="#555" stroke-width="0.5" />
<line x1="461.3" y1="286.5" x2="462.5" y2="286.5" stroke="#555" stroke-width="0.5" />
<text x="501.4" y="207.3" font-size="12.2" text-anchor="middle" fill="#222" >Cluster 3</text>
<text x="501.4" y="223.0" font-size="12.4" text-anchor="middle" fill="#222">(<tspan font-style="italic">n</tspan> = 204)</text>
<text x="461.9" y="308.5" font-size="11.2" text-anchor="middle" fill="#222" >-1</text>
<text x="493.4" y="308.5" font-size="11.2" text-anchor="middle" fill="#222" >0</text>
<text x="525.5" y="308.5" font-size="11.2" text-anchor="middle" fill="#222" >1</text>
<rect x="563.2" y="228.20" width="82.1" height="1.85" fill="url(#h121)"/>
<rect x="563.2" y="229.90" width="82.1" height="1.85" fill="url(#h122)"/>
<rect x="563.2" y="231.60" width="82.1" height="1.85" fill="url(#h123)"/>
<rect x="563.2" y="233.30" width="82.1" height="1.85" fill="url(#h124)"/>
<rect x="563.2" y="235.00" width="82.1" height="1.85" fill="url(#h125)"/>
<rect x="563.2" y="236.70" width="82.1" height="1.85" fill="url(#h126)"/>
<rect x="563.2" y="238.40" width="82.1" height="1.85" fill="url(#h127)"/>
<rect x="563.2" y="240.10" width="82.1" height="1.85" fill="url(#h128)"/>
<rect x="563.2" y="241.80" width="82.1" height="1.85" fill="url(#h129)"/>
<rect x="563.2" y="243.50" width="82.1" height="1.85" fill="url(#h130)"/>
<rect x="563.2" y="245.20" width="82.1" height="1.85" fill="url(#h131)"/>
<rect x="563.2" y="246.90" width="82.1" height="1.85" fill="url(#h132)"/>
<rect x="563.2" y="248.60" width="82.1" height="1.85" fill="url(#h133)"/>
<rect x="563.2" y="250.30" width="82.1" height="1.85" fill="url(#h134)"/>
<rect x="563.2" y="252.00" width="82.1" height="1.85" fill="url(#h135)"/>
<rect x="563.2" y="253.70" width="82.1" height="1.85" fill="url(#h136)"/>
<rect x="563.2" y="255.40" width="82.1" height="1.85" fill="url(#h137)"/>
<rect x="563.2" y="257.10" width="82.1" height="1.85" fill="url(#h138)"/>
<rect x="563.2" y="258.80" width="82.1" height="1.85" fill="url(#h139)"/>
<rect x="563.2" y="260.50" width="82.1" height="1.85" fill="url(#h140)"/>
<rect x="563.2" y="262.20" width="82.1" height="1.85" fill="url(#h141)"/>
<rect x="563.2" y="263.90" width="82.1" height="1.85" fill="url(#h142)"/>
<rect x="563.2" y="265.60" width="82.1" height="1.85" fill="url(#h143)"/>
<rect x="563.2" y="267.30" width="82.1" height="1.85" fill="url(#h144)"/>
<rect x="563.2" y="269.00" width="82.1" height="1.85" fill="url(#h145)"/>
<rect x="563.2" y="270.70" width="82.1" height="1.85" fill="url(#h146)"/>
<rect x="563.2" y="272.40" width="82.1" height="1.85" fill="url(#h147)"/>
<rect x="563.2" y="274.10" width="82.1" height="1.85" fill="url(#h148)"/>
<rect x="563.2" y="275.80" width="82.1" height="1.85" fill="url(#h149)"/>
<rect x="563.2" y="277.50" width="82.1" height="1.85" fill="url(#h150)"/>
<rect x="563.2" y="279.20" width="82.1" height="1.85" fill="url(#h151)"/>
<rect x="563.2" y="280.90" width="82.1" height="1.85" fill="url(#h152)"/>
<rect x="563.2" y="282.60" width="82.1" height="1.85" fill="url(#h153)"/>
<rect x="563.2" y="284.30" width="82.1" height="1.85" fill="url(#h154)"/>
<rect x="563.2" y="286.00" width="82.1" height="1.85" fill="url(#h155)"/>
<rect x="563.2" y="287.70" width="82.1" height="1.85" fill="url(#h156)"/>
<rect x="563.2" y="289.40" width="82.1" height="1.85" fill="url(#h157)"/>
<rect x="563.2" y="291.10" width="82.1" height="1.85" fill="url(#h158)"/>
<rect x="563.2" y="292.80" width="82.1" height="1.85" fill="url(#h159)"/>
<rect x="563.2" y="294.50" width="82.1" height="1.85" fill="url(#h160)"/>
<rect x="563.20" y="228.20" width="82.10" height="68.00" fill="none" stroke="#9a9a9a" stroke-width="0.7"/>
<line x1="596.04" y1="228.20" x2="596.04" y2="296.20" stroke="#111" stroke-width="1.1" stroke-dasharray="1.6 1.1"/>
<line x1="563.2" y1="296.2" x2="563.2" y2="294.7" stroke="#555" stroke-width="0.6" />
<line x1="596.0" y1="296.2" x2="596.0" y2="294.7" stroke="#555" stroke-width="0.6" />
<line x1="628.9" y1="296.2" x2="628.9" y2="294.7" stroke="#555" stroke-width="0.6" />
<line x1="563.2" y1="237.9" x2="564.4" y2="237.9" stroke="#555" stroke-width="0.5" />
<line x1="563.2" y1="247.6" x2="564.4" y2="247.6" stroke="#555" stroke-width="0.5" />
<line x1="563.2" y1="257.3" x2="564.4" y2="257.3" stroke="#555" stroke-width="0.5" />
<line x1="563.2" y1="267.1" x2="564.4" y2="267.1" stroke="#555" stroke-width="0.5" />
<line x1="563.2" y1="276.8" x2="564.4" y2="276.8" stroke="#555" stroke-width="0.5" />
<line x1="563.2" y1="286.5" x2="564.4" y2="286.5" stroke="#555" stroke-width="0.5" />
<text x="604.2" y="207.3" font-size="12.2" text-anchor="middle" fill="#222" >Cluster 4</text>
<text x="604.2" y="223.0" font-size="12.4" text-anchor="middle" fill="#222">(<tspan font-style="italic">n</tspan> = 56)</text>
<text x="563.8" y="308.5" font-size="11.2" text-anchor="middle" fill="#222" >-1</text>
<text x="596.0" y="308.5" font-size="11.2" text-anchor="middle" fill="#222" >0</text>
<text x="628.9" y="308.5" font-size="11.2" text-anchor="middle" fill="#222" >1</text>
<rect x="652.2" y="228.2" width="3.4" height="68.3" fill="url(#cb)" stroke="#888" stroke-width="0.3"/>
<line x1="655.6" y1="231.9" x2="654.6" y2="231.9" stroke="#333" stroke-width="0.5" />
<text x="657.0" y="234.7" font-size="8" text-anchor="start" fill="#222" >2</text>
<line x1="655.6" y1="257.6" x2="654.6" y2="257.6" stroke="#333" stroke-width="0.5" />
<text x="657.0" y="260.4" font-size="8" text-anchor="start" fill="#222" >0</text>
<line x1="655.6" y1="283.3" x2="654.6" y2="283.3" stroke="#333" stroke-width="0.5" />
<text x="657.0" y="286.1" font-size="8" text-anchor="start" fill="#222" >-2</text>
<path d="M262.6 339.6C264.2 339.2 269.1 337.9 272.0 337.0C274.9 336.1 278.0 335.1 280.0 334.5C282.0 333.9 282.7 333.3 284.0 333.2C285.3 333.1 286.7 333.9 288.0 334.0C289.3 334.1 290.7 333.5 292.0 333.8C293.3 334.1 294.7 334.1 296.0 336.0C297.3 337.9 298.7 341.3 300.0 345.0C301.3 348.7 302.6 354.3 304.0 358.0C305.4 361.7 306.9 366.2 308.2 367.2C309.5 368.2 310.4 366.2 312.0 364.0C313.6 361.8 316.0 357.5 318.0 354.0C320.0 350.5 322.0 345.2 324.0 343.0C326.0 340.8 328.2 341.5 330.0 341.0C331.8 340.5 333.7 340.7 335.0 340.0C336.3 339.3 337.5 337.5 338.0 337.0" fill="none" stroke="#2848f0" stroke-width="1.1"/>
<path d="M363.6 344.0C364.3 343.0 366.6 339.2 368.0 338.0C369.4 336.8 370.5 337.1 372.0 337.0C373.5 336.9 375.3 337.8 377.0 337.5C378.7 337.2 380.5 335.1 382.0 335.0C383.5 334.9 384.8 337.8 386.0 337.0C387.2 336.2 387.9 333.1 389.0 330.0C390.1 326.9 391.3 319.2 392.5 318.5C393.7 317.8 394.8 320.8 396.0 326.0C397.2 331.2 398.6 343.4 400.0 350.0C401.4 356.6 403.1 364.2 404.6 365.5C406.1 366.8 407.4 360.4 409.0 358.0C410.6 355.6 412.2 353.2 414.0 351.0C415.8 348.8 418.0 346.5 420.0 345.0C422.0 343.5 424.3 342.0 426.0 342.0C427.7 342.0 428.7 345.5 430.0 345.0C431.3 344.5 432.5 340.2 434.0 339.0C435.5 337.8 438.1 337.8 438.9 337.6" fill="none" stroke="#a8e4a8" stroke-width="2.6" stroke-linejoin="round"/>
<path d="M363.6 344.0C364.3 343.0 366.6 339.2 368.0 338.0C369.4 336.8 370.5 337.1 372.0 337.0C373.5 336.9 375.3 337.8 377.0 337.5C378.7 337.2 380.5 335.1 382.0 335.0C383.5 334.9 384.8 337.8 386.0 337.0C387.2 336.2 387.9 333.1 389.0 330.0C390.1 326.9 391.3 319.2 392.5 318.5C393.7 317.8 394.8 320.8 396.0 326.0C397.2 331.2 398.6 343.4 400.0 350.0C401.4 356.6 403.1 364.2 404.6 365.5C406.1 366.8 407.4 360.4 409.0 358.0C410.6 355.6 412.2 353.2 414.0 351.0C415.8 348.8 418.0 346.5 420.0 345.0C422.0 343.5 424.3 342.0 426.0 342.0C427.7 342.0 428.7 345.5 430.0 345.0C431.3 344.5 432.5 340.2 434.0 339.0C435.5 337.8 438.1 337.8 438.9 337.6" fill="none" stroke="#20c020" stroke-width="1.1"/>
<path d="M464.4 337.0C465.2 336.7 467.5 335.4 469.0 335.0C470.5 334.6 472.0 334.1 473.3 334.3C474.6 334.5 475.9 335.6 477.0 336.0C478.1 336.4 479.2 337.5 480.2 337.0C481.2 336.5 482.0 334.0 483.0 333.0C484.0 332.0 484.8 330.9 486.0 330.9C487.2 330.9 488.5 331.1 490.0 333.0C491.5 334.9 493.3 338.2 495.0 342.0C496.7 345.8 498.1 351.6 500.0 356.0C501.9 360.4 504.8 368.8 506.6 368.6C508.4 368.4 509.4 360.9 511.0 355.0C512.6 349.1 514.0 339.3 516.0 333.0C518.0 326.7 520.9 318.9 522.7 317.2C524.5 315.5 525.7 321.0 527.0 323.0C528.3 325.0 529.4 329.0 530.6 329.2C531.8 329.4 532.9 325.3 534.0 324.0C535.1 322.7 536.9 321.8 537.5 321.3" fill="none" stroke="#ff40ff" stroke-width="1.1"/>
<path d="M570.1 360.0C571.2 358.9 574.6 355.3 576.9 353.2C579.2 351.1 581.8 348.1 583.8 347.3C585.8 346.6 587.2 349.7 588.9 348.7C590.6 347.7 592.6 343.3 594.1 341.2C595.6 339.1 596.6 338.0 598.0 336.0C599.4 334.0 601.4 329.9 602.7 329.2C604.0 328.5 604.9 331.1 606.0 332.0C607.1 332.9 607.9 332.3 609.5 334.3C611.1 336.3 613.6 343.3 615.4 343.9C617.1 344.5 618.4 340.1 620.0 338.0C621.6 335.9 623.6 332.3 625.0 331.6C626.4 330.9 626.7 332.9 628.4 333.6C630.1 334.3 633.2 336.7 635.2 336.0C637.2 335.3 638.4 331.5 640.4 329.2C642.4 326.9 646.1 323.4 647.3 322.3" fill="none" stroke="#c8c8c8" stroke-width="3.6" stroke-linejoin="round"/>
<path d="M570.1 360.0C571.2 358.9 574.6 355.3 576.9 353.2C579.2 351.1 581.8 348.1 583.8 347.3C585.8 346.6 587.2 349.7 588.9 348.7C590.6 347.7 592.6 343.3 594.1 341.2C595.6 339.1 596.6 338.0 598.0 336.0C599.4 334.0 601.4 329.9 602.7 329.2C604.0 328.5 604.9 331.1 606.0 332.0C607.1 332.9 607.9 332.3 609.5 334.3C611.1 336.3 613.6 343.3 615.4 343.9C617.1 344.5 618.4 340.1 620.0 338.0C621.6 335.9 623.6 332.3 625.0 331.6C626.4 330.9 626.7 332.9 628.4 333.6C630.1 334.3 633.2 336.7 635.2 336.0C637.2 335.3 638.4 331.5 640.4 329.2C642.4 326.9 646.1 323.4 647.3 322.3" fill="none" stroke="#333" stroke-width="1.1"/>
<line x1="262.6" y1="352.7" x2="262.6" y2="367.2" stroke="#3a3a3a" stroke-width="1.0" />
<line x1="262.6" y1="367.2" x2="292.1" y2="367.2" stroke="#3a3a3a" stroke-width="1.0" />
<line x1="362.6" y1="348.7" x2="362.6" y2="368.2" stroke="#3a3a3a" stroke-width="1.0" />
<line x1="362.6" y1="368.2" x2="391.2" y2="368.2" stroke="#3a3a3a" stroke-width="1.0" />
<line x1="464.8" y1="356.6" x2="464.8" y2="369.3" stroke="#3a3a3a" stroke-width="1.0" />
<line x1="464.8" y1="369.3" x2="494.6" y2="369.3" stroke="#3a3a3a" stroke-width="1.0" />
<line x1="566.0" y1="344.6" x2="566.0" y2="369.3" stroke="#3a3a3a" stroke-width="1.0" />
<line x1="566.0" y1="369.3" x2="597.5" y2="369.3" stroke="#3a3a3a" stroke-width="1.0" />
<text x="277.0" y="381.6" font-size="11" text-anchor="middle" fill="#222" >1 s</text>
<text x="0" y="0" font-size="12" fill="#222" text-anchor="middle" transform="translate(256,349) rotate(-90)">0.5 z-score</text>
<text x="0.0" y="405.0" font-size="18" text-anchor="start" font-weight="bold" fill="#000" >e</text>
<text x="0" y="0" font-size="12.2" fill="#222" text-anchor="middle" transform="translate(17.5,488) rotate(-90)">Proportion of quadrats (%)</text>
<rect x="44.80" y="534.53" width="2.30" height="0.87" fill="#b4b4b4" />
<rect x="51.74" y="530.32" width="2.30" height="5.08" fill="#b4b4b4" />
<rect x="56.38" y="533.37" width="2.30" height="2.03" fill="#000" />
<rect x="58.68" y="533.37" width="2.30" height="2.03" fill="#b4b4b4" />
<rect x="63.32" y="518.00" width="2.30" height="17.40" fill="#000" />
<rect x="65.62" y="531.92" width="2.30" height="3.48" fill="#b4b4b4" />
<rect x="70.26" y="477.98" width="2.30" height="57.42" fill="#000" />
<rect x="72.56" y="512.20" width="2.30" height="23.20" fill="#b4b4b4" />
<rect x="77.20" y="438.54" width="2.30" height="96.86" fill="#000" />
<rect x="79.50" y="501.47" width="2.30" height="33.93" fill="#b4b4b4" />
<rect x="84.14" y="468.12" width="2.30" height="67.28" fill="#000" />
<rect x="86.44" y="486.97" width="2.30" height="48.43" fill="#b4b4b4" />
<rect x="91.08" y="500.31" width="2.30" height="35.09" fill="#000" />
<rect x="93.38" y="497.12" width="2.30" height="38.28" fill="#b4b4b4" />
<rect x="98.02" y="529.02" width="2.30" height="6.38" fill="#000" />
<rect x="100.32" y="486.39" width="2.30" height="49.01" fill="#b4b4b4" />
<rect x="104.96" y="533.08" width="2.30" height="2.32" fill="#000" />
<rect x="107.26" y="483.78" width="2.30" height="51.62" fill="#b4b4b4" />
<rect x="111.90" y="528.73" width="2.30" height="6.67" fill="#000" />
<rect x="114.20" y="499.73" width="2.30" height="35.67" fill="#b4b4b4" />
<line x1="41.5" y1="433.2" x2="41.5" y2="535.4" stroke="#262626" stroke-width="0.8" />
<line x1="41.5" y1="535.4" x2="117.4" y2="535.4" stroke="#262626" stroke-width="0.8" />
<line x1="39.0" y1="535.4" x2="41.5" y2="535.4" stroke="#262626" stroke-width="0.7" />
<text x="38.3" y="539.0" font-size="10.4" text-anchor="end" fill="#222" >0</text>
<line x1="39.0" y1="506.4" x2="41.5" y2="506.4" stroke="#262626" stroke-width="0.7" />
<text x="38.3" y="510.0" font-size="10.4" text-anchor="end" fill="#222" >10</text>
<line x1="39.0" y1="477.4" x2="41.5" y2="477.4" stroke="#262626" stroke-width="0.7" />
<text x="38.3" y="481.0" font-size="10.4" text-anchor="end" fill="#222" >20</text>
<line x1="39.0" y1="448.4" x2="41.5" y2="448.4" stroke="#262626" stroke-width="0.7" />
<text x="38.3" y="452.0" font-size="10.4" text-anchor="end" fill="#222" >30</text>
<line x1="40.0" y1="520.9" x2="41.5" y2="520.9" stroke="#262626" stroke-width="0.6" />
<line x1="40.0" y1="491.9" x2="41.5" y2="491.9" stroke="#262626" stroke-width="0.6" />
<line x1="40.0" y1="462.9" x2="41.5" y2="462.9" stroke="#262626" stroke-width="0.6" />
<line x1="40.0" y1="433.9" x2="41.5" y2="433.9" stroke="#262626" stroke-width="0.6" />
<line x1="44.8" y1="535.4" x2="44.8" y2="537.9" stroke="#262626" stroke-width="0.7" />
<text x="44.8" y="549.4" font-size="11" text-anchor="middle" fill="#222" >0.0</text>
<line x1="65.6" y1="535.4" x2="65.6" y2="537.9" stroke="#262626" stroke-width="0.7" />
<text x="65.6" y="549.4" font-size="11" text-anchor="middle" fill="#222" >0.3</text>
<line x1="86.4" y1="535.4" x2="86.4" y2="537.9" stroke="#262626" stroke-width="0.7" />
<text x="86.4" y="549.4" font-size="11" text-anchor="middle" fill="#222" >0.6</text>
<line x1="107.3" y1="535.4" x2="107.3" y2="537.9" stroke="#262626" stroke-width="0.7" />
<text x="107.3" y="549.4" font-size="11" text-anchor="middle" fill="#222" >0.9</text>
<line x1="51.7" y1="535.4" x2="51.7" y2="537.9" stroke="#262626" stroke-width="0.7" />
<line x1="58.7" y1="535.4" x2="58.7" y2="537.9" stroke="#262626" stroke-width="0.7" />
<line x1="72.6" y1="535.4" x2="72.6" y2="537.9" stroke="#262626" stroke-width="0.7" />
<line x1="79.5" y1="535.4" x2="79.5" y2="537.9" stroke="#262626" stroke-width="0.7" />
<line x1="93.4" y1="535.4" x2="93.4" y2="537.9" stroke="#262626" stroke-width="0.7" />
<line x1="100.3" y1="535.4" x2="100.3" y2="537.9" stroke="#262626" stroke-width="0.7" />
<line x1="114.2" y1="535.4" x2="114.2" y2="537.9" stroke="#262626" stroke-width="0.7" />
<text x="80.6" y="417.5" font-size="12" text-anchor="middle" fill="#222" >Cluster 1</text>
<text x="80.6" y="562.9" font-size="10.9" text-anchor="middle" fill="#222" >Time to dip (s)</text>
<rect x="94.00" y="433.00" width="12.80" height="9.00" fill="#000" />
<text x="111.5" y="441.6" font-size="10" text-anchor="start" fill="#222" >R</text>
<rect x="94.00" y="447.80" width="12.80" height="8.50" fill="#b4b4b4" />
<text x="111.5" y="456.2" font-size="10" text-anchor="start" fill="#222" >NR</text>
<rect x="156.30" y="526.90" width="4.30" height="8.10" fill="#000" />
<rect x="165.23" y="516.87" width="4.30" height="18.13" fill="#000" />
<rect x="174.16" y="510.89" width="4.30" height="24.11" fill="#000" />
<rect x="183.09" y="506.84" width="4.30" height="28.16" fill="#000" />
<rect x="192.02" y="524.26" width="4.30" height="10.74" fill="#000" />
<rect x="200.95" y="531.96" width="4.30" height="3.04" fill="#000" />
<rect x="209.88" y="533.28" width="4.30" height="1.72" fill="#000" />
<rect x="218.81" y="527.30" width="4.30" height="7.70" fill="#000" />
<rect x="223.11" y="433.70" width="4.30" height="101.30" fill="#b4b4b4" />
<line x1="153.6" y1="433.7" x2="153.6" y2="535.0" stroke="#262626" stroke-width="0.8" />
<line x1="153.6" y1="535.0" x2="229.1" y2="535.0" stroke="#262626" stroke-width="0.8" />
<line x1="151.1" y1="535.0" x2="153.6" y2="535.0" stroke="#262626" stroke-width="0.7" />
<text x="150.4" y="538.6" font-size="10.4" text-anchor="end" fill="#222" >0</text>
<line x1="151.1" y1="484.4" x2="153.6" y2="484.4" stroke="#262626" stroke-width="0.7" />
<text x="150.4" y="488.0" font-size="10.4" text-anchor="end" fill="#222" >50</text>
<line x1="151.1" y1="433.7" x2="153.6" y2="433.7" stroke="#262626" stroke-width="0.7" />
<text x="150.4" y="437.3" font-size="10.4" text-anchor="end" fill="#222" >100</text>
<line x1="152.1" y1="509.7" x2="153.6" y2="509.7" stroke="#262626" stroke-width="0.6" />
<line x1="152.1" y1="459.0" x2="153.6" y2="459.0" stroke="#262626" stroke-width="0.6" />
<line x1="169.7" y1="535.0" x2="169.7" y2="537.5" stroke="#262626" stroke-width="0.7" />
<text x="169.7" y="549.0" font-size="11" text-anchor="middle" fill="#222" >0.4</text>
<line x1="196.6" y1="535.0" x2="196.6" y2="537.5" stroke="#262626" stroke-width="0.7" />
<text x="196.6" y="549.0" font-size="11" text-anchor="middle" fill="#222" >0.7</text>
<line x1="223.4" y1="535.0" x2="223.4" y2="537.5" stroke="#262626" stroke-width="0.7" />
<text x="223.4" y="549.0" font-size="11" text-anchor="middle" fill="#222" >1.0</text>
<line x1="160.7" y1="535.0" x2="160.7" y2="537.5" stroke="#262626" stroke-width="0.7" />
<line x1="178.6" y1="535.0" x2="178.6" y2="537.5" stroke="#262626" stroke-width="0.7" />
<line x1="187.6" y1="535.0" x2="187.6" y2="537.5" stroke="#262626" stroke-width="0.7" />
<line x1="205.5" y1="535.0" x2="205.5" y2="537.5" stroke="#262626" stroke-width="0.7" />
<line x1="214.5" y1="535.0" x2="214.5" y2="537.5" stroke="#262626" stroke-width="0.7" />
<text x="193.9" y="417.5" font-size="12" text-anchor="middle" fill="#222" >Cluster 2</text>
<text x="193.9" y="562.9" font-size="10.9" text-anchor="middle" fill="#222" >Time to dip (s)</text>
<rect x="263.80" y="527.22" width="2.50" height="7.58" fill="#b4b4b4" />
<rect x="270.65" y="521.66" width="2.50" height="13.14" fill="#b4b4b4" />
<rect x="275.00" y="534.46" width="2.50" height="0.34" fill="#000" />
<rect x="277.50" y="512.39" width="2.50" height="22.41" fill="#b4b4b4" />
<rect x="281.85" y="531.77" width="2.50" height="3.03" fill="#000" />
<rect x="284.35" y="517.44" width="2.50" height="17.36" fill="#b4b4b4" />
<rect x="288.70" y="445.49" width="2.50" height="89.31" fill="#000" />
<rect x="291.20" y="487.11" width="2.50" height="47.69" fill="#b4b4b4" />
<rect x="295.55" y="461.17" width="2.50" height="73.63" fill="#000" />
<rect x="298.05" y="510.20" width="2.50" height="24.60" fill="#b4b4b4" />
<rect x="302.40" y="533.45" width="2.50" height="1.35" fill="#000" />
<rect x="304.90" y="516.43" width="2.50" height="18.37" fill="#b4b4b4" />
<rect x="311.75" y="528.06" width="2.50" height="6.74" fill="#b4b4b4" />
<rect x="318.60" y="533.62" width="2.50" height="1.18" fill="#b4b4b4" />
<rect x="325.45" y="534.29" width="2.50" height="0.51" fill="#b4b4b4" />
<rect x="332.30" y="528.90" width="2.50" height="5.90" fill="#b4b4b4" />
<line x1="260.6" y1="432.6" x2="260.6" y2="534.8" stroke="#262626" stroke-width="0.8" />
<line x1="260.6" y1="534.8" x2="335.9" y2="534.8" stroke="#262626" stroke-width="0.8" />
<line x1="258.1" y1="534.8" x2="260.6" y2="534.8" stroke="#262626" stroke-width="0.7" />
<text x="257.4" y="538.4" font-size="10.4" text-anchor="end" fill="#222" >0</text>
<line x1="258.1" y1="501.1" x2="260.6" y2="501.1" stroke="#262626" stroke-width="0.7" />
<text x="257.4" y="504.7" font-size="10.4" text-anchor="end" fill="#222" >20</text>
<line x1="258.1" y1="467.4" x2="260.6" y2="467.4" stroke="#262626" stroke-width="0.7" />
<text x="257.4" y="471.0" font-size="10.4" text-anchor="end" fill="#222" >40</text>
<line x1="258.1" y1="433.7" x2="260.6" y2="433.7" stroke="#262626" stroke-width="0.7" />
<text x="257.4" y="437.3" font-size="10.4" text-anchor="end" fill="#222" >60</text>
<line x1="259.1" y1="517.9" x2="260.6" y2="517.9" stroke="#262626" stroke-width="0.6" />
<line x1="259.1" y1="484.2" x2="260.6" y2="484.2" stroke="#262626" stroke-width="0.6" />
<line x1="259.1" y1="450.5" x2="260.6" y2="450.5" stroke="#262626" stroke-width="0.6" />
<line x1="263.8" y1="534.8" x2="263.8" y2="537.3" stroke="#262626" stroke-width="0.7" />
<text x="263.8" y="548.8" font-size="11" text-anchor="middle" fill="#222" >0.0</text>
<line x1="284.4" y1="534.8" x2="284.4" y2="537.3" stroke="#262626" stroke-width="0.7" />
<text x="284.4" y="548.8" font-size="11" text-anchor="middle" fill="#222" >0.3</text>
<line x1="304.9" y1="534.8" x2="304.9" y2="537.3" stroke="#262626" stroke-width="0.7" />
<text x="304.9" y="548.8" font-size="11" text-anchor="middle" fill="#222" >0.6</text>
<line x1="325.4" y1="534.8" x2="325.4" y2="537.3" stroke="#262626" stroke-width="0.7" />
<text x="325.4" y="548.8" font-size="11" text-anchor="middle" fill="#222" >0.9</text>
<text x="299.7" y="417.5" font-size="12" text-anchor="middle" fill="#222" >Cluster 3</text>
<text x="299.7" y="562.9" font-size="10.9" text-anchor="middle" fill="#222" >Time to dip (s)</text>
<rect x="364.60" y="506.95" width="2.60" height="27.95" fill="#000" />
<rect x="367.20" y="524.37" width="2.60" height="10.53" fill="#b4b4b4" />
<rect x="371.51" y="485.08" width="2.60" height="49.81" fill="#000" />
<rect x="374.11" y="476.58" width="2.60" height="58.32" fill="#b4b4b4" />
<rect x="378.42" y="485.08" width="2.60" height="49.81" fill="#000" />
<rect x="381.02" y="507.36" width="2.60" height="27.54" fill="#b4b4b4" />
<rect x="385.33" y="477.79" width="2.60" height="57.10" fill="#000" />
<rect x="387.93" y="518.70" width="2.60" height="16.20" fill="#b4b4b4" />
<rect x="392.24" y="513.84" width="2.60" height="21.06" fill="#000" />
<rect x="394.84" y="498.85" width="2.60" height="36.05" fill="#b4b4b4" />
<rect x="401.75" y="504.52" width="2.60" height="30.38" fill="#b4b4b4" />
<rect x="406.06" y="521.13" width="2.60" height="13.77" fill="#000" />
<rect x="408.66" y="489.94" width="2.60" height="44.95" fill="#b4b4b4" />
<rect x="412.97" y="491.97" width="2.60" height="42.93" fill="#000" />
<rect x="415.57" y="444.99" width="2.60" height="89.91" fill="#b4b4b4" />
<rect x="419.88" y="463.21" width="2.60" height="71.68" fill="#000" />
<rect x="422.48" y="501.69" width="2.60" height="33.21" fill="#b4b4b4" />
<rect x="426.79" y="499.66" width="2.60" height="35.23" fill="#000" />
<rect x="429.39" y="501.69" width="2.60" height="33.21" fill="#b4b4b4" />
<rect x="433.70" y="506.95" width="2.60" height="27.95" fill="#000" />
<rect x="436.30" y="518.70" width="2.60" height="16.20" fill="#b4b4b4" />
<line x1="363.8" y1="433.0" x2="363.8" y2="534.9" stroke="#262626" stroke-width="0.8" />
<line x1="363.8" y1="534.9" x2="439.6" y2="534.9" stroke="#262626" stroke-width="0.8" />
<line x1="361.3" y1="534.9" x2="363.8" y2="534.9" stroke="#262626" stroke-width="0.7" />
<text x="360.6" y="538.5" font-size="10.4" text-anchor="end" fill="#222" >0</text>
<line x1="361.3" y1="494.4" x2="363.8" y2="494.4" stroke="#262626" stroke-width="0.7" />
<text x="360.6" y="498.0" font-size="10.4" text-anchor="end" fill="#222" >10</text>
<line x1="361.3" y1="453.9" x2="363.8" y2="453.9" stroke="#262626" stroke-width="0.7" />
<text x="360.6" y="457.5" font-size="10.4" text-anchor="end" fill="#222" >20</text>
<line x1="362.3" y1="514.6" x2="363.8" y2="514.6" stroke="#262626" stroke-width="0.6" />
<line x1="362.3" y1="474.1" x2="363.8" y2="474.1" stroke="#262626" stroke-width="0.6" />
<line x1="362.3" y1="433.6" x2="363.8" y2="433.6" stroke="#262626" stroke-width="0.6" />
<line x1="367.2" y1="534.9" x2="367.2" y2="537.4" stroke="#262626" stroke-width="0.7" />
<text x="367.2" y="548.9" font-size="11" text-anchor="middle" fill="#222" >0.0</text>
<line x1="387.9" y1="534.9" x2="387.9" y2="537.4" stroke="#262626" stroke-width="0.7" />
<text x="387.9" y="548.9" font-size="11" text-anchor="middle" fill="#222" >0.3</text>
<line x1="408.7" y1="534.9" x2="408.7" y2="537.4" stroke="#262626" stroke-width="0.7" />
<text x="408.7" y="548.9" font-size="11" text-anchor="middle" fill="#222" >0.6</text>
<line x1="429.4" y1="534.9" x2="429.4" y2="537.4" stroke="#262626" stroke-width="0.7" />
<text x="429.4" y="548.9" font-size="11" text-anchor="middle" fill="#222" >0.9</text>
<text x="403.8" y="417.5" font-size="12" text-anchor="middle" fill="#222" >Cluster 4</text>
<text x="403.8" y="562.9" font-size="10.9" text-anchor="middle" fill="#222" >Time to peak (s)</text>
<text x="460.5" y="415.2" font-size="18" text-anchor="start" font-weight="bold" fill="#000" >g</text>
<line x1="511.6" y1="432.3" x2="511.6" y2="469.0" stroke="#333" stroke-width="0.8" />
<line x1="506.1" y1="432.3" x2="517.1" y2="432.3" stroke="#333" stroke-width="0.9" />
<line x1="506.1" y1="469.0" x2="517.1" y2="469.0" stroke="#333" stroke-width="0.9" />
<rect x="501.0" y="444.0" width="21.2" height="6.6" fill="#2b2b2b" stroke="#333" stroke-width="0.7"/>
<line x1="501.0" y1="447.7" x2="522.2" y2="447.7" stroke="#777" stroke-width="0.8" />
<line x1="544.1" y1="430.8" x2="544.1" y2="538.8" stroke="#333" stroke-width="0.8" />
<line x1="538.6" y1="430.8" x2="549.6" y2="430.8" stroke="#333" stroke-width="0.9" />
<line x1="538.6" y1="538.8" x2="549.6" y2="538.8" stroke="#333" stroke-width="0.9" />
<rect x="533.9" y="440.4" width="20.5" height="6.6" fill="#c8c8c8" stroke="#333" stroke-width="0.7"/>
<line x1="533.9" y1="443.3" x2="554.4" y2="443.3" stroke="#333" stroke-width="0.8" />
<line x1="491.3" y1="428.6" x2="491.3" y2="546.1" stroke="#262626" stroke-width="0.8" />
<line x1="491.3" y1="546.1" x2="565.0" y2="546.1" stroke="#262626" stroke-width="0.8" />
<line x1="488.8" y1="428.6" x2="491.3" y2="428.6" stroke="#262626" stroke-width="0.7" />
<text x="486.0" y="432.4" font-size="10.8" text-anchor="end" fill="#222" >0</text>
<line x1="488.8" y1="458.0" x2="491.3" y2="458.0" stroke="#262626" stroke-width="0.7" />
<text x="486.0" y="461.8" font-size="10.8" text-anchor="end" fill="#222" >-2</text>
<line x1="488.8" y1="487.4" x2="491.3" y2="487.4" stroke="#262626" stroke-width="0.7" />
<text x="486.0" y="491.2" font-size="10.8" text-anchor="end" fill="#222" >-4</text>
<line x1="488.8" y1="516.7" x2="491.3" y2="516.7" stroke="#262626" stroke-width="0.7" />
<text x="486.0" y="520.5" font-size="10.8" text-anchor="end" fill="#222" >-6</text>
<line x1="488.8" y1="546.1" x2="491.3" y2="546.1" stroke="#262626" stroke-width="0.7" />
<text x="486.0" y="549.9" font-size="10.8" text-anchor="end" fill="#222" >-8</text>
<line x1="489.8" y1="443.3" x2="491.3" y2="443.3" stroke="#262626" stroke-width="0.6" />
<line x1="489.8" y1="472.7" x2="491.3" y2="472.7" stroke="#262626" stroke-width="0.6" />
<line x1="489.8" y1="502.1" x2="491.3" y2="502.1" stroke="#262626" stroke-width="0.6" />
<line x1="489.8" y1="531.4" x2="491.3" y2="531.4" stroke="#262626" stroke-width="0.6" />
<line x1="511.6" y1="546.1" x2="511.6" y2="548.6" stroke="#262626" stroke-width="0.7" />
<text x="511.6" y="559.3" font-size="10.8" text-anchor="middle" fill="#222" >R</text>
<line x1="544.1" y1="546.1" x2="544.1" y2="548.6" stroke="#262626" stroke-width="0.7" />
<text x="544.1" y="559.3" font-size="10.8" text-anchor="middle" fill="#222" >NR</text>
<line x1="511.4" y1="419.4" x2="543.8" y2="419.4" stroke="#444" stroke-width="0.9" />
<text x="527.6" y="420.0" font-size="11.8" text-anchor="middle" font-weight="bold" fill="#111" >****</text>
<text x="0" y="0" font-size="10.4" fill="#222" text-anchor="middle" transform="translate(473.5,485.5) rotate(-90)">ACh dip (z-score)</text>
<line x1="630.4" y1="451.5" x2="630.4" y2="534.3" stroke="#333" stroke-width="0.8" />
<line x1="624.9" y1="451.5" x2="635.9" y2="451.5" stroke="#333" stroke-width="0.9" />
<line x1="624.9" y1="534.3" x2="635.9" y2="534.3" stroke="#333" stroke-width="0.9" />
<rect x="619.5" y="489.3" width="21.8" height="16.1" fill="#2b2b2b" stroke="#333" stroke-width="0.7"/>
<line x1="619.5" y1="498.8" x2="641.3" y2="498.8" stroke="#777" stroke-width="0.8" />
<line x1="663.2" y1="451.5" x2="663.2" y2="543.3" stroke="#333" stroke-width="0.8" />
<line x1="657.7" y1="451.5" x2="668.7" y2="451.5" stroke="#333" stroke-width="0.9" />
<line x1="657.7" y1="543.3" x2="668.7" y2="543.3" stroke="#333" stroke-width="0.9" />
<rect x="652.3" y="463.8" width="21.8" height="38.3" fill="#c8c8c8" stroke="#333" stroke-width="0.7"/>
<line x1="652.3" y1="483.2" x2="674.1" y2="483.2" stroke="#333" stroke-width="0.8" />
<line x1="607.8" y1="427.6" x2="607.8" y2="546.1" stroke="#262626" stroke-width="0.8" />
<line x1="607.8" y1="546.1" x2="678.3" y2="546.1" stroke="#262626" stroke-width="0.8" />
<line x1="605.3" y1="546.1" x2="607.8" y2="546.1" stroke="#262626" stroke-width="0.7" />
<text x="603.8" y="549.9" font-size="10.8" text-anchor="end" fill="#222" >0.0</text>
<line x1="605.3" y1="498.8" x2="607.8" y2="498.8" stroke="#262626" stroke-width="0.7" />
<text x="603.8" y="502.6" font-size="10.8" text-anchor="end" fill="#222" >0.5</text>
<line x1="605.3" y1="451.5" x2="607.8" y2="451.5" stroke="#262626" stroke-width="0.7" />
<text x="603.8" y="455.3" font-size="10.8" text-anchor="end" fill="#222" >1.0</text>
<line x1="606.3" y1="522.5" x2="607.8" y2="522.5" stroke="#262626" stroke-width="0.6" />
<line x1="606.3" y1="475.2" x2="607.8" y2="475.2" stroke="#262626" stroke-width="0.6" />
<line x1="630.1" y1="546.1" x2="630.1" y2="548.6" stroke="#262626" stroke-width="0.7" />
<text x="630.1" y="559.3" font-size="10.8" text-anchor="middle" fill="#222" >R</text>
<line x1="663.0" y1="546.1" x2="663.0" y2="548.6" stroke="#262626" stroke-width="0.7" />
<text x="663.0" y="559.3" font-size="10.8" text-anchor="middle" fill="#222" >NR</text>
<line x1="630.1" y1="425.5" x2="663.3" y2="425.5" stroke="#444" stroke-width="0.9" />
<text x="646.8" y="425.0" font-size="11.8" text-anchor="middle" font-weight="bold" fill="#111" >****</text>
<text x="0" y="0" font-size="10.6" fill="#222" text-anchor="middle" transform="translate(585.8,487.4) rotate(-90)">Time to dip (s)</text>
<polyline points="511.6,432.3 511.6,435.6 511.6,438.9 511.6,442.3 511.6,445.6 511.6,448.9 511.6,452.3 511.6,455.6 511.6,458.9 511.6,462.3 511.6,465.6 511.6,469.0 544.1,430.8 544.1,434.1 544.1,437.4 544.1,440.7 544.1,444.0 544.1,447.3 544.1,450.6 544.1,453.9 544.1,457.2 544.1,460.6 544.1,463.9 544.1,467.2 544.1,470.5 544.1,473.8 544.1,477.1 544.1,480.7 544.1,488.1 544.1,538.8 630.4,533.8 630.4,530.4 630.4,526.9 630.4,523.5 630.4,520.1 630.4,516.7 630.4,513.2 630.4,509.8 630.4,506.4 630.4,502.9 630.4,499.5 630.4,496.1 630.4,492.7 630.4,489.2 630.4,485.8 630.4,482.4 630.4,478.9 630.4,475.5 630.4,472.1 630.4,468.6 630.4,465.2 630.4,461.8 630.4,458.4 630.4,454.9 630.4,451.5 663.2,543.3 663.2,539.9 663.2,536.5 663.2,533.1 663.2,529.7 663.2,526.3 663.2,522.9 663.2,519.5 663.2,516.1 663.2,512.7 663.2,509.3 663.2,505.9 663.2,502.5 663.2,499.1 663.2,495.7 663.2,492.3 663.2,488.9 663.2,485.5 663.2,482.1 663.2,478.7 663.2,475.3 663.2,471.9 663.2,468.5 663.2,465.2 663.2,461.8 663.2,458.4 663.2,455.0 663.2,451.6" fill="none" stroke="none" marker-start="url(#gd)" marker-mid="url(#gd)" marker-end="url(#gd)"/>
<text x="1.5" y="605.5" font-size="18.5" text-anchor="start" font-weight="bold" fill="#000" >f (i)</text>
<line x1="67.0" y1="732.0" x2="67.0" y2="613.4" stroke="#dcdcdc" stroke-width="0.6" />
<line x1="116.6" y1="723.3" x2="116.6" y2="604.7" stroke="#dcdcdc" stroke-width="0.6" />
<line x1="51.6" y1="616.1" x2="148.2" y2="599.2" stroke="#dcdcdc" stroke-width="0.6" />
<line x1="51.6" y1="655.3" x2="148.2" y2="638.4" stroke="#dcdcdc" stroke-width="0.6" />
<line x1="51.6" y1="695.1" x2="148.2" y2="678.2" stroke="#dcdcdc" stroke-width="0.6" />
<line x1="165.7" y1="721.2" x2="165.7" y2="602.6" stroke="#dcdcdc" stroke-width="0.6" />
<line x1="197.9" y1="727.4" x2="197.9" y2="608.8" stroke="#dcdcdc" stroke-width="0.6" />
<line x1="230.2" y1="733.6" x2="230.2" y2="615.0" stroke="#dcdcdc" stroke-width="0.6" />
<line x1="148.2" y1="599.2" x2="240.8" y2="617.0" stroke="#dcdcdc" stroke-width="0.6" />
<line x1="148.2" y1="638.4" x2="240.8" y2="656.2" stroke="#dcdcdc" stroke-width="0.6" />
<line x1="148.2" y1="678.2" x2="240.8" y2="696.0" stroke="#dcdcdc" stroke-width="0.6" />
<line x1="148.2" y1="717.8" x2="148.2" y2="599.2" stroke="#dcdcdc" stroke-width="0.6" />
<line x1="67.0" y1="732.0" x2="159.6" y2="749.8" stroke="#dcdcdc" stroke-width="0.6" />
<line x1="116.6" y1="723.3" x2="209.2" y2="741.1" stroke="#dcdcdc" stroke-width="0.6" />
<line x1="69.1" y1="738.1" x2="165.7" y2="721.2" stroke="#dcdcdc" stroke-width="0.6" />
<line x1="101.3" y1="744.3" x2="197.9" y2="727.4" stroke="#dcdcdc" stroke-width="0.6" />
<line x1="133.6" y1="750.5" x2="230.2" y2="733.6" stroke="#dcdcdc" stroke-width="0.6" />
<line x1="51.6" y1="734.7" x2="148.2" y2="717.8" stroke="#dcdcdc" stroke-width="0.6" />
<line x1="148.2" y1="717.8" x2="240.8" y2="735.6" stroke="#dcdcdc" stroke-width="0.6" />
<polyline points="107.7,685.3 168.6,674.9 173.5,689.4 98.7,686.4 120.1,663.1 117.5,679.1 84.3,664.2 88.9,672.4 157.1,686.5 101.4,678.4 125.0,683.4 139.4,670.6 150.7,680.7 152.3,682.2 137.5,666.6 163.4,697.1 121.4,683.2 117.8,685.9 106.2,680.6 163.6,671.8 114.9,673.8 121.7,669.9 132.2,675.8 112.1,676.9 100.7,678.2 112.2,685.7 101.8,694.6 177.6,686.1 100.3,690.1 160.2,675.6 131.7,677.1 77.9,676.8 138.3,686.0 122.7,672.0 80.6,690.5 120.8,673.4 170.7,676.7 174.8,689.6 76.4,681.9 143.9,696.2 114.3,672.1 139.3,667.8 167.3,675.9 133.6,692.2 75.5,676.3 150.8,673.6 85.7,659.7 69.9,680.9 167.8,679.3 103.7,670.6 134.7,662.9 137.4,687.9 93.1,675.7 154.6,693.8 126.1,695.3 153.0,675.5 108.5,672.6 147.0,671.6 128.2,689.1 122.1,677.2 90.8,668.5 110.9,670.6 129.3,685.5 130.5,677.4 67.7,673.6 123.8,689.4 122.7,683.8 119.5,687.3 68.1,681.3 161.2,670.0 133.7,694.2 193.4,684.1 61.6,671.5 91.5,684.5 149.8,684.6 119.4,678.8 119.0,683.3 81.6,685.5 74.1,686.3 85.3,678.0" fill="none" stroke="none" marker-start="url(#mmf)" marker-mid="url(#mmf)" marker-end="url(#mmf)"/>
<polyline points="136.8,680.7 150.6,680.5 174.0,693.7 93.8,678.6 114.3,691.5 82.4,691.9 210.8,682.3 92.5,685.9 111.3,684.8 147.8,675.5 155.6,679.1 132.7,679.8 78.1,683.8 143.5,697.0 222.8,685.2 175.2,692.7 113.5,676.7 218.4,688.6 127.1,691.1 177.9,692.2 70.0,687.3 146.0,703.9 174.4,679.6 163.2,674.7 90.0,693.0 143.4,668.5 94.3,677.1 158.6,686.2 178.8,671.6 184.8,684.4 194.0,684.8 113.4,691.4 147.2,685.5 168.4,684.2 133.7,697.3 109.9,683.2 96.3,665.5 165.7,699.4 169.1,683.0 81.2,683.1 202.7,678.7 148.5,687.7 158.5,698.0 124.1,697.7 204.7,671.6 191.8,679.7 131.7,702.9 147.0,687.9 75.7,677.7 151.3,671.6 125.5,698.3 120.7,690.2 90.0,691.3 109.3,685.6 199.4,680.0 102.8,688.1 135.3,668.6 144.8,668.3 89.2,693.0 161.6,690.6 152.0,680.9 156.4,686.8 210.0,684.2 154.9,674.7 140.0,666.4 177.7,674.3 75.2,674.5 164.0,684.2 112.7,698.3 138.4,691.8 113.5,680.8 145.0,675.0 194.4,690.3 136.4,681.5 201.1,672.7 166.6,677.0 205.6,693.5 194.5,688.9 180.7,684.2 148.3,666.6 217.2,681.3 114.1,684.5 105.2,690.8 171.8,674.8 163.9,676.6 136.9,682.5 146.6,681.5 168.3,698.9 158.7,669.4 131.2,670.1 117.4,676.1 152.8,684.0 98.7,689.9 163.9,668.5 137.1,662.8 107.2,680.6 118.8,676.7 110.2,680.2 95.7,693.8 102.5,684.4 201.4,685.8 112.1,681.3 126.0,685.7 218.2,696.5 114.6,663.4 191.8,677.5 80.4,683.1 154.5,694.7 157.2,692.5 142.1,673.2 139.9,690.7 133.2,689.1 87.1,680.6 176.4,683.1 82.0,678.2 157.2,683.1 168.4,677.2 80.7,681.6 137.9,684.2 164.1,690.6 151.5,668.4 135.9,704.7 207.7,695.8 176.2,696.5 224.5,684.1 145.4,681.1 179.8,684.2 186.4,693.7 151.8,687.2 192.4,685.0 166.3,687.1 124.0,675.3 160.6,690.6 148.2,680.7 123.0,673.4 184.9,687.9 181.4,687.1 153.9,677.6 193.1,687.4 130.0,689.1 124.5,694.8 138.4,673.3 182.4,681.7 176.9,704.5 92.3,695.0 199.7,684.7 96.6,685.1 104.5,702.8 166.6,684.0 149.9,680.5 173.3,675.8 113.6,694.3 197.8,680.3 212.4,685.4 94.1,683.1 153.0,696.1 143.4,689.7 166.7,676.6 140.9,681.5 107.7,679.3 76.2,687.9 151.1,678.3 115.7,695.9 142.5,691.8 174.0,699.7 121.7,691.5 181.0,693.6 151.0,673.2 120.4,678.6 162.1,683.2 111.8,672.1 116.8,674.6 81.5,685.7 189.7,677.4 87.9,689.3 163.5,679.3 140.9,679.0 134.9,679.3 86.0,693.0 164.0,687.4 87.9,685.5 161.7,664.7 108.2,668.5 124.3,697.6 143.7,687.3 168.3,689.8 104.4,686.3 165.9,685.6 90.2,675.9 195.1,681.9 100.2,674.7 117.5,681.8 170.5,685.1 155.4,682.4 139.2,685.1 115.1,677.0 159.4,676.4 81.6,679.6 162.7,695.2 155.1,691.5 169.5,691.3 185.8,676.9 161.3,694.1 143.2,683.9 187.3,690.2 155.2,709.1 172.6,707.7 109.7,668.9 136.6,691.3 179.2,671.0 205.8,673.7 187.0,699.3 165.3,678.3 156.6,682.4 95.7,689.7 68.0,680.8 167.8,670.8 115.7,675.3 125.1,683.5 159.3,685.3 101.1,684.2 164.6,707.4 140.2,693.1 102.4,692.7 169.8,701.6 155.0,684.8 91.0,676.1 79.2,682.4 142.2,701.7 208.5,687.9 126.6,691.5 165.1,697.2 100.3,693.9 199.6,679.2 142.5,694.5 176.3,672.4 149.9,685.2 161.8,683.7 141.8,707.4 217.0,695.7 132.5,688.0 123.9,677.1 143.8,673.6 98.1,688.7 170.5,670.1 180.4,686.8 140.7,692.8 165.4,683.3 102.3,682.2 149.4,675.3 110.5,682.3 138.3,676.8 118.3,675.2 98.3,683.0 114.6,680.4 170.1,687.4 145.5,698.1 173.4,687.8 197.9,680.4 189.5,682.1 143.4,698.2 160.9,694.5 126.8,689.6 171.0,671.9 96.0,677.4 168.5,682.6 153.1,672.8 118.8,683.3 157.5,682.3 156.8,692.9 87.5,683.0 207.1,676.2 195.2,684.6 190.9,685.1 97.7,683.6 100.1,686.3 204.4,679.4 160.9,672.9 149.5,671.6 181.7,677.6 154.9,666.1 186.5,694.4 110.0,677.7 78.0,688.8 129.0,682.2 182.1,680.7 150.0,676.9 84.6,678.2 97.9,694.7 178.7,674.1 106.7,691.7 212.2,687.0 126.0,693.5 95.1,682.1 153.2,675.9 207.1,695.4 153.2,670.0 142.7,687.7 123.7,685.7 209.9,688.4 159.2,699.1 152.1,683.1 162.4,677.3 185.5,681.2 92.1,688.5 181.6,703.9 215.2,683.5 153.3,671.9 121.5,674.0 160.7,687.7 187.3,705.3 135.3,693.4 163.1,674.9 138.8,688.8 103.7,682.6 124.7,691.6 164.5,685.1 162.5,702.9 120.9,678.8 199.7,669.4 151.3,700.0 122.6,683.3 159.6,673.7 159.6,669.6 159.7,687.7 202.7,672.0 132.5,690.8 149.6,692.9 131.3,697.0 86.6,683.0 165.9,702.8 164.7,697.5 189.5,681.3 171.4,685.0 125.1,688.9 141.1,686.8 91.8,694.4 200.4,678.0 122.0,683.3 148.9,696.2 84.6,693.7 163.3,680.4 130.7,679.8 165.5,679.9 102.2,694.7 119.8,675.3 152.4,669.5 138.5,669.8 156.9,703.0 145.1,688.7 142.1,689.2 162.9,684.1 140.3,698.0 180.0,685.5 142.8,687.9 179.8,692.9 107.3,660.8 119.3,692.9 163.5,690.1 160.8,680.5 95.7,680.9 139.7,681.5 160.0,691.7 192.2,675.7 193.8,694.4 97.6,688.7 207.7,684.2 197.3,689.6 189.5,670.7 182.6,677.3 175.8,686.7 181.2,680.7 121.8,668.8 139.5,673.9 139.9,671.6 202.8,678.7 122.1,682.7 67.1,680.1 148.3,680.0 133.8,675.0 152.6,693.3 194.3,703.2 144.9,688.1 169.2,689.6 214.6,684.3 125.6,681.5 142.9,698.2 144.1,681.4 186.1,666.2 154.8,677.4 125.6,673.3 167.8,692.8 146.3,674.7 203.8,675.7 164.4,690.1 145.2,689.3 198.3,692.9 129.3,692.5 100.2,677.2 154.8,661.9 150.5,681.8 119.5,686.5 174.0,699.0 115.9,683.9 137.0,702.6 129.2,680.5 105.3,693.6 162.9,683.4 154.4,681.8 132.6,669.7 164.7,674.5 163.1,704.5 179.9,697.2 224.4,678.5 154.2,689.3 180.3,680.9 64.9,679.7 105.8,677.8 142.9,681.4 148.0,698.9 150.0,680.5 146.3,684.4 225.8,669.0 72.7,694.8 151.2,700.8 181.3,693.9 89.3,673.7 160.1,677.7 157.6,690.1 102.7,696.8 184.5,689.6 129.6,679.5 110.2,702.5 179.6,681.5 108.3,686.8 140.4,673.5 131.0,670.6 112.3,684.0 195.2,674.3 159.5,690.6 181.6,681.9 207.6,681.7 160.3,681.8 98.4,676.4 109.8,681.7 83.7,685.9 73.2,681.2 161.1,688.7 136.4,677.5 132.9,685.3 150.1,690.4 155.8,691.2 116.8,692.4 85.5,680.7 157.6,689.4 160.3,701.9 141.0,685.0 146.7,689.1 132.7,708.4 157.8,675.2 181.3,686.2 139.5,696.3 194.2,677.4 80.7,679.5 130.2,692.2 163.6,679.7 134.0,674.3 152.3,673.5 156.6,663.9 194.0,691.5 195.5,692.5 163.2,669.5 185.6,671.0 107.1,688.9 97.3,677.5 136.4,690.8 221.1,683.6 125.8,686.3 196.6,676.7 129.7,696.9 150.9,688.7 186.1,681.8 166.2,701.7 108.7,680.9 213.5,681.4 97.4,693.4 133.0,696.4 189.6,674.4 88.4,682.6 105.0,677.6 200.3,679.8 179.8,673.9 76.9,689.7 101.0,699.5 114.3,689.7 146.7,696.8 174.9,676.8 177.6,682.0 125.1,667.2 141.5,699.9 110.6,661.1 134.4,678.9 171.7,691.3 163.6,683.5 115.3,685.2 164.4,698.6 139.6,702.8 149.8,701.7 230.5,682.5 123.4,680.0 75.9,699.9 157.8,680.7 226.5,681.6 228.2,682.4 90.2,684.9 82.6,686.3 141.8,685.7 206.9,689.1 146.4,682.1 177.6,695.1 181.1,673.9 130.0,672.3 143.9,680.5 112.5,701.1 166.0,685.6 166.8,681.5 103.2,698.5 177.1,667.9 133.1,679.9 168.7,704.9 108.8,700.9 104.3,685.2 106.7,697.2 200.1,678.0 116.4,681.3 164.7,685.8 80.2,680.8 151.4,691.5 172.8,686.9 178.9,680.7 98.5,675.9 127.0,692.0 183.9,678.5 142.1,678.7 194.6,683.9 148.1,683.1 176.0,680.3 155.9,679.8 133.1,705.3 118.5,688.7 199.1,683.3 184.5,679.7 188.0,681.7 213.3,682.2 209.4,678.9 79.7,689.5 149.1,665.4 165.9,702.4 108.5,689.7 93.2,674.7 117.3,689.0 174.9,675.8 161.7,682.6 171.9,700.3 78.6,683.5 155.2,680.3 98.7,687.9 130.7,714.2 191.2,691.3 175.4,692.6 133.7,688.8 133.0,684.4 169.2,694.2 231.2,675.6 130.0,684.0 131.3,686.1 175.8,696.7 93.2,691.3 130.0,675.0 203.9,674.3 210.6,673.9 148.4,678.8 83.7,694.1 149.9,680.6 85.6,689.6 173.2,685.5 187.4,672.9 135.9,685.8 96.2,686.9 97.4,685.2 91.5,680.0 204.0,682.5 129.8,693.6 108.8,686.6 80.7,682.2 204.2,689.0 131.3,696.3 143.5,689.1 143.6,688.9 163.0,682.0 100.7,681.8 86.2,697.6 145.5,671.1 103.0,683.3 109.0,701.2 159.2,685.6 115.5,682.0 145.6,699.8 182.1,680.2 115.8,690.1 155.6,685.5 177.6,697.5 146.4,679.7 113.9,687.8 89.9,672.3 149.3,684.6 143.6,682.3 166.5,677.6 140.0,685.8 146.2,709.5 155.0,690.4 123.7,688.8 202.5,676.9 103.6,693.2 114.0,666.6 133.3,693.6 199.9,681.4 80.9,682.7 107.4,692.1 129.4,677.3 167.8,685.1 144.1,674.6 140.0,683.3 205.5,682.9 228.1,680.3 108.3,687.2 175.1,679.8 156.0,663.6 76.5,675.8 125.4,671.2 177.9,685.5 156.5,682.5 179.7,692.8 120.4,682.1 142.4,681.9 186.8,690.4 119.5,674.1 170.7,672.8 141.6,687.2 79.3,696.0 100.8,686.0 132.2,672.7 138.2,678.8 201.7,682.2 145.9,701.8 136.5,688.8 121.6,666.5 125.3,666.9 108.2,687.2 106.0,683.3 89.0,681.0 132.8,697.9 198.7,680.4 178.8,697.6 188.5,680.0 138.0,690.3 123.2,677.6 84.5,681.8 205.4,684.6 186.4,697.2 107.3,695.7 203.3,675.9 141.1,688.1 130.3,698.9 209.5,680.4 151.0,689.2 171.6,698.7 163.3,691.9 172.8,675.6 131.6,683.4 122.6,697.9 209.0,677.6 161.7,693.3 156.5,696.1 188.1,687.3 101.3,689.2 161.7,691.0 127.9,682.1 158.0,677.8 164.3,681.6 176.5,694.8 169.9,682.9 181.3,681.5 147.6,679.2 110.1,666.1 169.1,687.9 96.7,685.8 166.9,691.4 168.4,704.5 200.8,685.1 136.4,666.8 162.8,675.8 184.6,698.5 95.8,682.1 101.3,692.8 87.4,678.7 151.4,676.4 190.8,690.0 86.2,680.4 165.5,687.4 198.3,683.4 202.5,684.6 203.4,673.4 167.9,691.5 115.2,689.9 125.1,683.6 187.0,680.2 201.3,683.7 210.1,676.9 127.6,673.1 150.2,679.3 163.5,690.1 111.0,691.0 148.7,674.1 200.5,677.7 143.4,691.4 153.6,689.7 148.5,689.0 214.9,695.7 169.1,671.3 112.0,673.9 151.7,698.7 179.9,688.2 87.7,680.8 82.2,685.6 187.8,684.0 107.8,698.8 192.8,680.2 168.6,682.8 196.4,688.3 70.2,695.0 144.8,681.1 126.6,681.9 131.6,675.0 177.6,695.4 182.9,689.5 149.6,671.0 189.9,683.6 145.3,670.6 190.0,679.6 183.9,677.7 96.6,680.3 99.2,676.6 219.3,678.6 134.9,690.5 159.9,690.5 90.1,670.1 192.9,690.0 169.5,682.5 137.6,688.9 117.5,687.1 160.9,680.5 77.9,673.3 88.2,689.6 192.4,666.6 129.6,695.4 165.3,691.3 108.3,676.6 138.1,688.1 218.5,683.8 143.3,677.5 146.3,687.0 206.6,693.9 124.5,677.2 189.6,693.6 220.1,690.4 163.6,680.3 138.0,694.5 151.1,682.3 155.9,686.0 132.6,682.6 127.3,680.5 95.8,678.4 134.5,695.0 130.5,685.1 106.9,672.3 129.5,691.3 82.6,687.8 100.4,677.8 113.9,687.4 158.2,672.3 198.2,683.1 97.4,672.7 111.8,678.1 144.3,677.8 147.8,684.1 189.8,684.1 209.0,674.1 161.8,686.8 131.5,675.6 112.8,681.2 163.5,692.2 162.2,704.7 159.0,670.5 159.7,690.3 184.2,688.1 215.3,675.2 121.9,683.0 108.9,684.8 171.4,675.5 227.3,690.8 124.6,673.5 111.2,694.1 177.4,683.8 124.2,680.8 153.6,692.2 113.4,688.6 113.2,672.6 167.0,691.3 137.6,678.4 216.6,688.0 165.5,690.6 145.0,675.0 136.4,701.1 109.9,675.4 110.5,690.1 150.0,693.8 135.8,682.5 195.6,692.9 162.5,704.6 174.9,674.3 176.5,687.7 134.6,695.3 110.9,677.4 183.7,672.5 177.6,677.7 124.9,668.1 175.7,683.3 132.9,701.1 132.0,673.0 185.2,675.7 155.5,688.5 140.6,698.6 150.8,687.2 210.4,678.5 178.4,704.0 201.5,682.8 155.7,681.1 71.2,677.7 133.0,680.1 145.4,689.8 134.5,677.8 173.2,689.2 156.6,669.7 121.9,682.8 104.3,686.4 154.0,668.6 154.5,671.3 190.5,693.8 123.2,680.5 220.3,682.6 210.6,681.5 106.3,679.0 134.8,676.6 143.7,679.7 148.5,682.3 166.3,685.9 72.9,680.2 149.1,688.9 188.6,688.0 150.1,673.4 137.0,677.8 148.4,698.2 168.5,676.4 165.9,671.7 118.2,702.4 179.9,676.2 166.4,686.0 171.3,688.3 108.9,673.8 113.7,682.0 184.0,679.3 106.0,695.8 154.8,696.1 186.3,689.4 89.9,672.9 121.7,707.9 210.8,692.3 157.3,695.7 72.3,680.3 84.0,684.8 176.7,673.3 133.1,680.4 209.3,686.8 159.7,686.5 92.2,698.0 181.4,680.5 188.8,658.8 167.6,673.3 116.3,679.2 155.8,672.4 206.1,693.8 106.3,682.0 201.4,692.6 179.3,685.4 124.7,686.4 164.1,677.3 118.0,680.0 131.1,681.3 212.7,679.0 163.2,700.2 109.4,685.7 112.8,682.7 149.8,670.9 161.8,690.1 129.5,673.1 112.3,679.8 125.9,680.0 128.2,690.5 161.6,698.5 205.2,683.8 121.3,677.2 174.6,690.2 210.7,673.7 123.2,697.2 85.9,688.8 158.2,688.2 143.1,675.8 157.8,697.9 146.7,698.2 179.9,693.3 164.2,678.5 123.7,688.9 104.6,679.1 96.7,675.7 93.8,694.9 95.6,677.7 172.2,693.7 133.5,695.7 184.7,677.1 164.0,690.3 129.1,694.2 146.2,682.6 90.9,686.5 175.8,680.2 147.8,685.2 121.6,678.4 109.6,679.6 123.5,703.4 142.8,694.9 155.5,684.8 210.7,673.0 145.7,669.9 128.3,696.4 120.0,681.5 149.3,677.0 149.4,694.6 151.2,692.0 80.6,688.0 126.6,688.9 145.8,672.9 156.5,688.4 126.4,666.5 163.5,668.5 171.5,689.5 141.7,693.9 105.8,695.7 180.9,662.5 114.1,698.3 96.5,679.2 159.6,680.0 141.9,681.6 90.5,683.7 180.8,674.4 152.5,672.5 186.1,686.6 167.0,680.3 127.5,682.3 200.1,671.4 138.9,696.9 175.5,681.3 189.0,689.6 78.3,688.6 79.1,688.2 215.5,694.5 94.1,685.6 135.7,680.2 120.5,670.6 101.1,689.5 120.1,685.5 135.6,674.2 202.7,685.9 145.1,685.7 123.4,671.2 150.7,677.1 136.8,674.6 130.0,680.5 187.6,668.8 107.3,688.8 156.2,673.0 138.5,698.7 119.6,674.4 214.4,676.4 123.3,677.8 111.2,690.0 166.7,690.4 193.4,692.9 156.4,685.1 145.1,699.8 182.1,676.8 176.1,681.5 160.6,689.3 165.3,682.5 112.2,692.4 113.9,703.2 166.3,702.4 146.1,683.1 157.1,671.7 101.5,694.8 201.6,689.6 90.5,675.3 202.9,680.9 176.4,698.4 170.1,677.0 160.3,669.3 103.9,680.7 177.5,669.0 189.1,672.7 147.9,656.3 197.0,679.9 195.2,693.5 140.1,677.9 175.5,695.7 145.0,669.3 108.3,684.4 97.3,696.0 162.3,690.7 196.9,672.0 141.5,685.6 92.2,680.6 156.9,691.8 203.4,678.3 141.4,694.5 94.9,686.1 163.2,692.0 203.1,687.0 153.8,688.7 201.0,689.2 170.8,690.7 175.3,674.1 157.9,653.3 130.7,688.4 108.9,689.0 121.6,676.9 151.5,688.7 150.9,668.1 139.1,691.0 140.5,699.9 82.1,685.9 127.1,689.1 183.5,683.5 127.4,676.2 142.4,679.9 224.6,680.3 126.1,674.2 151.9,685.2 95.6,681.8 220.3,688.9 189.2,684.7 73.1,683.1 107.4,694.1 158.3,672.5 169.2,707.2 143.0,689.6 122.4,695.9 103.7,688.1 194.2,698.0 134.7,682.8 105.3,685.6 138.2,688.0 151.5,689.6 176.3,689.2 145.3,674.8 174.5,699.5 201.1,665.8 129.0,699.0 163.7,674.5 144.5,686.0 148.8,664.2 168.1,687.4 134.8,686.2 116.9,699.7 147.6,667.5 171.3,687.7 151.1,667.3 189.7,677.6 162.6,684.0 152.7,681.9 175.0,672.7 165.0,687.2 187.7,675.6 158.7,702.1 81.3,684.3 103.0,694.5 204.5,678.6 140.1,678.7 114.9,695.8 185.4,688.2 108.0,673.3 116.4,671.1 202.8,690.4 199.0,704.8 108.1,692.5 141.0,685.2 217.5,688.2 176.4,680.9 155.0,684.5 88.4,687.3 126.8,677.0 165.1,677.1 127.2,690.6 142.9,691.5 143.9,686.0 151.5,691.8 156.8,670.5 135.0,704.2 150.4,672.1 210.0,692.7 166.1,691.2 181.7,677.2 152.1,699.1 176.0,685.3 215.8,682.9 91.0,679.3 134.7,668.0 125.9,684.8 119.4,688.7 117.5,692.6 168.0,654.7 172.3,683.2 184.0,683.5 193.6,688.4 205.6,682.2 196.5,685.2 107.3,690.0 211.9,683.0 120.3,684.2 158.7,677.2 142.0,686.8 106.3,688.2 178.3,669.0 214.8,673.8 81.9,695.1 178.0,688.1 177.6,686.4 121.6,674.7 85.7,679.1 217.3,686.1 129.5,674.0 116.3,694.6 199.1,679.5 116.1,678.9 106.8,682.9 129.2,669.4 157.7,682.3 113.7,680.7 185.7,675.8 192.8,683.7 107.8,690.7 190.3,674.2 122.3,682.8 199.7,686.4 98.5,698.2 141.7,673.6 93.4,697.3 144.6,682.8 170.7,674.0 138.8,679.6 165.4,681.5 159.7,696.4 98.5,699.8 174.7,684.2 190.6,696.5 143.7,688.7 151.4,667.6 197.5,671.3 144.6,697.4 181.5,689.4 146.7,684.3 101.8,673.1 197.9,685.9 140.0,677.0 198.7,688.3 185.8,689.7 157.3,664.2 135.3,669.3 154.9,663.0 160.7,692.4 141.4,685.8 185.3,676.1 114.1,684.0 106.5,701.7 98.4,669.9 112.2,684.8 94.0,683.5 165.9,692.2 178.5,682.2 170.0,673.4 92.6,683.5 132.9,690.3 113.2,689.5 169.2,691.5 177.9,690.6 81.0,690.5 149.7,683.1 159.7,675.6 113.2,681.6 119.3,695.4 209.6,681.5 126.9,677.6 125.2,681.2 151.1,682.6 80.0,695.3 148.0,673.0 126.1,697.7 198.2,675.1 90.4,702.4 67.9,689.7 173.8,679.0 172.5,697.9 94.5,677.5 126.7,681.9 183.2,686.1 144.1,670.9 150.9,672.0 149.3,667.9 182.5,673.3 152.4,680.5 107.7,673.4 139.4,689.3 161.5,697.2 75.1,680.9 160.2,671.2 132.0,690.0 178.8,670.6 147.7,681.9 194.1,679.3 96.7,693.4 74.3,673.8 136.7,671.6 74.3,679.2 144.4,682.1 164.2,670.8 146.1,691.4 137.4,693.5 145.8,683.2 170.6,674.8 121.3,678.1 100.0,694.9 159.8,684.3 150.2,679.2 171.4,691.7 109.8,694.0 155.1,697.5 117.0,699.2 98.2,687.4 157.6,697.1 206.0,677.0 193.1,676.1 158.7,688.5 176.1,676.5 107.1,673.5 165.4,666.0 120.3,693.0 137.1,696.3 100.4,684.5 149.1,698.5 120.7,703.9 179.6,682.4 146.9,683.7 161.4,695.8 201.2,684.9 173.1,671.1 157.7,697.4 180.7,681.5 111.3,682.8 116.4,688.5 176.6,674.1 157.5,686.0 177.3,686.5 160.5,670.7 105.3,694.3 174.1,687.9 72.5,683.5 156.5,681.4 171.5,671.6 79.6,682.5 91.9,695.9 183.0,696.8 142.1,697.4 102.2,702.5 91.7,701.0 112.4,703.2 124.5,703.6 119.2,699.8 101.3,708.9 120.9,701.3 108.4,695.2 138.8,683.8 90.5,704.3 101.5,706.7 84.7,697.9 85.5,703.9 114.5,686.5 149.2,703.2 95.5,696.1 153.8,693.8 159.2,687.8 118.7,693.4 162.6,710.4 134.4,702.8 129.9,691.8 121.7,690.4 146.2,704.5 107.2,702.1 100.9,705.5 125.6,700.7 121.3,712.2 133.0,693.4 118.4,704.7 141.7,697.5 89.6,698.9 92.7,703.9 149.9,722.2 149.2,702.2 137.0,685.2 89.1,693.6 125.0,694.2 151.7,701.7 141.6,704.2 76.3,707.8 97.2,695.3 112.2,693.8 109.9,701.3 99.4,702.1 104.1,714.0 89.4,691.8 149.2,694.6 81.1,707.5 99.0,691.3 123.5,698.4 89.9,695.6 109.8,701.4 106.2,693.1 104.7,701.5 122.4,692.4 139.5,690.8 131.0,689.9 130.7,692.4 112.6,696.4 140.1,707.0 139.4,711.1 114.7,682.8 148.9,705.9 106.0,694.8 154.3,691.1 142.3,700.8 114.6,696.3 116.5,700.4 156.5,701.8 108.1,719.2 123.3,701.3 100.5,688.3 134.5,682.2 98.6,705.4 104.3,700.0 93.4,695.0 170.2,706.1 104.2,692.5 92.2,703.0 118.8,713.4 104.0,697.7 130.1,710.7 112.8,692.6 164.0,709.6 88.8,693.0 88.7,711.2 131.8,700.8 78.0,712.2 161.0,700.3" fill="none" stroke="none" marker-start="url(#mbf)" marker-mid="url(#mbf)" marker-end="url(#mbf)"/>
<polyline points="145.9,679.6 107.8,693.9 86.4,666.1 100.6,680.7 98.0,679.0 162.0,687.9 177.0,683.3 121.2,693.1 76.0,684.3 100.8,683.7 187.3,686.3 121.3,668.5 105.2,684.0 85.7,683.0 171.9,687.6 151.1,678.4 121.0,675.0 78.0,680.6 147.1,684.4 123.2,672.8 146.5,674.5 145.2,699.2 128.3,674.0 80.2,672.9 143.6,667.9 116.8,669.8 114.8,671.4 177.6,676.1 141.0,678.9 170.5,686.1 144.6,671.7 181.2,694.0 87.8,679.9 135.1,699.5 144.8,692.1 126.5,682.7 150.2,669.7 187.0,674.2 86.4,672.3 62.2,678.3 130.8,687.8 73.5,680.2 158.7,677.9 120.2,680.7 68.7,672.0 166.5,688.1 149.2,676.3 128.6,683.0 133.2,694.4 174.7,682.0 138.1,676.5 158.9,683.8 166.3,692.2 74.2,674.6 146.3,672.9 173.5,685.2 172.3,676.5 148.3,695.7 94.5,690.3 130.0,670.1 131.5,687.0 88.4,687.4 112.1,688.4 71.7,689.0 142.2,674.5 158.6,682.7 65.5,685.9 87.4,686.2 103.8,671.7 146.7,670.2" fill="none" stroke="none" marker-start="url(#mmf2)" marker-mid="url(#mmf2)" marker-end="url(#mmf2)"/>
<polyline points="178.2,670.6 169.0,657.2 95.2,661.1 154.2,667.2 122.6,684.8 128.4,664.7 139.3,669.7 172.1,670.3 88.5,668.2 168.9,658.3 94.5,661.7 142.0,666.3 115.4,662.6 139.8,652.2 137.5,664.5 89.7,674.0 121.7,662.4 153.7,669.2 176.5,671.5 86.9,659.2 117.3,653.0 128.3,652.4 159.0,664.7 126.9,658.5 157.8,669.9 183.6,659.4 110.3,675.2 116.3,659.7 86.8,673.9 125.4,648.9 124.3,655.4 132.0,658.5 117.9,658.7 135.6,655.8 116.9,666.2 179.7,670.0 64.0,667.3 154.4,658.6 133.7,659.0 167.0,667.0 94.0,662.8 165.6,659.5 185.4,656.4 122.0,667.1 64.9,663.7 89.3,663.0 165.1,665.9 153.3,663.3 173.2,671.3 120.6,652.8 141.2,650.0 121.9,666.1 165.3,663.8 128.6,659.3 92.7,666.6 77.9,668.4 132.5,672.8 108.0,666.2 140.6,671.5 92.9,662.0 136.2,666.3 135.7,657.8 138.7,662.8 109.6,665.5 107.8,660.6 115.7,665.5 94.9,667.5 139.2,655.5 176.8,658.7 157.0,660.7 126.0,665.1 94.6,675.3 143.5,663.7 137.0,663.0 82.4,660.2 93.9,672.6 121.9,671.8 103.0,660.2 102.7,657.7 158.4,672.9 99.1,663.9 167.4,658.0 95.7,676.3 111.9,664.5 121.3,676.5 92.8,666.4 116.1,659.5 178.7,666.6 139.8,652.7 159.6,677.3 113.8,665.4 137.5,656.4 114.1,669.7 113.2,655.9 130.7,680.8 151.5,655.0 133.6,658.6 156.2,668.3 106.1,658.7 133.3,666.0 168.1,665.5 83.4,668.1 121.0,676.0 131.3,670.3 99.2,670.2 133.3,668.1 141.8,658.3 92.8,671.9 92.6,665.7 101.4,665.9 162.9,669.3 105.2,663.2 148.3,662.7 136.4,663.0 152.6,663.0 153.5,666.8 106.6,661.4 153.4,658.1 165.3,665.4 173.8,670.1 137.9,665.8 82.8,668.6 112.1,657.9 93.9,665.9 178.8,663.8 95.2,659.8 185.6,661.6 94.5,665.3 104.6,660.9 121.3,676.9 161.2,664.6 110.6,654.2 134.5,665.5 148.2,665.0 65.6,663.7 119.5,662.4 142.8,656.5 163.1,670.2 136.2,674.5 180.3,664.7 167.8,664.6 153.4,666.5 117.1,662.2 124.5,658.7 139.6,671.0 134.7,654.2 126.9,658.9 113.1,675.1 152.2,661.1 127.8,660.8 81.7,664.3 82.8,667.9 131.8,652.5 126.6,658.0 124.3,658.8 81.2,672.2 159.3,665.4 132.1,652.0 135.9,671.5 147.6,675.0 89.8,663.3 146.9,665.0 125.5,661.1 89.4,666.7 128.9,661.2 88.0,657.8 168.8,663.0 132.3,666.0 174.2,665.8 126.1,666.8" fill="none" stroke="none" marker-start="url(#mgf)" marker-mid="url(#mgf)" marker-end="url(#mgf)"/>
<polyline points="148.3,646.2 159.3,658.3 130.5,658.1 144.2,659.0 114.8,657.3 137.4,656.5 137.6,658.9 110.2,642.8 112.6,647.5 123.0,658.1 152.4,645.2 158.4,659.0 147.7,668.9 119.2,661.2 169.0,645.3 149.4,653.5 154.2,635.2 167.2,675.8 112.7,638.3 94.2,654.9 136.6,670.3 151.8,660.4 116.0,648.7 110.9,643.1 134.4,655.6 97.6,647.1 120.6,670.0 110.5,650.9 90.4,652.9 142.7,650.5 146.8,650.4 123.3,665.0 152.2,654.8 89.2,640.7 141.3,656.6 162.9,650.2 122.6,624.9 159.1,685.5 119.3,635.3 155.3,658.3 148.7,667.1 118.2,634.8 113.2,654.4 121.4,653.2 112.3,666.9 126.1,651.9 163.6,661.3 106.0,652.8 141.5,657.8 117.4,652.5 137.7,668.5 87.6,637.6 118.9,653.5 144.0,667.3 132.7,656.9 127.0,664.0 125.5,663.6 142.5,658.3 130.4,662.3 137.5,656.7" fill="none" stroke="none" marker-start="url(#mkf)" marker-mid="url(#mkf)" marker-end="url(#mkf)"/>
<line x1="51.6" y1="616.1" x2="51.6" y2="734.7" stroke="#262626" stroke-width="0.8" />
<line x1="51.6" y1="734.7" x2="144.2" y2="752.5" stroke="#262626" stroke-width="0.8" />
<line x1="144.2" y1="752.5" x2="240.8" y2="735.6" stroke="#262626" stroke-width="0.8" />
<line x1="51.6" y1="616.1" x2="53.8" y2="616.1" stroke="#262626" stroke-width="0.7" />
<text x="46.5" y="620.1" font-size="11" text-anchor="end" fill="#222" >1</text>
<line x1="51.6" y1="655.3" x2="53.8" y2="655.3" stroke="#262626" stroke-width="0.7" />
<text x="46.5" y="659.3" font-size="11" text-anchor="end" fill="#222" >0</text>
<line x1="51.6" y1="695.1" x2="53.8" y2="695.1" stroke="#262626" stroke-width="0.7" />
<text x="46.5" y="699.1" font-size="11" text-anchor="end" fill="#222" >-1</text>
<line x1="51.6" y1="734.7" x2="53.8" y2="734.7" stroke="#262626" stroke-width="0.7" />
<text x="46.5" y="738.7" font-size="11" text-anchor="end" fill="#222" >-2</text>
<line x1="69.1" y1="738.1" x2="67.9" y2="735.9" stroke="#262626" stroke-width="0.7" />
<text x="59.0" y="751.5" font-size="12" text-anchor="middle" fill="#222" >1</text>
<line x1="101.3" y1="744.3" x2="100.1" y2="742.1" stroke="#262626" stroke-width="0.7" />
<text x="87.5" y="758.2" font-size="12" text-anchor="middle" fill="#222" >1.5</text>
<line x1="133.6" y1="750.5" x2="132.4" y2="748.3" stroke="#262626" stroke-width="0.7" />
<text x="125.3" y="764.6" font-size="12" text-anchor="middle" fill="#222" >2</text>
<line x1="159.6" y1="749.8" x2="160.9" y2="747.6" stroke="#262626" stroke-width="0.7" />
<text x="173.4" y="763.4" font-size="12" text-anchor="middle" fill="#222" >0.5</text>
<line x1="209.2" y1="741.1" x2="210.5" y2="738.9" stroke="#262626" stroke-width="0.7" />
<text x="217.6" y="754.7" font-size="12" text-anchor="middle" fill="#222" >1</text>
<text x="0" y="0" font-size="12" fill="#222" text-anchor="middle" transform="translate(79.8,778) rotate(11.5)">Mediolateral (mm)</text>
<text x="0" y="0" font-size="12" fill="#222" text-anchor="middle" transform="translate(200.5,779) rotate(-10.5)">Anteroposterior (mm)</text>
<text x="0" y="0" font-size="12" fill="#222" text-anchor="middle" transform="translate(28.6,676.4) rotate(-90)">Mean ACh (z)</text>
<text x="274.0" y="603.7" font-size="18" text-anchor="start" font-weight="bold" fill="#000" >ii</text>
<text x="0" y="0" font-size="12.3" fill="#222" text-anchor="middle" transform="translate(295,689.6) rotate(-90)">Proportion of quadrats (%)</text>
<path d="M322.3 646.5L324.3 645.2L326.3 644.3L331.5 644.3L336.1 639.7L340.7 641.2L345.3 640.3L349.9 637.0L354.5 636.4L359.8 641.6L364.4 643.6L369.6 645.6L374.2 647.3L378.8 648.2L382.8 648.9L387.4 653.9L387.4 655.4L322.3 655.4Z" fill="#9dabf7"/>
<path d="M322.3 636.0C333.2 637.3 376.5 642.3 387.4 643.6" fill="none" stroke="#8a8a8a" stroke-width="0.7"/>
<path d="M322.3 640.3C333.2 641.5 376.5 646.1 387.4 647.3" fill="none" stroke="#c4c4c4" stroke-width="0.7"/>
<path d="M322.3 644.3C328.5 644.6 348.3 644.9 359.1 646.0C370.0 647.1 382.7 650.0 387.4 650.8" fill="none" stroke="#8a8a8a" stroke-width="0.7"/>
<path d="M322.3 646.5L324.3 645.2L326.3 644.3L331.5 644.3L336.1 639.7L340.7 641.2L345.3 640.3L349.9 637.0L354.5 636.4L359.8 641.6L364.4 643.6L369.6 645.6L374.2 647.3L378.8 648.2L382.8 648.9L387.4 653.9" fill="none" stroke="#1f3fff" stroke-width="1.5" stroke-linejoin="round"/>
<line x1="317.1" y1="603.1" x2="317.1" y2="655.4" stroke="#262626" stroke-width="0.8" />
<line x1="317.1" y1="655.4" x2="387.6" y2="655.4" stroke="#262626" stroke-width="0.8" />
<line x1="314.9" y1="655.4" x2="317.1" y2="655.4" stroke="#262626" stroke-width="0.7" />
<text x="314.3" y="658.8" font-size="9.5" text-anchor="end" fill="#222" >0</text>
<line x1="314.9" y1="637.9" x2="317.1" y2="637.9" stroke="#262626" stroke-width="0.7" />
<text x="314.3" y="641.3" font-size="9.5" text-anchor="end" fill="#222" >10</text>
<line x1="314.9" y1="620.5" x2="317.1" y2="620.5" stroke="#262626" stroke-width="0.7" />
<text x="314.3" y="623.9" font-size="9.5" text-anchor="end" fill="#222" >20</text>
<line x1="314.9" y1="603.0" x2="317.1" y2="603.0" stroke="#262626" stroke-width="0.7" />
<text x="314.3" y="606.4" font-size="9.5" text-anchor="end" fill="#222" >30</text>
<line x1="315.8" y1="646.7" x2="317.1" y2="646.7" stroke="#262626" stroke-width="0.6" />
<line x1="315.8" y1="629.2" x2="317.1" y2="629.2" stroke="#262626" stroke-width="0.6" />
<line x1="315.8" y1="611.8" x2="317.1" y2="611.8" stroke="#262626" stroke-width="0.6" />
<line x1="322.3" y1="655.4" x2="322.3" y2="657.6" stroke="#262626" stroke-width="0.7" />
<text x="322.3" y="666.9" font-size="9.5" text-anchor="middle" fill="#222" >0.8</text>
<line x1="340.9" y1="655.4" x2="340.9" y2="657.6" stroke="#262626" stroke-width="0.7" />
<text x="340.9" y="666.9" font-size="9.5" text-anchor="middle" fill="#222" >1.2</text>
<line x1="359.6" y1="655.4" x2="359.6" y2="657.6" stroke="#262626" stroke-width="0.7" />
<text x="359.6" y="666.9" font-size="9.5" text-anchor="middle" fill="#222" >1.6</text>
<line x1="378.2" y1="655.4" x2="378.2" y2="657.6" stroke="#262626" stroke-width="0.7" />
<text x="378.2" y="666.9" font-size="9.5" text-anchor="middle" fill="#222" >2.0</text>
<line x1="331.6" y1="655.4" x2="331.6" y2="656.7" stroke="#262626" stroke-width="0.6" />
<line x1="350.2" y1="655.4" x2="350.2" y2="656.7" stroke="#262626" stroke-width="0.6" />
<line x1="368.9" y1="655.4" x2="368.9" y2="656.7" stroke="#262626" stroke-width="0.6" />
<line x1="387.6" y1="655.4" x2="387.6" y2="656.7" stroke="#262626" stroke-width="0.6" />
<path d="M417.7 649.8L422.1 641.5L426.4 635.9L431.1 641.5L435.7 632.0L440.1 635.9L445.3 628.7L449.1 632.5L454.3 646.2L458.1 650.6L462.5 649.3L465.9 651.3L469.7 651.9L473.6 651.9L478.0 653.4L478.0 655.4L417.7 655.4Z" fill="#8ee88e"/>
<path d="M417.7 627.4C422.5 628.8 436.5 633.5 446.5 635.9C456.6 638.2 472.7 640.6 478.0 641.5" fill="none" stroke="#8a8a8a" stroke-width="0.7"/>
<path d="M417.7 636.4C427.7 638.6 467.9 647.6 478.0 649.8" fill="none" stroke="#c4c4c4" stroke-width="0.7"/>
<path d="M417.7 644.1C420.3 644.2 426.7 643.7 433.7 644.6C440.6 645.6 453.0 648.1 459.4 649.8C465.9 651.5 470.2 654.1 472.3 654.9" fill="none" stroke="#8a8a8a" stroke-width="0.7"/>
<path d="M417.7 649.8L422.1 641.5L426.4 635.9L431.1 641.5L435.7 632.0L440.1 635.9L445.3 628.7L449.1 632.5L454.3 646.2L458.1 650.6L462.5 649.3L465.9 651.3L469.7 651.9L473.6 651.9L478.0 653.4" fill="none" stroke="#14c814" stroke-width="1.5" stroke-linejoin="round"/>
<line x1="412.6" y1="603.1" x2="412.6" y2="655.4" stroke="#262626" stroke-width="0.8" />
<line x1="412.6" y1="655.4" x2="483.1" y2="655.4" stroke="#262626" stroke-width="0.8" />
<line x1="410.4" y1="655.4" x2="412.6" y2="655.4" stroke="#262626" stroke-width="0.7" />
<text x="409.8" y="658.8" font-size="9.5" text-anchor="end" fill="#222" >0</text>
<line x1="410.4" y1="637.9" x2="412.6" y2="637.9" stroke="#262626" stroke-width="0.7" />
<text x="409.8" y="641.3" font-size="9.5" text-anchor="end" fill="#222" >10</text>
<line x1="410.4" y1="620.5" x2="412.6" y2="620.5" stroke="#262626" stroke-width="0.7" />
<text x="409.8" y="623.9" font-size="9.5" text-anchor="end" fill="#222" >20</text>
<line x1="410.4" y1="603.0" x2="412.6" y2="603.0" stroke="#262626" stroke-width="0.7" />
<text x="409.8" y="606.4" font-size="9.5" text-anchor="end" fill="#222" >30</text>
<line x1="411.3" y1="646.7" x2="412.6" y2="646.7" stroke="#262626" stroke-width="0.6" />
<line x1="411.3" y1="629.2" x2="412.6" y2="629.2" stroke="#262626" stroke-width="0.6" />
<line x1="411.3" y1="611.8" x2="412.6" y2="611.8" stroke="#262626" stroke-width="0.6" />
<line x1="417.8" y1="655.4" x2="417.8" y2="657.6" stroke="#262626" stroke-width="0.7" />
<text x="417.8" y="666.9" font-size="9.5" text-anchor="middle" fill="#222" >0.8</text>
<line x1="436.4" y1="655.4" x2="436.4" y2="657.6" stroke="#262626" stroke-width="0.7" />
<text x="436.4" y="666.9" font-size="9.5" text-anchor="middle" fill="#222" >1.2</text>
<line x1="455.1" y1="655.4" x2="455.1" y2="657.6" stroke="#262626" stroke-width="0.7" />
<text x="455.1" y="666.9" font-size="9.5" text-anchor="middle" fill="#222" >1.6</text>
<line x1="473.8" y1="655.4" x2="473.8" y2="657.6" stroke="#262626" stroke-width="0.7" />
<text x="473.8" y="666.9" font-size="9.5" text-anchor="middle" fill="#222" >2.0</text>
<line x1="427.1" y1="655.4" x2="427.1" y2="656.7" stroke="#262626" stroke-width="0.6" />
<line x1="445.8" y1="655.4" x2="445.8" y2="656.7" stroke="#262626" stroke-width="0.6" />
<line x1="464.4" y1="655.4" x2="464.4" y2="656.7" stroke="#262626" stroke-width="0.6" />
<line x1="483.1" y1="655.4" x2="483.1" y2="656.7" stroke="#262626" stroke-width="0.6" />
<path d="M527.1 632.8L531.7 632.5L536.3 634.4L540.3 636.8L545.5 633.5L551.0 632.2L555.3 630.1L559.3 643.0L563.9 654.3L570.0 654.0L578.6 652.8L578.6 655.4L527.1 655.4Z" fill="#f8a8f8"/>
<path d="M527.1 620.6C535.7 624.9 570.0 642.3 578.6 646.6" fill="none" stroke="#8a8a8a" stroke-width="0.7"/>
<path d="M527.1 627.6C533.8 631.1 558.4 643.9 567.0 648.2C575.6 652.5 576.7 652.5 578.6 653.4" fill="none" stroke="#c4c4c4" stroke-width="0.7"/>
<path d="M527.1 635.0C531.2 636.4 545.5 640.6 551.6 643.6C557.8 646.5 561.9 651.2 563.9 652.8" fill="none" stroke="#8a8a8a" stroke-width="0.7"/>
<path d="M527.1 632.8L531.7 632.5L536.3 634.4L540.3 636.8L545.5 633.5L551.0 632.2L555.3 630.1L559.3 643.0L563.9 654.3L570.0 654.0L578.6 652.8" fill="none" stroke="#f020f0" stroke-width="1.5" stroke-linejoin="round"/>
<line x1="512.4" y1="603.1" x2="512.4" y2="655.4" stroke="#262626" stroke-width="0.8" />
<line x1="512.4" y1="655.4" x2="582.9" y2="655.4" stroke="#262626" stroke-width="0.8" />
<line x1="510.2" y1="655.4" x2="512.4" y2="655.4" stroke="#262626" stroke-width="0.7" />
<text x="509.6" y="658.8" font-size="9.5" text-anchor="end" fill="#222" >0</text>
<line x1="510.2" y1="637.9" x2="512.4" y2="637.9" stroke="#262626" stroke-width="0.7" />
<text x="509.6" y="641.3" font-size="9.5" text-anchor="end" fill="#222" >10</text>
<line x1="510.2" y1="620.5" x2="512.4" y2="620.5" stroke="#262626" stroke-width="0.7" />
<text x="509.6" y="623.9" font-size="9.5" text-anchor="end" fill="#222" >20</text>
<line x1="510.2" y1="603.0" x2="512.4" y2="603.0" stroke="#262626" stroke-width="0.7" />
<text x="509.6" y="606.4" font-size="9.5" text-anchor="end" fill="#222" >30</text>
<line x1="511.1" y1="646.7" x2="512.4" y2="646.7" stroke="#262626" stroke-width="0.6" />
<line x1="511.1" y1="629.2" x2="512.4" y2="629.2" stroke="#262626" stroke-width="0.6" />
<line x1="511.1" y1="611.8" x2="512.4" y2="611.8" stroke="#262626" stroke-width="0.6" />
<line x1="517.6" y1="655.4" x2="517.6" y2="657.6" stroke="#262626" stroke-width="0.7" />
<text x="517.6" y="666.9" font-size="9.5" text-anchor="middle" fill="#222" >0.8</text>
<line x1="536.2" y1="655.4" x2="536.2" y2="657.6" stroke="#262626" stroke-width="0.7" />
<text x="536.2" y="666.9" font-size="9.5" text-anchor="middle" fill="#222" >1.2</text>
<line x1="554.9" y1="655.4" x2="554.9" y2="657.6" stroke="#262626" stroke-width="0.7" />
<text x="554.9" y="666.9" font-size="9.5" text-anchor="middle" fill="#222" >1.6</text>
<line x1="573.6" y1="655.4" x2="573.6" y2="657.6" stroke="#262626" stroke-width="0.7" />
<text x="573.6" y="666.9" font-size="9.5" text-anchor="middle" fill="#222" >2.0</text>
<line x1="526.9" y1="655.4" x2="526.9" y2="656.7" stroke="#262626" stroke-width="0.6" />
<line x1="545.5" y1="655.4" x2="545.5" y2="656.7" stroke="#262626" stroke-width="0.6" />
<line x1="564.2" y1="655.4" x2="564.2" y2="656.7" stroke="#262626" stroke-width="0.6" />
<line x1="582.9" y1="655.4" x2="582.9" y2="656.7" stroke="#262626" stroke-width="0.6" />
<path d="M629.8 649.7L639.0 609.2L643.6 643.0L658.0 624.6L662.0 650.3L662.0 655.4L629.8 655.4Z" fill="#d0d0d0"/>
<path d="M629.8 608.3C632.9 610.4 642.8 619.9 648.2 620.6C653.6 621.2 659.7 613.7 662.0 612.3" fill="none" stroke="#8a8a8a" stroke-width="0.7"/>
<path d="M629.8 631.9C635.2 632.4 656.6 634.5 662.0 635.0" fill="none" stroke="#c4c4c4" stroke-width="0.7"/>
<path d="M629.8 654.3C632.1 652.9 638.2 645.9 643.6 646.0C649.0 646.2 658.9 653.7 662.0 655.2" fill="none" stroke="#8a8a8a" stroke-width="0.7"/>
<path d="M629.8 649.7L639.0 609.2L643.6 643.0L658.0 624.6L662.0 650.3" fill="none" stroke="#333" stroke-width="1.5" stroke-linejoin="round"/>
<line x1="609.9" y1="603.1" x2="609.9" y2="655.4" stroke="#262626" stroke-width="0.8" />
<line x1="609.9" y1="655.4" x2="680.4" y2="655.4" stroke="#262626" stroke-width="0.8" />
<line x1="607.7" y1="655.4" x2="609.9" y2="655.4" stroke="#262626" stroke-width="0.7" />
<text x="607.1" y="658.8" font-size="9.5" text-anchor="end" fill="#222" >0</text>
<line x1="607.7" y1="637.9" x2="609.9" y2="637.9" stroke="#262626" stroke-width="0.7" />
<text x="607.1" y="641.3" font-size="9.5" text-anchor="end" fill="#222" >10</text>
<line x1="607.7" y1="620.5" x2="609.9" y2="620.5" stroke="#262626" stroke-width="0.7" />
<text x="607.1" y="623.9" font-size="9.5" text-anchor="end" fill="#222" >20</text>
<line x1="607.7" y1="603.0" x2="609.9" y2="603.0" stroke="#262626" stroke-width="0.7" />
<text x="607.1" y="606.4" font-size="9.5" text-anchor="end" fill="#222" >30</text>
<line x1="608.6" y1="646.7" x2="609.9" y2="646.7" stroke="#262626" stroke-width="0.6" />
<line x1="608.6" y1="629.2" x2="609.9" y2="629.2" stroke="#262626" stroke-width="0.6" />
<line x1="608.6" y1="611.8" x2="609.9" y2="611.8" stroke="#262626" stroke-width="0.6" />
<line x1="615.1" y1="655.4" x2="615.1" y2="657.6" stroke="#262626" stroke-width="0.7" />
<text x="615.1" y="666.9" font-size="9.5" text-anchor="middle" fill="#222" >0.8</text>
<line x1="633.8" y1="655.4" x2="633.8" y2="657.6" stroke="#262626" stroke-width="0.7" />
<text x="633.8" y="666.9" font-size="9.5" text-anchor="middle" fill="#222" >1.2</text>
<line x1="652.4" y1="655.4" x2="652.4" y2="657.6" stroke="#262626" stroke-width="0.7" />
<text x="652.4" y="666.9" font-size="9.5" text-anchor="middle" fill="#222" >1.6</text>
<line x1="671.1" y1="655.4" x2="671.1" y2="657.6" stroke="#262626" stroke-width="0.7" />
<text x="671.1" y="666.9" font-size="9.5" text-anchor="middle" fill="#222" >2.0</text>
<line x1="624.4" y1="655.4" x2="624.4" y2="656.7" stroke="#262626" stroke-width="0.6" />
<line x1="643.0" y1="655.4" x2="643.0" y2="656.7" stroke="#262626" stroke-width="0.6" />
<line x1="661.7" y1="655.4" x2="661.7" y2="656.7" stroke="#262626" stroke-width="0.6" />
<line x1="680.4" y1="655.4" x2="680.4" y2="656.7" stroke="#262626" stroke-width="0.6" />
<path d="M324.0 759.8L330.9 753.2L336.8 740.1L343.4 736.8L349.3 735.7L355.2 735.7L361.1 737.4L367.0 738.1L374.9 740.7L380.8 751.9L380.8 763.7L324.0 763.7Z" fill="#9dabf7"/>
<path d="M324.0 735.9C326.6 736.1 333.6 737.7 339.4 737.4C345.3 737.2 352.2 736.2 359.1 734.4C366.0 732.7 377.2 728.2 380.8 726.9" fill="none" stroke="#8a8a8a" stroke-width="0.7"/>
<path d="M324.0 747.6C333.5 746.0 371.3 739.9 380.8 738.4" fill="none" stroke="#c4c4c4" stroke-width="0.7"/>
<path d="M324.0 757.8C328.8 756.4 345.2 750.8 352.6 749.3C359.9 747.7 363.6 748.3 368.3 748.4C373.0 748.4 378.7 749.4 380.8 749.7" fill="none" stroke="#8a8a8a" stroke-width="0.7"/>
<path d="M324.0 759.8L330.9 753.2L336.8 740.1L343.4 736.8L349.3 735.7L355.2 735.7L361.1 737.4L367.0 738.1L374.9 740.7L380.8 751.9" fill="none" stroke="#1f3fff" stroke-width="1.5" stroke-linejoin="round"/>
<line x1="317.1" y1="711.2" x2="317.1" y2="763.7" stroke="#262626" stroke-width="0.8" />
<line x1="317.1" y1="763.7" x2="387.6" y2="763.7" stroke="#262626" stroke-width="0.8" />
<line x1="314.9" y1="763.7" x2="317.1" y2="763.7" stroke="#262626" stroke-width="0.7" />
<text x="314.3" y="767.1" font-size="9.5" text-anchor="end" fill="#222" >0</text>
<line x1="314.9" y1="742.7" x2="317.1" y2="742.7" stroke="#262626" stroke-width="0.7" />
<text x="314.3" y="746.1" font-size="9.5" text-anchor="end" fill="#222" >10</text>
<line x1="314.9" y1="721.7" x2="317.1" y2="721.7" stroke="#262626" stroke-width="0.7" />
<text x="314.3" y="725.1" font-size="9.5" text-anchor="end" fill="#222" >20</text>
<line x1="315.8" y1="753.2" x2="317.1" y2="753.2" stroke="#262626" stroke-width="0.6" />
<line x1="315.8" y1="732.2" x2="317.1" y2="732.2" stroke="#262626" stroke-width="0.6" />
<line x1="315.8" y1="711.2" x2="317.1" y2="711.2" stroke="#262626" stroke-width="0.6" />
<line x1="324.0" y1="763.7" x2="324.0" y2="765.9" stroke="#262626" stroke-width="0.7" />
<text x="324.0" y="775.2" font-size="9.5" text-anchor="middle" fill="#222" >0.4</text>
<line x1="349.4" y1="763.7" x2="349.4" y2="765.9" stroke="#262626" stroke-width="0.7" />
<text x="349.4" y="775.2" font-size="9.5" text-anchor="middle" fill="#222" >0.8</text>
<line x1="374.9" y1="763.7" x2="374.9" y2="765.9" stroke="#262626" stroke-width="0.7" />
<text x="374.9" y="775.2" font-size="9.5" text-anchor="middle" fill="#222" >1.2</text>
<line x1="336.7" y1="763.7" x2="336.7" y2="765.0" stroke="#262626" stroke-width="0.6" />
<line x1="362.1" y1="763.7" x2="362.1" y2="765.0" stroke="#262626" stroke-width="0.6" />
<line x1="387.6" y1="763.7" x2="387.6" y2="765.0" stroke="#262626" stroke-width="0.6" />
<path d="M419.5 756.2L423.4 749.8L427.2 743.4L432.4 736.9L438.3 730.5L444.0 737.4L450.4 738.5L456.9 731.8L463.3 744.1L469.7 745.2L469.7 763.7L419.5 763.7Z" fill="#8ee88e"/>
<path d="M419.5 731.8C424.6 732.3 442.0 735.9 450.4 734.8C458.8 733.8 466.5 726.9 469.7 725.3" fill="none" stroke="#8a8a8a" stroke-width="0.7"/>
<path d="M419.5 744.1C427.9 743.0 461.4 738.5 469.7 737.4" fill="none" stroke="#c4c4c4" stroke-width="0.7"/>
<path d="M419.5 755.7C424.6 754.1 442.0 747.1 450.4 745.9C458.8 744.7 466.5 748.1 469.7 748.5" fill="none" stroke="#8a8a8a" stroke-width="0.7"/>
<path d="M419.5 756.2L423.4 749.8L427.2 743.4L432.4 736.9L438.3 730.5L444.0 737.4L450.4 738.5L456.9 731.8L463.3 744.1L469.7 745.2" fill="none" stroke="#14c814" stroke-width="1.5" stroke-linejoin="round"/>
<line x1="412.6" y1="711.2" x2="412.6" y2="763.7" stroke="#262626" stroke-width="0.8" />
<line x1="412.6" y1="763.7" x2="483.1" y2="763.7" stroke="#262626" stroke-width="0.8" />
<line x1="410.4" y1="763.7" x2="412.6" y2="763.7" stroke="#262626" stroke-width="0.7" />
<text x="409.8" y="767.1" font-size="9.5" text-anchor="end" fill="#222" >0</text>
<line x1="410.4" y1="742.7" x2="412.6" y2="742.7" stroke="#262626" stroke-width="0.7" />
<text x="409.8" y="746.1" font-size="9.5" text-anchor="end" fill="#222" >10</text>
<line x1="410.4" y1="721.7" x2="412.6" y2="721.7" stroke="#262626" stroke-width="0.7" />
<text x="409.8" y="725.1" font-size="9.5" text-anchor="end" fill="#222" >20</text>
<line x1="411.3" y1="753.2" x2="412.6" y2="753.2" stroke="#262626" stroke-width="0.6" />
<line x1="411.3" y1="732.2" x2="412.6" y2="732.2" stroke="#262626" stroke-width="0.6" />
<line x1="411.3" y1="711.2" x2="412.6" y2="711.2" stroke="#262626" stroke-width="0.6" />
<line x1="419.5" y1="763.7" x2="419.5" y2="765.9" stroke="#262626" stroke-width="0.7" />
<text x="419.5" y="775.2" font-size="9.5" text-anchor="middle" fill="#222" >0.4</text>
<line x1="444.9" y1="763.7" x2="444.9" y2="765.9" stroke="#262626" stroke-width="0.7" />
<text x="444.9" y="775.2" font-size="9.5" text-anchor="middle" fill="#222" >0.8</text>
<line x1="470.4" y1="763.7" x2="470.4" y2="765.9" stroke="#262626" stroke-width="0.7" />
<text x="470.4" y="775.2" font-size="9.5" text-anchor="middle" fill="#222" >1.2</text>
<line x1="432.2" y1="763.7" x2="432.2" y2="765.0" stroke="#262626" stroke-width="0.6" />
<line x1="457.6" y1="763.7" x2="457.6" y2="765.0" stroke="#262626" stroke-width="0.6" />
<line x1="483.1" y1="763.7" x2="483.1" y2="765.0" stroke="#262626" stroke-width="0.6" />
<path d="M519.5 734.0L525.6 740.1L531.7 735.5L537.8 730.6L542.4 732.5L547.0 735.5L551.6 736.5L557.2 740.1L563.9 747.8L570.0 763.7L576.2 762.5L576.2 763.7L519.5 763.7Z" fill="#f8a8f8"/>
<path d="M519.5 718.7C528.9 723.4 566.7 742.4 576.2 747.2" fill="none" stroke="#8a8a8a" stroke-width="0.7"/>
<path d="M519.5 728.8C528.9 733.5 566.7 752.3 576.2 757.0" fill="none" stroke="#c4c4c4" stroke-width="0.7"/>
<path d="M519.5 738.6C524.8 740.0 543.2 743.0 551.6 747.2C560.1 751.4 567.0 761.0 570.0 763.7" fill="none" stroke="#8a8a8a" stroke-width="0.7"/>
<path d="M519.5 734.0L525.6 740.1L531.7 735.5L537.8 730.6L542.4 732.5L547.0 735.5L551.6 736.5L557.2 740.1L563.9 747.8L570.0 763.7L576.2 762.5" fill="none" stroke="#f020f0" stroke-width="1.5" stroke-linejoin="round"/>
<line x1="512.4" y1="711.2" x2="512.4" y2="763.7" stroke="#262626" stroke-width="0.8" />
<line x1="512.4" y1="763.7" x2="582.9" y2="763.7" stroke="#262626" stroke-width="0.8" />
<line x1="510.2" y1="763.7" x2="512.4" y2="763.7" stroke="#262626" stroke-width="0.7" />
<text x="509.6" y="767.1" font-size="9.5" text-anchor="end" fill="#222" >0</text>
<line x1="510.2" y1="742.7" x2="512.4" y2="742.7" stroke="#262626" stroke-width="0.7" />
<text x="509.6" y="746.1" font-size="9.5" text-anchor="end" fill="#222" >10</text>
<line x1="510.2" y1="721.7" x2="512.4" y2="721.7" stroke="#262626" stroke-width="0.7" />
<text x="509.6" y="725.1" font-size="9.5" text-anchor="end" fill="#222" >20</text>
<line x1="511.1" y1="753.2" x2="512.4" y2="753.2" stroke="#262626" stroke-width="0.6" />
<line x1="511.1" y1="732.2" x2="512.4" y2="732.2" stroke="#262626" stroke-width="0.6" />
<line x1="511.1" y1="711.2" x2="512.4" y2="711.2" stroke="#262626" stroke-width="0.6" />
<line x1="519.3" y1="763.7" x2="519.3" y2="765.9" stroke="#262626" stroke-width="0.7" />
<text x="519.3" y="775.2" font-size="9.5" text-anchor="middle" fill="#222" >0.4</text>
<line x1="544.8" y1="763.7" x2="544.8" y2="765.9" stroke="#262626" stroke-width="0.7" />
<text x="544.8" y="775.2" font-size="9.5" text-anchor="middle" fill="#222" >0.8</text>
<line x1="570.2" y1="763.7" x2="570.2" y2="765.9" stroke="#262626" stroke-width="0.7" />
<text x="570.2" y="775.2" font-size="9.5" text-anchor="middle" fill="#222" >1.2</text>
<line x1="532.0" y1="763.7" x2="532.0" y2="765.0" stroke="#262626" stroke-width="0.6" />
<line x1="557.5" y1="763.7" x2="557.5" y2="765.0" stroke="#262626" stroke-width="0.6" />
<line x1="582.9" y1="763.7" x2="582.9" y2="765.0" stroke="#262626" stroke-width="0.6" />
<path d="M617.6 737.1L623.7 741.7L629.8 737.1L635.9 752.4L643.0 718.7L649.1 718.7L655.9 740.1L662.0 756.4L668.1 760.1L668.1 763.7L617.6 763.7Z" fill="#d0d0d0"/>
<path d="M617.6 711.6C622.4 714.6 638.2 727.0 646.7 729.4C655.1 731.9 664.6 726.9 668.1 726.3" fill="none" stroke="#8a8a8a" stroke-width="0.7"/>
<path d="M617.6 734.0C626.0 736.3 659.7 745.5 668.1 747.8" fill="none" stroke="#c4c4c4" stroke-width="0.7"/>
<path d="M617.6 754.9C620.9 754.2 630.6 749.7 637.5 750.9C644.4 752.0 655.4 759.8 658.9 761.6" fill="none" stroke="#8a8a8a" stroke-width="0.7"/>
<path d="M617.6 737.1L623.7 741.7L629.8 737.1L635.9 752.4L643.0 718.7L649.1 718.7L655.9 740.1L662.0 756.4L668.1 760.1" fill="none" stroke="#333" stroke-width="1.5" stroke-linejoin="round"/>
<line x1="609.9" y1="711.2" x2="609.9" y2="763.7" stroke="#262626" stroke-width="0.8" />
<line x1="609.9" y1="763.7" x2="680.4" y2="763.7" stroke="#262626" stroke-width="0.8" />
<line x1="607.7" y1="763.7" x2="609.9" y2="763.7" stroke="#262626" stroke-width="0.7" />
<text x="607.1" y="767.1" font-size="9.5" text-anchor="end" fill="#222" >0</text>
<line x1="607.7" y1="742.7" x2="609.9" y2="742.7" stroke="#262626" stroke-width="0.7" />
<text x="607.1" y="746.1" font-size="9.5" text-anchor="end" fill="#222" >10</text>
<line x1="607.7" y1="721.7" x2="609.9" y2="721.7" stroke="#262626" stroke-width="0.7" />
<text x="607.1" y="725.1" font-size="9.5" text-anchor="end" fill="#222" >20</text>
<line x1="608.6" y1="753.2" x2="609.9" y2="753.2" stroke="#262626" stroke-width="0.6" />
<line x1="608.6" y1="732.2" x2="609.9" y2="732.2" stroke="#262626" stroke-width="0.6" />
<line x1="608.6" y1="711.2" x2="609.9" y2="711.2" stroke="#262626" stroke-width="0.6" />
<line x1="616.8" y1="763.7" x2="616.8" y2="765.9" stroke="#262626" stroke-width="0.7" />
<text x="616.8" y="775.2" font-size="9.5" text-anchor="middle" fill="#222" >0.4</text>
<line x1="642.2" y1="763.7" x2="642.2" y2="765.9" stroke="#262626" stroke-width="0.7" />
<text x="642.2" y="775.2" font-size="9.5" text-anchor="middle" fill="#222" >0.8</text>
<line x1="667.7" y1="763.7" x2="667.7" y2="765.9" stroke="#262626" stroke-width="0.7" />
<text x="667.7" y="775.2" font-size="9.5" text-anchor="middle" fill="#222" >1.2</text>
<line x1="629.5" y1="763.7" x2="629.5" y2="765.0" stroke="#262626" stroke-width="0.6" />
<line x1="655.0" y1="763.7" x2="655.0" y2="765.0" stroke="#262626" stroke-width="0.6" />
<line x1="680.4" y1="763.7" x2="680.4" y2="765.0" stroke="#262626" stroke-width="0.6" />
<text x="442.8" y="619.6" font-size="13" text-anchor="middle" font-weight="bold" fill="#111" >*</text>
<text x="545.5" y="618.3" font-size="13" text-anchor="middle" font-weight="bold" fill="#111" >***</text>
<text x="545.5" y="726.6" font-size="13" text-anchor="middle" font-weight="bold" fill="#111" >**</text>
<line x1="326.3" y1="681.8" x2="440.6" y2="681.8" stroke="#444" stroke-width="0.8" />
<line x1="556.7" y1="681.8" x2="669.7" y2="681.8" stroke="#444" stroke-width="0.8" />
<text x="499.0" y="685.6" font-size="12.3" text-anchor="middle" fill="#222" >Mediolateral (mm)</text>
<line x1="326.3" y1="788.5" x2="427.0" y2="788.5" stroke="#444" stroke-width="0.8" />
<line x1="569.5" y1="788.5" x2="669.7" y2="788.5" stroke="#666" stroke-width="0.8" />
<text x="498.8" y="792.4" font-size="12.3" text-anchor="middle" fill="#222" >Anteroposterior (mm)</text>
</svg></body></html>
